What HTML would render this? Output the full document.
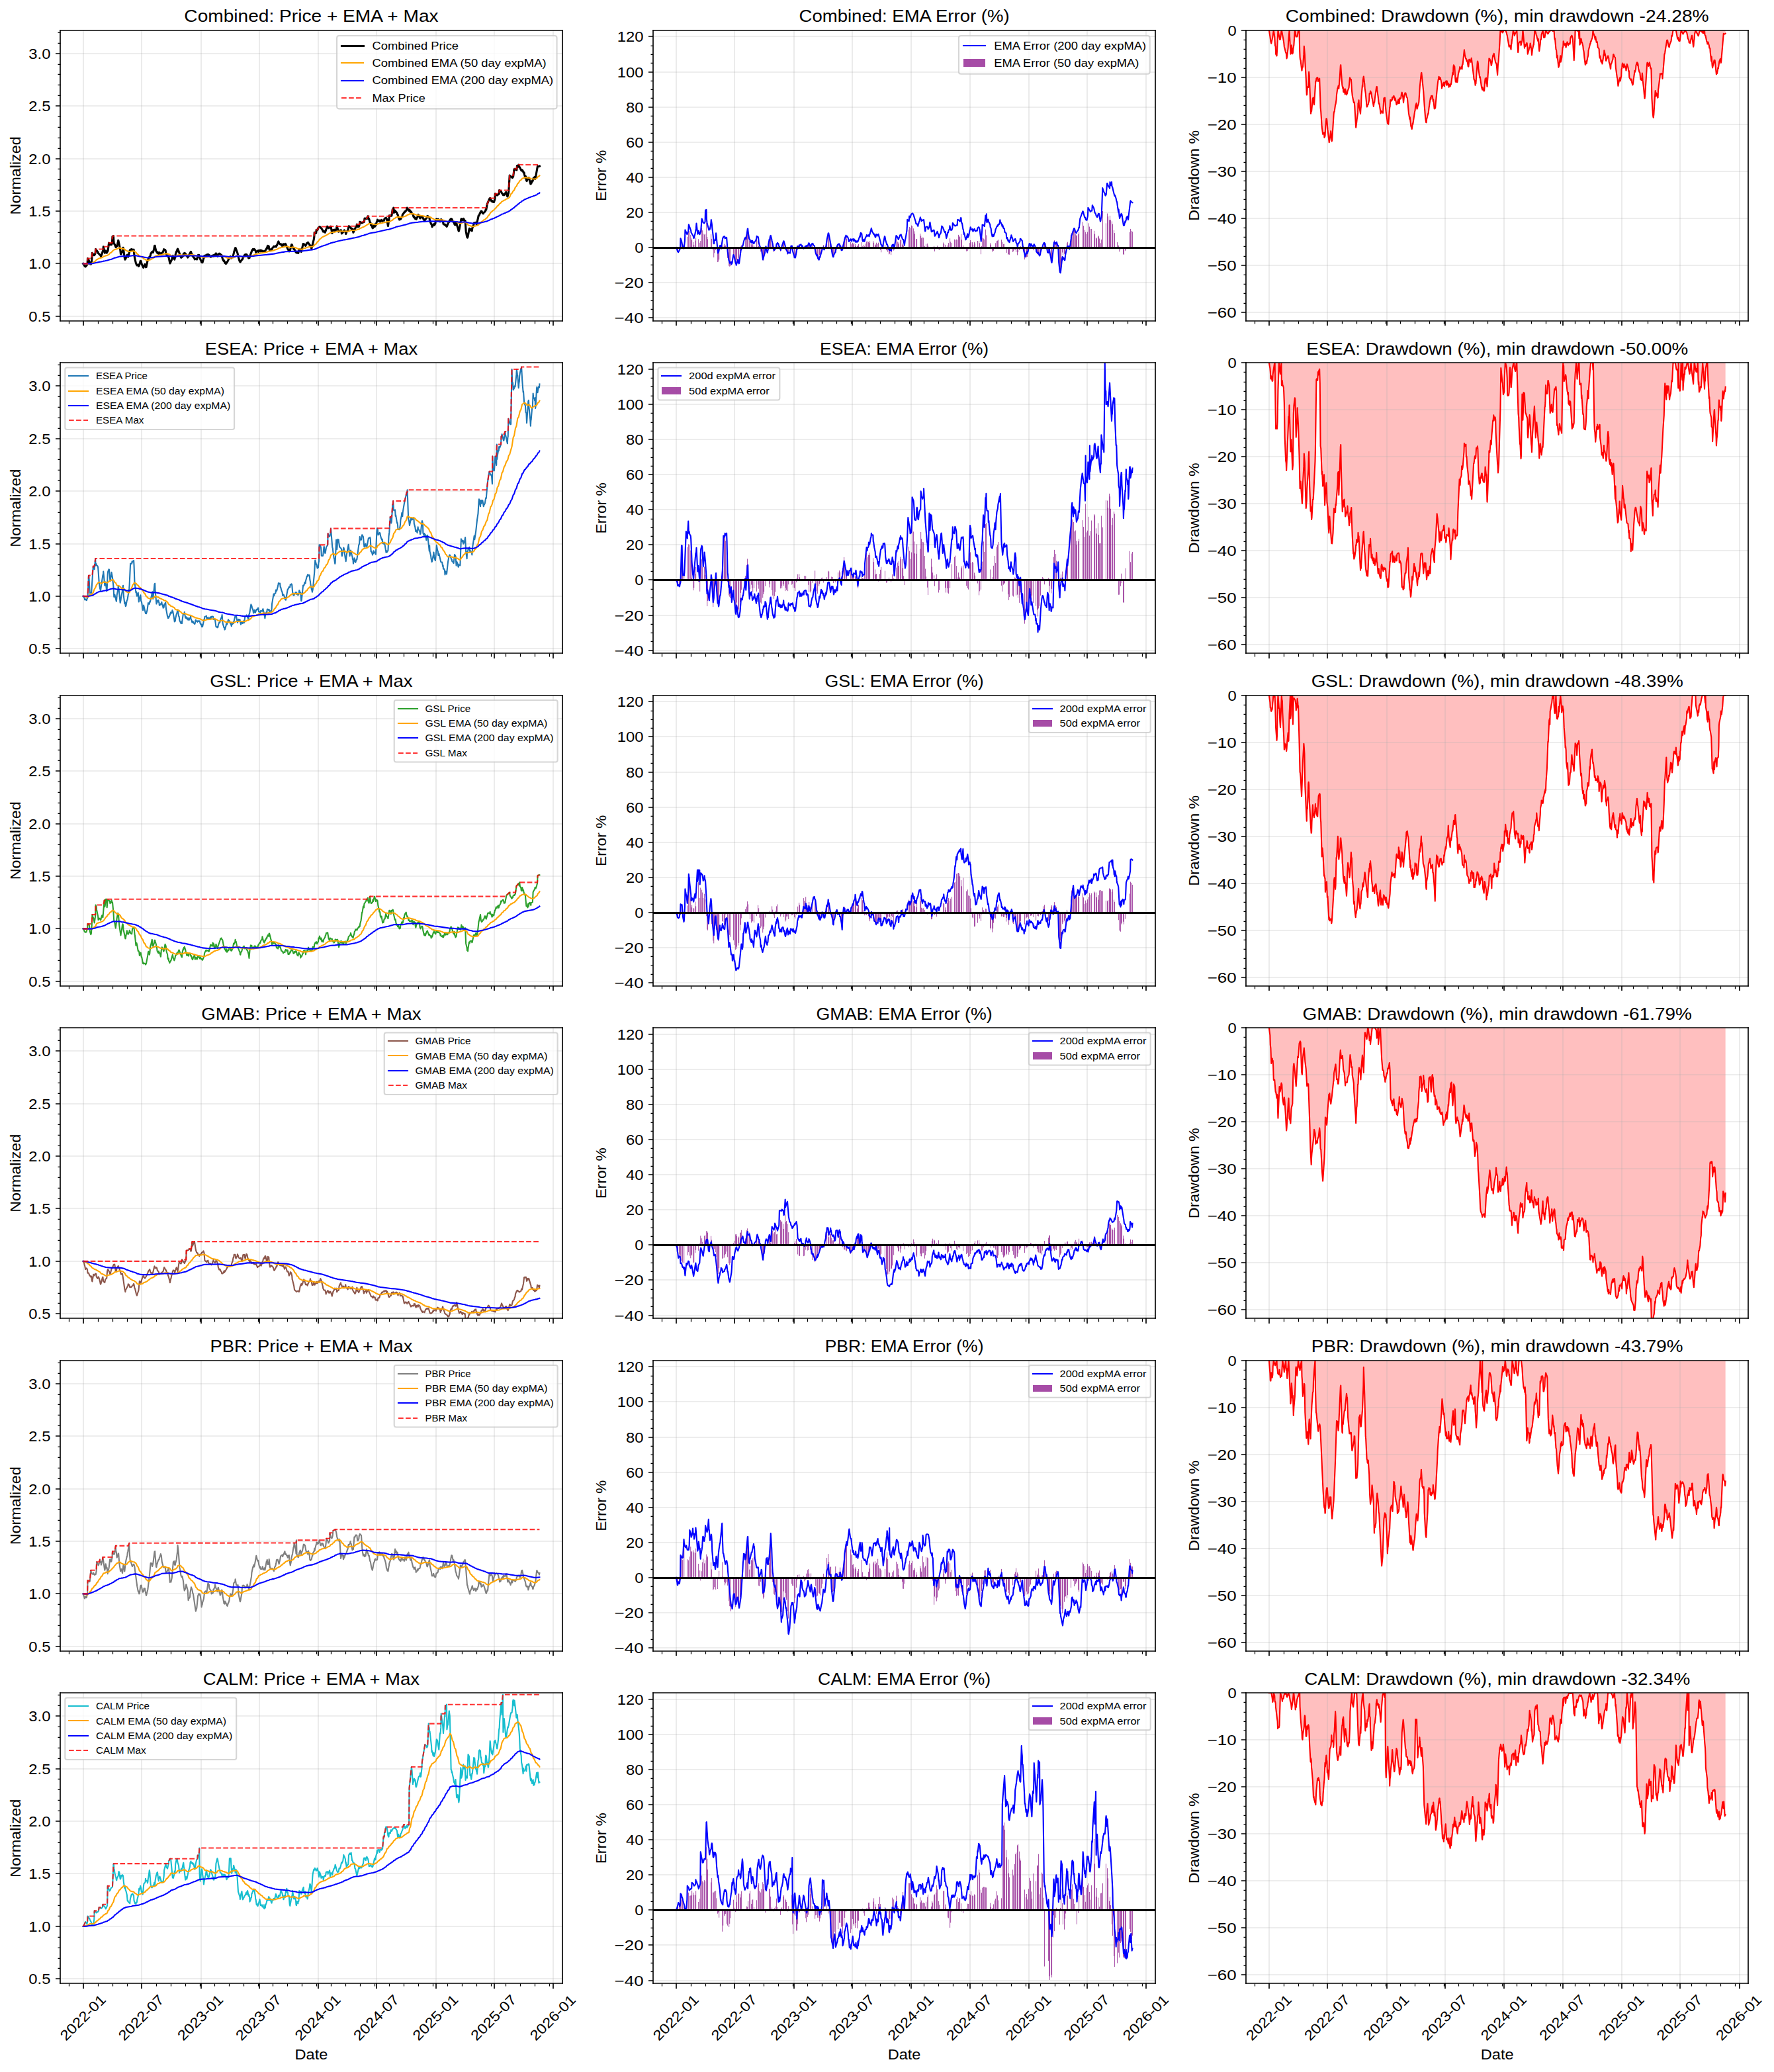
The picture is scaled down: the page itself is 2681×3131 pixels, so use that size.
<!DOCTYPE html><html><head><meta charset="utf-8"><title>Price EMA Drawdown</title><style>html,body{margin:0;padding:0;background:#fff;width:2681px;height:3131px;overflow:hidden}svg{display:block}</style></head><body><svg width="2681.445" height="3131" viewBox="0 0.3739 1287.093726 1502.8800"><defs><style type="text/css">*{stroke-linejoin:round;stroke-linecap:butt}text{font-family:"Liberation Sans",sans-serif}.c0{font-size:10.3px;text-anchor:end}.c1{fill:none;stroke:#000000;stroke-width:0.8;stroke-linejoin:miter;stroke-linecap:square}.c2{font-size:7.21px;text-anchor:start}.c3{font-size:10.3px}.c4{font-size:10.3px;text-anchor:middle}.c5{fill:#ffffff}.c6{font-size:12.36px;text-anchor:middle}.c7{fill:none;stroke:#b0b0b0;stroke-opacity:0.3;stroke-width:0.8;stroke-linecap:square;clip-path:url(#p397197523c)}.c8{fill:none;stroke:#b0b0b0;stroke-opacity:0.3;stroke-width:0.8;stroke-linecap:square;clip-path:url(#p67d664b031)}.c9{fill:none;stroke:#b0b0b0;stroke-opacity:0.3;stroke-width:0.8;stroke-linecap:square;clip-path:url(#pc9510ec6dc)}.c10{fill:none;stroke:#b0b0b0;stroke-opacity:0.3;stroke-width:0.8;stroke-linecap:square;clip-path:url(#p1cf3fc685e)}.c11{fill:none;stroke:#b0b0b0;stroke-opacity:0.3;stroke-width:0.8;stroke-linecap:square;clip-path:url(#p5504c2c820)}.c12{fill:none;stroke:#b0b0b0;stroke-opacity:0.3;stroke-width:0.8;stroke-linecap:square;clip-path:url(#p842e12cd27)}.c13{fill:none;stroke:#b0b0b0;stroke-opacity:0.3;stroke-width:0.8;stroke-linecap:square;clip-path:url(#pc22fca0723)}.c14{fill:none;stroke:#b0b0b0;stroke-opacity:0.3;stroke-width:0.8;stroke-linecap:square;clip-path:url(#p8021e7059d)}.c15{fill:none;stroke:#b0b0b0;stroke-opacity:0.3;stroke-width:0.8;stroke-linecap:square;clip-path:url(#pabe7ba468a)}.c16{fill:none;stroke:#b0b0b0;stroke-opacity:0.3;stroke-width:0.8;stroke-linecap:square;clip-path:url(#pd025329bad)}.c17{fill:none;stroke:#b0b0b0;stroke-opacity:0.3;stroke-width:0.8;stroke-linecap:square;clip-path:url(#paca8a204ca)}.c18{fill:none;stroke:#b0b0b0;stroke-opacity:0.3;stroke-width:0.8;stroke-linecap:square;clip-path:url(#p06ddb4ae2d)}.c19{fill:none;stroke:#b0b0b0;stroke-opacity:0.3;stroke-width:0.8;stroke-linecap:square;clip-path:url(#pc4d85e0ccc)}.c20{fill:none;stroke:#b0b0b0;stroke-opacity:0.3;stroke-width:0.8;stroke-linecap:square;clip-path:url(#p60d9bf6f06)}.c21{fill:none;stroke:#b0b0b0;stroke-opacity:0.3;stroke-width:0.8;stroke-linecap:square;clip-path:url(#pe2675835e2)}.c22{fill:none;stroke:#b0b0b0;stroke-opacity:0.3;stroke-width:0.8;stroke-linecap:square;clip-path:url(#p3d0efd7cfc)}.c23{fill:none;stroke:#b0b0b0;stroke-opacity:0.3;stroke-width:0.8;stroke-linecap:square;clip-path:url(#pde26894b99)}.c24{fill:none;stroke:#b0b0b0;stroke-opacity:0.3;stroke-width:0.8;stroke-linecap:square;clip-path:url(#p33f57dc657)}.c25{fill:#ffffff;opacity:0.8;stroke:#cccccc;stroke-linejoin:miter}.c26{fill:none;stroke:#0000ff;stroke-linecap:square}.c27{font-size:8.24px;text-anchor:start}.c28{fill:none;stroke:#ffa500;stroke-linecap:square}.c29{fill:none;stroke-dasharray:3.7,1.6;stroke-dashoffset:0;stroke:#ff0000;stroke-opacity:0.8}.c30{fill:#800080;opacity:0.7}.c31{fill:#ff0000;fill-opacity:0.25}.c32{stroke:#000000;stroke-width:0.8}.c33{stroke:#000000;stroke-width:0.6}</style></defs><path d="M0 1503.25l1286.88 0 0-1503.36-1286.88 0z" class="c5"/><path d="M43.68 233.17l364.32 0 0-210.72-364.32 0z" class="c5"/><path d="M60.48 233.17v-210.72" class="c19"/><defs><path id="m7c25c535dc" d="M0 0v3.5" class="c32"/></defs><path d="M60.48 233.17v3.36M102.72 233.17v3.36M145.92 233.17v3.36M188.16 233.17v3.36M230.88 233.17v3.36M273.12 233.17v3.36M316.32 233.17v3.36M358.56 233.17v3.36M401.28 233.17v3.36M490.56 233.17v3.36M532.8 233.17v3.36M576 233.17v3.36M618.24 233.17v3.36M660.96 233.17v3.36M703.68 233.17v3.36M746.4 233.17v3.36M788.64 233.17v3.36M831.36 233.17v3.36M920.64 233.17v3.36M962.88 233.17v3.36M1006.08 233.17v3.36M1048.32 233.17v3.36M1091.04 233.17v3.36M1133.76 233.17v3.36M1176.48 233.17v3.36M1218.72 233.17v3.36M1261.92 233.17v3.36M60.48 474.13v3.84M102.72 474.13v3.84M145.92 474.13v3.84M188.16 474.13v3.84M230.88 474.13v3.84M273.12 474.13v3.84M316.32 474.13v3.84M358.56 474.13v3.84M401.28 474.13v3.84M490.56 474.13v3.84M532.8 474.13v3.84M576 474.13v3.84M618.24 474.13v3.84M660.96 474.13v3.84M703.68 474.13v3.84M746.4 474.13v3.84M788.64 474.13v3.84M831.36 474.13v3.84M920.64 474.13v3.84M962.88 474.13v3.84M1006.08 474.13v3.84M1048.32 474.13v3.84M1091.04 474.13v3.84M1133.76 474.13v3.84M1176.48 474.13v3.84M1218.72 474.13v3.84M1261.92 474.13v3.84M60.48 715.57v3.36M102.72 715.57v3.36M145.92 715.57v3.36M188.16 715.57v3.36M230.88 715.57v3.36M273.12 715.57v3.36M316.32 715.57v3.36M358.56 715.57v3.36M401.28 715.57v3.36M490.56 715.57v3.36M532.8 715.57v3.36M576 715.57v3.36M618.24 715.57v3.36M660.96 715.57v3.36M703.68 715.57v3.36M746.4 715.57v3.36M788.64 715.57v3.36M831.36 715.57v3.36M920.64 715.57v3.36M962.88 715.57v3.36M1006.08 715.57v3.36M1048.32 715.57v3.36M1091.04 715.57v3.36M1133.76 715.57v3.36M1176.48 715.57v3.36M1218.72 715.57v3.36M1261.92 715.57v3.36M60.48 956.53v3.84M102.72 956.53v3.84M145.92 956.53v3.84M188.16 956.53v3.84M230.88 956.53v3.84M273.12 956.53v3.84M316.32 956.53v3.84M358.56 956.53v3.84M401.28 956.53v3.84M490.56 956.53v3.84M532.8 956.53v3.84M576 956.53v3.84M618.24 956.53v3.84M660.96 956.53v3.84M703.68 956.53v3.84M746.4 956.53v3.84M788.64 956.53v3.84M831.36 956.53v3.84M920.64 956.53v3.84M962.88 956.53v3.84M1006.08 956.53v3.84M1048.32 956.53v3.84M1091.04 956.53v3.84M1133.76 956.53v3.84M1176.48 956.53v3.84M1218.72 956.53v3.84M1261.92 956.53v3.84M60.48 1197.97v3.36M102.72 1197.97v3.36M145.92 1197.97v3.36M188.16 1197.97v3.36M230.88 1197.97v3.36M273.12 1197.97v3.36M316.32 1197.97v3.36M358.56 1197.97v3.36M401.28 1197.97v3.36M490.56 1197.97v3.36M532.8 1197.97v3.36M576 1197.97v3.36M618.24 1197.97v3.36M660.96 1197.97v3.36M703.68 1197.97v3.36M746.4 1197.97v3.36M788.64 1197.97v3.36M831.36 1197.97v3.36M920.64 1197.97v3.36M962.88 1197.97v3.36M1006.08 1197.97v3.36M1048.32 1197.97v3.36M1091.04 1197.97v3.36M1133.76 1197.97v3.36M1176.48 1197.97v3.36M1218.72 1197.97v3.36M1261.92 1197.97v3.36M60.48 1438.93v3.84M102.72 1438.93v3.84M145.92 1438.93v3.84M188.16 1438.93v3.84M230.88 1438.93v3.84M273.12 1438.93v3.84M316.32 1438.93v3.84M358.56 1438.93v3.84M401.28 1438.93v3.84M490.56 1438.93v3.84M532.8 1438.93v3.84M576 1438.93v3.84M618.24 1438.93v3.84M660.96 1438.93v3.84M703.68 1438.93v3.84M746.4 1438.93v3.84M788.64 1438.93v3.84M831.36 1438.93v3.84M920.64 1438.93v3.84M962.88 1438.93v3.84M1006.08 1438.93v3.84M1048.32 1438.93v3.84M1091.04 1438.93v3.84M1133.76 1438.93v3.84M1176.48 1438.93v3.84M1218.72 1438.93v3.84M1261.92 1438.93v3.84" class="c32"/><path d="M102.72 233.17v-210.72" class="c19"/><path d="M145.92 233.17v-210.72" class="c19"/><path d="M188.16 233.17v-210.72" class="c19"/><path d="M230.88 233.17v-210.72" class="c19"/><path d="M273.12 233.17v-210.72" class="c19"/><path d="M316.32 233.17v-210.72" class="c19"/><path d="M358.56 233.17v-210.72" class="c19"/><path d="M401.28 233.17v-210.72" class="c19"/><defs><path id="m0d65b069a9" d="M0 0v2" class="c33"/></defs><path d="M50.16 233.41v1.92M71.28 233.41v1.92M81.84 233.41v1.92M92.4 233.41v1.92M113.52 233.41v1.92M124.08 233.41v1.92M134.64 233.41v1.92M145.2 233.41v1.92M155.76 233.41v1.92M166.32 233.41v1.92M176.88 233.41v1.92M187.44 233.41v1.92M198 233.41v1.92M208.56 233.41v1.92M219.12 233.41v1.92M229.68 233.41v1.92M240.24 233.41v1.92M250.8 233.41v1.92M261.36 233.41v1.92M271.92 233.41v1.92M282.48 233.41v1.92M293.04 233.41v1.92M303.6 233.41v1.92M314.16 233.41v1.92M324.72 233.41v1.92M335.28 233.41v1.92M345.84 233.41v1.92M356.4 233.41v1.92M366.96 233.41v1.92M377.52 233.41v1.92M388.08 233.41v1.92M398.64 233.41v1.92M480.24 233.41v1.92M501.36 233.41v1.92M511.92 233.41v1.92M522.48 233.41v1.92M543.6 233.41v1.92M554.16 233.41v1.92M564.72 233.41v1.92M575.28 233.41v1.92M585.84 233.41v1.92M596.4 233.41v1.92M606.96 233.41v1.92M617.52 233.41v1.92M628.08 233.41v1.92M638.64 233.41v1.92M649.2 233.41v1.92M659.76 233.41v1.92M670.32 233.41v1.92M680.88 233.41v1.92M691.44 233.41v1.92M702 233.41v1.92M712.56 233.41v1.92M723.12 233.41v1.92M733.68 233.41v1.92M744.24 233.41v1.92M754.8 233.41v1.92M765.36 233.41v1.92M775.92 233.41v1.92M786.48 233.41v1.92M797.04 233.41v1.92M807.6 233.41v1.92M818.16 233.41v1.92M828.72 233.41v1.92M910.32 233.41v1.92M931.44 233.41v1.92M942 233.41v1.92M952.56 233.41v1.92M973.68 233.41v1.92M984.24 233.41v1.92M994.8 233.41v1.92M1005.36 233.41v1.92M1015.92 233.41v1.92M1026.48 233.41v1.92M1037.04 233.41v1.92M1047.6 233.41v1.92M1058.16 233.41v1.92M1068.72 233.41v1.92M1079.28 233.41v1.92M1089.84 233.41v1.92M1100.4 233.41v1.92M1110.96 233.41v1.92M1121.52 233.41v1.92M1132.08 233.41v1.92M1142.64 233.41v1.92M1153.2 233.41v1.92M1163.76 233.41v1.92M1174.32 233.41v1.92M1184.88 233.41v1.92M1195.44 233.41v1.92M1206 233.41v1.92M1216.56 233.41v1.92M1227.12 233.41v1.92M1237.68 233.41v1.92M1248.24 233.41v1.92M1258.8 233.41v1.92M50.16 474.37v2.4M71.28 474.37v2.4M81.84 474.37v2.4M92.4 474.37v2.4M113.52 474.37v2.4M124.08 474.37v2.4M134.64 474.37v2.4M145.2 474.37v2.4M155.76 474.37v2.4M166.32 474.37v2.4M176.88 474.37v2.4M187.44 474.37v2.4M198 474.37v2.4M208.56 474.37v2.4M219.12 474.37v2.4M229.68 474.37v2.4M240.24 474.37v2.4M250.8 474.37v2.4M261.36 474.37v2.4M271.92 474.37v2.4M282.48 474.37v2.4M293.04 474.37v2.4M303.6 474.37v2.4M314.16 474.37v2.4M324.72 474.37v2.4M335.28 474.37v2.4M345.84 474.37v2.4M356.4 474.37v2.4M366.96 474.37v2.4M377.52 474.37v2.4M388.08 474.37v2.4M398.64 474.37v2.4M480.24 474.37v2.4M501.36 474.37v2.4M511.92 474.37v2.4M522.48 474.37v2.4M543.6 474.37v2.4M554.16 474.37v2.4M564.72 474.37v2.4M575.28 474.37v2.4M585.84 474.37v2.4M596.4 474.37v2.4M606.96 474.37v2.4M617.52 474.37v2.4M628.08 474.37v2.4M638.64 474.37v2.4M649.2 474.37v2.4M659.76 474.37v2.4M670.32 474.37v2.4M680.88 474.37v2.4M691.44 474.37v2.4M702 474.37v2.4M712.56 474.37v2.4M723.12 474.37v2.4M733.68 474.37v2.4M744.24 474.37v2.4M754.8 474.37v2.4M765.36 474.37v2.4M775.92 474.37v2.4M786.48 474.37v2.4M797.04 474.37v2.4M807.6 474.37v2.4M818.16 474.37v2.4M828.72 474.37v2.4M910.32 474.37v2.4M931.44 474.37v2.4M942 474.37v2.4M952.56 474.37v2.4M973.68 474.37v2.4M984.24 474.37v2.4M994.8 474.37v2.4M1005.36 474.37v2.4M1015.92 474.37v2.4M1026.48 474.37v2.4M1037.04 474.37v2.4M1047.6 474.37v2.4M1058.16 474.37v2.4M1068.72 474.37v2.4M1079.28 474.37v2.4M1089.84 474.37v2.4M1100.4 474.37v2.4M1110.96 474.37v2.4M1121.52 474.37v2.4M1132.08 474.37v2.4M1142.64 474.37v2.4M1153.2 474.37v2.4M1163.76 474.37v2.4M1174.32 474.37v2.4M1184.88 474.37v2.4M1195.44 474.37v2.4M1206 474.37v2.4M1216.56 474.37v2.4M1227.12 474.37v2.4M1237.68 474.37v2.4M1248.24 474.37v2.4M1258.8 474.37v2.4M50.16 715.81v1.92M71.28 715.81v1.92M81.84 715.81v1.92M92.4 715.81v1.92M113.52 715.81v1.92M124.08 715.81v1.92M134.64 715.81v1.92M145.2 715.81v1.92M155.76 715.81v1.92M166.32 715.81v1.92M176.88 715.81v1.92M187.44 715.81v1.92M198 715.81v1.92M208.56 715.81v1.92M219.12 715.81v1.92M229.68 715.81v1.92M240.24 715.81v1.92M250.8 715.81v1.92M261.36 715.81v1.92M271.92 715.81v1.92M282.48 715.81v1.92M293.04 715.81v1.92M303.6 715.81v1.92M314.16 715.81v1.92M324.72 715.81v1.92M335.28 715.81v1.92M345.84 715.81v1.92M356.4 715.81v1.92M366.96 715.81v1.92M377.52 715.81v1.92M388.08 715.81v1.92M398.64 715.81v1.92M480.24 715.81v1.92M501.36 715.81v1.92M511.92 715.81v1.92M522.48 715.81v1.92M543.6 715.81v1.92M554.16 715.81v1.92M564.72 715.81v1.92M575.28 715.81v1.92M585.84 715.81v1.92M596.4 715.81v1.92M606.96 715.81v1.92M617.52 715.81v1.92M628.08 715.81v1.92M638.64 715.81v1.92M649.2 715.81v1.92M659.76 715.81v1.92M670.32 715.81v1.92M680.88 715.81v1.92M691.44 715.81v1.92M702 715.81v1.92M712.56 715.81v1.92M723.12 715.81v1.92M733.68 715.81v1.92M744.24 715.81v1.92M754.8 715.81v1.92M765.36 715.81v1.92M775.92 715.81v1.92M786.48 715.81v1.92M797.04 715.81v1.92M807.6 715.81v1.92M818.16 715.81v1.92M828.72 715.81v1.92M910.32 715.81v1.92M931.44 715.81v1.92M942 715.81v1.92M952.56 715.81v1.92M973.68 715.81v1.92M984.24 715.81v1.92M994.8 715.81v1.92M1005.36 715.81v1.92M1015.92 715.81v1.92M1026.48 715.81v1.92M1037.04 715.81v1.92M1047.6 715.81v1.92M1058.16 715.81v1.92M1068.72 715.81v1.92M1079.28 715.81v1.92M1089.84 715.81v1.92M1100.4 715.81v1.92M1110.96 715.81v1.92M1121.52 715.81v1.92M1132.08 715.81v1.92M1142.64 715.81v1.92M1153.2 715.81v1.92M1163.76 715.81v1.92M1174.32 715.81v1.92M1184.88 715.81v1.92M1195.44 715.81v1.92M1206 715.81v1.92M1216.56 715.81v1.92M1227.12 715.81v1.92M1237.68 715.81v1.92M1248.24 715.81v1.92M1258.8 715.81v1.92M50.16 956.77v2.4M71.28 956.77v2.4M81.84 956.77v2.4M92.4 956.77v2.4M113.52 956.77v2.4M124.08 956.77v2.4M134.64 956.77v2.4M145.2 956.77v2.4M155.76 956.77v2.4M166.32 956.77v2.4M176.88 956.77v2.4M187.44 956.77v2.4M198 956.77v2.4M208.56 956.77v2.4M219.12 956.77v2.4M229.68 956.77v2.4M240.24 956.77v2.4M250.8 956.77v2.4M261.36 956.77v2.4M271.92 956.77v2.4M282.48 956.77v2.4M293.04 956.77v2.4M303.6 956.77v2.4M314.16 956.77v2.4M324.72 956.77v2.4M335.28 956.77v2.4M345.84 956.77v2.4M356.4 956.77v2.4M366.96 956.77v2.4M377.52 956.77v2.4M388.08 956.77v2.4M398.64 956.77v2.4M480.24 956.77v2.4M501.36 956.77v2.4M511.92 956.77v2.4M522.48 956.77v2.4M543.6 956.77v2.4M554.16 956.77v2.4M564.72 956.77v2.4M575.28 956.77v2.4M585.84 956.77v2.4M596.4 956.77v2.4M606.96 956.77v2.4M617.52 956.77v2.4M628.08 956.77v2.4M638.64 956.77v2.4M649.2 956.77v2.4M659.76 956.77v2.4M670.32 956.77v2.4M680.88 956.77v2.4M691.44 956.77v2.4M702 956.77v2.4M712.56 956.77v2.4M723.12 956.77v2.4M733.68 956.77v2.4M744.24 956.77v2.4M754.8 956.77v2.4M765.36 956.77v2.4M775.92 956.77v2.4M786.48 956.77v2.4M797.04 956.77v2.4M807.6 956.77v2.4M818.16 956.77v2.4M828.72 956.77v2.4M910.32 956.77v2.4M931.44 956.77v2.4M942 956.77v2.4M952.56 956.77v2.4M973.68 956.77v2.4M984.24 956.77v2.4M994.8 956.77v2.4M1005.36 956.77v2.4M1015.92 956.77v2.4M1026.48 956.77v2.4M1037.04 956.77v2.4M1047.6 956.77v2.4M1058.16 956.77v2.4M1068.72 956.77v2.4M1079.28 956.77v2.4M1089.84 956.77v2.4M1100.4 956.77v2.4M1110.96 956.77v2.4M1121.52 956.77v2.4M1132.08 956.77v2.4M1142.64 956.77v2.4M1153.2 956.77v2.4M1163.76 956.77v2.4M1174.32 956.77v2.4M1184.88 956.77v2.4M1195.44 956.77v2.4M1206 956.77v2.4M1216.56 956.77v2.4M1227.12 956.77v2.4M1237.68 956.77v2.4M1248.24 956.77v2.4M1258.8 956.77v2.4M50.16 1198.21v1.92M71.28 1198.21v1.92M81.84 1198.21v1.92M92.4 1198.21v1.92M113.52 1198.21v1.92M124.08 1198.21v1.92M134.64 1198.21v1.92M145.2 1198.21v1.92M155.76 1198.21v1.92M166.32 1198.21v1.92M176.88 1198.21v1.92M187.44 1198.21v1.92M198 1198.21v1.92M208.56 1198.21v1.92M219.12 1198.21v1.92M229.68 1198.21v1.92M240.24 1198.21v1.92M250.8 1198.21v1.92M261.36 1198.21v1.92M271.92 1198.21v1.92M282.48 1198.21v1.92M293.04 1198.21v1.92M303.6 1198.21v1.92M314.16 1198.21v1.92M324.72 1198.21v1.92M335.28 1198.21v1.92M345.84 1198.21v1.92M356.4 1198.21v1.92M366.96 1198.21v1.92M377.52 1198.21v1.92M388.08 1198.21v1.92M398.64 1198.21v1.92M480.24 1198.21v1.92M501.36 1198.21v1.92M511.92 1198.21v1.92M522.48 1198.21v1.92M543.6 1198.21v1.92M554.16 1198.21v1.92M564.72 1198.21v1.92M575.28 1198.21v1.92M585.84 1198.21v1.92M596.4 1198.21v1.92M606.96 1198.21v1.92M617.52 1198.21v1.92M628.08 1198.21v1.92M638.64 1198.21v1.92M649.2 1198.21v1.92M659.76 1198.21v1.92M670.32 1198.21v1.92M680.88 1198.21v1.92M691.44 1198.21v1.92M702 1198.21v1.92M712.56 1198.21v1.92M723.12 1198.21v1.92M733.68 1198.21v1.92M744.24 1198.21v1.92M754.8 1198.21v1.92M765.36 1198.21v1.92M775.92 1198.21v1.92M786.48 1198.21v1.92M797.04 1198.21v1.92M807.6 1198.21v1.92M818.16 1198.21v1.92M828.72 1198.21v1.92M910.32 1198.21v1.92M931.44 1198.21v1.92M942 1198.21v1.92M952.56 1198.21v1.92M973.68 1198.21v1.92M984.24 1198.21v1.92M994.8 1198.21v1.92M1005.36 1198.21v1.92M1015.92 1198.21v1.92M1026.48 1198.21v1.92M1037.04 1198.21v1.92M1047.6 1198.21v1.92M1058.16 1198.21v1.92M1068.72 1198.21v1.92M1079.28 1198.21v1.92M1089.84 1198.21v1.92M1100.4 1198.21v1.92M1110.96 1198.21v1.92M1121.52 1198.21v1.92M1132.08 1198.21v1.92M1142.64 1198.21v1.92M1153.2 1198.21v1.92M1163.76 1198.21v1.92M1174.32 1198.21v1.92M1184.88 1198.21v1.92M1195.44 1198.21v1.92M1206 1198.21v1.92M1216.56 1198.21v1.92M1227.12 1198.21v1.92M1237.68 1198.21v1.92M1248.24 1198.21v1.92M1258.8 1198.21v1.92M50.16 1439.17v1.92M71.28 1439.17v1.92M81.84 1439.17v1.92M92.4 1439.17v1.92M113.52 1439.17v1.92M124.08 1439.17v1.92M134.64 1439.17v1.92M145.2 1439.17v1.92M155.76 1439.17v1.92M166.32 1439.17v1.92M176.88 1439.17v1.92M187.44 1439.17v1.92M198 1439.17v1.92M208.56 1439.17v1.92M219.12 1439.17v1.92M229.68 1439.17v1.92M240.24 1439.17v1.92M250.8 1439.17v1.92M261.36 1439.17v1.92M271.92 1439.17v1.92M282.48 1439.17v1.92M293.04 1439.17v1.92M303.6 1439.17v1.92M314.16 1439.17v1.92M324.72 1439.17v1.92M335.28 1439.17v1.92M345.84 1439.17v1.92M356.4 1439.17v1.92M366.96 1439.17v1.92M377.52 1439.17v1.92M388.08 1439.17v1.92M398.64 1439.17v1.92M480.24 1439.17v1.92M501.36 1439.17v1.92M511.92 1439.17v1.92M522.48 1439.17v1.92M543.6 1439.17v1.92M554.16 1439.17v1.92M564.72 1439.17v1.92M575.28 1439.17v1.92M585.84 1439.17v1.92M596.4 1439.17v1.92M606.96 1439.17v1.92M617.52 1439.17v1.92M628.08 1439.17v1.92M638.64 1439.17v1.92M649.2 1439.17v1.92M659.76 1439.17v1.92M670.32 1439.17v1.92M680.88 1439.17v1.92M691.44 1439.17v1.92M702 1439.17v1.92M712.56 1439.17v1.92M723.12 1439.17v1.92M733.68 1439.17v1.92M744.24 1439.17v1.92M754.8 1439.17v1.92M765.36 1439.17v1.92M775.92 1439.17v1.92M786.48 1439.17v1.92M797.04 1439.17v1.92M807.6 1439.17v1.92M818.16 1439.17v1.92M828.72 1439.17v1.92M910.32 1439.17v1.92M931.44 1439.17v1.92M942 1439.17v1.92M952.56 1439.17v1.92M973.68 1439.17v1.92M984.24 1439.17v1.92M994.8 1439.17v1.92M1005.36 1439.17v1.92M1015.92 1439.17v1.92M1026.48 1439.17v1.92M1037.04 1439.17v1.92M1047.6 1439.17v1.92M1058.16 1439.17v1.92M1068.72 1439.17v1.92M1079.28 1439.17v1.92M1089.84 1439.17v1.92M1100.4 1439.17v1.92M1110.96 1439.17v1.92M1121.52 1439.17v1.92M1132.08 1439.17v1.92M1142.64 1439.17v1.92M1153.2 1439.17v1.92M1163.76 1439.17v1.92M1174.32 1439.17v1.92M1184.88 1439.17v1.92M1195.44 1439.17v1.92M1206 1439.17v1.92M1216.56 1439.17v1.92M1227.12 1439.17v1.92M1237.68 1439.17v1.92M1248.24 1439.17v1.92M1258.8 1439.17v1.92" class="c33"/><path d="M43.68 229.81l364.32 0" class="c19"/><defs><path id="mb258c49b38" d="M0 0l-3.5 0" class="c32"/></defs><path d="M43.68 229.81l-3.36 0M43.68 191.41l-3.36 0M43.68 153.49l-3.36 0M43.68 115.57l-3.36 0M43.68 77.17l-3.36 0M43.68 39.25l-3.36 0M473.76 230.77l-3.36 0M473.76 205.33l-3.36 0M473.76 179.89l-3.36 0M473.76 154.45l-3.36 0M473.76 129.01l-3.36 0M473.76 103.57l-3.36 0M473.76 78.13l-3.36 0M473.76 52.69l-3.36 0M473.76 26.77l-3.36 0M903.84 226.93l-3.36 0M903.84 192.85l-3.36 0M903.84 158.77l-3.36 0M903.84 124.69l-3.36 0M903.84 90.61l-3.36 0M903.84 56.53l-3.36 0M903.84 22.45l-3.36 0M43.68 470.77l-3.36 0M43.68 432.85l-3.36 0M43.68 394.93l-3.36 0M43.68 356.53l-3.36 0M43.68 318.61l-3.36 0M43.68 280.21l-3.36 0M473.76 472.21l-3.36 0M473.76 446.77l-3.36 0M473.76 420.85l-3.36 0M473.76 395.41l-3.36 0M473.76 369.97l-3.36 0M473.76 344.53l-3.36 0M473.76 319.09l-3.36 0M473.76 293.65l-3.36 0M473.76 268.21l-3.36 0M903.84 467.89l-3.36 0M903.84 433.81l-3.36 0M903.84 399.73l-3.36 0M903.84 365.65l-3.36 0M903.84 331.57l-3.36 0M903.84 297.49l-3.36 0M903.84 263.41l-3.36 0M43.68 712.21l-3.36 0M43.68 673.81l-3.36 0M43.68 635.89l-3.36 0M43.68 597.97l-3.36 0M43.68 559.57l-3.36 0M43.68 521.65l-3.36 0M473.76 713.17l-3.36 0M473.76 687.73l-3.36 0M473.76 662.29l-3.36 0M473.76 636.85l-3.36 0M473.76 611.41l-3.36 0M473.76 585.97l-3.36 0M473.76 560.53l-3.36 0M473.76 534.61l-3.36 0M473.76 509.17l-3.36 0M903.84 709.33l-3.36 0M903.84 675.25l-3.36 0M903.84 641.17l-3.36 0M903.84 607.09l-3.36 0M903.84 573.01l-3.36 0M903.84 538.93l-3.36 0M903.84 504.85l-3.36 0M43.68 953.17l-3.36 0M43.68 915.25l-3.36 0M43.68 876.85l-3.36 0M43.68 838.93l-3.36 0M43.68 801.01l-3.36 0M43.68 762.61l-3.36 0M473.76 954.61l-3.36 0M473.76 928.69l-3.36 0M473.76 903.25l-3.36 0M473.76 877.81l-3.36 0M473.76 852.37l-3.36 0M473.76 826.93l-3.36 0M473.76 801.49l-3.36 0M473.76 776.05l-3.36 0M473.76 750.61l-3.36 0M903.84 950.29l-3.36 0M903.84 916.21l-3.36 0M903.84 882.13l-3.36 0M903.84 848.05l-3.36 0M903.84 813.97l-3.36 0M903.84 779.89l-3.36 0M903.84 745.81l-3.36 0M43.68 1194.61l-3.36 0M43.68 1156.21l-3.36 0M43.68 1118.29l-3.36 0M43.68 1080.37l-3.36 0M43.68 1041.97l-3.36 0M43.68 1004.05l-3.36 0M473.76 1195.57l-3.36 0M473.76 1170.13l-3.36 0M473.76 1144.69l-3.36 0M473.76 1119.25l-3.36 0M473.76 1093.81l-3.36 0M473.76 1068.37l-3.36 0M473.76 1042.93l-3.36 0M473.76 1017.01l-3.36 0M473.76 991.57l-3.36 0M903.84 1191.73l-3.36 0M903.84 1157.65l-3.36 0M903.84 1123.57l-3.36 0M903.84 1089.49l-3.36 0M903.84 1055.41l-3.36 0M903.84 1021.33l-3.36 0M903.84 987.25l-3.36 0M43.68 1435.57l-3.36 0M43.68 1397.65l-3.36 0M43.68 1359.25l-3.36 0M43.68 1321.33l-3.36 0M43.68 1283.41l-3.36 0M43.68 1245.01l-3.36 0M473.76 1437.01l-3.36 0M473.76 1411.09l-3.36 0M473.76 1385.65l-3.36 0M473.76 1360.21l-3.36 0M473.76 1334.77l-3.36 0M473.76 1309.33l-3.36 0M473.76 1283.89l-3.36 0M473.76 1258.45l-3.36 0M473.76 1233.01l-3.36 0M903.84 1432.69l-3.36 0M903.84 1398.61l-3.36 0M903.84 1364.53l-3.36 0M903.84 1330.45l-3.36 0M903.84 1296.37l-3.36 0M903.84 1262.29l-3.36 0M903.84 1228.21l-3.36 0" class="c32"/><text x="36.7" y="233.62" textLength="15.9" lengthAdjust="spacingAndGlyphs" class="c0">0.5</text><path d="M43.68 191.41l364.32 0" class="c19"/><text x="36.7" y="195.48" textLength="15.9" lengthAdjust="spacingAndGlyphs" class="c0">1.0</text><path d="M43.68 153.49l364.32 0" class="c19"/><text x="36.7" y="157.35" textLength="15.9" lengthAdjust="spacingAndGlyphs" class="c0">1.5</text><path d="M43.68 115.57l364.32 0" class="c19"/><text x="36.7" y="119.21" textLength="15.9" lengthAdjust="spacingAndGlyphs" class="c0">2.0</text><path d="M43.68 77.17l364.32 0" class="c19"/><text x="36.7" y="81.07" textLength="15.9" lengthAdjust="spacingAndGlyphs" class="c0">2.5</text><path d="M43.68 39.25l364.32 0" class="c19"/><text x="36.7" y="42.94" textLength="15.9" lengthAdjust="spacingAndGlyphs" class="c0">3.0</text><defs><path id="m353c5a86b0" d="M0 0l-2 0" class="c33"/></defs><path d="M43.92 222.37l-1.92 0M43.92 214.69l-1.92 0M43.92 207.01l-1.92 0M43.92 199.33l-1.92 0M43.92 184.45l-1.92 0M43.92 176.77l-1.92 0M43.92 169.09l-1.92 0M43.92 161.41l-1.92 0M43.92 146.05l-1.92 0M43.92 138.37l-1.92 0M43.92 130.69l-1.92 0M43.92 123.01l-1.92 0M43.92 108.13l-1.92 0M43.92 100.45l-1.92 0M43.92 92.77l-1.92 0M43.92 85.09l-1.92 0M43.92 69.73l-1.92 0M43.92 62.05l-1.92 0M43.92 54.37l-1.92 0M43.92 47.17l-1.92 0M43.92 31.81l-1.92 0M43.92 24.13l-1.92 0M474 224.77l-1.92 0M474 218.53l-1.92 0M474 211.81l-1.92 0M474 199.33l-1.92 0M474 192.61l-1.92 0M474 186.37l-1.92 0M474 173.89l-1.92 0M474 167.17l-1.92 0M474 160.93l-1.92 0M474 148.45l-1.92 0M474 141.73l-1.92 0M474 135.49l-1.92 0M474 122.53l-1.92 0M474 116.29l-1.92 0M474 110.05l-1.92 0M474 97.09l-1.92 0M474 90.85l-1.92 0M474 84.61l-1.92 0M474 71.65l-1.92 0M474 65.41l-1.92 0M474 59.17l-1.92 0M474 46.21l-1.92 0M474 39.97l-1.92 0M474 33.73l-1.92 0M904.08 220.45l-1.92 0M904.08 213.25l-1.92 0M904.08 206.53l-1.92 0M904.08 199.81l-1.92 0M904.08 186.37l-1.92 0M904.08 179.17l-1.92 0M904.08 172.45l-1.92 0M904.08 165.73l-1.92 0M904.08 152.29l-1.92 0M904.08 145.09l-1.92 0M904.08 138.37l-1.92 0M904.08 131.65l-1.92 0M904.08 118.21l-1.92 0M904.08 111.01l-1.92 0M904.08 104.29l-1.92 0M904.08 97.57l-1.92 0M904.08 84.13l-1.92 0M904.08 76.93l-1.92 0M904.08 70.21l-1.92 0M904.08 63.49l-1.92 0M904.08 50.05l-1.92 0M904.08 42.85l-1.92 0M904.08 36.13l-1.92 0M904.08 29.41l-1.92 0M43.92 463.81l-1.92 0M43.92 456.13l-1.92 0M43.92 448.45l-1.92 0M43.92 440.77l-1.92 0M43.92 425.41l-1.92 0M43.92 417.73l-1.92 0M43.92 410.05l-1.92 0M43.92 402.37l-1.92 0M43.92 387.49l-1.92 0M43.92 379.81l-1.92 0M43.92 372.13l-1.92 0M43.92 364.45l-1.92 0M43.92 349.09l-1.92 0M43.92 341.41l-1.92 0M43.92 333.73l-1.92 0M43.92 326.05l-1.92 0M43.92 311.17l-1.92 0M43.92 303.49l-1.92 0M43.92 295.81l-1.92 0M43.92 288.13l-1.92 0M43.92 272.77l-1.92 0M43.92 265.09l-1.92 0M474 465.73l-1.92 0M474 459.49l-1.92 0M474 453.25l-1.92 0M474 440.29l-1.92 0M474 434.05l-1.92 0M474 427.81l-1.92 0M474 414.85l-1.92 0M474 408.61l-1.92 0M474 402.37l-1.92 0M474 389.41l-1.92 0M474 383.17l-1.92 0M474 376.93l-1.92 0M474 363.97l-1.92 0M474 357.73l-1.92 0M474 351.01l-1.92 0M474 338.53l-1.92 0M474 332.29l-1.92 0M474 325.57l-1.92 0M474 313.09l-1.92 0M474 306.85l-1.92 0M474 300.13l-1.92 0M474 287.65l-1.92 0M474 280.93l-1.92 0M474 274.69l-1.92 0M904.08 461.41l-1.92 0M904.08 454.69l-1.92 0M904.08 447.97l-1.92 0M904.08 441.25l-1.92 0M904.08 427.33l-1.92 0M904.08 420.61l-1.92 0M904.08 413.89l-1.92 0M904.08 406.69l-1.92 0M904.08 393.25l-1.92 0M904.08 386.53l-1.92 0M904.08 379.81l-1.92 0M904.08 372.61l-1.92 0M904.08 359.17l-1.92 0M904.08 352.45l-1.92 0M904.08 345.73l-1.92 0M904.08 338.53l-1.92 0M904.08 325.09l-1.92 0M904.08 318.37l-1.92 0M904.08 311.65l-1.92 0M904.08 304.45l-1.92 0M904.08 291.01l-1.92 0M904.08 284.29l-1.92 0M904.08 277.57l-1.92 0M904.08 270.37l-1.92 0M43.92 704.77l-1.92 0M43.92 697.09l-1.92 0M43.92 689.41l-1.92 0M43.92 681.73l-1.92 0M43.92 666.85l-1.92 0M43.92 659.17l-1.92 0M43.92 651.49l-1.92 0M43.92 643.81l-1.92 0M43.92 628.45l-1.92 0M43.92 620.77l-1.92 0M43.92 613.09l-1.92 0M43.92 605.41l-1.92 0M43.92 590.53l-1.92 0M43.92 582.85l-1.92 0M43.92 575.17l-1.92 0M43.92 567.49l-1.92 0M43.92 552.13l-1.92 0M43.92 544.45l-1.92 0M43.92 536.77l-1.92 0M43.92 529.57l-1.92 0M43.92 514.21l-1.92 0M43.92 506.53l-1.92 0M474 707.17l-1.92 0M474 700.93l-1.92 0M474 694.21l-1.92 0M474 681.73l-1.92 0M474 675.01l-1.92 0M474 668.77l-1.92 0M474 656.29l-1.92 0M474 649.57l-1.92 0M474 643.33l-1.92 0M474 630.85l-1.92 0M474 624.13l-1.92 0M474 617.89l-1.92 0M474 604.93l-1.92 0M474 598.69l-1.92 0M474 592.45l-1.92 0M474 579.49l-1.92 0M474 573.25l-1.92 0M474 567.01l-1.92 0M474 554.05l-1.92 0M474 547.81l-1.92 0M474 541.57l-1.92 0M474 528.61l-1.92 0M474 522.37l-1.92 0M474 516.13l-1.92 0M904.08 702.85l-1.92 0M904.08 695.65l-1.92 0M904.08 688.93l-1.92 0M904.08 682.21l-1.92 0M904.08 668.77l-1.92 0M904.08 661.57l-1.92 0M904.08 654.85l-1.92 0M904.08 648.13l-1.92 0M904.08 634.69l-1.92 0M904.08 627.49l-1.92 0M904.08 620.77l-1.92 0M904.08 614.05l-1.92 0M904.08 600.61l-1.92 0M904.08 593.41l-1.92 0M904.08 586.69l-1.92 0M904.08 579.97l-1.92 0M904.08 566.53l-1.92 0M904.08 559.33l-1.92 0M904.08 552.61l-1.92 0M904.08 545.89l-1.92 0M904.08 532.45l-1.92 0M904.08 525.25l-1.92 0M904.08 518.53l-1.92 0M904.08 511.81l-1.92 0M43.92 945.73l-1.92 0M43.92 938.53l-1.92 0M43.92 930.85l-1.92 0M43.92 923.17l-1.92 0M43.92 907.81l-1.92 0M43.92 900.13l-1.92 0M43.92 892.45l-1.92 0M43.92 884.77l-1.92 0M43.92 869.89l-1.92 0M43.92 862.21l-1.92 0M43.92 854.53l-1.92 0M43.92 846.85l-1.92 0M43.92 831.49l-1.92 0M43.92 823.81l-1.92 0M43.92 816.13l-1.92 0M43.92 808.45l-1.92 0M43.92 793.57l-1.92 0M43.92 785.89l-1.92 0M43.92 778.21l-1.92 0M43.92 770.53l-1.92 0M43.92 755.17l-1.92 0M43.92 747.49l-1.92 0M474 948.13l-1.92 0M474 941.89l-1.92 0M474 935.65l-1.92 0M474 922.69l-1.92 0M474 916.45l-1.92 0M474 910.21l-1.92 0M474 897.25l-1.92 0M474 891.01l-1.92 0M474 884.77l-1.92 0M474 871.81l-1.92 0M474 865.57l-1.92 0M474 858.85l-1.92 0M474 846.37l-1.92 0M474 840.13l-1.92 0M474 833.41l-1.92 0M474 820.93l-1.92 0M474 814.69l-1.92 0M474 807.97l-1.92 0M474 795.49l-1.92 0M474 789.25l-1.92 0M474 782.53l-1.92 0M474 770.05l-1.92 0M474 763.33l-1.92 0M474 757.09l-1.92 0M904.08 943.81l-1.92 0M904.08 937.09l-1.92 0M904.08 930.37l-1.92 0M904.08 923.17l-1.92 0M904.08 909.73l-1.92 0M904.08 903.01l-1.92 0M904.08 896.29l-1.92 0M904.08 889.09l-1.92 0M904.08 875.65l-1.92 0M904.08 868.93l-1.92 0M904.08 862.21l-1.92 0M904.08 855.01l-1.92 0M904.08 841.57l-1.92 0M904.08 834.85l-1.92 0M904.08 828.13l-1.92 0M904.08 820.93l-1.92 0M904.08 807.49l-1.92 0M904.08 800.77l-1.92 0M904.08 794.05l-1.92 0M904.08 786.85l-1.92 0M904.08 773.41l-1.92 0M904.08 766.69l-1.92 0M904.08 759.97l-1.92 0M904.08 752.77l-1.92 0M43.92 1187.17l-1.92 0M43.92 1179.49l-1.92 0M43.92 1171.81l-1.92 0M43.92 1164.13l-1.92 0M43.92 1149.25l-1.92 0M43.92 1141.57l-1.92 0M43.92 1133.89l-1.92 0M43.92 1126.21l-1.92 0M43.92 1110.85l-1.92 0M43.92 1103.17l-1.92 0M43.92 1095.49l-1.92 0M43.92 1087.81l-1.92 0M43.92 1072.93l-1.92 0M43.92 1065.25l-1.92 0M43.92 1057.57l-1.92 0M43.92 1049.89l-1.92 0M43.92 1034.53l-1.92 0M43.92 1026.85l-1.92 0M43.92 1019.17l-1.92 0M43.92 1011.97l-1.92 0M43.92 996.61l-1.92 0M43.92 988.93l-1.92 0M474 1189.57l-1.92 0M474 1183.33l-1.92 0M474 1176.61l-1.92 0M474 1164.13l-1.92 0M474 1157.41l-1.92 0M474 1151.17l-1.92 0M474 1138.69l-1.92 0M474 1131.97l-1.92 0M474 1125.73l-1.92 0M474 1113.25l-1.92 0M474 1106.53l-1.92 0M474 1100.29l-1.92 0M474 1087.33l-1.92 0M474 1081.09l-1.92 0M474 1074.85l-1.92 0M474 1061.89l-1.92 0M474 1055.65l-1.92 0M474 1049.41l-1.92 0M474 1036.45l-1.92 0M474 1030.21l-1.92 0M474 1023.97l-1.92 0M474 1011.01l-1.92 0M474 1004.77l-1.92 0M474 998.53l-1.92 0M904.08 1185.25l-1.92 0M904.08 1178.05l-1.92 0M904.08 1171.33l-1.92 0M904.08 1164.61l-1.92 0M904.08 1151.17l-1.92 0M904.08 1143.97l-1.92 0M904.08 1137.25l-1.92 0M904.08 1130.53l-1.92 0M904.08 1117.09l-1.92 0M904.08 1109.89l-1.92 0M904.08 1103.17l-1.92 0M904.08 1096.45l-1.92 0M904.08 1083.01l-1.92 0M904.08 1075.81l-1.92 0M904.08 1069.09l-1.92 0M904.08 1062.37l-1.92 0M904.08 1048.45l-1.92 0M904.08 1041.73l-1.92 0M904.08 1035.01l-1.92 0M904.08 1028.29l-1.92 0M904.08 1014.37l-1.92 0M904.08 1007.65l-1.92 0M904.08 1000.93l-1.92 0M904.08 994.21l-1.92 0M43.92 1428.13l-1.92 0M43.92 1420.93l-1.92 0M43.92 1413.25l-1.92 0M43.92 1405.57l-1.92 0M43.92 1390.21l-1.92 0M43.92 1382.53l-1.92 0M43.92 1374.85l-1.92 0M43.92 1367.17l-1.92 0M43.92 1352.29l-1.92 0M43.92 1344.61l-1.92 0M43.92 1336.93l-1.92 0M43.92 1329.25l-1.92 0M43.92 1313.89l-1.92 0M43.92 1306.21l-1.92 0M43.92 1298.53l-1.92 0M43.92 1290.85l-1.92 0M43.92 1275.97l-1.92 0M43.92 1268.29l-1.92 0M43.92 1260.61l-1.92 0M43.92 1252.93l-1.92 0M43.92 1237.57l-1.92 0M43.92 1229.89l-1.92 0M474 1430.53l-1.92 0M474 1424.29l-1.92 0M474 1418.05l-1.92 0M474 1405.09l-1.92 0M474 1398.85l-1.92 0M474 1392.61l-1.92 0M474 1379.65l-1.92 0M474 1373.41l-1.92 0M474 1367.17l-1.92 0M474 1354.21l-1.92 0M474 1347.97l-1.92 0M474 1341.25l-1.92 0M474 1328.77l-1.92 0M474 1322.53l-1.92 0M474 1315.81l-1.92 0M474 1303.33l-1.92 0M474 1297.09l-1.92 0M474 1290.37l-1.92 0M474 1277.89l-1.92 0M474 1271.17l-1.92 0M474 1264.93l-1.92 0M474 1252.45l-1.92 0M474 1245.73l-1.92 0M474 1239.49l-1.92 0M904.08 1426.21l-1.92 0M904.08 1419.49l-1.92 0M904.08 1412.77l-1.92 0M904.08 1405.57l-1.92 0M904.08 1392.13l-1.92 0M904.08 1385.41l-1.92 0M904.08 1378.69l-1.92 0M904.08 1371.49l-1.92 0M904.08 1358.05l-1.92 0M904.08 1351.33l-1.92 0M904.08 1344.61l-1.92 0M904.08 1337.41l-1.92 0M904.08 1323.97l-1.92 0M904.08 1317.25l-1.92 0M904.08 1310.53l-1.92 0M904.08 1303.33l-1.92 0M904.08 1289.89l-1.92 0M904.08 1283.17l-1.92 0M904.08 1276.45l-1.92 0M904.08 1269.25l-1.92 0M904.08 1255.81l-1.92 0M904.08 1249.09l-1.92 0M904.08 1242.37l-1.92 0M904.08 1235.17l-1.92 0" class="c33"/><text x="14.88" y="127.73" transform="rotate(-90 14.88 127.73)" textLength="56.71" lengthAdjust="spacingAndGlyphs" class="c4">Normalized</text><path d="M60.3 191.6l.7 1 .5 .9 .5 .3 .9-1 .5-.7 .2-4.3 .7 1.1 .5 1.5 .2 .1 .2 1.3 .7 .3 .5-1.9 .2-1.6 .3-4.7 1.1 1.6 .3 0 .2-.1 .7-1.4 .2-2.9 .7 .9 1 1.3 .2 .8 .5 .4 .7 .7 .2 0 .5 1.1 .2-.4 .7-1.6 .2-1.1 .3-.5 .2-.9 .2-2.5 1 4.5 .2-.1 .5-1.5 .7 1.6 .2-.2 .2-.7 .3-.3 .2-.5 .7-5.5 .5 .4 .4 .8 1 0 .4-.9 .3-5 .7-.4 .2 4.1 .2 1.4 .3 .4 .2 .2 .7 1.8 .2 .3 .3-.5 .2-.2 .2 0 .7-2.6 .3-1.7 .4 1.7 .3 1.4 .7 3.5 .4 3.4 .3 0 .2-1.6 .7 0 .2-1.1 .3-2 .2 .8 .9 6.7 .3 1.1 .2-.7 .2 .2 1-2.7 .2 .1 .2-.2 .3 1 .2 .4 1.2-4.8 .2 0 .2-.5 1-.3 .2 .8 1.2-.5 .4 3.9 .3 2 .2 .9 .7 3.1 .7 1.5 .9-.4 .3 1.1 .2-.3 .2 0 .3-1.1 .7-2.5 .2 0 .2 .4 .5 1.9 1.2 2.6 .4-.9 .7-1.5 .5 1.7 .2 .4 .3-.1 1.1-5.4 .3-.5 .2 0 .7-1.5 .2 0 .5-1 .2-1 .7-1.4 .3 .1 .2-.5 .2 .2 .3 .4 .7-2.4 .4-2.4 .3-.1 .2 1.4 .7 2.7 .5 .6 .2-.2 .2 1 .7 .1 .3-.7 .2 1.1 .2-1.1 1 1.2 .4-.3 .3-.5 .9-.6 .7-2.1 .2 .2 .7 .2 .3 .6 .2 1.5 .5 1.2 .9 1.4 .5-.1 .2 .9 .9 4.3 .5-1 .2-.6 .7-1.3 .3-2.1 .2-.1 .2-.5 .3 1.1 .9 1.7 .2-1 .3-.4 .2-2.2 .7-2.3 .2 .4 .3-1.4 .2-.5 .2-.3 .7 1.6 .3 .9 .4 1 1 2.8 .2 0 .2-.4 .5-.1 .7-.9 .2-1.3 .5 0 .2-.6 .7 .4 .5 1.1 .2 .1 .3 .4 .7 1.2 .4-.9 .3 0 .2-.8 1.2-2.3 .2-.1 .2 .7 .7 1.4 .5 1.4 .2-.1 .3 .3 .7 1.2 .2 .6 .2-.5 .3 .2 .2 0 .9 .3 .7-3.1 .7-.1 .5 1.8 .5 1.3 .7 1.4 .2 .7 .2 .1 .3-.3 .2 .4 .9-3.4 .3-.1 .2-1.4 .2 .3 .7-.4 .3 .1 .2-.6 .2 .4 .3-.4 .7-.3 .2 .3 .2 0 .3 .6 .2-.4 .7 .9 .2 .4 .3-.3 .2 .2 .2-.4 .7-.5 .3 .7 .2 0 .2 0 .3-1 .7 .1 .2-.2 .5-1 .2-.1 .7 1 .5 1.1 .4-1.4 .7-.6 .3 .2 .2-.1 .5 .6 .7 .4 .9 3.1 .7 1.2 .2-.4 .7 1.8 .7 .6 .3-.4 .2-.8 .2 .3 .3-.4 1.1-2.3 .3-.2 .2-.9 .7-.6 .5 1.2 1.1-1.1 .3-.4 .7-3.1 .9-2.8 .2 0 1.4 3.8 .7 3 .7 2.5 .5 .9 .2 0 .3-.6 .9-1.2 .2 0 .5-1.3 1.2-2 .2 .3 .2-.6 1 0 .4 1 .3-.3 .7 1.9 .2-.4 .2 0 .3 .2 .2-1 1.2-3.2 .4-1.2 .7-1 .5 .5 .2-.1 .3-.3 .7 .8 .2 .5 .2 1 .3-.5 .2 .1 .9-.8 .3 .5 .2 .3 .2-.9 .7 .1 .3-.3 .2 .8 .2 0 .3-.8 .7 .8 .2-.4 .5 .8 .2-.5 .7 .4 .2-.5 .3 .2 .2-.2 .2-.5 1-1.9 .2 .5 .2-1.6 .3-.4 .7 .4 .4 2.4 .3 .6 .2 .1 .7-.9 .2 .9 .3-.2 .4-1.4 1.2-1.5 .5 .4 .7-.2 .2-.4 .2 .6 .3-1 .2 .1 1.2-3 .4 1.2 .7 .7 .3-.1 .2 .4 .2 .1 .3-.2 .7 1.3 .2 0 .2-.5 .3-.9 .2-.1 .7 .3 .2 .3 .3-.2 .2-.6 .9 2 .5 1.2 .2 .4 .3 .7 .7 .4 .2 .8 .2-.5 .3 .2 .2-1.2 .9-3.4 .3 .1 .2 .5 .2 1 1 1.8 .2-.2 .5 .9 .7 1.4 .2-.1 .2 .5 .3-.6 .2 .4 .7 .4 .2 0 .5-2 .2-.5 .7-.2 .3 1.1 .2 .1 .2 .6 .3-.9 1.1-4.8 .5 .1 .7 .5 .5 .8 .2-.3 .9-1.7 .3-.2 .2 .2 .2-.5 1 1.5 .2 .4 .7 .4 .7 2.2 .5-2.3 .2-.5 .9-3.7 .3-1.7 .2-3.5 .5 .1 .7 .3 .2-2.3 .2 .5 .5-.3 .7-1.6 .9-.9 1 .8 .7 .9 .7 1.3 .2 .6 .5-.3 .2 .1 .7 .8 .2-1.1 .3-.1 .2-.9 .2-.3 .7-2 .5 .6 .2 .1 .3 .5 .9-.6 .4-.2 .3-.4 .9 4.9 .2-.3 .3-1.5 .2-.4 .9-.3 .3 .1 .2 .8 .2-.2 .7-.8 .5-2.4 .2 .6 1 3.4 .2-.8 .2 .3 .3 .1 .2-.3 .7-.5 .2 .1 .3 .9 .2 1.5 .9-1 .3-.5 .2 0 .2-.2 .3-.7 .9 1.6 .2 1 .5-1.3 .7-1 .2 0 .7-3.3 .7 .4 .5 .7 .2 0 .3 .6 .7 .7 .2-.5 .7 2.7 .7-1.6 .2-.9 .3 0 .2-.3 .2-.8 .7-.8 .3-1.5 .2 .5 .5 1.2 .7-.1 .4-1.1 .3-2.3 .2 .1 1.2 .7 .2-.1 .2 0 1-.5 .4-.2 .3-2.5 1.4 .1 .2 .1 .7-1.8 .2 0 .3 1.6 .2 .5 .2-.2 .7 2.6 .3 .1 .2 .8 .2 1.1 .3-.6 .9 2.8 .5-.5 .2-.7 .7-1.5 .2 1.5 .7-1 .7-2.5 .3-.1 .2-1.3 .2 .2 .3 .5 .7 .3 .2-.5 .5 .9 .2-.4 .7-.9 .5 .5 .2 .4 .2-.4 .7-.2 .3 .2 .2-.3 .2-1 .3-.3 .7-.4 .2 .1 .5 .8 .9 5 .7-4.9 .2-2.6 1.4 .1 .3 0 .7-4.7 .4 2 .3-3.1 .2 3.6 .7-.9 .2-.7 .3 .4 .2 .7 .2-.2 .7 .9 .3 1.1 .2 .1 .2 .4 .3 1.3 .7 1.9 .2-.4 .2-.1 .3-.5 .2 .7 .7-1.4 .2-.3 .3-.4 .2-1.3 .2-.1 .7-1 .3-.5 .2 .1 .2-.7 .3 .1 .7-.8 .2 0 .2-.8 .3-1.2 .2 .5 .9 1 .5 .8 .2-.8 .7 1.5 .5-.2 .5 1.5 .7 .1 .2 .3 .2 1.5 .3 .6 .2-.5 .7 1.5 .2-.4 .3 .5 .2-.2 .2 .6 .7-1.4 .3-.9 .2 .3 .2-1.4 .3 .5 .7 1 .2 1 .2 .2 .3-.4 .2-.1 .9-.8 .3 .4 .2 .2 .2 .9 .7 .8 .3 .8 .2 .2 .2-1.2 .3-.1 1.1-1.1 .3-1.2 .2-.1 .9 .8 .3 .1 .4 2.5 1 2.5 .2 0 .5 2 .9-1.6 .2 .1 .3-.6 .2 .9 .7-1.2 .2-1.8 .3-.2 .2-1.1 .2-.2 1 1.2 .2-1 .2 .4 .3 .1 .7 .5 .2 .7 .5-1.3 .2-.3 .7 .8 .5 1 .2-.1 .2 1.6 1 .6 .2-.2 .2 0 .3 .6 .7 .9 .2-.1 .2-.5 .3-.9 .2-.4 .7-1.7 .2 .3 .5-.6 .2-1 .7-.8 .3 .1 .2 .7 .2-.4 .3 1.1 .7 1 .2 0 .2 .1 .5 1.7 .7 .2 .2-.2 .3-1.6 .2 .7 .2 1.2 .7 2 .5 2 .2 .4 .3-1 1.4-7.6 .2-.3 .7 .3 .2 .6 .3-.6 .2-.1 .2-.3 .7 1.6 .3 0 .2-.1 .5 7.6 .7 3.8 .2 .6 .2 .3 .3-.8 .9-5 .2-.9 .3 .4 .2 .9 .2-.8 .7 .6 .3 .6 .2 0 .2-1.9 .3-.7 .9-2.5 .2-.8 .3 .1 .9-.2 .2 .2 .3 1.1 .2-1.1 .2-.5 .7-3 .3-1.6 .2 0 .2-.3 .3-.7 1.1-2.3 .3-.1 .2 .1 .7 1.5 .5 .2 .4-.8 1-.8 .4-1.3 .3 .1 .7-4.1 1.8-4.1 .3-.2 .4 .9 .7 1.4 .3-.3 .2 0 .5 .8 .7 .1 .7-2.3 .2-3.8 1.2 .9 .2 .2 .2-.1 1.2-.9 .2-2.6 1.2 .7 .7 1.5 .7 .5 .2 .7 .3-.2 .4 .3 1.2-2 .2-.1 .3 1 .7 2.1 .2-.3 .2-1.3 .3-.5 .2-1.3 .7-11.9 .5 .5 1.1 .8 .3 .4 .2 0 .5-.9 .7-5.2 .2-.3 1.6 .8 .3-3 .2 .9 .2 0 .7-1.7 .3 1.3 .2 .3 .2 0 1 2 .2 .1 .2 .6 .3-.6 .2 0 .7 1.1 .2 .8 .3-.1 .2 .2 .2 1.3 .7 2.7 .3-1.3 .4 2.8 .3 .6 1.1-2.4 .3 .7 .2-.7 1.2 4.5 .2-.7 .2 .4 .7-1.9 .3 .3 .7-2.3 .7-.7 .4 1.3 .3-.6 1.6-8.7 .2 .1 .7 .1 .5-.2 0 0" clip-path="url(#pc4d85e0ccc)" style="fill:none;stroke:#000000;stroke-width:1.5;stroke-linecap:square"/><path d="M60.3 191.6l1.2 .2 .5 .2 1.4 0 .2-.1 1.6-.3 1.2-.1 .2-.1 .3-.3 .7-.2 .9-.8 .7-.3 .9-1.2 .7-.2 .7-.5 .3-.1 1.4-.4 1.1-.3 .5-.4 .2-.3 1.2-.3 .5-.3 .9-.1 1.4-.7 .9-1.2 .7-.2 .7-.7 .3-.4 .9-.7 .7-.5 1.2-.2 1.4-.6 .7-.4 .9 .1 .7 .5 1.6 .2 .7 .2 1 1 .9 .3 .7 .4 1.2 0 2.8-.4 .4 .2 .5 .4 .7 .3 .9 1.3 .7 .4 1 1.1 .9 .3 1.6 1 .7 .8 .7 .1 1 .8 1.4 .1 1.4-.4 .4-.3 .7-.2 1-.7 .7-.3 .9-1.2 .9-.2 .7-.3 1.2-.2 .5-.1 1.4-.1 1.6-.5 .2-.1 1.7-.3 1.1 .3 1.2 .3 .7 .7 .2 .2 3.3 .4 .9-.3 .7-.5 1.7-.3 1.1 .3 .5 .1 1.2-.1 1.6-.1 1.6 .1 .5 .1 .9-.2 .7-.2 1.2 .1 1.6 .4 .5 .2 2.3 .2 .7 .2 .3 .1 .7 .1 .9 .6 1.4 0 4.2-.5 1.6-.1 1.7 0 2.5-.4 2.8-.2 1.7 .6 .4 .3 1 .4 .7 .4 1.6 .1 2.8-.3 .5-.3 .7-.2 .9-.9 1.6-.2 1 .3 .7 .5 2.5 .2 1.7-.3 .7 0 2.3 0 .7-.3 .2-.2 1-.4 .7-.4 1.4-.4 1.8-.4 1.2-.3 2.1-.3 1.4-.2 1.4-.4 .5-.3 1.6-.3 1.6-.2 1-.2 .7-.4 .9-.2 1.6-.7 .7-.5 1-.2 .7-.3 1.1-.1 .5-.2 1.2-.2 .4-.1 1.2 0 2.1 .7 .9-.1 .7-.2 1.2 .2 1.9 .6 .2 .2 .9 .2 .7 .2 1.2 .1 .5 .1 .7-.1 .9-.6 1.2-.2 1.8-.7 .3-.1 3.2-.4 .7-.2 .5-.6 .5-.7 .7-.3 .9-1.5 .7-.4 .9-1.5 .7-.3 1-1.1 .9-.4 .7-.4 .9-.3 4-2.4 2.3-.2 .9-.2 1-.2 .7-.3 2.3-.1 .5 0 .4 .1 4.5 .1 1.6-.5 .5-.2 3.2-.2 .7-.1 .7-.4 .3-.1 .9-.1 .5-.4 .2-.2 .9-.3 .7-.4 1-.3 2.1-1.3 .2-.2 .7-.3 .5-.4 .4-.2 1.7 0 .9 .2 .7 .3 1.2 .1 .4 0 1-.1 .7-.4 1.1-.2 4.5-1 .7-.3 .2 0 1.2 .1 1.1-.4 1-.6 .7-.3 .9-1 .7-.2 .9-.8 1.7-.3 2.8 .3 2.8-1 .9-.7 .9-.3 .7-.4 2.6-.2 2.1 .7 .2 .2 2.8 .3 .5 .1 1.4 .2 .2 .1 1 .2 .7 .3 3.2 .3 .7 .1 1 .9 .9 .3 .7 .5 1.4 .2 .9 0 1 0 2.8 .2 1.1 .2 1 .5 .9 .3 .7 .3 1.6-.1 2.6-.3 1.4 .3 .9 .2 .7 .2 1 .9 .9 0 2.3-.9 1.4 0 .3 .3 .7 .4 .9 1.4 1.2 .3 .4 .2 1 .3 .4 .2 1-.1 3.2-.9 1-1.1 .7-.3 .9-1.3 .7-.2 .9-.9 .7-.2 1-1 .7-.4 .9-1.7 .7-.4 .9-1.8 .7-.3 1-1.1 .7-.3 .7-.8 .2-.4 .7-.4 .9-1.4 .7-.3 1-1.4 .7-.4 .9-1.1 .9-.4 .7-.5 .7-.2 1-.8 .9-.1 .7-.5 .7-.6 .9-2.3 .7-.4 1-1.8 .7-.6 .9-2.2 .7-.5 .9-2.1 .7-.5 1-1.7 .7-.3 .9-1.1 .9-.3 .7-.4 1.4 0 .3 .1 2.3 .2 .9 .6 2.4 .1 .9-.1 .7-.3 .9-1.2 .7-.3 .5-.6 0 0" clip-path="url(#pc4d85e0ccc)" style="fill:none;stroke:#ffa500;stroke-linecap:square"/><path d="M60.3 191.6l6.1 0 1.6-.3 3.8-.9 1.6-.2 1.2-.2 .4-.2 1.2-.2 .5-.1 1.1-.2 1.9-.6 .2-.1 1-.2 2.3-1 1.2-.2 .4-.2 1-.2 .7-.3 2.8-.3 .4-.1 4.2 0 2.4-.3 1.6-.1 1.2 .2 .4 .1 1.2 .2 .5 .2 1.4 .1 1.8 .4 1.2 .2 .5 .1 3 .1 3-.4 .5-.2 4.7-.4 4.2-.3 1.8 .1 .7 .1 4 .1 2.6-.3 3.9-.1 2.6 0 4.4 0 2.1 .1 2.4 .1 .9 .2 3.3 0 12.1-.2 4.2 .5 4-.1 .9-.3 2.3 0 2.1 .2 1.7 0 6.5-.3 1.4-.2 7.2-.7 1.2-.1 .5-.1 4.2-.5 .7-.1 1.4-.3 1.8-.4 1.2-.2 .5-.1 1.4-.2 .2 0 1.4-.3 .2 0 8.9-.4 1.6 0 1.9-.1 .7-.1 2.3-.3 1-.2 3-.3 1.4-.3 .5-.2 .9-.3 .7-.4 .9-.3 .7-.4 1-.3 .7-.4 .9-.2 .7-.3 .9-.2 .7-.3 1-.3 .7-.4 .9-.2 .7-.4 1.1-.2 .5-.2 .9-.1 .7-.3 1-.2 .7-.3 1.1-.2 .5-.1 1.2-.3 2.1-.4 1.4-.2 5.1-1.1 1.2-.2 2.1-.5 .9-.2 2.3-.8 1-.2 .7-.3 .9-.2 .7-.3 .9-.3 .7-.3 1.2-.3 .5-.1 1.6-.2 1.4-.2 7.9-1.8 .5-.2 1.2-.1 4.9-1.6 .4-.3 1.2-.2 .5-.2 1.4-.2 3.2-.8 .3-.1 .9-.2 .7-.3 .9-.2 .7-.3 1.2-.3 .5-.1 4.4-.5 .5-.1 2.8-.3 1.1 0 2.4-.2 1.4-.1 1.1 0 3.8 .2 2.8-.1 4.2 .1 3.9 .1 1.7 0 2.5 .1 1.2 .2 .5 .1 2.3-.1 2.3 0 2.6 .6 2.6 .4 3.2 0 1.2-.2 3.7-.8 1.2-.3 .5-.1 .9-.3 .7-.4 .9-.3 .7-.5 1-.2 .7-.4 .9-.2 .7-.5 .9-.3 .7-.5 1-.3 .7-.5 .9-.4 .7-.5 .9-.2 .7-.4 1-.3 .7-.5 .9-.2 1.6-.9 .7-.7 .7-.3 1-.9 .7-.3 .9-1.1 .7-.2 .9-1.1 .7-.3 1-1.1 .7-.2 .9-.9 .7-.2 .9-.8 .7-.2 1-.5 .9-.3 .7-.4 .9-.3 .7-.3 1-.2 .7-.4 .9-.2 .7-.4 .7-.2 .9-.8 .7-.2 .5-.4 0 0" clip-path="url(#pc4d85e0ccc)" style="fill:none;stroke:#0000ff;stroke-linecap:square"/><path d="M60.3 191.6l3.1 0 .2-3.8 3 0 .3-3.9 2.3 0 .2-2.8 5.4 0 .2-1.8 3.3 0 .7-2.7 2.3 0 .3-4.7 .7-.4 145.6 0 .2-2.5 1.2 0 .2-1.9 .7 0 .9-1.6 .7-.7 4.9 0 1.2-.2 14.9-.1 .2-.1 5.6 0 .3-1.3 1.8 0 .3-1.8 3.2 0 .3-2.5 1.6 0 .7-1.6 3.3 0 12.1 0 .2-.4 1.7 0 .7-4.6 .4 0 .3-1.1 67.2 0 .9-3.2 1.6-3.6 .3-.2 3.5 0 .2-3.2 2.8 0 .2-2.5 6.8 0 .7-10.8 2.6 0 .7-4.4 .2-.3 1.6 0 .3-2.2 .4 0 .7-.8 15.2 0 0 0" clip-path="url(#pc4d85e0ccc)" style="fill:none;stroke-dasharray:3.7,1.6;stroke-dashoffset:0;stroke:#ff0000;stroke-opacity:0.8"/><path d="M43.68 233.17v-210.72" class="c1"/><path d="M408 233.17v-210.72" class="c1"/><path d="M43.68 233.17l364.32 0" class="c1"/><path d="M43.68 22.45l364.32 0" class="c1"/><text x="225.83" y="16.32" textLength="184.42" lengthAdjust="spacingAndGlyphs" class="c6">Combined: Price + EMA + Max</text><path d="M245.96 79.28l156.4 0Q403.96 79.28 403.96 77.68v-49.76Q403.96 26.32 402.36 26.32l-156.4 0Q244.36 26.32 244.36 27.92v49.76Q244.36 79.28 245.96 79.28z" class="c25"/><path d="M247.92 33.73l7.68 0 8.16 0" style="fill:none;stroke:#000000;stroke-width:1.5;stroke-linecap:square"/><text x="269.96" y="36.24" textLength="62.7" lengthAdjust="spacingAndGlyphs" class="c27">Combined Price</text><path d="M247.68 45.97l7.68 0 8.16 0" class="c28"/><text x="269.96" y="48.88" textLength="126.35" lengthAdjust="spacingAndGlyphs" class="c27">Combined EMA (50 day expMA)</text><path d="M247.68 58.93l7.68 0 8.16 0" class="c26"/><text x="269.96" y="61.52" textLength="131.44" lengthAdjust="spacingAndGlyphs" class="c27">Combined EMA (200 day expMA)</text><path d="M247.68 71.41l7.68 0 8.16 0" class="c29"/><text x="269.96" y="74.16" textLength="38.6" lengthAdjust="spacingAndGlyphs" class="c27">Max Price</text><path d="M473.76 233.17l364.32 0 0-210.72-364.32 0z" class="c5"/><path d="M490.56 233.17v-210.72" class="c7"/><path d="M532.8 233.17v-210.72" class="c7"/><path d="M576 233.17v-210.72" class="c7"/><path d="M618.24 233.17v-210.72" class="c7"/><path d="M660.96 233.17v-210.72" class="c7"/><path d="M703.68 233.17v-210.72" class="c7"/><path d="M746.4 233.17v-210.72" class="c7"/><path d="M788.64 233.17v-210.72" class="c7"/><path d="M831.36 233.17v-210.72" class="c7"/><path d="M473.76 230.77l364.32 0" class="c7"/><text x="466.84" y="234.67" textLength="21.1" lengthAdjust="spacingAndGlyphs" class="c0">−40</text><path d="M473.76 205.33l364.32 0" class="c7"/><text x="466.84" y="209.19" textLength="21.1" lengthAdjust="spacingAndGlyphs" class="c0">−20</text><path d="M473.76 179.89l364.32 0" class="c7"/><text x="466.84" y="183.71" textLength="6.36" lengthAdjust="spacingAndGlyphs" class="c0">0</text><path d="M473.76 154.45l364.32 0" class="c7"/><text x="466.84" y="158.23" textLength="12.72" lengthAdjust="spacingAndGlyphs" class="c0">20</text><path d="M473.76 129.01l364.32 0" class="c7"/><text x="466.84" y="132.74" textLength="12.72" lengthAdjust="spacingAndGlyphs" class="c0">40</text><path d="M473.76 103.57l364.32 0" class="c7"/><text x="466.84" y="107.26" textLength="12.72" lengthAdjust="spacingAndGlyphs" class="c0">60</text><path d="M473.76 78.13l364.32 0" class="c7"/><text x="466.84" y="81.78" textLength="12.72" lengthAdjust="spacingAndGlyphs" class="c0">80</text><path d="M473.76 52.69l364.32 0" class="c7"/><text x="466.84" y="56.3" textLength="19.09" lengthAdjust="spacingAndGlyphs" class="c0">100</text><path d="M473.76 26.77l364.32 0" class="c7"/><text x="466.84" y="30.82" textLength="19.09" lengthAdjust="spacingAndGlyphs" class="c0">120</text><text x="439.8" y="127.73" transform="rotate(-90 439.8 127.73)" textLength="37.06" lengthAdjust="spacingAndGlyphs" class="c4">Error %</text><path d="M490.4 179.9M491.4 179.9v2.3M491.8 179.9v2.8M492.8 179.9v1.8M493.3 179.9v.6M493.8 179.9v-6.9M494.7 179.9v-3.4M495.2 179.9v-1.8M496.2 179.9v.8M498.6 179.9v-7.8M499.5 179.9v-14.1M500 179.9v-12M501 179.9v-9.1M501.4 179.9v-6.6M501.9 179.9v-5.5M502.9 179.9v-3.9M503.4 179.9v-2M504.3 179.9v-5M504.8 179.9v-7.2M506.7 179.9v-6.1M507.7 179.9v-3.5M508.2 179.9v-4.8M509.1 179.9v-14M509.6 179.9v-12.4M510.1 179.9v-10M511 179.9v-9.4M511.5 179.9v-10M512.5 179.9v-17.7M513 179.9v-7.7M513.4 179.9v-6.1M515.8 179.9v-9.6M516.3 179.9v-6.3M517.3 179.9v2M517.8 179.9v7.2M518.2 179.9v4M519.2 179.9v1.9M519.7 179.9v0M520.6 179.9v10.6M521.1 179.9v10.3M521.6 179.9v8.8M524 179.9v-.6M524.5 179.9v-1.4M525.4 179.9v-2.6M525.9 179.9v-1.1M526.4 179.9v-1.5M527.3 179.9v.8M527.8 179.9v7.6M528.8 179.9v13.3M529.3 179.9v13.8M529.7 179.9v13.5M532.1 179.9v5.4M532.6 179.9v6.8M533.6 179.9v10.4M534.1 179.9v11.3M534.5 179.9v9M535.5 179.9v7.5M536 179.9v8.8M536.9 179.9v2.3M537.4 179.9v-.8M537.9 179.9v-1.6M540.8 179.9v-7.9M541.7 179.9v-10.4M542.2 179.9v-13.4M542.7 179.9v-10.3M543.7 179.9v-4.9M544.1 179.9v-4.3M545.1 179.9v-2.3M545.6 179.9v-1.5M546.1 179.9v-2.5M547 179.9v-1.3M548.9 179.9v-5.9M549.9 179.9v-4.9M550.4 179.9v-1M550.9 179.9v.8M551.8 179.9v3M552.3 179.9v2.6M553.3 179.9v8.9M553.7 179.9v9.3M554.2 179.9v6.7M555.2 179.9v.8M558.1 179.9v-5.6M558.5 179.9v-6.8M559 179.9v-7.5M560 179.9v-3.1M560.5 179.9v-1.3M561.4 179.9v3.3M561.9 179.9v2.5M562.4 179.9v2M563.3 179.9v-1.6M563.8 179.9v-1.5M566.2 179.9v2.8M566.7 179.9v1.2M567.2 179.9v-.2M568.1 179.9v-2.8M568.6 179.9v-3.6M569.6 179.9v-.1M570.1 179.9v2.2M570.5 179.9v2.2M571.5 179.9v5M572 179.9v4.2M574.4 179.9v-1.3M574.9 179.9v1.7M575.3 179.9v3.6M576.3 179.9v6.6M576.8 179.9v5.8M577.7 179.9v1.8M578.2 179.9v.1M578.7 179.9v-1.5M579.7 179.9v-1.8M580.1 179.9v-2M583 179.9v-.1M583.5 179.9v-.4M584.5 179.9v0M584.9 179.9v0M585.9 179.9v-1.4M586.4 179.9v-2.4M586.9 179.9v-3.2M587.8 179.9v-.7M588.3 179.9v-1M589.3 179.9v-2.8M591.2 179.9v2.2M591.7 179.9v4.2M592.6 179.9v5.1M593.1 179.9v6.3M594.1 179.9v8M594.5 179.9v5.5M595 179.9v4.9M596 179.9v1.5M596.5 179.9v.5M597.4 179.9v-1.9M599.8 179.9v-6.8M600.8 179.9v-10.5M601.3 179.9v-8.8M602.2 179.9v-4.3M602.7 179.9v-1.1M603.2 179.9v2M604.1 179.9v6.4M604.6 179.9v6.7M605.6 179.9v3.7M606.1 179.9v3.1M608 179.9v-2.7M608.9 179.9v-2.5M609.4 179.9v-.6M610.4 179.9v1.9M610.8 179.9v1.2M611.3 179.9v-.2M612.3 179.9v-3.8M612.8 179.9v-5.9M613.7 179.9v-8M614.2 179.9v-6.5M617.1 179.9v-3.9M617.6 179.9v-2.3M618.5 179.9v-3.4M619 179.9v-2.3M619.5 179.9v-3.4M620.4 179.9v-2.5M620.9 179.9v-1M621.9 179.9v-1.1M622.4 179.9v-1.5M622.8 179.9v-2.5M625.2 179.9v-3.8M625.7 179.9v-.8M626.7 179.9v-2M627.2 179.9v-.9M627.6 179.9v-2.9M628.6 179.9v-4.3M629.1 179.9v-4.5M630 179.9v-4M630.5 179.9v-3.4M631 179.9v-4.6M633.4 179.9v-4.7M633.9 179.9v-3.5M634.8 179.9v-1.6M635.3 179.9v-2.2M635.8 179.9v-3.5M636.8 179.9v-2.4M637.2 179.9v-3.5M638.2 179.9v-.1M638.7 179.9v1.9M639.2 179.9v3.5M642 179.9v-2.1M643 179.9v2M643.5 179.9v2M644 179.9v3.2M644.9 179.9v5M645.4 179.9v4.5M646.4 179.9v5.4M646.8 179.9v3.2M647.3 179.9v.7M648.3 179.9v2.2M650.2 179.9v-5.7M651.2 179.9v-4.2M651.6 179.9v-2.7M652.1 179.9v-3.7M653.1 179.9v-5.6M653.6 179.9v-5.7M654.5 179.9v-2.9M655 179.9v-1.9M655.5 179.9v-1.3M656.4 179.9v-.1M659.3 179.9v-13.1M659.8 179.9v-14.9M660.3 179.9v-14.2M661.2 179.9v-16M661.7 179.9v-15.5M662.7 179.9v-13.8M663.2 179.9v-11.8M663.6 179.9v-9.9M664.6 179.9v-6.2M665.1 179.9v-6.2M667.5 179.9v-10.1M668 179.9v-8.5M668.4 179.9v-6.9M669.4 179.9v-7.3M669.9 179.9v-7.1M670.8 179.9v-1.1M671.3 179.9v.2M671.8 179.9v-2.6M672.8 179.9v-2.9M673.2 179.9v-1.3M675.6 179.9v.6M676.1 179.9v-.1M676.6 179.9v-.5M677.6 179.9v-1.1M678 179.9v2.8M679 179.9v1M679.5 179.9v.2M680 179.9v-1.3M680.9 179.9v1.3M681.4 179.9v1.8M684.3 179.9v-3.6M684.8 179.9v-2.5M685.7 179.9v-2M686.2 179.9v.8M687.2 179.9v-.2M687.6 179.9v-1.6M688.1 179.9v-3.3M689.1 179.9v-6.6M689.6 179.9v-4.2M690.5 179.9v-3.3M692.4 179.9v-5.9M692.9 179.9v-5.6M693.9 179.9v-5.9M694.4 179.9v-5.7M695.3 179.9v-9.2M695.8 179.9v-8.4M696.3 179.9v-7.6M697.2 179.9v-9.8M697.7 179.9v-5.7M698.7 179.9v-1.5M701.1 179.9v2.7M702 179.9v2.5M702.5 179.9v1.2M703.5 179.9v-3.3M703.9 179.9v-5.3M704.4 179.9v-3.8M705.4 179.9v-3.8M705.9 179.9v-2.1M706.8 179.9v-4M707.3 179.9v-3M709.2 179.9v-4.8M710.2 179.9v-4.7M710.7 179.9v-3.2M711.6 179.9v4.9M712.1 179.9v-1M712.6 179.9v-7.2M713.5 179.9v-6.5M714 179.9v-5.9M715 179.9v-13.1M715.5 179.9v-8.9M718.3 179.9v-3.2M718.8 179.9v-2.1M719.8 179.9v3.1M720.3 179.9v2.1M720.7 179.9v2.3M721.7 179.9v-.4M722.2 179.9v-3.2M723.1 179.9v-4.7M723.6 179.9v-5M724.1 179.9v-5.6M726.5 179.9v-5.7M727 179.9v-3.9M727.9 179.9v-2.5M728.4 179.9v-2.6M728.9 179.9v-.1M729.9 179.9v.5M730.3 179.9v3.8M731.3 179.9v5.2M731.8 179.9v4.9M732.3 179.9v5.2M734.7 179.9v3.3M735.1 179.9v2.7M736.1 179.9v1.5M736.6 179.9v1.6M737.1 179.9v3.3M738 179.9v5.5M738.5 179.9v3.4M739.5 179.9v1.9M739.9 179.9v1.1M740.4 179.9v-.9M743.3 179.9v8.7M744.3 179.9v7.8M744.7 179.9v6.7M745.2 179.9v6.8M746.2 179.9v1.5M746.7 179.9v-.6M747.6 179.9v.4M748.1 179.9v-.6M748.6 179.9v.2M749.5 179.9v2M751.5 179.9v1.9M752.4 179.9v5M752.9 179.9v4.5M753.4 179.9v5.1M754.3 179.9v6M754.8 179.9v3.3M755.8 179.9v-.3M756.3 179.9v-.5M756.7 179.9v-2.4M757.7 179.9v-3.3M760.6 179.9v3.7M761.1 179.9v.6M761.5 179.9v3.6M762.5 179.9v8.2M763 179.9v9.6M763.9 179.9v.9M764.4 179.9v-3.3M764.9 179.9v-5.2M765.9 179.9v-3.4M766.3 179.9v-4.1M768.7 179.9v16M769.2 179.9v16.2M769.7 179.9v11.5M770.7 179.9v3.6M771.1 179.9v5.5M772.1 179.9v4.6M772.6 179.9v5.2M773.1 179.9v.8M774 179.9v-3.1M774.5 179.9v-4M776.9 179.9v-8.6M777.4 179.9v-10.4M777.9 179.9v-11.2M778.8 179.9v-13.6M779.3 179.9v-13.1M780.3 179.9v-9.6M780.7 179.9v-8.5M781.2 179.9v-9.1M782.2 179.9v-9.6M782.7 179.9v-11M785.5 179.9v-18.6M786 179.9v-15.8M787 179.9v-12.9M787.4 179.9v-11.2M788.4 179.9v-9.7M788.9 179.9v-11.3M789.4 179.9v-17.6M790.3 179.9v-15.1M790.8 179.9v-13.5M791.8 179.9v-13.5M793.7 179.9v-12.1M794.2 179.9v-9.8M795.1 179.9v-7.2M795.6 179.9v-6.6M796.6 179.9v-7.9M797 179.9v-8.5M797.5 179.9v-6.5M798.5 179.9v-3.2M799 179.9v-5.8M799.9 179.9v-26.4M802.3 179.9v-17.6M803.3 179.9v-24.7M803.8 179.9v-22.5M804.7 179.9v-20M805.2 179.9v-23.1M805.7 179.9v-20M806.6 179.9v-19M807.1 179.9v-17M808.1 179.9v-12.6M808.6 179.9v-10.5M810.5 179.9v-3.8M811.4 179.9v-1.5M811.9 179.9v3M812.9 179.9v1.2M813.4 179.9v-.3M813.8 179.9v-.2M814.8 179.9v4.9M815.3 179.9v5.3M816.2 179.9v2.5M816.7 179.9v1.7M819.6 179.9v-11.1M820.1 179.9v-13.5M821 179.9v-12.1M821.5 179.9v-11.5v0" clip-path="url(#p397197523c)" style="fill:none;stroke:#800080;stroke-opacity:0.7;stroke-width:0.48"/><path d="M490.5 179.9l.7 1.6 .4 1.4 .3 .1 .2 .3 .9-1.8 .5-1.1 .2-7.1 .7 1.9 .5 2.6 .2 .2 .3 2.2 .7 .5 .4-3.3 .3-2.5 .2-7.8 1.4 3.2 .2-.1 .7-2.2 .3-4.8 1.6 4.4 .2 1.5 1.4 2.3 .5 1.8 .2-.5 .7-2.6 .3-1.8 .2-.7 .2-1.3 .3-3.9 .9 7.7 .2-.1 .5-2.3 .7 2.7 .2-.2 .3-1.1 .2-.4 .2-.6 .7-9.1 .5 1.1 .5 1.8 .9 .3 .5-1 .2-8.3 .7-.4 .2 7.1 .3 2.5 1.4 5.2 .2-.8 .2-.2 .3 .2 .7-4.2 .2-2.5 .5 3.1 .2 2.6 .7 5.8 .5 5.8 .2 0 .2-2.6 .7 .1 .3-1.8 .2-3.3 .2 1.4 1 11.2 .2 1.8 .2-1.2 .3 .4 .9-4.5 .2 .1 .3-.3 .2 1.8 .2 .6 1.2-7.9 .2 .1 .3-.9 .7-.3 .2 .1 .2 1.5 .3-.2 .2-.3 .7-.3 .5 6.6 .2 3.4 .2 1.4 .7 5.1 .7 2.1 1-.8 .2 1.7 .2-.7 .3-.1 .2-1.8 .7-4.3 .2 0 .3 .6 1.1 5.4 .3 .5 .2 1 .5-1.7 .7-2.5 .4 2.5 .3 .6 .2-.3 1.2-9.1 .2-.8 .2-.2 .7-2.4 .3-.1 .4-1.5 .3-1.6 .7-2.3 .2 .2 .2-.8 .3 .4 .2 .7 .7-3.8 .5-3.7 .2-.1 .2 2.4 .7 4.6 .5 1.2 .2-.2 .3 1.6 .7 .2 .2-1.1 .2 1.8 .3-1.7 .9 2 .2-.3 .3-.1 .2-.7 .9-1.1 .3-1.1 .2-.5 .2-1.6 .3 .4 .7 .3 .2 1.2 .2 2.6 .5 1.9 .9 2.4 .5-.1 .2 1.4 1 7.1 .4-1.9 .3-1 .7-2.3 .2-3.4 .2-.2 .3-.9 .2 1.8 .9 2.8 .3-1.7 .2-.7 .2-3.6 .7-3.8 .3 .7 .2-2.2 .2-.8 .3-.4 .7 2.7 .2 1.6 .5 1.7 .2 1.3 .7 3.4 .2-.1 .3-.5 .2-.1 .2-.3 .7-1.3 .3-2.3 .2 0 .2 .1 .3-.9 .7 .7 .4 1.8 .3 .3 .2 .5 .7 2 .2-1 .3-.5 .2 0 .2-1.4 1.2-3.6 .2-.1 .3 1.1 .7 2.4 .4 2.4 .3-.3 .2 .5 .7 2 .2 1 .3-.9 .2 .3 .2-.1 1 .4 .7-5.2 .7-.1 .4 3 .5 2.1 .7 2.2 .2 1.2 .3 0 .2-.5 .2 .6 1-5.8 .2-.2 .2-2.3 .3 .5 .7-.6 .2 .2 .2-1 .3 .6 .2-.6 .7-.5 .2 .6 .3 0 .2 1 .2-.6 .7 1.4 .3 .7 .2-.5 .2 .3 .3-.6 .7-1 .2 1.3 .2-.1 .3 .1 .2-1.7 .7 .2 .2-.4 .5-1.5 .2-.2 .7 1.6 .5 2 .5-2.3 .7-1 .2 .4 .2-.3 .5 1.2 .7 .5 .9 5.2 .7 1.9 .3-.7 .7 2.8 .7 1 .2-.9 .2-1.3 .3 .4 .2-.7 1.6-5.8 .7-1 .3 1.3 .2 .6 .2-.3 .3-.6 .7-.9 .2-.7 .7-5.1 .9-4.3 .3-.1 1.6 8.5 .5 3.2 .7 4.2 .4 1.3 .3 0 .2-1.2 .9-2 .3 0 .4-2.2 1.2-3.4 .2 .6 .3-1.1 .7-.1 .2 .2 .5 1.8 .2-.6 .7 3.2 .2-.7 .3 .1 .2 .3 .2-1.7 1.7-7.1 .7-1.7 .4 1.1 .3-.1 .2-.4 .7 1.4 .2 .9 .3 1.6 .2-.6 .2 .1 .7-1.2 .3-.1 .2 1 .2 .5 .3-1.3 .7 0 .2-.3 .2 1.3 .3 .1 .2-1.3 .7 1.4 .2-.5 .5 1.4 .2-.9 .7 .7 .3-.8 .2 .4 .2-.3 1.2-3.7 .2 .8 .3-2.5 .2-.6 .7 .7 .5 4.3 .2 1 .2 .2 .7-1.4 .3 1.5 .2-.3 .5-2.2 .7-1.3 .2-.2 .2-.8 .5 .9 .7-.2 .2-.6 .3 1.1 .2-1.6 .2 .2 1.2-4.6 .5 2.2 .7 1.3 .2 0 .2 .8 .3 .3 .2-.4 .7 2.2 .2 .2 .3-.8 .2-1.4 .2 0 .7 .6 .3 .5 .2-.3 .2-.9 1.7 6.4 .2 1.2 .7 .6 .2 1.4 .3-.8 .2 .3 .2-2 1-5.5 .2 .2 .2 .9 .3 1.7 .9 3.1 .2-.3 .5 1.5 .7 2.3 .2-.1 .3 .7 .2-.9 .2 .7 .7 .6 .3-.1 .4-3.3 .3-.8 .7-.3 .2 1.9 .2 .1 .3 1 .2-1.4 1.2-8 .2 .2 .2 .2 .7 1 .5 1.4 .2-.4 1-2.8 .2-.1 .2 .4 .3-.8 .2 .8 .9 2.6 .3 .2 .2 .1 .2 .5 .7 3.7 .5-3.7 .2-.8 1-6 .2-2.7 .2-5.5 1.2 1.2 .2-3.7 .3 1.1 .2 .1 .2-.1 .7-2.5 1-.6 .7 1.2 1.6 5.1 .2 1.3 .5-.2 .2 .3 .7 1.6 .3-1.7 .2 0 .2-1.4 .3-.2 .7-3.1 .4 1.3 .3 .4 .2 1 .7-.7 .5 .2 .2-.1 .2-.4 1 8.4 .2-.3 .2-2.4 .3-.4 .7-.3 .2 .1 .2 .2 .3 1.5 .2-.1 .7-1.3 .5-3.6 .2 1.1 .9 5.9 .3-1.1 .2 .7 .2 .1 .3-.3 .7-.7 .2 .2 .2 1.7 .3 2.5 .2-.2 .7-1.2 .2-.8 .3 .3 .2-.3 .2-1.1 1 2.8 .2 1.7 .5-1.9 .7-1.5 .2 0 .7-5.1 .7 .9 .5 1.4 .2 .2 .2 1 .7 1.3 .3-.7 .7 4.7 .7-2.5 .2-1.5 .2 .2 .3-.4 .2-1.3 .7-1.1 .2-2.3 .7 3.1 .7 0 .5-1.5 .2-3.7 1.4 2 .3 0 .2 .2 .7-.6 .5 .2 .2-.1 .2-4.1 .7 .2 1 1.1 .7-2.7 .2 .2 .2 2.8 .3 1.1 .2-.2 .7 4.4 .2 .4 .5 3.4 .2-.9 1 4.8 .4-.7 .3-1.1 .7-2.5 .2 2.6 .5-1.1 .2-.3 .7-4 .2-.1 .3-2 .2 .4 .2 1 .7 .6 .3-.6 .4 1.8 .3-.6 .7-1.3 .4 .9 .3 .8 .2-.4 .7-.2 .2 .5 .3-.5 .2-1.5 .2-.4 .7-.5 .3 .4 .4 1.5 1 8.4 .7-7.8 .2-4.2 .7 .2 .9 .9 .7-7.8 .5 3.8 .2-5 .3 6.3 .7-1.2 .2-1.1 .2 .8 .3 1.4 .2 0 .7 1.6 .2 1.9 .3 .4 .2 .7 .2 2.3 .7 3.3 .3-.5 .2-.2 .2-.6 .3 1.1 .7-2.2 .2-.3 .2-.6 .3-2 .2-.2 .9-2.1 .3 .2 .2-.9 .2 .3 .7-1.2 .3 .2 .2-1.1 .2-1.9 .3 1.2 .9 1.8 .5 1.8 .2-1.1 .7 2.5 .5 0 .4 2.7 .7 .4 .3 .5 .2 2.5 .2 1.2 .3-.7 .7 2.5 .2-.7 .2 .9 .3-.2 .2 1 .7-2.4 .2-1.3 .3 .5 .2-2.1 .2 .8 .7 1.7 .3 1.8 .2 .3 .2-.6 .3-.1 .9-1.2 .2 .7 .3 .4 .2 1.6 .7 1.2 .2 1.5 .2 .3 .3-2.1 .2 0 1.2-1.8 .2-1.9 .2 0 1 1.3 .2 .2 .5 4.2 .9 4.2 .2 0 .5 3.2 .9-2.8 .3 .1 .2-1 .2 1.4 .7-2 .3-3 .2-.3 .2-1.7 .3-.3 .9 1.9 .2-1.6 .3 .7 .2 .2 .7 .9 .2 1 .5-2.1 .2-.5 .7 1.3 .5 1.8 .2-.3 .3 2.6 .9 1.1 .2-.5 .3 0 .2 .9 .7 1.5 .2-.2 .3-.8 .2-1.6 .2-.7 .7-2.8 .3 .5 .4-1.1 .3-1.6 .7-1.2 .2 .1 .2 1.2 .3-.6 .2 1.8 .7 1.6 .2 0 .3 .2 .4 2.7 .7 .3 .3-.3 .2-2.6 .2 1.1 .3 2 .7 3.3 .4 3.1 .3 .6 .2-1.8 1.4-12.7 .2-.5 .7 .6 .3 .9 .2-.8 .2-.2 .3-.4 .7 2.5 .2 .2 .2-.3 .5 12.5 .7 6.2 .2 .9 .3 .3 .2-1.5 .9-8.5 .3-1.7 .2 .7 .2 1.4 .3-1.4 .7 .8 .2 1 .2-.1 .3-3.2 .2-1.3 .9-4.1 .3-1.4 .2 .2 .2-.2 .7-.1 .3 .3 .2 1.9 .2-1.9 .3-.7 .7-5 .2-2.6 .2 .1 .3-.5 .2-1 1.2-3.5 .2 0 .2 .3 .7 2.6 .5 .6 .5-1.1 .9-1.1 .5-1.9 .2 .3 .7-6.7 .9-2.5 1-2.8 .2-.1 1.2 4.4 .2-.1 .2 .2 .5 1.7 .7 .3 .7-3.2 .2-5.9 1.7 2.9 .7-.7 .4 .1 .3-4.1 .2 .5 .9 1.6 .7 3.3 .7 1 .3 1.4 .2 0 .5 .9 .9-2.6 .5 .1 .2 1.8 .7 3.8 .2-.4 .3-1.9 .2-.7 .2-1.9 .7-19.4 .7 2.2 .3 .8 .7 1.2 .2 1 .2 .4 .5-.7 .7-8.2 .2 0 .7 1.9 .7 1 .3 .7 .2-4.6 .2 2 .3 .4 .7-2.4 .2 2.7 .2 .9 .3 .5 .2 1.2 1.2 4.8 .2-.6 .2 .3 .7 2.2 .3 1.7 .2 .3 .2 .6 .3 2.5 .7 4.7 .2-1.9 .5 5.2 .2 1.2 .7-2.4 .2-.2 .3-.8 .2 1.5 .2-.9 1.2 8 .2-1 .3 .9 .7-3 .2 .7 .5-1.8 .2-1.4 .7-1 .5 2.5 .2-.7 .2-2 1-8.4 .2-1.8 .2-.9 .3 .6 1.1 .7 0 0" clip-path="url(#p397197523c)" style="fill:none;stroke:#0000ff;stroke-linecap:square"/><path d="M474 180.13l364.32 0" clip-path="url(#p397197523c)" style="fill:none;stroke:#000000;stroke-width:1.5;stroke-linecap:square"/><path d="M473.76 233.17v-210.72" class="c1"/><path d="M838.08 233.17v-210.72" class="c1"/><path d="M473.76 233.17l364.32 0" class="c1"/><path d="M473.76 22.45l364.32 0" class="c1"/><text x="655.97" y="16.32" textLength="152.61" lengthAdjust="spacingAndGlyphs" class="c6">Combined: EMA Error (%)</text><path d="M697.1 54l135.4 0Q834.1 54 834.1 52.4v-24.48Q834.1 26.32 832.5 26.32l-135.4 0Q695.5 26.32 695.5 27.92v24.48Q695.5 54 697.1 54z" class="c25"/><path d="M698.88 33.49l7.68 0 8.16 0" class="c26"/><text x="721.1" y="36.24" textLength="110.3" lengthAdjust="spacingAndGlyphs" class="c27">EMA Error (200 day expMA)</text><path d="M698.88 48.85l15.84 0 0-5.76-15.84 0z" class="c30"/><text x="721.1" y="48.88" textLength="105.21" lengthAdjust="spacingAndGlyphs" class="c27">EMA Error (50 day expMA)</text><path d="M903.84 233.17l364.32 0 0-210.72-364.32 0z" class="c5"/><defs><path id="m87bb0e921c" d="M920.6-1480.9v0l.7 4.4 .2 2.4 .3 1.6 .2 .3 .2 .8 .7-3.2 .3-1.4 .2-1.5 .2-1.5 .3-1.9 .7 4.6 .2 3.5 .2 3.2 .3 .3 .2 5.6 .7 1.3 .2-3.4 .3-5 .2-6.5 .2-3.6 .7 3.9 .3 1.1 .2 1.5 .2 .2 .3-.4 .7-5.7 .2-.6 .2 1.1 .3 1.3 .2 1.3 .7 3.8 .2 1.3 .3 3.1 .2 .7 .2 .7 .7 3.1 .3 0 .2 2.4 .2 1.6 .3-1.4 .7-6.3 .2-4.5 .2-2 .3-3.3 .2-2.9 .7 12.9 .2 4.3 .3-.5 .2-2.4 .2-3.4 .7 6.2 .3-.8 .2-2.8 .2-1.1 .3-1.8 .7-10.6 .2 .4 .2 1 .3 1.6 .2 1.7 .7-.1 .2-.1 .3-1.5 .2-1.7 .2-1.3 .7 0 .3 14.5 .2 5 .2 1.6 .3 .8 .7 6.3 .2 1 .2-2 .3-.6 .2 0 .7-9.2 .2-5.8 .3 2.9 .2 2.9 .2 5.2 .7 12.2 .3 6.5 .2 5.6 .2-.2 .3-5.6 .7 .2 .2-4.1 .2-7 .3 2.7 .2 6.6 .7 17.1 .2 3.9 .3-2.5 .2 .8 .2-2.4 .7-7.1 .3 .2 .2-.7 .2 3.8 .3 1.4 .7-10.4 .2-4.6 .2-2.2 .3 .2 .2-2 .7-.8 .2 0 .3 2.8 .2-.4 .2-.8 .7-.8 .3 5.6 .2 8.2 .2 7.3 .3 3 .7 11 .2 1.5 .2 2 .3 1.8 .2-.3 .7-1 .2 3.8 .3-1.2 .2 .1 .2-3.8 .7-9 .3 .3 .2 1.4 .2 2.6 .3 3.8 .7 5.5 .2 1.4 .2 2.3 .3-1.2 .2-1.8 .7-5.2 .2 3 .3 2.7 .2 1.6 .2-.4 .7-12.4 .3-3.6 .2-3 .2-1.7 .3-.3 .7-5.3 .2 0 .2-1.7 .3-1.7 .2-3.4 .7-5 .2 .3 .3-1.9 .2 .7 .2 1.4 .7-8.3 .3-5.4 .2-3 .2-.6 .3 4.9 .7 9.6 .2 1.1 .2 1.3 .3-.7 .2 3.3 .7 .4 .2-2.4 .3 3.8 .2-3.9 .2 1.1 .7 3.1 .3-.6 .2-.3 .2-1.7 .3-.7 .7-1.7 .2-2.4 .2-1.3 .3-3.7 .2 .7 .7 .7 .2 2.2 .3 5.5 .2 2.1 .2 1.8 .7 3.9 .3 1.1 .2 0 .2-.1 .3 3 .7 11.4 .2 3.9 .2-1.5 .3-2.1 .2-2 .7-4.8 .2-7.2 .3-.4 .2-1.8 .2 3.8 .7 4.8 .3 1.2 .2-3.5 .2-1.4 .3-7.8 .7-8.1 .2 1.3 .2-4.8 .3-1.9 .2-.9 .7 5.5 .2 3.3 .3 1.6 .2 1.9 .2 2.8 .7 7.1 .3-.1 .2-1.1 .2-.2 .3-.5 .7-2.9 .2-4.8 .2-.1 .3 .2 .2-2.1 .7 1.5 .2 2.1 .3 1.7 .2 .5 .2 1.1 .7 4.3 .3-2.1 .2-1 .2 .1 .3-3.1 .7-4.6 .2-1.3 .2-2 .3-.3 .2 2.3 .7 5 .2 2.8 .3 2.2 .2-.4 .2 .9 .7 4.3 .3 2.4 .2-2 .2 .9 .3-.3 .7 .7 .2 .4 .2-3.3 .3-2.8 .2-4.8 .7-.3 .2 4.2 .3 2.3 .2 2.3 .2 2.2 .7 4.8 .3 2.7 .2 .1 .2-.8 .3 1.4 .7-9.2 .2-2.9 .2-.5 .3-5 .2 1.2 .7-1.3 .2 .4 .3-2.1 .2 1.2 .2-1.3 .7-1 .3 1 .2-.1 .2 2.2 .3-1.3 .7 3 .2 1.6 .2-1 .3 .4 .2-1.2 .7-2 .2 2.7 .3-.3 .2 .3 .2-3.7 .7 .6 .3-1 .2-1.6 .2-1.7 .3-.4 .7 3.3 .2 1.8 .2 2.4 .3-3.1 .2-1.8 .7-2.3 .2 .7 .3-.5 .2 1.1 .2 1.3 .7 1.1 .3 2.8 .2 3.4 .2 2.1 .3 2.8 .7 4.2 .2-1.3 .2 1.9 .3 1.7 .2 2.7 .7 2.2 .2-1.6 .3-2.6 .2 .9 .2-1.2 .7-4.9 .3-1.9 .2-1.5 .2-.5 .3-3.2 .7-2.3 .2 2.8 .2 1.4 .3-.7 .2-1.1 .7-1.9 .2-1.5 .3-4.3 .2-4 .2-2.8 .7-7.6 .3-2.1 .2-.2 .2 2.2 .3 2.7 .7 5.8 .2 2.8 .2 3.7 .3 3.5 .2 3.3 .7 9 .2 1.3 .3 1.7 .2 .2 .2-2.3 .7-3.2 .3-1 .2 .1 .2-2.9 .3-1.6 .7-4.8 .2-1.2 .2-1.2 .3 1.1 .2-2.3 .7-.2 .2 .2 .3 1.9 .2 1.9 .2-1.2 .7 6.7 .3-1.5 .2 .2 .2 .7 .3-3.6 .7-6.2 .2-2 .2-3 .3-2.3 .2-2 .7-3.7 .2 .7 .3 1.3 .2-.4 .2-1.1 .7 2.8 .3 1.8 .2 3.4 .2-1.5 .3 .1 .7-2.6 .2-.3 .2 2.1 .3 .7 .2-2.8 .7 0 .2-.9 .3 2.8 .2 0 .2-2.9 .7 2.9 .3-1.3 .2 1.4 .2 1.5 .3-2.1 .7 1.6 .2-1.9 .2 .7 .3-.6 .2-1.8 .7-4.5 .2-2 .3 1.5 .2-5.5 .2-1.5 .7 1.3 .3 4.7 .2 4.1 .2 2 .3 .3 .7-3 .2 3 .2-.8 .3-2.2 .2-2.6 .7-2.9 .2-.6 .3-1.9 .2 .7 .2 .7 .7-.5 .3-1.5 .2 2.1 .2-3.6 .3 .3 .7-6.2 .2-2.9 .2-1.5 .3 2.6 .2 1.5 .7 2.6 .2-.3 .3 1.5 .2 .4 .2-.9 .7 4.5 .3 .2 .2-1.9 .2-3.2 .3 0 .7 .9 .2 .9 .2-.7 .3-2.1 .2 1.6 .7 5.4 .2 2.6 .3 1.7 .2 1.6 .2 2.4 .7 1.3 .3 3.1 .2-1.9 .2 .8 .3-4.4 .7-8.6 .2-3.3 .2 .2 .3 1.7 .2 3.6 .7 5.3 .2 1.1 .3-.6 .2 1.9 .2 1.1 .7 4.9 .3-.2 .2 1.6 .2-1.9 .3 1.5 .7 1.3 .2-.1 .2-3.6 .3-3.4 .2-1.7 .7-.7 .2 3.9 .3 .2 .2 2.3 .2-3.2 .7-11.1 .3-5.5 .2-.6 .2 .1 .3 .3 .7 2 .2 1.3 .2 1.4 .3-1 .2-1.6 .7-4.6 .2-.5 .3 .7 .2-1.9 .2 1.6 .7 3.8 .3 1.4 .2 .3 .2 0 .3 .9 .7 7.8 .2-4.9 .2-3 .3-1.8 .2-3 .7-10.2 .2-5.9 .3-3.7 .2 .1 .2 .2 .7 1 .3-1.3 .2 1.8 .2-.4 .3-.6 .7-.8 .2 0 .2 0 .3 0 .2 0 .7 1.7 .2 .9 .3 1.1 .2 1.3 .2 .8 .7 4 .3 2.1 .2-.4 .2-.5 .3 .3 .7 2.7 .2-3.7 .2-.3 .3-3.1 .2-.9 .7-6 .2 1 .3 .8 .2 .2 .2 1.8 .7-1.8 .3-.2 .2-.3 .2-.4 .3-1.1 .7 12.4 .2 3.7 .2-1 .3-4.9 .2-1.1 .7-.9 .2-.2 .3 .1 .2 2.7 .2-.5 .7-2.8 .3-3.4 .2-4.1 .2 1.7 .3 3 .7 8.2 .2-2.4 .2 1.1 .3 0 .2-.8 .7-1.6 .2 .2 .3 3 .2 4.9 .2-.8 .7-2.4 .3-1.8 .2 .3 .2-.7 .3-2.5 .7 4.5 .2 .8 .2 3.2 .3-1.7 .2-2.4 .7-3.2 .2-.1 .3-3.4 .2-3 .2-4.1 .7 1.5 .3 1.4 .2 .8 .2 .1 .3 1.7 .7 2.3 .2-1.6 .2 3.5 .3 2.1 .2 3.3 .7-5.1 .2-3.2 .3 .1 .2-1 .2-2.7 .7-2.4 .3-.8 .2 1.4 .2 2.3 .3 1.5 .7-.2 .2-1.6 .2-1.8 .3-1.6 .2 .2 .7 1.5 .2 .6 .3 .3 .2-.4 .2 .1 .7-1.3 .3-.2 .2-.2 .2-.4 .3-.2 .7 0 .2 .2 .2 .1 .3 .1 .2 .2 .7-.6 .2 0 .3 4.9 .2 1.6 .2-.6 .7 7.9 .3 .5 .2 2.3 .2 3.5 .3-1.8 .7 6.8 .2 1.7 .2-.7 .3-.7 .2-2.2 .7-4.8 .2 4.7 .3-1.2 .2-1.1 .2-.8 .7-7.6 .3-.4 .2-4 .2 .6 .3 1.5 .7 .9 .2-1.3 .2 1.2 .3 1.5 .2-1.3 .7-2.6 .2 .5 .3 .8 .2 1.2 .2-1 .7-.6 .3 .6 .2-1 .2-3.1 .3-1 .7-1.2 .2 .5 .2 1 .3 1.3 .2 3.7 .7 11.6 .2-4.6 .3-6.3 .2-4.2 .2-6.7 .7 0 .3 .1 .2 .1 .2 .1 .3 .2 .7-.5 .2 3.7 .2 2.3 .3-6 .2 10.6 .7-2.5 .2-2.2 .3 1.1 .2 2 .2-.3 .7 2.5 .3 3.1 .2 .5 .2 1 .3 3.8 .7 5.5 .2-1 .2-.5 .3-1.2 .2 1.9 .7-4.2 .2-.6 .3-1.2 .2-3.8 .2-.5 .7-2.8 .3-1.5 .2 .2 .2-2 .3 .2 .7-2.3 .2 0 .2-2.1 .3-3.7 .2 1.6 .7 2 .2 .7 .3 1.1 .2 1.5 .2-2.4 .7 4.3 .3-.3 .2-.2 .2 2.6 .3 1.7 .7 .4 .2 .7 .2 4.3 .3 2 .2-1.4 .7 4.3 .2-1.3 .3 1.5 .2-.5 .2 1.7 .7-4.2 .3-2.4 .2 .8 .2-4 .3 1.4 .7 2.9 .2 2.9 .2 .5 .3-1.2 .2-.2 .7-1.6 .2-.7 .3 1.2 .2 .5 .2 2.7 .7 2.2 .3 2.5 .2 .5 .2-3.6 .3-.2 .7-2 .2-.7 .2-.6 .3-3.4 .2-.2 .7 1.9 .2 .3 .3 .3 .2 3.6 .2 3.6 .7 5.4 .3 2 .2 .1 .2 2.5 .3 3.2 .7-3.5 .2-1.1 .2 .2 .3-1.7 .2 2.6 .7-3.6 .2-5.1 .3-.6 .2-3.1 .2-.6 .7 2.4 .3 1 .2-2.8 .2 1.2 .3 .2 .7 1.5 .2 1.9 .2-2.1 .3-1.7 .2-.9 .7 2.3 .2 1.5 .3 1.6 .2-.5 .2 4.7 .7 1.4 .3 .5 .2-.7 .2 0 .3 1.8 .7 2.5 .2-.1 .2-1.4 .3-2.7 .2-1.1 .7-5 .2 .9 .3-1.2 .2-.7 .2-2.9 .7-2.1 .3 .1 .2 2.1 .2-1.2 .3 3.3 .7 2.7 .2 0 .2 .4 .3 2.5 .2 2.3 .7 .7 .2-.5 .3-4.6 .2 2 .2 3.5 .7 5.9 .3 3.2 .2 2.5 .2 1.3 .3-3 .7-11.5 .2-3 .2-4.7 .3-2.9 .2-1.1 .7 1.1 .2 1.5 .3-1.5 .2-.4 .2-.8 .7 4.5 .3 .2 .2-.5 .2 9.5 .3 12.7 .7 11.1 .2 1.8 .2 .9 .3-2.5 .2-3.9 .7-10.4 .2-2.8 .3 1.4 .2 2.6 .2-2.4 .7 1.5 .3 2 .2-.2 .2-5.4 .3-2.1 .7-5.2 .2-2 .2-2.5 .3 .3 .2-.2 .7-.3 .2 .6 .3 3.2 .2-3.2 .2-1.3 .7-8.9 .3-4.6 .2 0 .2-1.1 .3-1.9 .7-4.3 .2-1.6 .2-.9 .3-.3 .2 .3 .7 4.3 .2 .3 .3 .4 .2-1 .2-1.3 .7-1.8 .3-.5 .2-2.1 .2-1.8 .3 .4 .7-4.2 .2 0 .2 0 .3 0 .2 0 .7 0 .2 0 .3 0 .2 1 .2 1.3 .7 3.8 .3-.7 .2 0 .2 1.2 .3 1.1 .7 .1 .2-2.1 .2-2 .3-2.3 .2-1.4 .7 1.6 .2 .5 .3 .3 .2 .3 .2-.2 .7-1.6 .3-.3 .2-.5 .2-.1 .3 .4 .7 1.2 .2 .4 .2 1.6 .3 1 .2 1.3 .7 1.3 .2 1.8 .3-.4 .2 .4 .2 .3 .7-3.3 .3-1.5 .2-.4 .2-.4 .3 2.6 .7 5.7 .2-1 .2-3.3 .3-1.4 .2-3.5 .7-2.8 .2 .6 .3 .4 .2 .4 .2 .5 .7 1.2 .3 .9 .2 .1 .2-1.3 .3-.9 .7-1.9 .2 0 .2 .2 .3 .3 .2 .2 .7 .9 .2 .2 .2-1.8 .3 2.1 .2-.1 .7-2 .2 3.1 .3 .7 .2 0 .2 1.1 .7 3.4 .3 .2 .2 1.4 .2-1.4 .3 0 .7 2.5 .2 1.9 .2-.1 .3 .4 .2 3 .7 6.1 .2-3 .3 4.1 .2 2.4 .2 1.4 .7-3.6 .3-.6 .2-1.4 .2 1.7 .3-1.6 .7 6.2 .2 1.4 .2 2.7 .3-1.5 .2 .9 .7-4.3 .2 .7 .3-1.6 .2-1.5 .2-2.2 .7-1.7 .3 1.3 .2 1.6 .2-1.2 .3-3.1 .7-10.2 .2-2.3 .2-2.9 .3-1.7 .2 .4 .7 .1 .2-.3 .3-.2 0-2.3 0 0-.3 0-.2 0-.7 0-.2 0-.3 0-.2 0-.2 0-.7 0-.3 0-.2 0-.2 0-.3 0-.7 0-.2 0-.2 0-.3 0-.2 0-.7 0-.2 0-.3 0-.2 0-.2 0-.7 0-.3 0-.2 0-.2 0-.3 0-.7 0-.2 0-.2 0-.3 0-.2 0-.7 0-.2 0-.3 0-.2 0-.2 0-.7 0-.3 0-.2 0-.2 0-.3 0-.7 0-.2 0-.2 0-.3 0-.2 0-.7 0-.2 0-.3 0-.2 0-.2 0-.7 0-.2 0-.3 0-.2 0-.2 0-.7 0-.3 0-.2 0-.2 0-.3 0-.7 0-.2 0-.2 0-.3 0-.2 0-.7 0-.2 0-.3 0-.2 0-.2 0-.7 0-.3 0-.2 0-.2 0-.3 0-.7 0-.2 0-.2 0-.3 0-.2 0-.7 0-.2 0-.3 0-.2 0-.2 0-.7 0-.3 0-.2 0-.2 0-.3 0-.7 0-.2 0-.2 0-.3 0-.2 0-.7 0-.2 0-.3 0-.2 0-.2 0-.7 0-.3 0-.2 0-.2 0-.3 0-.7 0-.2 0-.2 0-.3 0-.2 0-.7 0-.2 0-.3 0-.2 0-.2 0-.7 0-.3 0-.2 0-.2 0-.3 0-.7 0-.2 0-.2 0-.3 0-.2 0-.7 0-.2 0-.3 0-.2 0-.2 0-.7 0-.3 0-.2 0-.2 0-.3 0-.7 0-.2 0-.2 0-.3 0-.2 0-.7 0-.2 0-.3 0-.2 0-.2 0-.7 0-.3 0-.2 0-.2 0-.3 0-.7 0-.2 0-.2 0-.3 0-.2 0-.7 0-.2 0-.3 0-.2 0-.2 0-.7 0-.3 0-.2 0-.2 0-.3 0-.7 0-.2 0-.2 0-.3 0-.2 0-.7 0-.2 0-.3 0-.2 0-.2 0-.7 0-.3 0-.2 0-.2 0-.3 0-.7 0-.2 0-.2 0-.3 0-.2 0-.7 0-.2 0-.3 0-.2 0-.2 0-.7 0-.3 0-.2 0-.2 0-.3 0-.7 0-.2 0-.2 0-.3 0-.2 0-.7 0-.2 0-.3 0-.2 0-.2 0-.7 0-.3 0-.2 0-.2 0-.3 0-.7 0-.2 0-.2 0-.3 0-.2 0-.7 0-.2 0-.3 0-.2 0-.2 0-.7 0-.3 0-.2 0-.2 0-.3 0-.7 0-.2 0-.2 0-.3 0-.2 0-.7 0-.2 0-.3 0-.2 0-.2 0-.7 0-.3 0-.2 0-.2 0-.3 0-.7 0-.2 0-.2 0-.3 0-.2 0-.7 0-.2 0-.3 0-.2 0-.2 0-.7 0-.3 0-.2 0-.2 0-.3 0-.7 0-.2 0-.2 0-.3 0-.2 0-.7 0-.2 0-.3 0-.2 0-.2 0-.7 0-.3 0-.2 0-.2 0-.3 0-.7 0-.2 0-.2 0-.3 0-.2 0-.7 0-.2 0-.3 0-.2 0-.2 0-.7 0-.3 0-.2 0-.2 0-.3 0-.7 0-.2 0-.2 0-.3 0-.2 0-.7 0-.2 0-.3 0-.2 0-.2 0-.7 0-.3 0-.2 0-.2 0-.3 0-.7 0-.2 0-.2 0-.3 0-.2 0-.7 0-.2 0-.3 0-.2 0-.2 0-.7 0-.3 0-.2 0-.2 0-.3 0-.7 0-.2 0-.2 0-.3 0-.2 0-.7 0-.2 0-.3 0-.2 0-.2 0-.7 0-.3 0-.2 0-.2 0-.3 0-.7 0-.2 0-.2 0-.3 0-.2 0-.7 0-.2 0-.3 0-.2 0-.2 0-.7 0-.3 0-.2 0-.2 0-.3 0-.7 0-.2 0-.2 0-.3 0-.2 0-.7 0-.2 0-.3 0-.2 0-.2 0-.7 0-.3 0-.2 0-.2 0-.3 0-.7 0-.2 0-.2 0-.3 0-.2 0-.7 0-.2 0-.3 0-.2 0-.2 0-.7 0-.3 0-.2 0-.2 0-.3 0-.7 0-.2 0-.2 0-.3 0-.2 0-.7 0-.2 0-.3 0-.2 0-.2 0-.7 0-.3 0-.2 0-.2 0-.3 0-.7 0-.2 0-.2 0-.3 0-.2 0-.7 0-.2 0-.3 0-.2 0-.2 0-.7 0-.3 0-.2 0-.2 0-.3 0-.7 0-.2 0-.2 0-.3 0-.2 0-.7 0-.2 0-.3 0-.2 0-.2 0-.7 0-.3 0-.2 0-.2 0-.3 0-.7 0-.2 0-.2 0-.3 0-.2 0-.7 0-.2 0-.3 0-.2 0-.2 0-.7 0-.3 0-.2 0-.2 0-.3 0-.7 0-.2 0-.2 0-.3 0-.2 0-.7 0-.2 0-.3 0-.2 0-.2 0-.7 0-.3 0-.2 0-.2 0-.3 0-.7 0-.2 0-.2 0-.3 0-.2 0-.7 0-.2 0-.3 0-.2 0-.2 0-.7 0-.3 0-.2 0-.2 0-.3 0-.7 0-.2 0-.2 0-.3 0-.2 0-.7 0-.2 0-.3 0-.2 0-.2 0-.7 0-.3 0-.2 0-.2 0-.3 0-.7 0-.2 0-.2 0-.3 0-.2 0-.7 0-.2 0-.3 0-.2 0-.2 0-.7 0-.3 0-.2 0-.2 0-.3 0-.7 0-.2 0-.2 0-.3 0-.2 0-.7 0-.2 0-.3 0-.2 0-.2 0-.7 0-.3 0-.2 0-.2 0-.3 0-.7 0-.2 0-.2 0-.3 0-.2 0-.7 0-.2 0-.3 0-.2 0-.2 0-.7 0-.3 0-.2 0-.2 0-.3 0-.7 0-.2 0-.2 0-.3 0-.2 0-.7 0-.2 0-.3 0-.2 0-.2 0-.7 0-.3 0-.2 0-.2 0-.3 0-.7 0-.2 0-.2 0-.3 0-.2 0-.7 0-.2 0-.3 0-.2 0-.2 0-.7 0-.3 0-.2 0-.2 0-.3 0-.7 0-.2 0-.2 0-.3 0-.2 0-.7 0-.2 0-.3 0-.2 0-.2 0-.7 0-.3 0-.2 0-.2 0-.3 0-.7 0-.2 0-.2 0-.3 0-.2 0-.7 0-.2 0-.3 0-.2 0-.2 0-.7 0-.3 0-.2 0-.2 0-.3 0-.7 0-.2 0-.2 0-.3 0-.2 0-.7 0-.2 0-.3 0-.2 0-.2 0-.7 0-.3 0-.2 0-.2 0-.3 0-.7 0-.2 0-.2 0-.3 0-.2 0-.7 0-.2 0-.3 0-.2 0-.2 0-.7 0-.3 0-.2 0-.2 0-.3 0-.7 0-.2 0-.2 0-.3 0-.2 0-.7 0-.2 0-.3 0-.2 0-.2 0-.7 0-.3 0-.2 0-.2 0-.3 0-.7 0-.2 0-.2 0-.3 0-.2 0-.7 0-.2 0-.3 0-.2 0-.2 0-.7 0-.3 0-.2 0-.2 0-.3 0-.7 0-.2 0-.2 0-.3 0-.2 0-.7 0-.2 0-.3 0-.2 0-.2 0-.7 0-.3 0-.2 0-.2 0-.3 0-.7 0-.2 0-.2 0-.3 0-.2 0-.7 0-.2 0-.3 0-.2 0-.2 0-.7 0-.3 0-.2 0-.2 0-.3 0-.7 0-.2 0-.2 0-.3 0-.2 0-.7 0-.2 0-.3 0-.2 0-.2 0-.7 0-.3 0-.2 0-.2 0-.3 0-.7 0-.2 0-.2 0-.3 0-.2 0-.7 0-.2 0-.3 0-.2 0-.2 0-.7 0-.3 0-.2 0-.2 0-.3 0-.7 0-.2 0-.2 0-.3 0-.2 0-.7 0-.2 0-.3 0-.2 0-.2 0-.7 0-.3 0-.2 0-.2 0-.3 0-.7 0-.2 0-.2 0-.3 0-.2 0-.7 0-.2 0-.3 0-.2 0-.2 0-.7 0-.3 0-.2 0-.2 0-.3 0-.7 0-.2 0-.2 0-.3 0-.2 0-.7 0-.2 0-.3 0-.2 0-.2 0-.7 0-.3 0-.2 0-.2 0-.3 0-.7 0-.2 0-.2 0-.3 0-.2 0-.7 0-.2 0-.3 0-.2 0-.2 0-.7 0-.3 0-.2 0-.2 0-.3 0-.7 0-.2 0-.2 0-.3 0-.2 0-.7 0-.2 0-.3 0-.2 0-.2 0-.7 0-.3 0-.2 0-.2 0-.3 0-.7 0-.2 0-.2 0-.3 0-.2 0-.7 0-.2 0-.3 0-.2 0-.2 0-.7 0-.3 0-.2 0-.2 0-.3 0-.7 0-.2 0-.2 0-.3 0-.2 0-.7 0-.2 0-.3 0-.2 0-.2 0-.7 0-.3 0-.2 0-.2 0-.3 0-.7 0-.2 0-.2 0-.3 0-.2 0-.7 0-.2 0-.3 0-.2 0-.2 0-.7 0-.3 0-.2 0-.2 0-.3 0-.7 0-.2 0-.2 0-.3 0-.2 0-.7 0-.2 0-.3 0-.2 0-.2 0-.7 0-.3 0-.2 0-.2 0-.3 0-.7 0-.2 0-.2 0-.3 0-.2 0-.7 0-.2 0-.3 0-.2 0-.2 0-.7 0-.3 0-.2 0-.2 0-.3 0-.7 0-.2 0-.2 0-.3 0-.2 0-.7 0-.2 0-.3 0-.2 0-.2 0-.7 0-.3 0-.2 0-.2 0-.3 0-.7 0-.2 0-.2 0-.3 0-.2 0-.7 0-.2 0-.3 0-.2 0-.2 0-.7 0-.3 0-.2 0-.2 0-.3 0-.7 0-.2 0-.2 0-.3 0-.2 0-.7 0-.2 0-.3 0-.2 0-.2 0-.7 0-.3 0-.2 0-.2 0-.3 0-.7 0-.2 0-.2 0-.3 0-.2 0-.7 0-.2 0-.3 0-.2 0-.2 0-.7 0-.3 0-.2 0-.2 0-.3 0-.7 0-.2 0-.2 0-.3 0-.2 0-.7 0-.2 0-.3 0-.2 0-.2 0-.7 0-.3 0-.2 0-.2 0-.3 0-.7 0-.2 0-.2 0-.3 0-.2 0-.7 0-.2 0-.3 0-.2 0-.2 0-.7 0-.3 0-.2 0-.2 0-.3 0-.7 0-.2 0-.2 0-.3 0-.2 0-.7 0-.2 0-.3 0-.2 0-.2 0-.7 0-.3 0-.2 0-.2 0-.3 0-.7 0-.2 0-.2 0-.3 0-.2 0-.7 0-.2 0-.3 0-.2 0-.2 0-.7 0-.3 0-.2 0-.2 0-.3 0-.7 0-.2 0-.2 0-.3 0-.2 0-.7 0-.2 0-.3 0-.2 0-.2 0-.7 0-.3 0-.2 0-.2 0-.3 0-.7 0-.2 0-.2 0-.3 0-.2 0-.7 0-.2 0-.3 0-.2 0-.2 0-.7 0-.3 0-.2 0-.2 0-.3 0-.7 0-.2 0-.2 0-.3 0-.2 0-.7 0z"/></defs><g clip-path="url(#pc22fca0723)"><use href="#m87bb0e921c" x="0" y="1503.25" class="c31"/></g><path d="M920.64 233.17v-210.72" class="c13"/><path d="M962.88 233.17v-210.72" class="c13"/><path d="M1006.08 233.17v-210.72" class="c13"/><path d="M1048.32 233.17v-210.72" class="c13"/><path d="M1091.04 233.17v-210.72" class="c13"/><path d="M1133.76 233.17v-210.72" class="c13"/><path d="M1176.48 233.17v-210.72" class="c13"/><path d="M1218.72 233.17v-210.72" class="c13"/><path d="M1261.92 233.17v-210.72" class="c13"/><path d="M903.84 226.93l364.32 0" class="c13"/><text x="896.98" y="230.7" textLength="21.1" lengthAdjust="spacingAndGlyphs" class="c0">−60</text><path d="M903.84 192.85l364.32 0" class="c13"/><text x="896.98" y="196.61" textLength="21.1" lengthAdjust="spacingAndGlyphs" class="c0">−50</text><path d="M903.84 158.77l364.32 0" class="c13"/><text x="896.98" y="162.52" textLength="21.1" lengthAdjust="spacingAndGlyphs" class="c0">−40</text><path d="M903.84 124.69l364.32 0" class="c13"/><text x="896.98" y="128.43" textLength="21.1" lengthAdjust="spacingAndGlyphs" class="c0">−30</text><path d="M903.84 90.61l364.32 0" class="c13"/><text x="896.98" y="94.34" textLength="21.1" lengthAdjust="spacingAndGlyphs" class="c0">−20</text><path d="M903.84 56.53l364.32 0" class="c13"/><text x="896.98" y="60.25" textLength="21.1" lengthAdjust="spacingAndGlyphs" class="c0">−10</text><path d="M903.84 22.45l364.32 0" class="c13"/><text x="896.98" y="26.16" textLength="6.36" lengthAdjust="spacingAndGlyphs" class="c0">0</text><text x="869.88" y="127.73" transform="rotate(-90 869.88 127.73)" textLength="65.78" lengthAdjust="spacingAndGlyphs" class="c4">Drawdown %</text><path d="M920.6 22.3l.7 4.4 .5 4 .2 .4 .2 .8 1-4.6 .7-5 .7 4.7 .4 6.6 .3 .4 .2 5.6 .7 1.3 .2-3.4 .7-15.2 1.2 6.5 .2 .3 .3-.4 .7-5.7 .2-.7 .7 3.7 .9 5.1 .3 3.2 .4 1.3 .7 3.1 .3 0 .4 4.1 .3-1.4 .7-6.3 .2-4.5 .2-2 .5-6.3 .9 17.3 .3-.5 .4-5.9 .7 6.2 .3-.8 .2-2.8 .2-1 .3-1.9 .7-10.6 .2 .5 .2 .9 .5 3.3 .7 0 .2-.2 .7-4.5 .7 0 .3 14.6 .2 4.9 .2 1.7 .3 .7 .7 6.4 .2 1 .2-2 .3-.7 .2 .1 .7-9.2 .2-5.9 .5 5.9 .2 5.1 .7 12.3 .5 12 .2-.2 .3-5.6 .7 .3 .2-4.1 .2-7.1 .3 2.8 .9 23.6 .2 3.9 .3-2.5 .2 .9 .9-9.6 .3 .3 .2-.7 .2 3.7 .3 1.4 1.1-17.1 .3 .1 .2-2 .7-.8 .2 0 .3 2.9 .2-.4 .2-.8 .7-.9 .5 13.9 .2 7.2 .3 3 .7 11 .7 5.3 .2-.2 .7-1 .2 3.7 .3-1.2 .2 .1 .2-3.7 .7-9 .3 .2 .2 1.4 .5 6.4 1.1 9.3 .5-3.1 .7-5.2 .5 5.8 .2 1.6 .2-.4 1.2-19 .2-1.8 .3-.2 .7-5.3 .2-.1 .5-3.4 .2-3.4 .7-4.9 .2 .2 .3-1.8 .2 .6 .2 1.4 .7-8.2 .5-8.5 .2-.5 .3 4.9 .7 9.6 .4 2.3 .3-.7 .2 3.4 .7 .4 .2-2.4 .3 3.7 .2-3.8 .9 4.2 .3-.7 .2-.3 .2-1.6 1-2.5 .7-7.3 .2 .7 .7 .6 .2 2.2 .3 5.5 .4 4 1 5 .2 0 .2-.2 .3 3 .9 15.4 .5-3.7 .2-1.9 .7-4.9 .2-7.2 .3-.3 .2-1.9 .2 3.9 1 6 .2-3.5 .2-1.5 .3-7.7 .7-8.1 .2 1.3 .2-4.8 .3-1.9 .2-.9 .7 5.5 .2 3.3 .5 3.4 .9 9.9 .3-.1 .2-1.1 .2-.2 .3-.4 .7-3 .2-4.8 .2-.1 .3 .2 .2-2 .7 1.5 .5 3.7 .2 .5 .2 1.2 .7 4.3 .3-2.1 .2-1.1 .2 .1 .3-3.1 1.1-7.9 .3-.3 .2 2.4 .7 4.9 .5 5.1 .2-.5 .2 .9 .7 4.4 .3 2.3 .2-2 .2 .9 .3-.2 .7 .6 .2 .4 .7-10.8 .7-.4 .5 6.5 .4 4.5 .7 4.9 .3 2.7 .2 0 .2-.7 .3 1.4 .9-12.2 .2-.5 .3-4.9 .2 1.2 .7-1.3 .2 .4 .3-2.2 .2 1.3 .2-1.3 .7-1.1 .3 1.1 .2-.1 .2 2.2 .3-1.4 .7 3 .2 1.6 .2-1 .3 .5 .2-1.2 .7-2.1 .2 2.8 .3-.3 .2 .2 .2-3.7 .7 .6 .3-.9 .4-3.3 .3-.5 .7 3.3 .4 4.2 .5-4.9 .7-2.3 .2 .8 .3-.5 .4 2.3 .7 1.2 1 11 .7 4.2 .2-1.3 .7 6.4 .7 2.2 .2-1.6 .3-2.6 .2 .9 .2-1.3 1.2-8.2 .2-.6 .3-3.2 .7-2.2 .2 2.8 .2 1.4 .3-.7 .2-1.2 .7-1.9 .2-1.5 .7-11.1 1-9.6 .2-.3 1.4 13.6 .7 10.4 .7 9 .5 3.1 .2 .1 .2-2.3 1-4.1 .2 .1 .5-4.5 1.1-7.3 .3 1.1 .2-2.3 .7-.2 .2 .3 .5 3.8 .2-1.3 .7 6.7 .3-1.5 .2 .3 .2 .7 .3-3.7 1.1-11.1 .5-4.4 .7-3.7 .2 .8 .3 1.3 .2-.4 .2-1.1 .7 2.7 .3 1.8 .2 3.4 .2-1.5 .3 .2 .7-2.6 .2-.3 .2 2 .3 .8 .2-2.9 .7 0 .2-.9 .3 2.8 .2 .1 .2-3 .7 2.9 .3-1.2 .4 2.8 .3-2 .7 1.5 .2-1.8 .2 .7 .3-.7 .2-1.8 .9-6.4 .3 1.4 .2-5.4 .2-1.5 .7 1.2 .5 8.8 .2 2 .3 .3 .7-3 .2 3.1 .2-.8 .5-4.8 .9-3.5 .3-2 .4 1.5 .7-.5 .3-1.5 .2 2.1 .2-3.6 .3 .2 1.1-10.6 .5 4.2 .7 2.5 .2-.2 .3 1.5 .2 .4 .2-.9 .7 4.5 .3 .2 .2-2 .2-3.2 .3 0 .7 .9 .2 1 .2-.8 .3-2.1 .9 7.1 .5 4.3 .2 1.5 .2 2.4 .7 1.3 .3 3.1 .2-1.8 .2 .7 .3-4.4 .9-11.9 .2 .2 .3 1.8 .2 3.6 .9 6.3 .3-.6 .4 3 .7 5 .3-.3 .2 1.7 .2-1.9 .3 1.4 .7 1.4 .2-.1 .5-7.1 .2-1.7 .7-.6 .2 3.9 .3 .1 .2 2.3 .2-3.1 1.2-17.3 .2 .1 .3 .4 .7 1.9 .4 2.7 .3-1 .9-6.2 .2-.5 .3 .8 .2-1.9 .2 1.5 1 5.2 .2 .3 .2 0 .3 1 .7 7.7 .4-7.8 .3-1.9 .9-13.2 .5-9.6 .2 .1 .2 .3 .7 .9 .3-1.3 .2 1.8 .2-.3 .3-.7 .7-.8 .9 0 .7 1.8 .5 1.9 1.4 8.3 .4-1 .3 .3 .7 2.7 .2-3.7 .2-.2 .3-3.1 .2-.9 .7-6.1 .5 1.8 .2 .3 .2 1.8 .7-1.9 .5-.4 .2-.5 .3-1.1 .9 16.1 .2-1 .3-4.8 .2-1.2 .9-1 .3 .1 .2 2.7 .2-.6 .7-2.8 .5-7.5 .2 1.8 1 11.2 .2-2.5 .2 1.1 .3 .1 .2-.9 .7-1.6 .2 .2 .3 3.1 .2 4.8 .9-3.1 .3-1.9 .2 .3 .2-.7 .3-2.4 .9 5.3 .2 3.2 .5-4.1 .7-3.3 .2-.1 .7-10.5 .7 1.5 .5 2.3 .2 .1 .3 1.6 .7 2.4 .2-1.6 .7 8.8 .7-5.1 .2-3.1 .3 0 .2-1 .2-2.6 1-3.3 .2 1.5 .5 3.8 .7-.2 .7-5.1 .2 .3 1.2 2.3 .2-.3 .2 .1 .7-1.4 .5-.3 .5-.7 .7 .1 .9 .5 .7-.6 .2 0 .3 4.9 .2 1.7 .2-.7 .7 7.9 .3 .6 .2 2.2 .2 3.5 .3-1.8 .9 8.6 .5-1.5 .2-2.2 .7-4.7 .2 4.6 .7-3 .7-7.7 .3-.3 .2-4.1 .2 .6 .3 1.6 .7 .8 .2-1.3 .5 2.8 .2-1.4 .7-2.6 .5 1.3 .2 1.3 .2-1 .7-.7 .3 .7 .2-1 .2-3.2 .3-1 .7-1.1 .2 .4 .5 2.3 .9 15.3 .7-15 .2-6.8 1 .2 .7 .3 .7-.5 .4 6 .3-6 .2 10.6 .7-2.5 .2-2.1 .3 1 .2 2 .2-.3 .7 2.6 .3 3 .2 .5 .2 1.1 .3 3.7 .7 5.5 .2-1 .2-.4 .3-1.3 .2 1.9 .7-4.1 .2-.7 .3-1.2 .2-3.8 .2-.5 .7-2.8 .3-1.5 .2 .2 .2-1.9 .3 .2 .7-2.3 .2-.1 .2-2.1 .3-3.7 .2 1.7 .9 2.7 .5 2.5 .2-2.3 .7 4.2 .5-.4 .5 4.2 .7 .5 .2 .7 .2 4.3 .3 2 .2-1.5 .7 4.3 .2-1.3 .3 1.6 .2-.5 .2 1.7 .7-4.2 .3-2.4 .2 .7 .2-3.9 .3 1.4 .7 2.8 .2 3 .2 .4 .3-1.1 .2-.2 .9-2.3 .3 1.2 .2 .4 .2 2.8 .7 2.1 .3 2.5 .2 .5 .2-3.6 .3-.1 1.1-3.4 .3-3.4 .2-.1 .7 1.8 .5 .6 .4 7.3 1 7.3 .2 .2 .5 5.7 .9-4.6 .2 .1 .3-1.7 .2 2.6 .7-3.5 .2-5.2 .3-.5 .2-3.1 .2-.6 1 3.4 .2-2.8 .2 1.2 .3 .1 .7 1.6 .2 1.8 .5-3.8 .2-.8 .7 2.3 .5 3.1 .2-.5 .2 4.6 1 2 .2-.7 .2 0 .3 1.7 .7 2.6 .2-.1 .2-1.4 .3-2.8 .2-1.1 .7-5 .2 1 .3-1.3 .2-.6 .2-2.9 .7-2.2 .3 .2 .2 2.1 .2-1.3 .3 3.3 .7 2.8 .2 0 .2 .4 .5 4.8 .7 .6 .2-.5 .3-4.6 .2 2 .2 3.5 .7 5.9 .5 5.7 .2 1.3 .3-3 1.4-22 .2-1.1 .7 1.1 .2 1.5 .3-1.5 .2-.4 .2-.8 .7 4.4 .3 .3 .2-.5 .5 22.1 .7 11.1 .2 1.9 .2 .8 .3-2.4 .9-14.3 .2-2.8 .3 1.3 .2 2.6 .2-2.3 .7 1.5 .3 2 .2-.2 .2-5.5 .3-2 .9-7.2 .2-2.6 .3 .4 .2-.2 .7-.4 .2 .6 .3 3.3 .2-3.3 .2-1.3 .7-8.8 .3-4.6 .2 0 .2-1.1 .3-1.9 1.1-6.9 .3-.2 .2 .3 .7 4.3 .5 .6 .4-2.2 1-2.4 .4-3.8 .3 .4 .7-4.3 2.1 0 .4 2.3 .7 3.9 .3-.7 .2-.1 .5 2.3 .7 .1 .9-7.8 1.2 2.4 .2 .4 .2-.3 1.2-2.3 .2-.2 1.2 2 .5 2.6 .2 1.3 .7 1.3 .2 1.8 .3-.4 .4 .8 1.2-5.3 .2-.3 .3 2.5 .7 5.7 .2-.9 .2-3.4 .3-1.4 .2-3.4 .7-2.9 .5 1.1 .4 .9 .7 1.1 .3 1 .2 0 .5-2.2 .7-1.9 .2 0 .7 .7 .9 1.2 .2-1.9 .3 2.1 .2 0 .7-2.1 .2 3.2 .3 .7 .2 0 .9 4.4 .3 .3 .2 1.4 .2-1.4 .3 0 .7 2.5 .2 1.8 .2-.1 .3 .4 .2 3 .7 6.2 .2-3.1 .5 6.6 .2 1.3 1.2-5.5 .2 1.7 .3-1.6 1.1 10.2 .3-1.5 .2 .9 .7-4.3 .2 .7 .7-5.2 .7-1.8 .5 2.9 .2-1.2 1.7-20.1 .2 .3 .7 .1 .5-.4 0 0" clip-path="url(#pc22fca0723)" style="fill:none;stroke:#ff0000;stroke-linecap:square"/><path d="M903.84 233.17v-210.72" class="c1"/><path d="M1268.16 233.17v-210.72" class="c1"/><path d="M903.84 233.17l364.32 0" class="c1"/><path d="M903.84 22.45l364.32 0" class="c1"/><text x="1086.11" y="16.32" textLength="307.2" lengthAdjust="spacingAndGlyphs" class="c6">Combined: Drawdown (%), min drawdown -24.28%</text><path d="M43.68 474.13l364.32 0 0-210.72-364.32 0z" class="c5"/><path d="M60.48 474.13v-210.72" class="c20"/><path d="M102.72 474.13v-210.72" class="c20"/><path d="M145.92 474.13v-210.72" class="c20"/><path d="M188.16 474.13v-210.72" class="c20"/><path d="M230.88 474.13v-210.72" class="c20"/><path d="M273.12 474.13v-210.72" class="c20"/><path d="M316.32 474.13v-210.72" class="c20"/><path d="M358.56 474.13v-210.72" class="c20"/><path d="M401.28 474.13v-210.72" class="c20"/><path d="M43.68 470.77l364.32 0" class="c20"/><text x="36.7" y="474.81" textLength="15.9" lengthAdjust="spacingAndGlyphs" class="c0">0.5</text><path d="M43.68 432.85l364.32 0" class="c20"/><text x="36.7" y="436.67" textLength="15.9" lengthAdjust="spacingAndGlyphs" class="c0">1.0</text><path d="M43.68 394.93l364.32 0" class="c20"/><text x="36.7" y="398.54" textLength="15.9" lengthAdjust="spacingAndGlyphs" class="c0">1.5</text><path d="M43.68 356.53l364.32 0" class="c20"/><text x="36.7" y="360.4" textLength="15.9" lengthAdjust="spacingAndGlyphs" class="c0">2.0</text><path d="M43.68 318.61l364.32 0" class="c20"/><text x="36.7" y="322.27" textLength="15.9" lengthAdjust="spacingAndGlyphs" class="c0">2.5</text><path d="M43.68 280.21l364.32 0" class="c20"/><text x="36.7" y="284.13" textLength="15.9" lengthAdjust="spacingAndGlyphs" class="c0">3.0</text><text x="14.88" y="368.92" transform="rotate(-90 14.88 368.92)" textLength="56.71" lengthAdjust="spacingAndGlyphs" class="c4">Normalized</text><path d="M60.3 432.8l.7 .9 .3 .5 .2 1.2 .2 0 .3-.4 .7 .8 .2 0 .2-1.1 .5-.8 .7-16 .2-.1 .5 10 .2 2.8 .7-.6 .3 .6 .2-1.4 1.2-18.2 .4 1.1 .5 1.2 .7-7.8 .2 5 .3-.1 .2-.9 .2 .9 .7 .5 .3 1 .2 2.4 .5 7.6 .7 5.2 .2 .5 .2 1.7 .5-3.7 1.2-8.2 .2 .4 .2-2.9 1 10.2 .4-2.6 .3 1.1 .7 5.5 .2-1 .5-11.2 .2-1.9 .7-1.7 .2 .2 .7 8.4 .7-3.9 .3-2.5 .7 3.8 .7 6.7 .4 7.3 .5-1.6 1.2 4.9 .2-1.8 .2-2.7 .7-3.7 .3-2.9 .4 2.2 .3 3 .7 6.9 .4-1.7 .3-2.6 .9-4.4 .2-2.6 .3-1.2 .4 7.6 .7 5.5 .3-1 .2 1.1 .2 1.8 .3-.4 .7-4 .2 0 .2-.8 1.2-7.6 .2-2.6 .7-15.5 .7-.2 .3 .4 .2-1.8 .2 .6 .3-.7 .7-.6 .2 3.1 .5 13.9 .2 .5 .7 5.7 .2-.6 .5 3.2 .2-.1 .7-2.4 .5 6.7 .2-.9 .3-1.5 .7-2.5 .2 1.6 .2 2.7 .3 .4 .2 .8 .7 4.8 .2 .8 .5-3.7 .2 .8 1.2 5.1 .2-.1 .3 .2 .7-2.4 .7-5.3 .2 .8 .7 0 .2-1.8 .3 .3 .4-2 .7-2.6 .3-2.5 .2-.3 .5 5.1 .9-8.6 .2-2.1 .3-.4 .2 5.3 .9 9.5 .3-2 .2 .9 .2-1.3 .7-.4 .3 1.6 .2 .2 .2 2 .3 0 .7-.8 .2-.5 .2-.1 .3-.9 .2 1.5 .7 1.7 .2 1.1 .3-1.9 .2 1.3 .2-2.1 .7-.6 .3-.7 .4 4.8 .3 1.5 .7 3.9 .2-.3 .2 1.5 .3-.2 .2-.3 .7-1.4 .2-1.2 .3 .1 .2-1.3 .2 .7 .7-.3 .3-1.9 .2 1.5 .2-.7 1 5.8 .2 1.7 .2-1.1 .3 .7 .2-1.8 .7-3.3 .2-.4 .3-.8 .2-1.6 .2-.3 .7 4.5 .3 .4 .4 2.8 .3 .7 .7 1.4 .2-1.1 .5 1.2 .2-2 .7-5 .2 .3 .3-.3 .2 .3 .2-1.6 .7 4.2 .3-.5 .2-.2 .2 1.2 .3-.6 .7 1.4 .2-1.2 .5 1 .2 .6 .7-1.5 .2-.2 .3-1.1 .2 2 .2 .1 .7 2.4 .5-1 .5 1.2 .7 .9 .2 0 .2-.6 .3-2 .2-.4 .7 1 .2 .1 .3 .4 .4-.9 .7 .5 .5-.3 .2 .7 .3 1.2 .7 1 .2-.5 .2 1.8 .5-.1 1.2-5.5 .2-.1 .2-1.6 1-.3 .2-.3 .2 1.5 .3 .9 .7-1.4 .2 .5 .2 .9 .3-.1 .9-1.2 .2-.3 .3 1.3 .2-1.4 .2-.2 1-.1 .2 .2 .2 1.9 .3-.5 .9 .7 .7 5.2 .7 .1 .2 .5 .3-.8 .2 .5 .2-1.6 .7-1.8 .3 .1 .2-.2 .2-.8 .3-1.3 .9-2.1 .2-1.3 .5 6.3 .9 3 .3-.1 .2 1.6 .2-.2 .7-2.6 .3-1.6 .2 .6 .2 .1 .3-1 .7-2.6 .4 1.7 .3-1 .9 2.3 .2-1 .3 1.9 .2 .9 .2-1.1 .7-.7 .3-1.1 .2 .9 .5-2 .7-3 .4 0 .5 0 .9 4.4 .7-2.4 .7 1 .3-.9 .7 3.6 .7-1.7 .2-.3 .2 .9 .3 .3 .9-2.1 .2 1.6 .5-4.1 .9-1.1 .3-.3 .2 .4 .2 .1 .3 1.2 .7 1.3 .2-2.9 .5-1.3 .2-1 .9-5.5 .5 1.1 .2 .9 .7 2.1 .3 1.7 .2 .4 .2-.5 .3-1.7 .7 1.9 .2-.4 .2-.6 .3-1 .2-.3 .7 .1 .2-1 .3-.2 .4 2.8 .7-.1 .3 1.1 .2-.4 .2-1.3 1 .2 .2 .1 .2-1.2 .3-.5 .2 1.2 .7 2.5 .5 3.2 .4-2.9 .7-1.8 .3 .4 .2-2.2 .2-.2 .3 .1 .7 .8 .2-.7 .2 2 .5-.9 .7 .2 .2-.2 .3-1.4 .2-3.7 1.2-7.2 .2 1.4 .2-.3 .3-1.2 .7-.6 .2-2.2 .2 .2 .3 .6 .2-.5 .9-3.4 .3-1.9 .2 .7 .2-.4 .7-.1 .3 2.8 .2-.1 .5 2.1 .7 1.8 .2 2.2 .2-.2 .3 .1 .2-.6 .7 1.8 .2 1.4 .3-1 .4 1.8 1.4-7.8 .3-.1 .7-1.6 .2 .5 .2 0 .3-.4 .2-1.9 .7 .1 .2-.5 .3 .6 .4 5.1 .7 2.6 .3-.5 .2 .4 .2-1.3 .3 .2 .7-1.1 .2 0 .2 1.2 .3-.6 .2 1 .7 .4 .2-.1 .3-.4 .2-1.2 .2-1.7 .7 1.9 .3-.2 .4 6 .3-.7 1.1-10.6 .3 .4 .2 0 .7-2.6 .2 .9 .3-.1 .2-1.9 .9-3.4 .3 0 .2-1.1 .2 1.2 .3-.8 .7 0 .2 .6 .2 2.8 .3 1.3 .2 1.9 .7 3.7 .2 .4 .3 1.6 .4-1.7 1.2-12.6 .5-8.8 .9 3.2 .2 0 .5 2.6 .7-.6 .2-3.1 .3-1.4 .2-11.8 .2 0 .7 1 .3 .8 .2 2 .2 4 .3 .2 .7-.1 .2-.7 .2-2 .3-3.3 .2-.7 .7 4.8 .2-.1 .7-4.3 1-1.5 .2-8.3 .5 1.4 .7 .8 .4-1.5 .2-.5 .3-3.9 1.1 13.6 .3 1 .2 2.2 .7 4.9 .2 .1 .3 2.5 .2 1.3 .2-.7 .7-16.6 .3 1.3 .2 5.6 .2-2 .3-5.3 .7 .2 .2 2.1 .2 1 .3 2.2 .2 0 .7 .9 .2 .1 .3 .6 .2 4.1 .2 .9 1-5.2 .2-.9 .2 .6 1 7.2 .2 .5 .2 1.6 .5-4.6 1.4-7.6 .2 1.8 .7 6.6 .5-2.9 .2-1.3 1 4.1 .2 .5 .2 1.8 .3 .7 .2 2.6 .7-4 .2 .3 .3 2 .2-.3 .2 1.1 .7-2.3 .3 .2 1.4-10.7 .2-.1 .2-1.1 .3-4.6 .2 2.2 .9 0 .5-3.5 .2 0 .7 1.4 .7 7.3 .3-.8 .7-1.5 .2 1.7 .2 0 .3 0 .2 .4 1.2-6.2 .2 .3 .2-.3 .7-.6 .3 1 .4 9.3 .3-.3 .9 2.8 .2-1.3 .3 .1 .2-1.8 .7 1.2 .2 .2 .5 .9 .2 .3 .7-16.3 .3-2.7 .2 1.1 .2-.3 .3 4.1 .9-1.1 .2-.6 .3 .4 .2 1.4 .7 2.6 .2 .3 .3 .7 .2-.7 .2 2.9 .7 .5 .3-1.1 .2 .7 .2-.5 1 6 .2 1.2 .5-1.2 .2 .9 .7-1.2 .2-4.1 .3-6 .4-3 .7-11.3 .5 2.8 .2 1.8 .3-1.2 .7-12.3 .2 1.5 .2-4 .3 5.3 .2 1.5 .7-.2 .2-.2 .3 4.6 .2-.9 .9 5.8 .3-.1 .2 1.6 .2 2.8 .3 .4 .7 .1 .4-1.7 .3-2.1 .2-3.2 .7-3.2 .2-1.9 .3 .7 .2 1.8 .2-3.1 1-6 1.6-7.3 .2-1 .3 2.2 .2-4 .7 19.6 .2 2.2 .3 .8 .4 3.2 1-4.9 .2 .5 .2-1.2 .3 1.5 .9-.9 .2-.5 .3-.1 .2 4.3 .7 2.4 .5 3.2 .4-.8 .7 1.9 .3-3 .2-1.3 .2 1.9 .3-.2 .9 1.9 .2 1.6 .3-.5 .2-1.4 .7-6.8 .2-.9 .5 1.8 .2 7 .7 1.9 .3-1.6 .2 1.9 .2 .2 .3-1.1 .7 3.9 .2-3.1 .2 .1 .3-.6 .2 .1 1.2 11.4 .2-4.1 .2 4.3 .7 3 .3 2.5 .2 .6 .2 1.5 .3-.3 .7-4 .2-.2 .2-2.5 .3 2.9 .2 1.3 .7 1.9 .5-5.4 .2-2.3 .2-3.5 .7 4 .3 .4 .2 2.9 .2-1.3 .3 .1 1.4 6 .2 .2 .7 .1 .2 1.2 .3 1.8 .2-.8 .2 2.6 .7 .1 .3 1.5 .2 2.6 .2-2.1 .3-.3 .7 2 .9-8.3 .7-4.3 .5-1.3 .2 0 .2 .4 1 2.9 .2-.2 .2 1.4 .3 .4 .7 .4 .2 .7 .7-6.3 .7 1.2 .5 6.8 .2-2 .2-.7 .7 1.5 .3 2.1 .2 .1 .2-1.6 .3 .2 .7 .3 .7-19.3 .9 2.1 .2-.7 .3-.2 .2 2.4 .2-.2 .7-1.4 .5-3.1 .5 10.4 .7 5.1 .2-4.9 .5-.5 .2-1.4 .7-.3 .2-1.3 .3 2.6 .2 1.2 .2-1.2 .7 1.3 .3-.1 .2 1.8 .5-6.2 1.1-7.5 .3 2.6 .9-5.9 .9-8.3 .7-4.6 .5-8.6 .2-1.9 .3 1.7 .7 3.6 .2-4.4 .2 1.9 .3 .4 .2-2.3 .7 .1 .5 3.1 .2 1.2 .2-.8 .7-1.2 .7-4.2 .3 .3 .9-10.6 .7-5.2 .7-3.6 .9 2.5 .7-.1 .5 6.6 .2-20.1 .3 8.4 .7 2.2 .2-.2 .2-2.3 .5-8.1 .9 6.5 .3-15.1 .2 10.8 .2-2.2 .7-4.2 .3 .3 .2-3 .2 .8 .3 0 .9-2.4 .2-5.7 .3 .1 .2-1.9 1.2 4.6 .2-.2 .2-1.3 .7-5.1 .3 2.6 .2 .7 1.2 5.5 .2-4.2 .2-.6 .3-13.2 .2 .1 .7 2.9 .5 1 .2-1.4 .2 1.4 .7-39.9 .3 8.7 .2 2.5 .2-1.4 .3 5.2 .7-1.2 .2-1.5 .2 .3 .3 .1 .9-8.9 .2-3.8 .5 3.8 .2 .9 .7 8.8 .3-3.7 .2-.8 .2-4.2 .3-2 .7-3.2 .2 1.4 .2-2.7 .5 9.3 .7 9.1 .2-.7 .5 7.6 .2 1 .7 2 .3 4.7 .4 .5 .3 7.2 1.1-15.9 .3-.6 .2 4.7 .9 9.1 .3 4.8 .2-3.7 .2-.9 .7-8.6 .3 .1 .4-10.5 .3 3.2 .7 .7 .2 1.4 .2-2.1 .3 7.6 .2-1.6 .7-12.9 .2-.9 .3 1 .2 3 .2-1.5 .7-3 .3 .8 .2-2.4 0 0" clip-path="url(#p60d9bf6f06)" style="fill:none;stroke:#1f77b4;stroke-linecap:square"/><path d="M60.3 432.8l1 .1 .7 .3 1.6 .3 .7-.6 .5-1 .4-.2 1.2-.2 1.2-1.3 .9-2.6 .7-.9 .9-2.4 .7-.6 .5-.8 .5-.2 .7 .2 .9 .7 .7-.2 .7-.6 .2-.3 1 .1 1.4 .3 .2 .2 .2 0 .5-.5 .7-.4 .5-.6 .2-.1 .2 0 .7-.1 .5-.4 .5-.1 .7 .2 .7 1.2 .2 .4 .7 .4 .7 1.5 .2 .3 1.4 .3 .3 .2 .7 .5 .7 1 .2 .2 .9 .1 .3-.1 .2 .1 .2 .2 .7 .4 1 1.6 .7 .3 .7 .5 .2 .1 .7-.1 .2-.2 .3-.4 .4-1.4 .7-.8 1-2.8 .7-.7 .2-.6 .2-.2 .5 .1 .7 .3 .5 .5 .4 .7 .7 .2 1 1.5 .7 .3 .4 .6 .5 .7 .7 .6 .5 1 .4 .8 .7 .5 1 2.1 .7 .4 .4 .6 .5 .3 1.6 .4 .7-.1 .7-.5 .3 .1 .7-.3 .9-1.2 .7 .2 .7 .5 .2 .1 .7 0 .7 .6 .3 .2 .9 .3 .7 .4 .7 .2 .7 .6 .2 .1 1 .1 .4 .4 .3 .3 .7 .4 .9 1.7 .7 .3 .9 .9 1 .3 .7 .5 .7 .3 .7 1.1 .2 .3 2.3 .5 .5 .4 .5 .6 .7 .3 .9 1.1 2.3 .1 2.6 1.1 1.2 .1 1.8 .9 .3 .2 .7 .2 .4 .4 .5 .1 .9 .2 .7 .3 1.2 .2 1.6 .7 .5 .4 1.4 0 .2-.1 1-.2 .4-.2 2.6-.2 .9-.2 2.6-.2 .5 .3 .2 .2 .7 .2 .7 .6 .2 .1 1.7 .1 .9-.2 .5-.2 1.4 .6 .4 .5 1.7 .3 1.6-.1 1.2 .1 .4 .2 1.7 0 .9-.4 .7-.4 3.3 0 2.8 .1 .4-.3 .7-.1 .7-.5 .3-.1 .7 0 1.6-1.1 .7-1.1 .2-.2 1.2-.4 .5-.3 .9-.2 .7-.5 .7-.1 .7-.5 .2-.1 1.4-.2 .3-.1 .9-.1 .7-.3 .9 .1 .5 .2 .2 0 1.2-.2 .5-.2 2.5-.3 .3-.1 .4-.5 .7-.5 1-1.7 .7-.5 .9-1.8 .7-.6 .9-2.2 .7-.5 1-1.4 1.4-.4 .2-.1 1.4 0 .2 0 .7-.1 .7-.6 .3-.2 .7-.3 .9-1.1 .7-.3 .7-.7 .2-.1 2.4 .1 .7-.1 1.6 .1 .2-.1 1 0 .7 .5 .7-.1 .4-.4 .5-.4 .7-.3 .9-1.2 .7-.4 1-1.6 .7-.4 .4-.5 .5-.3 .9 .2 .7 .3 .7-.2 .5-.7 .5-1.2 .7-.6 .9-1.9 .7-.4 .5-1 .4-1.9 .7-.9 .5-1.4 .5-1 .7-.5 .7-1.6 .2-.6 .7-.4 .7-1.4 .2-.5 .7-.6 .3-.5 .7-2.4 .7-.6 .9-2.9 .7-.4 .4-.5 .5-.2 .9 .3 .7 .7 .7-.4 .3-.4 .4-.3 .3-.4 .7-.4 .4-.5 .5-.3 1.4-.1 .2 .1 1-.1 .4-.2 .3 0 .7 .2 .9 .8 .9-.2 .7-.6 1.4 .2 1 .2 .4 .3 .5 .5 .9 .3 .7 .7 1 .3 .4 .1 .3-.1 .7-.3 .4-.6 .5-.8 .7-.4 .7-1.2 .2-.4 .7-.4 .5-.3 2.8-.7 .9-.9 .7-.3 .3-.2 .2 0 .5 .3 .7 .2 .7 .6 .2 .1 .9 .3 .7 .5 .7-.5 .7-1.5 .3-.3 .7-.3 .9-1.2 1.2-.4 .4 0 1.7 .1 .7 .2 .9 .9 .9 .2 .5-.5 .2-.4 .7-.7 .7-1.8 .3-.5 .7-1 .9-3.3 .7-.7 .5-1.1 .4-.8 .7-.2 .5-.3 1.6 0 1.2-.8 .9-1.5 .7-.6 1-2.5 .7-.8 .9-3 .9 .2 .5 .3 .2 .2 3.3 .5 .7 .3 .9 1.2 1 .6 1.8 1.5 .5 .6 1.4-.2 .2 .3 .7 .3 1 1.2 .7 .4 .9 .9 .7 .5 .9 2.2 .7 .7 1 3 .7 .6 .9 1.9 .7 .6 .5 .8 .4 .3 .7 .2 .7 .9 .3 .3 .7 .3 .9 1.8 .7 .4 .9 2 .7 .5 1 2.2 .7 .6 .4 .9 .5 .4 1.2-.1 .4-.1 1 .2 1.4 .4 .4 .3 1.2-.2 .2 .1 .5 .3 .2 .1 .7 .2 .7 .6 .3 .2 .7 .1 .2 0 .5-1 .2-.6 .7-.4 .7-1.3 .2-.3 .7-.4 .7-1.2 .3 0 .9 .2 1.4-.3 .5-.2 1.8 0 .3-.2 .7-.3 .9-1.5 .7-.5 .7-1.9 .2-.7 .7-.9 1-4.5 .7-.9 .9-3.7 .7-.9 .9-2.7 .7-.7 1-2.8 .7-1 .9-4.3 .7-1.3 .9-4.1 .7-.9 .5-1.4 .5-2.3 .7-.8 .7-2.7 .2-1.2 .7-.8 .2-.8 .5-2.2 .2-1 .7-1 1-4.1 .7-1 .7-3.2 .2-1.2 .7-1 .9-3.4 .7-1 1-3 .7-.6 .4-1.2 .5-2.3 .7-.9 .9-3.3 .7-2.3 1-6.7 .7-1.4 .9-5.3 .7-1.5 .9-5.7 .7-.9 1-4.2 .7-1.2 .9-3.9 .7-.4 .5-.5 .4 0 .7 .1 .7 .8 .3 .5 .9 .1 .5-.3 .2 .1 .7 .3 .9 1.8 1 0 .2-.2 .5-.7 .9-.4 .2-.2 .5 .1 .7-.5 .7-1.3 .2-.4 .7-.4 .5-1 0 0" clip-path="url(#p60d9bf6f06)" style="fill:none;stroke:#ffa500;stroke-linecap:square"/><path d="M60.3 432.8l2.4 .2 .9 0 .9-.3 .7-.1 1.4-.2 1.2-.5 .7-.6 .7-.2 .9-.8 .7-.2 .7-.5 .3 0 1.6-.2 .9-.2 .7-.3 1.4-.2 .3-.1 1.1 0 .5-.3 .9-.3 .7-.3 1-.2 .7-.2 1.1 0 2.1 .5 2.4 .1 .9 .2 2.3 .1 1 .5 2.5 .2 .5-.3 .2-.2 .7-.1 1-.8 .9-.4 .5-.1 .9 0 1.9 .2 .7 .3 .9 .1 3.5 1.4 .5 .3 .9 .3 .7 .2 1.4 .3 .2 .1 2.6 0 .7-.2 1.2 .3 .4 .1 1.2 .2 .5 .1 1.1 .3 4.7 1.3 .7 .5 .9 .2 .7 .4 1 .2 .7 .3 .7 .2 .9 .6 .9 .2 .7 .3 1 .2 .7 .5 .9 .3 .7 .4 .9 .2 .7 .3 1 .2 .7 .3 .9 .2 .7 .4 .9 .2 4 1.5 .9 .3 .7 .3 1 .2 .7 .3 .9 .3 .7 .4 1.2 .2 .4 .2 1.2 .1 .5 .1 1.1 .2 .5 .2 1.4 .2 1.9 .3 1.1 .2 .5 .2 .9 .2 .7 .4 1.2 .2 .5 .1 1.4 .1 .2 .1 .9 .2 .7 .4 1.2 .2 .5 .2 1.1 .1 3.8 .7 2.5 .2 .7 .1 1.4 .1 .3 .1 1.4 .2 1.1 .1 .7 .1 4-.2 .9-.3 3.1-.2 1.8-.3 2.8-.2 .5-.1 3.3-.1 2.8-.2 1.8-.7 .3-.1 .7-.1 .9-.7 .7-.2 .9-.8 1-.3 .7-.5 .9-.2 .7-.3 1.2-.2 1.8-.6 .3-.2 .9-.3 .7-.4 .9-.3 .7-.4 1.2-.2 .5-.2 1.1-.2 .5-.2 1.2-.2 .4-.2 2.4-.3 3.7-1.8 .5-.3 .9-.4 .7-.4 1.4-.2 1.2-.4 .7-.7 .7-.2 .9-.9 .7-.2 .7-.9 .2-.3 .7-.4 1-1.2 .7-.2 .9-1.2 .7-.3 .9-1.1 .7-.3 .7-1.1 .3-.3 .7-.4 .9-1.5 .7-.3 .9-1 .9-.3 .7-.4 .7-.3 1-1 .7-.3 .9-.9 .7-.2 .9-.7 .7-.2 1-.7 .9-.3 1.6-.7 .7-.6 1-.2 .7-.5 .9-.2 .7-.2 1.2-.2 .4-.2 1-.1 1.6-.7 .7-.6 .7-.2 .9-.9 .7-.2 1-.6 .9-.3 .7-.4 .7-.2 .9-.7 1-.4 .7-.3 1.1-.2 1.7-.3 1.1-.3 1-.9 .7-.2 .9-.7 .9-.3 .7-.4 1-.2 .7-.3 2.3-.3 .5-.2 .4-.3 .7-.3 1-1 .7-.4 .9-1.3 .7-.3 .9-1 .7-.2 1-.7 .9-.3 .7-.5 .7-.3 .9-.9 .7-.3 1-1.3 .7-.3 .9-1.5 .9-.3 .7-.4 1-.3 .7-.4 .9-.3 .7-.4 1.4-.3 .2 0 1-.1 .7-.2 1.6-.2 .9-.3 .7-.2 4 0 2.1 .8 .5 .3 .9 .3 2.1 .8 1.4 .3 .5 .2 .9 .3 .7 .4 .9 .3 .7 .5 .7 .2 1 .9 .7 .2 .9 .6 1.2 .3 3.7 1.1 .9 .1 .7 .4 1 .2 .7 .4 1.1 .2 .5-.2 1.4-.2 1.9-.2 2.3 .1 .9 .1 2.4 .1 2.1-.8 .4-.3 .7-.3 1-1.3 .7-.2 .9-1.2 .7-.3 .9-1.1 .7-.3 1-1.2 .7-.3 .9-1.7 .7-.5 .9-1.7 .7-.4 1-1.8 .7-.4 .9-1.9 .7-.4 .9-2 .7-.5 1-2.2 .7-.5 .9-2.3 .7-.6 .9-2.1 .7-.6 1-2.1 .7-.5 .9-2.2 .7-.6 .9-2.3 .7-1 1-3.2 .7-.8 .9-3.1 .7-.8 .9-3.3 .7-.7 1-3 .7-.8 .9-2.9 .7-.6 .9-2.2 .7-.4 1-1.5 .7-.5 .9-1.8 .7-.3 .9-1.2 .7-.4 1-1.8 .7-.4 .9-1.6 .7-.5 .9-1.8 .7-.5 .5-1 0 0" clip-path="url(#p60d9bf6f06)" style="fill:none;stroke:#0000ff;stroke-linecap:square"/><path d="M60.3 432.8l3.3 0 .7-14.9 .5-.1 2.1 0 .7-6.8 .9 0 .7-5.5 162.2 0 .2-9.9 6.1 0 .2-8.2 1.8 0 .3-3.7 33.3 0 .3-.2 8.8 0 .7-8.3 1 0 .7-8.9 .2 0 .2-2.5 8.4 0 .3-1.6 1.1-4.7 .3 0 .2-1.8 57.2 0 .7-2.5 .9-7.2 .7-3.6 2.1 0 .2-11.1 2.8 0 .3-8.6 3 0 .2-5.6 .3 0 .2-1.8 1.6 0 .7-2 2.1 0 .3-9.2 1.8 0 .7-35.9 5.9 0 .7-.4 .2 0 .2-1.3 13.1 0 0 0" clip-path="url(#p60d9bf6f06)" style="fill:none;stroke-dasharray:3.7,1.6;stroke-dashoffset:0;stroke:#ff0000;stroke-opacity:0.8"/><path d="M43.68 474.13v-210.72" class="c1"/><path d="M408 474.13v-210.72" class="c1"/><path d="M43.68 474.13l364.32 0" class="c1"/><path d="M43.68 263.41l364.32 0" class="c1"/><text x="225.83" y="257.51" textLength="154.23" lengthAdjust="spacingAndGlyphs" class="c6">ESEA: Price + EMA + Max</text><path d="M48.6 311.91l119.96 0Q169.96 311.91 169.96 310.51v-42.1Q169.96 267.01 168.56 267.01l-119.96 0Q47.2 267.01 47.2 268.41v42.1Q47.2 311.91 48.6 311.91z" class="c25"/><path d="M49.92 273.01l7.2 0 6.72 0" style="fill:none;stroke:#1f77b4;stroke-linecap:square"/><text x="69.6" y="275.57" textLength="37.38" lengthAdjust="spacingAndGlyphs" class="c2">ESEA Price</text><path d="M49.92 284.05l7.2 0 6.72 0" class="c28"/><text x="69.6" y="286.27" textLength="93.07" lengthAdjust="spacingAndGlyphs" class="c2">ESEA EMA (50 day expMA)</text><path d="M49.92 294.61l7.2 0 6.72 0" class="c26"/><text x="69.6" y="296.97" textLength="97.53" lengthAdjust="spacingAndGlyphs" class="c2">ESEA EMA (200 day expMA)</text><path d="M49.92 305.17l7.2 0 6.72 0" class="c29"/><text x="69.6" y="307.67" textLength="34.77" lengthAdjust="spacingAndGlyphs" class="c2">ESEA Max</text><path d="M473.76 474.13l364.32 0 0-210.72-364.32 0z" class="c5"/><path d="M490.56 474.13v-210.72" class="c8"/><path d="M532.8 474.13v-210.72" class="c8"/><path d="M576 474.13v-210.72" class="c8"/><path d="M618.24 474.13v-210.72" class="c8"/><path d="M660.96 474.13v-210.72" class="c8"/><path d="M703.68 474.13v-210.72" class="c8"/><path d="M746.4 474.13v-210.72" class="c8"/><path d="M788.64 474.13v-210.72" class="c8"/><path d="M831.36 474.13v-210.72" class="c8"/><path d="M473.76 472.21l364.32 0" class="c8"/><text x="466.84" y="475.86" textLength="21.1" lengthAdjust="spacingAndGlyphs" class="c0">−40</text><path d="M473.76 446.77l364.32 0" class="c8"/><text x="466.84" y="450.38" textLength="21.1" lengthAdjust="spacingAndGlyphs" class="c0">−20</text><path d="M473.76 420.85l364.32 0" class="c8"/><text x="466.84" y="424.9" textLength="6.36" lengthAdjust="spacingAndGlyphs" class="c0">0</text><path d="M473.76 395.41l364.32 0" class="c8"/><text x="466.84" y="399.42" textLength="12.72" lengthAdjust="spacingAndGlyphs" class="c0">20</text><path d="M473.76 369.97l364.32 0" class="c8"/><text x="466.84" y="373.94" textLength="12.72" lengthAdjust="spacingAndGlyphs" class="c0">40</text><path d="M473.76 344.53l364.32 0" class="c8"/><text x="466.84" y="348.46" textLength="12.72" lengthAdjust="spacingAndGlyphs" class="c0">60</text><path d="M473.76 319.09l364.32 0" class="c8"/><text x="466.84" y="322.98" textLength="12.72" lengthAdjust="spacingAndGlyphs" class="c0">80</text><path d="M473.76 293.65l364.32 0" class="c8"/><text x="466.84" y="297.5" textLength="19.09" lengthAdjust="spacingAndGlyphs" class="c0">100</text><path d="M473.76 268.21l364.32 0" class="c8"/><text x="466.84" y="272.02" textLength="19.09" lengthAdjust="spacingAndGlyphs" class="c0">120</text><text x="439.8" y="368.92" transform="rotate(-90 439.8 368.92)" textLength="37.06" lengthAdjust="spacingAndGlyphs" class="c4">Error %</text><path d="M490.4 421.1M491.4 421.1v2.2M491.8 421.1v3.7M492.8 421.1v4.2M493.3 421.1v2.1M493.8 421.1v.6M494.7 421.1v-24.3M495.2 421.1v-6.6M496.2 421.1v-2.9M498.6 421.1v-23.8M499.5 421.1v-26M500 421.1v-25.6M501 421.1v-21.5M501.4 421.1v-14.4M501.9 421.1v-1.4M502.9 421.1v7.5M503.4 421.1v5.7M504.3 421.1v-4.6M504.8 421.1v-9.4M506.7 421.1v1.4M507.7 421.1v8.3M508.2 421.1v-10M509.1 421.1v-15M509.6 421.1v-9.4M510.1 421.1v.6M511 421.1v-9.6M511.5 421.1v-3.7M512.5 421.1v8.2M513 421.1v19M513.4 421.1v15.1M515.8 421.1v.8M516.3 421.1v4.1M517.3 421.1v19.5M517.8 421.1v15.3M518.2 421.1v8.1M519.2 421.1v-1.5M519.7 421.1v2.9M520.6 421.1v17.4M521.1 421.1v16.3M521.6 421.1v17.1M524 421.1v-8.8M524.5 421.1v-25.8M525.4 421.1v-30.9M525.9 421.1v-30.8M526.4 421.1v-28.5M527.3 421.1v-22.3M527.8 421.1v1.2M528.8 421.1v11.1M529.3 421.1v12.1M529.7 421.1v13.2M532.1 421.1v11.1M532.6 421.1v15M533.6 421.1v22.8M534.1 421.1v18.5M534.5 421.1v16.3M535.5 421.1v22.2M536 421.1v21.2M536.9 421.1v16M537.4 421.1v9.3M537.9 421.1v7M540.8 421.1v-3.1M541.7 421.1v-10.8M542.2 421.1v-15.4M542.7 421.1v-6.4M543.7 421.1v8.8M544.1 421.1v6.6M545.1 421.1v3.4M545.6 421.1v5.9M546.1 421.1v8.5M547 421.1v5.9M548.9 421.1v8.3M549.9 421.1v3.4M550.4 421.1v6.3M550.9 421.1v11.7M551.8 421.1v16.3M552.3 421.1v17.1M553.3 421.1v12.9M553.7 421.1v10.3M554.2 421.1v8.5M555.2 421.1v4.4M558.1 421.1v5.3M558.5 421.1v2.9M559 421.1v-.2M560 421.1v7.4M560.5 421.1v11.2M561.4 421.1v13.6M561.9 421.1v11.7M562.4 421.1v8.6M563.3 421.1v.8M563.8 421.1v.8M566.2 421.1v6.1M566.7 421.1v4.5M567.2 421.1v6M568.1 421.1v3M568.6 421.1v4.2M569.6 421.1v8M570.1 421.1v5.7M570.5 421.1v7.2M571.5 421.1v8M572 421.1v3.2M574.4 421.1v3.4M574.9 421.1v2.7M575.3 421.1v5.5M576.3 421.1v5.8M576.8 421.1v8M577.7 421.1v1.7M578.2 421.1v-1.6M578.7 421.1v-4.2M579.7 421.1v-4.4M580.1 421.1v-2M583 421.1v-.6M583.5 421.1v-3.1M584.5 421.1v-3M584.9 421.1v.7M585.9 421.1v.5M586.4 421.1v3.5M586.9 421.1v8.8M587.8 421.1v9M588.3 421.1v8M589.3 421.1v2M591.2 421.1v-6.8M591.7 421.1v3.6M592.6 421.1v8.1M593.1 421.1v9.9M594.1 421.1v4.5M594.5 421.1v2.8M595 421.1v1M596 421.1v-1.6M596.5 421.1v-1.8M597.4 421.1v1.9M599.8 421.1v-2.1M600.8 421.1v-6.7M601.3 421.1v-6.2M602.2 421.1v-.7M602.7 421.1v-.1M603.2 421.1v-2.4M604.1 421.1v-2.2M604.6 421.1v2.2M605.6 421.1v.7M606.1 421.1v1.7M608 421.1v-5.5M608.9 421.1v-6.9M609.4 421.1v-5.6M610.4 421.1v-1.2M610.8 421.1v-6.6M611.3 421.1v-8.7M612.3 421.1v-16.6M612.8 421.1v-13.7M613.7 421.1v-7.8M614.2 421.1v-3.9M617.1 421.1v-7.7M617.6 421.1v-5.5M618.5 421.1v-2.8M619 421.1v-1.5M619.5 421.1v-3.4M620.4 421.1v-2.6M620.9 421.1v-5.2M621.9 421.1v1.2M622.4 421.1v6M622.8 421.1v1.1M625.2 421.1v-3.9M625.7 421.1v-1.5M626.7 421.1v-1.6M627.2 421.1v-4.1M627.6 421.1v-11.6M628.6 421.1v-19.8M629.1 421.1v-16.5M630 421.1v-18.2M630.5 421.1v-19.9M631 421.1v-18.2M633.4 421.1v-15.9M633.9 421.1v-13.1M634.8 421.1v-7.7M635.3 421.1v-4.1M635.8 421.1v-4.5M636.8 421.1v.8M637.2 421.1v1M638.2 421.1v-4.5M638.7 421.1v-7.5M639.2 421.1v-9.5M642 421.1v-6.7M643 421.1v2M643.5 421.1v1.7M644 421.1v-.1M644.9 421.1v-1.8M645.4 421.1v-.7M646.4 421.1v1.5M646.8 421.1v.5M647.3 421.1v-4.1M648.3 421.1v-1.2M650.2 421.1v-9.1M651.2 421.1v-12.6M651.6 421.1v-10.3M652.1 421.1v-13.7M653.1 421.1v-16.8M653.6 421.1v-15.2M654.5 421.1v-15.2M655 421.1v-8.7M655.5 421.1v-3M656.4 421.1v3.6M659.3 421.1v-24.3M659.8 421.1v-21.1M660.3 421.1v-15.3M661.2 421.1v-20.1M661.7 421.1v-39.6M662.7 421.1v-35.1M663.2 421.1v-27.9M663.6 421.1v-19.3M664.6 421.1v-19.1M665.1 421.1v-26M667.5 421.1v-22.6M668 421.1v-34.8M668.4 421.1v-29.9M669.4 421.1v-27.7M669.9 421.1v-27.4M670.8 421.1v-17.5M671.3 421.1v-8.2M671.8 421.1v-2.5M672.8 421.1v5.4M673.2 421.1v10.8M675.6 421.1v-15.5M676.1 421.1v-9.6M676.6 421.1v-5.4M677.6 421.1v-3.4M678 421.1v4.4M679 421.1v-1.6M679.5 421.1v-4.2M680 421.1v.1M680.9 421.1v9.1M681.4 421.1v7.3M684.3 421.1v.6M684.8 421.1v.4M685.7 421.1v5.7M686.2 421.1v9.1M687.2 421.1v6M687.6 421.1v9.2M688.1 421.1v9.8M689.1 421.1v5.9M689.6 421.1v-.4M690.5 421.1v-11.5M692.4 421.1v-16.7M692.9 421.1v-17.7M693.9 421.1v-10.3M694.4 421.1v-1.9M695.3 421.1v-5.4M695.8 421.1v-2.4M696.3 421.1v-1.6M697.2 421.1v-8.6M697.7 421.1v-9.9M698.7 421.1v-10.6M701.1 421.1v4.2M702 421.1v6M702.5 421.1v6.8M703.5 421.1v-19.4M703.9 421.1v-20.2M704.4 421.1v-12.5M705.4 421.1v-13.2M705.9 421.1v-12.5M706.8 421.1v-5.3M707.3 421.1v-3.3M709.2 421.1v2.4M710.2 421.1v11M710.7 421.1v8.1M711.6 421.1v6.9M712.1 421.1v-9.4M712.6 421.1v-13.4M713.5 421.1v-27.9M714 421.1v-20.4M715 421.1v-40.5M715.5 421.1v-41.4M718.3 421.1v-7.7M718.8 421.1v-.2M719.8 421.1v.6M720.3 421.1v-2.1M720.7 421.1v-10.4M721.7 421.1v-17.5M722.2 421.1v-12.3M723.1 421.1v-24.2M723.6 421.1v-25.5M724.1 421.1v-27.6M726.5 421.1v4M727 421.1v8.3M727.9 421.1v3.4M728.4 421.1v2.2M728.9 421.1v2.6M729.9 421.1v.9M730.3 421.1v-.1M731.3 421.1v10.4M731.8 421.1v14.6M732.3 421.1v12.3M734.7 421.1v11.3M735.1 421.1v12M736.1 421.1v-1.9M736.6 421.1v-1.7M737.1 421.1v11.1M738 421.1v10.6M738.5 421.1v12.9M739.5 421.1v16.5M739.9 421.1v10.7M740.4 421.1v9M743.3 421.1v31.7M744.3 421.1v22.5M744.7 421.1v16.4M745.2 421.1v21.7M746.2 421.1v17.6M746.7 421.1v9.4M747.6 421.1v9.6M748.1 421.1v14.1M748.6 421.1v11.2M749.5 421.1v16.7M751.5 421.1v18.8M752.4 421.1v21.5M752.9 421.1v26.4M753.4 421.1v20.6M754.3 421.1v18.9M754.8 421.1v11.2M755.8 421.1v-.2M756.3 421.1v-2.2M756.7 421.1v-1.5M757.7 421.1v3.2M760.6 421.1v-1.6M761.1 421.1v9.1M761.5 421.1v4.2M762.5 421.1v9.6M763 421.1v6.4M763.9 421.1v6.8M764.4 421.1v-16.8M764.9 421.1v-21.9M765.9 421.1v-18.9M766.3 421.1v-13.9M768.7 421.1v7M769.2 421.1v-1.6M769.7 421.1v-4.1M770.7 421.1v-6.2M771.1 421.1v.1M772.1 421.1v.5M772.6 421.1v3.1M773.1 421.1v-6.9M774 421.1v-15.7M774.5 421.1v-12.7M776.9 421.1v-36.7M777.4 421.1v-47.3M777.9 421.1v-44M778.8 421.1v-42M779.3 421.1v-35.3M780.3 421.1v-36M780.7 421.1v-28.4M781.2 421.1v-25.6M782.2 421.1v-28.1M782.7 421.1v-29.9M785.5 421.1v-43.4M786 421.1v-38.6M787 421.1v-31.4M787.4 421.1v-55.3M788.4 421.1v-34.6M788.9 421.1v-35.9M789.4 421.1v-45.9M790.3 421.1v-32.2M790.8 421.1v-35.7M791.8 421.1v-43.2M793.7 421.1v-47.8M794.2 421.1v-47M795.1 421.1v-37.5M795.6 421.1v-33.7M796.6 421.1v-41.3M797 421.1v-32.9M797.5 421.1v-26.6M798.5 421.1v-26.7M799 421.1v-46.6M799.9 421.1v-38.2M802.3 421.1v-57.8M803.3 421.1v-57.6M803.8 421.1v-52.5M804.7 421.1v-62.7M805.2 421.1v-60.6M805.7 421.1v-51.7M806.6 421.1v-40M807.1 421.1v-45M808.1 421.1v-49.7M808.6 421.1v-48M810.5 421.1v.2M811.4 421.1v10.7M811.9 421.1v10.6M812.9 421.1v4.5M813.4 421.1v-4.7M813.8 421.1v2.3M814.8 421.1v16.2M815.3 421.1v16.5M816.2 421.1v.1M816.7 421.1v-8.6M819.6 421.1v-21M820.1 421.1v-13.1M821 421.1v-19.2M821.5 421.1v-20.4v0" clip-path="url(#p67d664b031)" style="fill:none;stroke:#800080;stroke-opacity:0.7;stroke-width:0.48"/><path d="M490.5 421.1l.7 1.4 .2 .9 .2 1.9 .3-.1 .2-.7 .7 1.3 .2-.1 .3-1.8 .4-1.4 .7-26.5 .3 .1 .4 17 .3 4.6 .7-.9 .2 1 .2-2.3 1.2-29.7 .5 2.5 .4 2.7 .7-12.6 .3 8.7 .2 .1 .2-1.2 .3 1.9 .7 1.2 .2 1.9 .2 4.3 .5 13 .7 8.7 .2 .9 .3 2.8 .4-6.1 1.2-13.1 .2 .8 .3-4.6 .9 17.2 .5-4.2 .2 1.9 .7 9.2 .2-1.6 .5-18.4 .2-3 .7-2.6 .3 .7 .7 14.5 .7-6.5 .2-4 .7 6.9 .7 11.2 .5 12 .4-2.8 1 6.8 .2 .9 .2-3.1 .3-4.6 .7-6.2 .2-4.6 .5 3.5 .2 5 .7 11.4 .5-3.2 .2-4.4 .2-2.2 .7-5.3 .3-4.2 .2-1.9 .5 12.5 .7 9.2 .2-1.9 .2 1.7 .3 2.7 .2-.8 .7-6.9 .2 0 .3-1.4 1.4-17.1 .7-25.1 .7-.2 .2 1.1 .2-2.7 .3 1.4 .2-.9 .7-.6 .2 5.5 .5 23.3 .2 1 .7 9.4 .3-1.1 .4 5.3 .3-.4 .7-4 .4 11 1.2-8.6 .2 2.5 .3 4.5 .2 .4 .2 1.2 .7 7.8 .3 1 .4-6.5 .3 1.2 .9 7.1 .2 .6 .3-.4 .2 0 .7-4.2 .7-9.4 .2 1.2 .7-.1 .3-3.1 .2 .3 .5-3.5 .7-4.3 .2-4.2 .2-.6 .5 8.4 .9-14.1 .3-3.4 .2-.7 .2 8.9 1 15.6 .2-3.4 .2 1.5 .3-2.3 .7-.8 .2 2.6 .2 .2 .3 3.2 .2-.3 .7-1.4 .2-.9 .3-.3 .2-1.6 .2 2.4 .7 2.7 .3 1.7 .2-3.4 .2 2 .3-3.7 .7-1.1 .2-1.1 .5 7.6 .9 8.6 .2-.8 .3 2.2 .4-1.2 .7-2.7 .3-2.2 .2 0 .2-2.3 .3 .8 .7-.6 .2-3.4 .2 2.4 .3-1.4 .2 2.1 .9 9.7 .3-2.1 .2 .9 .2-3.2 .7-5.7 .3-.9 .2-1.5 .2-2.8 .3-.6 .7 7.3 .2 .6 .5 4.1 .2 .9 .7 2.1 .2-2.1 .3 .5 .2 .9 .2-3.6 .7-8.4 .3 .3 .2-.6 .2 .4 .3-2.9 .7 6.9 .2-1.1 .2-.5 .3 1.9 .2-1.2 .7 2 .2-2 .3 .4 .4 1.5 1-3 .2-2.1 .2 3.2 .3 0 .7 3.8 .4-2.1 .3 1.1 .2 .6 .7 1.1 .2-.1 .3-1.3 .2-3.6 .2-.8 .7 1.6 .3-.1 .2 .5 .5-1.8 .7 .7 .4-.9 .3 .9 .2 1.9 .7 1.4 .2-.9 .3 2.7 .4-.6 1.2-9.7 .2-.2 .3-2.8 .9-.7 .2-.6 .3 2.5 .2 1.3 .7-2.4 .2 .7 .3 1.4 .2-.3 .2-.7 1-2 .2 2 .2-2.5 .3-.4 .7-.1 .2-.2 .2 .3 .3 3.1 .2-1.1 .9 1.1 .7 8.1 .7 0 .3 .6 .2-1.5 .2 .7 .3-2.8 .7-3.2 .2 .1 .2-.4 .5-3.7 .9-3.8 .3-2.1 .4 10.2 1 4.9 .2-.5 .2 2.5 .3-.5 .7-4.6 .2-2.8 .2 1 .3 0 .2-1.8 .7-4.4 .5 2.7 .2-1.7 .9 3.5 .3-1.6 .2 3 .2 1.3 .3-2 .7-1.2 .2-2 .2 1.4 .5-3.4 .7-5 .2-.2 .7 0 1 7.2 .7-4.1 .7 1.5 .2-1.6 .7 5.9 .7-3 .2-.5 .3 1.4 .2 .4 .9-3.7 .3 2.6 .4-6.8 1-1.9 .2-.5 .2 .8 .3 0 .2 2.1 .7 2.2 .2-5 .5-2.1 .2-1.5 1-8.9 .4 2 .3 1.7 .7 3.5 .2 2.8 .2 .8 .3-.8 .2-2.8 .7 3.2 .2-.6 .3-1 .2-1.6 .2-.3 .7 .1 .3-1.6 .2-.1 .5 4.7 .7-.2 .2 1.9 .2-.6 .3-2.2 1.1 .7 .3-1.9 .2-.9 .2 2.2 .7 4.2 .5 5.1 .5-4.7 .7-3 .2 .6 .2-3.6 .3-.2 .2 .2 .7 1.3 .2-.9 .3 3.2 .4-1.3 .7 .2 .3-.2 .2-2.3 .2-6 1.2-11.4 .2 2.5 .3-.2 .2-1.9 .7-.8 .2-3.3 .3 .5 .2 1.3 .2-.6 .7-4.4 .3-.6 .2-2.8 .2 1.4 .3-.2 .7 .2 .2 4.8 .2 .1 .5 4 .7 3.3 .2 3.8 .3-.2 .2 .3 .2-.8 .7 3.2 .3 2.4 .2-1.5 .5 3.2 .9-8.7 .2-1.1 .3-2.5 .2 .2 .7-2.5 .2 1.1 .3 .3 .2-.5 .2-2.9 .7 .4 .3-.5 .2 1.3 .5 8.8 .7 4.5 .2-.7 .2 .7 .3-2 .2 .6 .7-1.7 .2 0 .3 2.1 .2-.7 .2 1.8 .7 .7 .3 0 .2-.7 .2-1.7 .3-2.8 .7 3.4 .2-.3 .5 10.2 .2-1.2 1.2-17 .2 .7 .2 .2 .7-4.1 .3 1.8 .2 .1 .2-3 .3-1 .7-4 .2 .2 .2-1.5 .3 2.4 .2-1.1 .7 .4 .2 1.2 .3 4.9 1.1 12 .3 .8 .2 2.8 .5-2.6 1.1-20.3 .5-13.8 1.4 8.9 .2 2.7 .7-.6 .3-4.9 .2-1.9 .2-19 1 2.7 .2 2 .2 3.7 .3 7.1 .2 .9 .7 .3 .2-.8 .3-2.8 .2-5 .2-.7 .7 8.4 .3 .4 .7-5.8 .7-1.4 .2 0 .2-13.3 .5 3.5 .7 2 .5-1.3 .2-.2 .2-5.9 1.2 24.2 .2 2 .3 4.1 .7 8.4 .2 .5 .5 6.7 .2-.9 .7-27.2 .2 2.6 .3 9.8 .2-3 .2-8.4 .7 .8 .7 10.1 .3 .3 .9 2.4 .2 1.3 .3 7.1 .2 1.8 .7-7 .5-2.2 .2 1.3 .9 12.4 .3 1.1 .2 2.8 .5-7.3 1.1-11.2 .3-.2 .9 14.5 .5-4.3 .2-1.9 .2 2.2 1.4 10.5 .3 4.4 .7-6.5 .2 .6 .2 3.5 .3-.5 .2 2 .7-3.6 .2 .4 1.4-17 .3 .1 .2-1.6 .2-7.3 .3 4.1 .9 .6 .5-5 .2 .4 .7 2.7 .7 12.9 .2-1.1 .7-2.2 .3 3.1 .2 .2 .2 .3 .3 .8 1.1-9.4 .3 .7 .9-.9 .2 2 .5 15.9 .2-.4 1 4.9 .2-2 .2 .2 .3-2.8 1.6 4.8 .7-26.9 .2-4 .3 2.1 .2 0 .2 7.1 .7-1.1 .3-.1 .2-.7 .2 1 .3 2.6 .9 5.3 .2 1.4 .3-.9 .2 5 .7 1 .2-1.6 .3 1.3 .2-.7 .9 10.3 .3 2.1 .4-2 .3 1.6 .7-1.9 .2-6.6 .2-9.8 .5-4.5 .7-18.4 .5 5.5 .2 3.4 .2-1.5 .7-20.1 .3 3.2 .2-6.1 .2 9.3 .3 3.1 .9 .3 .2 8.1 .3-1.1 .2 3 .7 7.5 .2 .2 .3 2.9 .2 4.9 .2 .9 .7 .5 .5-2.4 .2-3.2 .3-5.1 .7-4.9 .2-2.7 .2 1.5 .3 3.3 .2-4.6 .7-8.1 .7-2.8 .2-2.7 1-5 .2-.9 .2 4.2 .3-6.1 .7 33.1 .2 3.8 .2 1.7 .5 5.8 .9-7.8 .3 1.1 .2-1.8 .2 2.8 1-1 .2-.6 .2 .1 .3 7.3 .7 4.2 .4 5.6 .5-1.1 .7 3.1 .2-4.8 .3-2 .2 3.2 .2-.2 1 3.2 .2 2.7 .2-.8 .3-2.2 .7-11.2 .2-1.3 .5 3.5 .2 11.7 .7 3 .2-2.5 .2 3.2 .3 .2 .2-1.7 .7 6.4 .2-5.1 .3 .2 .2-1.1 .2 .2 1.2 18.8 .2-7.1 .3 7.1 .7 4.8 .2 3.8 .2 .9 .3 2.1 .2-.7 .7-6.9 .2-.7 .3-4.2 .2 4.6 .2 2 .7 2.9 .5-9.4 .2-4 .3-5.9 .7 6.6 .2 .5 .2 4.6 .3-2.3 .2 0 1.4 9.1 .2 0 .7 .1 .3 1.6 .2 2.8 .2-1.6 .3 4 .7-.2 .2 2.2 .2 4 .3-3.8 .2-.9 .7 3 .9-15.1 .7-7.2 .5-2.4 .2-.1 .3 .4 .9 4.6 .2-.4 .3 2 .2 .6 .7 .5 .2 .9 .7-10.8 .7 1.9 .5 10.9 .2-3.5 .3-1.4 .7 2.3 .2 3.4 .2-.1 .3-2.9 .9 .4 .7-32.2 .9 3.7 .3-1 .2-.2 .2 4 .3-.3 .7-2.3 .4-4.9 .5 17.4 .7 8.5 .2-8.4 .5-.9 .2-2.3 .7-.5 .3-2.1 .2 4.2 .2 1.9 .3-1.9 .7 2.2 .2-.3 .2 2.9 .5-10.3 1.2-12.1 .2 4.3 .9-9.5 1-12.7 .7-7.3 .4-13.3 .3-2.7 .2 3.4 .7 6.5 .2-6.8 .3 3.6 .2 1.2 .2-3.3 .7 .6 .5 6.1 .2 2.5 .3-1 .7-1.5 .4-5.2 .3-.3 .2 1 .9-16.4 .7-6.6 .7-5.2 1 7.1 .7 .5 .4 12.3 .3-32.7 .2 14.7 .7 4.5 .2 .4 .3-3.1 .4-11.9 1 12.4 .2-24.4 .2 18.9 .3-2.9 .7-6.1 .2 1.3 .2-3.9 .3 2 .2 1 .9-2.3 .3-8.5 .2 1.1 .2-2.1 .7 5.4 .5 5.1 .2 .4 .3-1.2 .7-7.6 .2 5.4 .5 4.7 .2 3.1 .7 5.9 .2-6.3 .3 0 .2-21 .2 1.2 1.2 9.4 .2-1.4 .3 3.3 .7-65 .2 15.8 .2 5.7 .3-1 .2 9.9 .7-.7 .2-1.3 .5 3.4 .2-2.3 1-14.8 1.4 27.7 .2-5 .2 0 .3-5.9 .2-2.1 .7-3.9 .2 3.7 .3-3.3 .4 18 .7 16.1 .3-.2 .4 14.5 .3 2.5 .7 4.1 .2 8.4 .5 2.2 .2 12.6 .9-21.2 .3-3.2 .2-.1 .2 8.6 1 16.2 .2 8.5 .2-5.7 .3-1 .7-13.6 .2 .7 .5-15.9 .2 6.1 .7 1.8 .2 3.1 .3-2.8 .2 13.3 .2-2.1 .7-20.8 .3-.5 .2 2.4 .2 5.7 .3-1.7 .7-4.2 .2 2.1 .2-3.2 0 0" clip-path="url(#p67d664b031)" style="fill:none;stroke:#0000ff;stroke-linecap:square"/><path d="M474 421.09l364.32 0" clip-path="url(#p67d664b031)" style="fill:none;stroke:#000000;stroke-width:1.5;stroke-linecap:square"/><path d="M473.76 474.13v-210.72" class="c1"/><path d="M838.08 474.13v-210.72" class="c1"/><path d="M473.76 474.13l364.32 0" class="c1"/><path d="M473.76 263.41l364.32 0" class="c1"/><text x="655.97" y="257.51" textLength="122.43" lengthAdjust="spacingAndGlyphs" class="c6">ESEA: EMA Error (%)</text><path d="M478.74 290.51l85.46 0Q565.6 290.51 565.6 289.11v-20.7Q565.6 267.01 564.2 267.01l-85.46 0Q477.34 267.01 477.34 268.41v20.7Q477.34 290.51 478.74 290.51z" class="c25"/><path d="M480 273.01l7.2 0 6.72 0" class="c26"/><text x="499.74" y="275.57" textLength="62.8" lengthAdjust="spacingAndGlyphs" class="c2">200d expMA error</text><path d="M480 286.45l13.92 0 0-5.28-13.92 0z" class="c30"/><text x="499.74" y="286.27" textLength="58.35" lengthAdjust="spacingAndGlyphs" class="c2">50d expMA error</text><path d="M903.84 474.13l364.32 0 0-210.72-364.32 0z" class="c5"/><defs><path id="md0d5e342ea" d="M920.6-1239.7v0l.7 3.8 .2 2.5 .3 5.3 .2-.3 .2-1.7 .7 3.7 .3-.3 .2-4.7 .2-2.3 .3-1.5 .7-4.5 .2 0 .2 22.6 .3 15 .2 10.2 .7-2.2 .2 2.2 .3-5.3 .2-14.7 .2-8 .7-19.8 .3 2.4 .2 1.3 .2 1.9 .3 2.4 .7-8 .2 16.4 .2-.6 .3-2.9 .2 3.1 .7 1.6 .2 3.2 .3 8.1 .2 16 .2 9 .7 17 .3 1.7 .2 5.4 .2-7.7 .3-4.4 .7-16 .2-6.1 .2-4.8 .3 1.3 .2-9.6 .7 25.3 .2 8.3 .3-4.5 .2-4.2 .2 3.7 .7 18.1 .3-3.1 .2-17.5 .2-19.4 .3-6.3 .7-5.7 .2 .9 .2 8.3 .3 8.3 .2 11 .7-13 .2-8.3 .3 4.7 .2 6.1 .2 1.8 .7 22.1 .3 13.2 .2 10.7 .2-2.1 .3-3 .7 10.4 .2 3.5 .2 2 .3-5.8 .2-8.9 .7-12.3 .2-9.2 .3 3 .2 3.9 .2 10.1 .7 22.6 .3-3.2 .2-2.4 .2-8.6 .3-4.1 .7-10.4 .2-8.5 .2-3.7 .3 12.3 .2 12.4 .7 18.4 .2-3.4 .3 3.6 .2 5.8 .2-1.2 .7-13.3 .3 .1 .2-2.5 .2-5.2 .3-5 .7-15.1 .2-8.3 .2-15.5 .3-21.4 .2-14.1 .7-.9 .2 1.5 .3-6.1 .2 2.2 .2-2.4 .7-1.9 .3 10.2 .2 25.3 .2 20.3 .3 1.8 .7 18.8 .2-2.1 .2 5.8 .3 4.8 .2-.5 .7-7.7 .2 12.5 .3 9.5 .2-3.1 .2-4.7 .7-8.3 .3 5.1 .2 9 .2 1.3 .3 2.5 .7 15.9 .2 2.6 .2-7.8 .3-4.3 .2 2.7 .7 11 .2 4.1 .3 1.6 .2-.3 .2 .7 .7-7.9 .3-6.2 .2-5.3 .2-6 .3 2.6 .7 .1 .2-5.9 .2 .8 .3-3.5 .2-3 .7-8.5 .2-8.2 .3-1.2 .2 9 .2 7.8 .7-23.7 .3-4.4 .2-6.8 .2-1.6 .3 17.4 .7 26.1 .2 5.1 .2-6.4 .3 3.1 .2-4.4 .7-1.2 .2 5.3 .3 .5 .2 6.7 .2-.3 .7-2.5 .3-1.5 .2-.4 .2-3 .3 5.1 .7 5.6 .2 3.5 .2-6.2 .3 4.1 .2-7 .7-1.9 .2-2 .3 8.3 .2 7.2 .2 5.2 .7 12.7 .3-1 .2 4.8 .2-.4 .3-1 .7-4.8 .2-3.9 .2 .4 .3-4.3 .2 2.1 .7-.7 .2-6.4 .3 4.9 .2-2.3 .2 4.4 .7 14.8 .3 5.5 .2-3.7 .2 2.4 .3-5.8 .7-10.9 .2-1.4 .2-2.6 .3-5.3 .2-.9 .7 14.7 .2 1.5 .3 5.3 .2 3.8 .2 2.2 .7 4.7 .3-3.6 .2 1.5 .2 2.3 .3-6.6 .7-16.3 .2 .9 .2-1 .3 1.2 .2-5.4 .7 13.9 .2-1.8 .3-.6 .2 4.1 .2-2.1 .7 4.5 .3-3.7 .2 1.2 .2 1.9 .3 1.9 .7-4.8 .2-.6 .2-3.8 .3 6.6 .2 .5 .7 7.9 .2-2.1 .3-1.3 .2 2.7 .2 1.4 .7 2.8 .3 .2 .2-2.1 .2-6.7 .3-1.3 .7 3.5 .2 .1 .2 1.4 .3-1.8 .2-1.1 .7 1.7 .2-.5 .3-.5 .2 2.1 .2 4.1 .7 3.3 .3-1.6 .2 5.9 .2-.3 .3 0 .7-11.7 .2-2.3 .2-4.2 .3-.2 .2-5.4 .7-.9 .2-.1 .3-1.1 .2 5.2 .2 2.7 .7-4.3 .3 1.5 .2 3 .2-.3 .3-1.2 .7-2.8 .2-.9 .2 4.2 .3-4.7 .2-.8 .7 0 .2-.2 .3 .8 .2 6.3 .2-1.9 .7 1.6 .3 .9 .2 5.3 .2 7.4 .3 4.3 .7 .2 .2 1.7 .2-2.6 .3 1.7 .2-5.2 .7-6 .2 .4 .3-.6 .2-2.7 .2-4.1 .7-5.8 .3-1.5 .2-4.1 .2 9.7 .3 10.9 .7 7 .2 3.2 .2-.6 .3 5.4 .2-.6 .7-8.8 .2-5.3 .3 2.2 .2 .3 .2-3.4 .7-8.4 .3 2.8 .2 2.8 .2-3.3 .3 1.8 .7 5.6 .2-3 .2 6.2 .3 2.9 .2-3.8 .7-2.1 .2-3.8 .3 3 .2-3.7 .2-2.8 .7-9.8 .3-.3 .2 .1 .2-.1 .3 .2 .7 10.1 .2 4.3 .2-2.9 .3-2.3 .2-2.6 .7 3.2 .2-3 .3 3.8 .2 5 .2 3.2 .7-5.8 .3-.8 .2 2.9 .2 .9 .3-1.8 .7-5.1 .2 5.3 .2-6.9 .3-6.4 .2-.8 .7-2.9 .2-1.1 .3 1.5 .2 .1 .2 4.1 .7 4.3 .3-9.7 .2-2 .2-2.3 .3-3.2 .7-12.8 .2-5.2 .2 1.4 .3 2.1 .2 3.1 .7 6.9 .2 5.4 .3 1.5 .2-1.7 .2-5.6 .7 6.2 .3-1.2 .2-2.1 .2-3.2 .3-.9 .7 .1 .2-3.2 .2-.5 .3 3.7 .2 5.5 .7-.6 .2 3.8 .3-1.4 .2-4.3 .2 .2 .7 .5 .3 .4 .2-3.9 .2-1.8 .3 4.1 .7 8.2 .2 4.3 .2 6.1 .3-5.9 .2-3.5 .7-6 .2 1.3 .3-7.3 .2-.5 .2 .2 .7 2.6 .3-2.1 .2 6.4 .2-1.7 .3-1.1 .7 .5 .2-.5 .2-4.8 .3-12 .2-4.6 .7-15 .2-4.1 .3 4.5 .2-.8 .2-4.3 .7-1.9 .3-7.2 .2 .6 .2 2 .3-1.6 .7-9.4 .2-1.8 .2-6.2 .3 2.2 .2-1.1 .7-.3 .2 9 .3-.4 .2 3.7 .2 3.2 .7 6 .3 7.4 .2-.9 .2 .3 .3-1.8 .7 5.8 .2 4.6 .2-3.1 .3 3.6 .2 2.2 .7-13.3 .2-4.6 .3-2.4 .2-5.4 .2-.1 .7-5.4 .3 1.7 .2 0 .2-1.4 .3-6.2 .7 .3 .2-1.6 .2 2.1 .3 8.1 .2 8.6 .7 8.5 .2-1.6 .3 1.2 .2-4.2 .2 .8 .7-3.7 .3-.1 .2 3.9 .2-1.8 .3 3.3 .7 1.3 .2-.3 .2-1.5 .3-3.7 .2-5.8 .7 6.3 .2-.8 .3 13 .2 7 .2-2.5 .7-19 .3-7 .2-8.7 .2 1.1 .3-.1 .7-8.5 .2 3 .2-.1 .3-6.4 .2-2.5 .7-8.6 .2-.2 .3-3.6 .2 4.1 .2-2.7 .7 .1 .3 1.9 .2 9.2 .2 4.2 .3 6.2 .7 12.2 .2 1.3 .2 5.4 .3-2.7 .2-2.9 .7-24.4 .2-7.8 .3-9.4 .2-12.7 .2-16.2 .7 7.7 .3 2.8 .2 .2 .2 3.8 .3 4.8 .7-2 .2-10.3 .2-4.7 .3-6 .2 0 .7 2.8 .2 2.6 .3 5.8 .2 11.9 .2 .7 .7-.2 .3-2.2 .2-6 .2-9.9 .3-2.1 .7 14.3 .2 0 .2-4.6 .3-3.3 .2-5.1 .7-3.6 .2-1 .3-.1 .2 1.6 .2 2.2 .7 2.3 .3-2.3 .2-1.9 .2-1.4 .3-.5 .7 23.3 .2 7.5 .2 6.3 .3 2.6 .2 6.1 .7 13.1 .2 .4 .3 6.7 .2 3.5 .2-1.8 .7-45.1 .3 3.5 .2 15.3 .2-5.4 .3-14.6 .7 .7 .2 5.5 .2 2.8 .3 6 .2 0 .7 2.6 .2 .2 .3 1.6 .2 11.2 .2 2.4 .7-11.8 .3-2.3 .2-2.4 .2 1.6 .3 5.2 .7 14.2 .2 1.5 .2 4.4 .3-6 .2-6.6 .7-11.1 .2-3.2 .3-5.5 .2-.9 .2 4.9 .7 18 .3-4.7 .2-3.2 .2-3.4 .3 3.1 .7 8 .2 1.4 .2 4.7 .3 2 .2 7 .7-10.8 .2 .7 .3 5.5 .2-.9 .2 3.1 .7-6.2 .3 .6 .2-5 .2-5.1 .3-2.9 .7-16.1 .2-.4 .2-3.1 .3-12.5 .2 6.1 .7 .2 .2-.2 .3-5.4 .2-4 .2 0 .7 3.8 .3 6.6 .2 7.6 .2 5.5 .3-2.2 .7-4.1 .2 4.8 .2-.2 .3 .2 .2 .9 .7-9.7 .2-2.8 .3-4.2 .2 .8 .2-.9 .7-1.7 .3 2.9 .2 11.2 .2 14 .3-.9 .7 5.7 .2 2 .2-3.4 .3 0 .2-4.7 .7 3.3 .2 .5 .3 1.4 .2 .9 .2 .9 .7-44.4 .3-6.7 .2 2.9 .2-.7 .3 11.1 .7-2.3 .2-.6 .2-1.7 .3 1.1 .2 3.7 .7 7 .2 .8 .3 1.9 .2-1.7 .2 7.8 .7 1.3 .3-3 .2 2 .2-1.4 .3 4.3 .7 11.9 .2 3.4 .2-1.4 .3-2.1 .2 2.5 .7-3.3 .2-10.9 .3-16.3 .2-4.7 .2-3.5 .7-8.1 .3 3.1 .2 3.9 .2 4.7 .3-3 .7-8.7 .2 3.6 .2-3.6 .3 12.2 .2 3.6 .7-.4 .2-.5 .3 10.8 .2-2.2 .2 3.6 .7 10.1 .3-.2 .2 3.7 .2 6.6 .3 .8 .7 .4 .2-2.3 .2-1.7 .3-5 .2-7.5 .7-7.4 .2-4.5 .3 1.6 .2 4.1 .2-7.1 .7-12 .3-2.1 .2-2.6 .2-1.4 .3-.6 .7 0 .2 0 .2 0 .3 4.9 .2-4.9 .7 43.5 .2 4.8 .3 1.9 .2 4.5 .2 2.7 .7-8.3 .3-2.7 .2 1.2 .2-2.8 .3 3.4 .7-1.5 .2-.5 .2-1.2 .3-.2 .2 9.5 .7 5.4 .2 3.4 .3 3.7 .2-.7 .2-.9 .7 4 .3-6.5 .2-2.9 .2 4.2 .3-.4 .7 3 .2 1.1 .2 3.5 .3-1.1 .2-3.1 .7-15.1 .2-2 .3 2.1 .2 2 .2 15.6 .7 4 .3-3.4 .2 4.2 .2 .3 .3-2.3 .7 8.5 .2-6.7 .2 .3 .3-1.5 .2 .2 .7 15.1 .2 5.7 .3 4.7 .2-9.2 .2 9.6 .7 6.7 .3 5.4 .2 1.5 .2 3.3 .3-.6 .7-8.9 .2-.6 .2-5.4 .3 6.3 .2 3 .7 4.2 .2-7.4 .3-4.7 .2-5 .2-7.8 .7 8.9 .3 .9 .2 6.3 .2-2.9 .3 .3 .7 6.3 .2 2.8 .2 1.3 .3 2.8 .2 .5 .7 .4 .2 2.5 .3 4.2 .2-1.8 .2 5.7 .7 .2 .3 3.3 .2 5.9 .2-4.7 .3-.6 .7 4.4 .2-4.4 .2-2.9 .3-6 .2-5.3 .7-9.4 .2-1.4 .3-1.5 .2 0 .2 .7 .7 4.9 .3 1.7 .2-.4 .2 3 .3 1 .7 .9 .2 1.5 .2-5.4 .3-6.2 .2-2.4 .7 2.7 .2 6.5 .3 8.5 .2-4.4 .2-1.6 .7 3.3 .3 4.8 .2 .2 .2-3.6 .3 .4 .7 .7 .2-13.9 .2-18.6 .3-10.4 .2 1.2 .7 3.5 .2-1.5 .3-.4 .2 5.2 .2-.4 .7-3.2 .3-3.7 .2-3.2 .2 10 .3 13.1 .7 11.5 .2-11 .2-.6 .3-.5 .2-3.2 .7-.6 .2-2.8 .3 5.7 .2 2.6 .2-2.6 .7 3 .3-.3 .2 4 .2-5.8 .3-7.9 .7-10.3 .2-3 .2-3.3 .3 5.6 .2-3 .7-10.1 .2-5 .3-5.2 .2-2.9 .2-5.3 .7-10.2 .3-11.6 .2-7.5 .2-4.3 .3 3.7 .7 8.1 .2-9.7 .2 4.1 .3 .9 .2-5.1 .7 .2 .2 4.3 .3 2.5 .2 2.8 .2-1.8 .7-2.7 .3-3.6 .2-4.6 .2-1.1 .3 .7 .7-13.5 .2 0 .2 0 .3 0 .2 0 .7 0 .2 1.4 .3 1.7 .2 1.3 .2 .7 .7-.3 .3 5.7 .2 7.9 .2-18.4 .3 16 .7 4.3 .2-.3 .2-4.4 .3-9.1 .2-6.5 .7 10.1 .2 2.4 .3-12.5 .2 19.8 .2-4.1 .7-7.7 .3 .6 .2-5.4 .2 1.3 .3 .1 .7-3 .2-1.4 .2-.2 .3 0 .2 0 .7 4.6 .2 2 .3 1.5 .2-.5 .2-2.2 .7-5.4 .3 4.6 .2 1.2 .2 1.9 .3 2.3 .7 5.4 .2-7.5 .2-.9 .3-7 .2 .1 .7 4.8 .2 .7 .3 1 .2-2.4 .2 2.4 .7-6.6 .3 12.2 .2 3.6 .2-2 .3 7.3 .7-1.7 .2-2.1 .2 .5 .3 .1 .2-3 .7-9.7 .2-5.2 .2 2.6 .3 2.7 .2 1.2 .7 12.5 .2-5.2 .3-1.1 .2-6.1 .2-2.8 .7-3.8 .3 2 .2-2 .2 7.4 .3 5.6 .7 12.8 .2-1 .2 6 .3 4.7 .2 1.4 .7 2.8 .2 6.6 .3 .4 .2 .3 .2 10.1 .7-14.4 .3-4.7 .2-3.3 .2-.8 .3 6.7 .7 10.1 .2 2.6 .2 6.8 .3-5.2 .2-1.3 .7-12 .2 .1 .3-7.7 .2-7.1 .2 4.6 .7 .9 .3 2 .2-2.9 .2 10.6 .3-2.2 .7-18.2 .2-1.2 .2 1.3 .3 4.3 .2-2.1 .7-4.2 .2 1.1 .3-3.4 0-17.5 0 0-.3 0-.2 0-.7 0-.2 0-.3 0-.2 0-.2 0-.7 0-.3 0-.2 0-.2 0-.3 0-.7 0-.2 0-.2 0-.3 0-.2 0-.7 0-.2 0-.3 0-.2 0-.2 0-.7 0-.3 0-.2 0-.2 0-.3 0-.7 0-.2 0-.2 0-.3 0-.2 0-.7 0-.2 0-.3 0-.2 0-.2 0-.7 0-.3 0-.2 0-.2 0-.3 0-.7 0-.2 0-.2 0-.3 0-.2 0-.7 0-.2 0-.3 0-.2 0-.2 0-.7 0-.2 0-.3 0-.2 0-.2 0-.7 0-.3 0-.2 0-.2 0-.3 0-.7 0-.2 0-.2 0-.3 0-.2 0-.7 0-.2 0-.3 0-.2 0-.2 0-.7 0-.3 0-.2 0-.2 0-.3 0-.7 0-.2 0-.2 0-.3 0-.2 0-.7 0-.2 0-.3 0-.2 0-.2 0-.7 0-.3 0-.2 0-.2 0-.3 0-.7 0-.2 0-.2 0-.3 0-.2 0-.7 0-.2 0-.3 0-.2 0-.2 0-.7 0-.3 0-.2 0-.2 0-.3 0-.7 0-.2 0-.2 0-.3 0-.2 0-.7 0-.2 0-.3 0-.2 0-.2 0-.7 0-.3 0-.2 0-.2 0-.3 0-.7 0-.2 0-.2 0-.3 0-.2 0-.7 0-.2 0-.3 0-.2 0-.2 0-.7 0-.3 0-.2 0-.2 0-.3 0-.7 0-.2 0-.2 0-.3 0-.2 0-.7 0-.2 0-.3 0-.2 0-.2 0-.7 0-.3 0-.2 0-.2 0-.3 0-.7 0-.2 0-.2 0-.3 0-.2 0-.7 0-.2 0-.3 0-.2 0-.2 0-.7 0-.3 0-.2 0-.2 0-.3 0-.7 0-.2 0-.2 0-.3 0-.2 0-.7 0-.2 0-.3 0-.2 0-.2 0-.7 0-.3 0-.2 0-.2 0-.3 0-.7 0-.2 0-.2 0-.3 0-.2 0-.7 0-.2 0-.3 0-.2 0-.2 0-.7 0-.3 0-.2 0-.2 0-.3 0-.7 0-.2 0-.2 0-.3 0-.2 0-.7 0-.2 0-.3 0-.2 0-.2 0-.7 0-.3 0-.2 0-.2 0-.3 0-.7 0-.2 0-.2 0-.3 0-.2 0-.7 0-.2 0-.3 0-.2 0-.2 0-.7 0-.3 0-.2 0-.2 0-.3 0-.7 0-.2 0-.2 0-.3 0-.2 0-.7 0-.2 0-.3 0-.2 0-.2 0-.7 0-.3 0-.2 0-.2 0-.3 0-.7 0-.2 0-.2 0-.3 0-.2 0-.7 0-.2 0-.3 0-.2 0-.2 0-.7 0-.3 0-.2 0-.2 0-.3 0-.7 0-.2 0-.2 0-.3 0-.2 0-.7 0-.2 0-.3 0-.2 0-.2 0-.7 0-.3 0-.2 0-.2 0-.3 0-.7 0-.2 0-.2 0-.3 0-.2 0-.7 0-.2 0-.3 0-.2 0-.2 0-.7 0-.3 0-.2 0-.2 0-.3 0-.7 0-.2 0-.2 0-.3 0-.2 0-.7 0-.2 0-.3 0-.2 0-.2 0-.7 0-.3 0-.2 0-.2 0-.3 0-.7 0-.2 0-.2 0-.3 0-.2 0-.7 0-.2 0-.3 0-.2 0-.2 0-.7 0-.3 0-.2 0-.2 0-.3 0-.7 0-.2 0-.2 0-.3 0-.2 0-.7 0-.2 0-.3 0-.2 0-.2 0-.7 0-.3 0-.2 0-.2 0-.3 0-.7 0-.2 0-.2 0-.3 0-.2 0-.7 0-.2 0-.3 0-.2 0-.2 0-.7 0-.3 0-.2 0-.2 0-.3 0-.7 0-.2 0-.2 0-.3 0-.2 0-.7 0-.2 0-.3 0-.2 0-.2 0-.7 0-.3 0-.2 0-.2 0-.3 0-.7 0-.2 0-.2 0-.3 0-.2 0-.7 0-.2 0-.3 0-.2 0-.2 0-.7 0-.3 0-.2 0-.2 0-.3 0-.7 0-.2 0-.2 0-.3 0-.2 0-.7 0-.2 0-.3 0-.2 0-.2 0-.7 0-.3 0-.2 0-.2 0-.3 0-.7 0-.2 0-.2 0-.3 0-.2 0-.7 0-.2 0-.3 0-.2 0-.2 0-.7 0-.3 0-.2 0-.2 0-.3 0-.7 0-.2 0-.2 0-.3 0-.2 0-.7 0-.2 0-.3 0-.2 0-.2 0-.7 0-.3 0-.2 0-.2 0-.3 0-.7 0-.2 0-.2 0-.3 0-.2 0-.7 0-.2 0-.3 0-.2 0-.2 0-.7 0-.3 0-.2 0-.2 0-.3 0-.7 0-.2 0-.2 0-.3 0-.2 0-.7 0-.2 0-.3 0-.2 0-.2 0-.7 0-.3 0-.2 0-.2 0-.3 0-.7 0-.2 0-.2 0-.3 0-.2 0-.7 0-.2 0-.3 0-.2 0-.2 0-.7 0-.3 0-.2 0-.2 0-.3 0-.7 0-.2 0-.2 0-.3 0-.2 0-.7 0-.2 0-.3 0-.2 0-.2 0-.7 0-.3 0-.2 0-.2 0-.3 0-.7 0-.2 0-.2 0-.3 0-.2 0-.7 0-.2 0-.3 0-.2 0-.2 0-.7 0-.3 0-.2 0-.2 0-.3 0-.7 0-.2 0-.2 0-.3 0-.2 0-.7 0-.2 0-.3 0-.2 0-.2 0-.7 0-.3 0-.2 0-.2 0-.3 0-.7 0-.2 0-.2 0-.3 0-.2 0-.7 0-.2 0-.3 0-.2 0-.2 0-.7 0-.3 0-.2 0-.2 0-.3 0-.7 0-.2 0-.2 0-.3 0-.2 0-.7 0-.2 0-.3 0-.2 0-.2 0-.7 0-.3 0-.2 0-.2 0-.3 0-.7 0-.2 0-.2 0-.3 0-.2 0-.7 0-.2 0-.3 0-.2 0-.2 0-.7 0-.3 0-.2 0-.2 0-.3 0-.7 0-.2 0-.2 0-.3 0-.2 0-.7 0-.2 0-.3 0-.2 0-.2 0-.7 0-.3 0-.2 0-.2 0-.3 0-.7 0-.2 0-.2 0-.3 0-.2 0-.7 0-.2 0-.3 0-.2 0-.2 0-.7 0-.3 0-.2 0-.2 0-.3 0-.7 0-.2 0-.2 0-.3 0-.2 0-.7 0-.2 0-.3 0-.2 0-.2 0-.7 0-.3 0-.2 0-.2 0-.3 0-.7 0-.2 0-.2 0-.3 0-.2 0-.7 0-.2 0-.3 0-.2 0-.2 0-.7 0-.3 0-.2 0-.2 0-.3 0-.7 0-.2 0-.2 0-.3 0-.2 0-.7 0-.2 0-.3 0-.2 0-.2 0-.7 0-.3 0-.2 0-.2 0-.3 0-.7 0-.2 0-.2 0-.3 0-.2 0-.7 0-.2 0-.3 0-.2 0-.2 0-.7 0-.3 0-.2 0-.2 0-.3 0-.7 0-.2 0-.2 0-.3 0-.2 0-.7 0-.2 0-.3 0-.2 0-.2 0-.7 0-.3 0-.2 0-.2 0-.3 0-.7 0-.2 0-.2 0-.3 0-.2 0-.7 0-.2 0-.3 0-.2 0-.2 0-.7 0-.3 0-.2 0-.2 0-.3 0-.7 0-.2 0-.2 0-.3 0-.2 0-.7 0-.2 0-.3 0-.2 0-.2 0-.7 0-.3 0-.2 0-.2 0-.3 0-.7 0-.2 0-.2 0-.3 0-.2 0-.7 0-.2 0-.3 0-.2 0-.2 0-.7 0-.3 0-.2 0-.2 0-.3 0-.7 0-.2 0-.2 0-.3 0-.2 0-.7 0-.2 0-.3 0-.2 0-.2 0-.7 0-.3 0-.2 0-.2 0-.3 0-.7 0-.2 0-.2 0-.3 0-.2 0-.7 0-.2 0-.3 0-.2 0-.2 0-.7 0-.3 0-.2 0-.2 0-.3 0-.7 0-.2 0-.2 0-.3 0-.2 0-.7 0-.2 0-.3 0-.2 0-.2 0-.7 0-.3 0-.2 0-.2 0-.3 0-.7 0-.2 0-.2 0-.3 0-.2 0-.7 0-.2 0-.3 0-.2 0-.2 0-.7 0-.3 0-.2 0-.2 0-.3 0-.7 0-.2 0-.2 0-.3 0-.2 0-.7 0-.2 0-.3 0-.2 0-.2 0-.7 0-.3 0-.2 0-.2 0-.3 0-.7 0-.2 0-.2 0-.3 0-.2 0-.7 0-.2 0-.3 0-.2 0-.2 0-.7 0-.3 0-.2 0-.2 0-.3 0-.7 0-.2 0-.2 0-.3 0-.2 0-.7 0-.2 0-.3 0-.2 0-.2 0-.7 0-.3 0-.2 0-.2 0-.3 0-.7 0-.2 0-.2 0-.3 0-.2 0-.7 0-.2 0-.3 0-.2 0-.2 0-.7 0-.3 0-.2 0-.2 0-.3 0-.7 0-.2 0-.2 0-.3 0-.2 0-.7 0-.2 0-.3 0-.2 0-.2 0-.7 0-.3 0-.2 0-.2 0-.3 0-.7 0-.2 0-.2 0-.3 0-.2 0-.7 0-.2 0-.3 0-.2 0-.2 0-.7 0-.3 0-.2 0-.2 0-.3 0-.7 0-.2 0-.2 0-.3 0-.2 0-.7 0-.2 0-.3 0-.2 0-.2 0-.7 0-.3 0-.2 0-.2 0-.3 0-.7 0-.2 0-.2 0-.3 0-.2 0-.7 0-.2 0-.3 0-.2 0-.2 0-.7 0-.3 0-.2 0-.2 0-.3 0-.7 0-.2 0-.2 0-.3 0-.2 0-.7 0-.2 0-.3 0-.2 0-.2 0-.7 0-.3 0-.2 0-.2 0-.3 0-.7 0-.2 0-.2 0-.3 0-.2 0-.7 0-.2 0-.3 0-.2 0-.2 0-.7 0-.3 0-.2 0-.2 0-.3 0-.7 0-.2 0-.2 0-.3 0-.2 0-.7 0-.2 0-.3 0-.2 0-.2 0-.7 0-.3 0-.2 0-.2 0-.3 0-.7 0-.2 0-.2 0-.3 0-.2 0-.7 0-.2 0-.3 0-.2 0-.2 0-.7 0-.3 0-.2 0-.2 0-.3 0-.7 0-.2 0-.2 0-.3 0-.2 0-.7 0-.2 0-.3 0-.2 0-.2 0-.7 0-.3 0-.2 0-.2 0-.3 0-.7 0-.2 0-.2 0-.3 0-.2 0-.7 0-.2 0-.3 0-.2 0-.2 0-.7 0-.3 0-.2 0-.2 0-.3 0-.7 0-.2 0-.2 0-.3 0-.2 0-.7 0-.2 0-.3 0-.2 0-.2 0-.7 0-.3 0-.2 0-.2 0-.3 0-.7 0-.2 0-.2 0-.3 0-.2 0-.7 0-.2 0-.3 0-.2 0-.2 0-.7 0-.3 0-.2 0-.2 0-.3 0-.7 0-.2 0-.2 0-.3 0-.2 0-.7 0z"/></defs><g clip-path="url(#p8021e7059d)"><use href="#md0d5e342ea" x="0" y="1503.25" class="c31"/></g><path d="M920.64 474.13v-210.72" class="c14"/><path d="M962.88 474.13v-210.72" class="c14"/><path d="M1006.08 474.13v-210.72" class="c14"/><path d="M1048.32 474.13v-210.72" class="c14"/><path d="M1091.04 474.13v-210.72" class="c14"/><path d="M1133.76 474.13v-210.72" class="c14"/><path d="M1176.48 474.13v-210.72" class="c14"/><path d="M1218.72 474.13v-210.72" class="c14"/><path d="M1261.92 474.13v-210.72" class="c14"/><path d="M903.84 467.89l364.32 0" class="c14"/><text x="896.98" y="471.89" textLength="21.1" lengthAdjust="spacingAndGlyphs" class="c0">−60</text><path d="M903.84 433.81l364.32 0" class="c14"/><text x="896.98" y="437.8" textLength="21.1" lengthAdjust="spacingAndGlyphs" class="c0">−50</text><path d="M903.84 399.73l364.32 0" class="c14"/><text x="896.98" y="403.71" textLength="21.1" lengthAdjust="spacingAndGlyphs" class="c0">−40</text><path d="M903.84 365.65l364.32 0" class="c14"/><text x="896.98" y="369.62" textLength="21.1" lengthAdjust="spacingAndGlyphs" class="c0">−30</text><path d="M903.84 331.57l364.32 0" class="c14"/><text x="896.98" y="335.53" textLength="21.1" lengthAdjust="spacingAndGlyphs" class="c0">−20</text><path d="M903.84 297.49l364.32 0" class="c14"/><text x="896.98" y="301.44" textLength="21.1" lengthAdjust="spacingAndGlyphs" class="c0">−10</text><path d="M903.84 263.41l364.32 0" class="c14"/><text x="896.98" y="267.35" textLength="6.36" lengthAdjust="spacingAndGlyphs" class="c0">0</text><text x="869.88" y="368.92" transform="rotate(-90 869.88 368.92)" textLength="65.78" lengthAdjust="spacingAndGlyphs" class="c4">Drawdown %</text><path d="M920.6 263.5l.7 3.9 .2 2.4 .3 5.4 .2-.4 .2-1.6 .7 3.6 .3-.2 .2-4.8 .5-3.7 .7-4.6 .2 0 .5 37.6 .2 10.3 .7-2.2 .2 2.2 .3-5.3 .4-22.8 .7-19.8 .5 3.8 .5 4.3 .7-8.1 .2 16.4 .2-.5 .3-2.9 .2 3 .7 1.7 .2 3.2 .3 8.1 .4 24.9 .7 17.1 .3 1.7 .2 5.4 .5-12.2 1.1-26.8 .3 1.3 .2-9.6 .9 33.6 .5-8.7 .2 3.6 .7 18.1 .3-3.1 .4-36.8 .3-6.4 .7-5.6 .2 .8 .7 27.7 .7-13.1 .2-8.2 .7 12.6 .7 22.1 .5 23.8 .2-2 .3-3.1 1.1 16 .3-5.8 .2-8.9 .7-12.3 .2-9.2 .5 6.9 .2 10 .7 22.7 .5-5.6 .2-8.6 .3-4.1 .7-10.5 .2-8.5 .2-3.7 .5 24.8 .7 18.4 .2-3.5 .3 3.7 .2 5.8 .2-1.3 .7-13.2 .3 .1 .2-2.6 1.2-25.2 .2-8.4 .7-51 .7-.9 .2 1.5 .3-6 .2 2.2 .2-2.4 .7-1.9 .3 10.2 .4 45.6 .3 1.8 .7 18.7 .2-2 .5 10.6 .2-.6 .7-7.7 .5 22.1 .2-3.2 .2-4.7 .7-8.3 .3 5.2 .2 9 .2 1.2 .3 2.6 .7 15.9 .2 2.5 .5-12.1 .2 2.7 1.2 16.8 .2-.3 .2 .6 .7-7.9 .7-17.5 .3 2.6 .7 .1 .2-5.9 .2 .9 .5-6.6 .7-8.4 .2-8.3 .3-1.1 .4 16.8 1-28.1 .2-6.9 .2-1.5 .3 17.4 .9 31.2 .2-6.5 .3 3.2 .2-4.4 .7-1.2 .2 5.3 .3 .5 .2 6.6 .2-.2 .7-2.6 .3-1.4 .2-.5 .2-2.9 .3 5 .7 5.6 .2 3.6 .2-6.3 .3 4.2 .2-7 .7-2 .2-2 .5 15.5 .2 5.3 .7 12.7 .3-1.1 .2 4.9 .2-.5 .3-.9 .7-4.9 .2-3.9 .2 .4 .3-4.2 .2 2.1 .7-.8 .2-6.4 .3 5 .2-2.4 .9 19.3 .3 5.4 .2-3.6 .2 2.3 .3-5.7 .7-10.9 .2-1.5 .2-2.6 .3-5.3 .2-.9 .7 14.8 .2 1.4 .5 9.2 .2 2.2 .7 4.6 .3-3.5 .2 1.5 .2 2.3 .3-6.6 .7-16.3 .2 .9 .2-1 .3 1.2 .2-5.5 .7 14 .2-1.9 .3-.6 .2 4.2 .2-2.2 .7 4.5 .3-3.7 .2 1.2 .5 3.8 .7-4.7 .2-.6 .2-3.8 .3 6.6 .2 .5 .7 7.9 .5-3.4 .4 4.1 .7 2.7 .3 .2 .2-2 .2-6.8 .3-1.3 .7 3.5 .2 .2 .2 1.3 .5-2.8 .7 1.6 .5-1 .2 2.2 .2 4 .7 3.3 .3-1.5 .2 5.9 .2-.3 .3 0 1.1-18.3 .3-.2 .2-5.3 .9-1.1 .3-1 .2 5.2 .2 2.7 .7-4.4 .3 1.6 .2 3 .2-.4 .3-1.1 .9-3.7 .2 4.1 .3-4.7 .2-.7 .7 0 .2-.3 .3 .8 .2 6.3 .2-1.9 .7 1.6 .3 .9 .7 17 .7 .3 .2 1.6 .2-2.6 .3 1.8 .2-5.2 .7-6 .2 .3 .3-.5 .2-2.8 .2-4.1 1-7.2 .2-4.1 .5 20.6 .9 10.1 .2-.5 .3 5.4 .2-.6 .7-8.8 .2-5.3 .3 2.2 .2 .3 .2-3.5 .7-8.4 .5 5.7 .2-3.3 1 7.4 .2-3.1 .2 6.3 .3 2.8 .2-3.8 .7-2.1 .2-3.7 .3 3 .4-6.5 .7-9.8 .3-.3 .2 0 .2-.1 .3 .2 .9 14.4 .7-7.7 .7 3.2 .2-3.1 .7 12 .7-5.7 .3-.8 .2 2.9 .2 .9 1-7 .2 5.3 .5-13.3 .9-3.7 .2-1.1 .3 1.5 .2 .1 .2 4.2 .7 4.3 .3-9.7 .4-4.3 .3-3.2 .9-18.1 .2 1.5 .3 2.1 .2 3.1 .7 6.8 .2 5.5 .3 1.5 .2-1.7 .2-5.6 .7 6.2 .3-1.2 .2-2.1 .2-3.2 .3-.9 .7 .1 .2-3.2 .2-.5 .3 3.7 .2 5.5 .7-.6 .2 3.8 .3-1.4 .2-4.3 .9 .6 .3 .5 .2-3.9 .2-1.9 .3 4.1 .7 8.3 .4 10.3 .5-9.4 .7-5.9 .2 1.2 .3-7.2 .2-.6 .2 .2 .7 2.6 .3-2 .2 6.3 .5-2.8 .7 .5 .2-.5 .2-4.8 .3-12 1.1-23.7 .3 4.6 .2-.9 .2-4.2 .7-2 .3-7.1 .2 .6 .2 1.9 .3-1.6 .9-11.1 .2-6.3 .3 2.2 .2-1.1 .7-.3 .2 9.1 .3-.4 .4 6.9 .7 6 .3 7.3 .2-.8 .2 .3 .3-1.8 .7 5.8 .2 4.6 .2-3.2 .5 5.9 1.4-25.8 .2-.1 .7-5.3 .3 1.6 .2 .1 .2-1.4 .3-6.2 .7 .2 .2-1.5 .2 2 .5 16.7 .7 8.6 .2-1.6 .3 1.1 .2-4.1 .2 .7 .7-3.6 .3-.1 .2 3.8 .2-1.7 .3 3.3 .7 1.2 .2-.2 .2-1.6 .3-3.7 .2-5.8 .7 6.3 .2-.8 .5 20 .2-2.5 1-25.9 .2-8.7 .2 1 .3 0 .7-8.6 .2 3.1 .2-.2 .3-6.3 .9-11.1 .2-.3 .3-3.5 .2 4 .2-2.7 .7 .2 .3 1.9 .2 9.2 .2 4.1 .3 6.3 .7 12.1 .2 1.4 .2 5.3 .5-5.6 1.2-41.5 .4-28.9 1 10.4 .2 .2 .5 8.6 .7-1.9 .2-10.4 .5-10.7 .2 0 .7 2.8 .2 2.6 .3 5.8 .2 12 .2 .7 .7-.2 .3-2.2 .2-6 .2-9.9 .3-2.2 .7 14.4 .2-.1 .7-13 .9-4.5 .3-.2 .4 3.9 .7 2.3 .5-4.2 .2-1.5 .3-.5 1.1 37.1 .3 2.6 .2 6.1 .7 13.2 .2 .4 .3 6.7 .2 3.5 .2-1.9 .7-45 .3 3.4 .2 15.4 .2-5.5 .3-14.5 .7 .6 .2 5.6 .2 2.7 .3 6.1 .2-.1 .7 2.7 .2 .2 .3 1.6 .2 11.1 .2 2.4 1-14.1 .2-2.4 .2 1.7 1 19.4 .2 1.5 .2 4.3 .5-12.6 1.4-20.7 .2 5 .7 17.9 .5-7.8 .2-3.5 .3 3.2 1.4 16 .2 7 .7-10.7 .2 .7 .3 5.4 .2-.9 .2 3.1 .7-6.1 .3 .5 1.4-29 .2-.5 .2-3 .3-12.5 .2 6.1 .7 .1 .2-.2 .5-9.3 .2-.1 .7 3.9 .7 19.7 .3-2.2 .7-4.1 .2 4.8 .2-.2 .3 .2 .2 .9 1.2-16.8 .2 .8 .2-.8 .7-1.7 .3 2.8 .4 25.2 .3-.8 .9 7.6 .2-3.4 .3 .1 .2-4.7 .7 3.3 .2 .4 .5 2.3 .2 .9 .7-44.3 .3-6.8 .2 3 .2-.8 .3 11.2 .9-3 .2-1.7 .3 1.2 .2 3.7 .7 6.9 .2 .9 .3 1.8 .2-1.7 .2 7.9 .7 1.3 .3-3 .2 2 .2-1.5 1 16.3 .2 3.4 .5-3.5 .2 2.5 .7-3.3 .2-10.9 .3-16.3 .4-8.2 .7-8.2 .5 7.1 .2 4.7 1-11.8 .2 3.7 .2-3.7 .3 12.3 .2 3.6 .7-.4 .2-.5 .3 10.8 .2-2.3 .9 13.8 .3-.2 .2 3.6 .2 6.7 .3 .8 .7 .3 .4-4 .3-4.9 .2-7.6 .7-7.4 .2-4.5 .3 1.6 .2 4.2 .2-7.1 1-14.2 .4-4 .3-.6 1.1 0 .3 5 .2-5 .7 43.6 .2 4.8 .3 1.9 .4 7.1 1-11 .2 1.2 .2-2.8 .3 3.5 .9-2.1 .2-1.2 .3-.1 .2 9.5 .7 5.3 .5 7.2 .4-1.7 .7 4.1 .3-6.6 .2-2.8 .2 4.2 .3-.5 .9 4.2 .2 3.5 .3-1.2 .2-3 .7-15.1 .2-2.1 .5 4.2 .2 15.6 .7 4 .3-3.4 .2 4.2 .2 .3 .3-2.3 .7 8.5 .2-6.7 .2 .2 .3-1.5 .2 .2 1.2 25.6 .2-9.3 .2 9.6 .7 6.8 .3 5.4 .2 1.5 .2 3.2 .3-.6 .7-8.9 .2-.6 .2-5.4 .3 6.4 .2 2.9 .7 4.2 .5-12 .2-5.1 .2-7.8 .7 8.9 .3 1 .2 6.3 .2-2.9 .3 .3 1.4 13.2 .2 .4 .7 .5 .2 2.5 .3 4.1 .2-1.8 .2 5.7 .7 .3 .3 3.3 .2 5.9 .2-4.7 .3-.7 .7 4.5 .9-18.6 .7-9.5 .5-2.9 .2 0 .2 .8 1 6.5 .2-.3 .2 2.9 .3 1 .7 .9 .2 1.5 .7-13.9 .7 2.7 .5 14.9 .2-4.3 .2-1.6 .7 3.2 .3 4.9 .2 .2 .2-3.7 .3 .5 .7 .7 .7-43 .9 4.7 .2-1.5 .3-.4 .2 5.3 .2-.5 .7-3.1 .5-6.9 .5 23.1 .7 11.5 .2-11.1 .5-1.1 .2-3.1 .7-.6 .2-2.8 .3 5.7 .2 2.6 .2-2.6 .7 3 .3-.4 .2 4.1 .5-13.7 1.1-16.7 .3 5.6 .9-13 .9-18.5 .7-10.2 .5-19 .2-4.3 .3 3.7 .7 8 .2-9.7 .2 4.2 .3 .9 .2-5.1 .7 .1 .5 6.9 .2 2.8 .2-1.9 .7-2.7 .7-9.2 .3 .7 .7-13.6 1.6 0 .7 4.4 .2 .7 .7-.3 .5 13.6 .2-18.4 .3 16.1 .7 4.3 .2-.4 .2-4.4 .5-15.6 .9 12.5 .3-12.5 .2 19.8 .2-4 .7-7.7 .3 .5 .2-5.3 .2 1.3 .3 0 1.1-4.6 .3 .1 .2-.1 1.2 8.1 .2-.4 .2-2.3 .7-5.4 .3 4.6 .2 1.3 1.2 9.5 .2-7.4 .2-.9 .3-7.1 .2 .2 .7 4.8 .2 .6 .3 1 .2-2.3 .2 2.3 .7-6.6 .3 12.2 .2 3.7 .2-2 .3 7.3 .7-1.8 .2-2.1 .2 .5 .3 .2 .9-12.7 .2-5.3 .5 5.4 .2 1.1 .7 12.5 .2-5.2 .3-1 .2-6.1 .2-2.8 .7-3.9 .3 2 .2-2 .5 13.1 .7 12.8 .2-1 .5 10.7 .2 1.4 .7 2.8 .2 6.5 .5 .7 .2 10.1 1.2-22.3 .2-.8 .3 6.6 .9 12.8 .2 6.7 .3-5.2 .2-1.3 .7-11.9 .2 0 .5-14.7 .2 4.5 .7 .9 .3 2.1 .2-3 .2 10.7 .3-2.3 .7-18.2 .2-1.1 .2 1.3 .3 4.2 .2-2 .7-4.3 .2 1.1 .3-3.4 0 0" clip-path="url(#p8021e7059d)" style="fill:none;stroke:#ff0000;stroke-linecap:square"/><path d="M903.84 474.13v-210.72" class="c1"/><path d="M1268.16 474.13v-210.72" class="c1"/><path d="M903.84 474.13l364.32 0" class="c1"/><path d="M903.84 263.41l364.32 0" class="c1"/><text x="1086.11" y="257.51" textLength="277.01" lengthAdjust="spacingAndGlyphs" class="c6">ESEA: Drawdown (%), min drawdown -50.00%</text><path d="M43.68 715.57l364.32 0 0-210.72-364.32 0z" class="c5"/><path d="M60.48 715.57v-210.72" class="c21"/><path d="M102.72 715.57v-210.72" class="c21"/><path d="M145.92 715.57v-210.72" class="c21"/><path d="M188.16 715.57v-210.72" class="c21"/><path d="M230.88 715.57v-210.72" class="c21"/><path d="M273.12 715.57v-210.72" class="c21"/><path d="M316.32 715.57v-210.72" class="c21"/><path d="M358.56 715.57v-210.72" class="c21"/><path d="M401.28 715.57v-210.72" class="c21"/><path d="M43.68 712.21l364.32 0" class="c21"/><text x="36.7" y="716" textLength="15.9" lengthAdjust="spacingAndGlyphs" class="c0">0.5</text><path d="M43.68 673.81l364.32 0" class="c21"/><text x="36.7" y="677.87" textLength="15.9" lengthAdjust="spacingAndGlyphs" class="c0">1.0</text><path d="M43.68 635.89l364.32 0" class="c21"/><text x="36.7" y="639.73" textLength="15.9" lengthAdjust="spacingAndGlyphs" class="c0">1.5</text><path d="M43.68 597.97l364.32 0" class="c21"/><text x="36.7" y="601.6" textLength="15.9" lengthAdjust="spacingAndGlyphs" class="c0">2.0</text><path d="M43.68 559.57l364.32 0" class="c21"/><text x="36.7" y="563.46" textLength="15.9" lengthAdjust="spacingAndGlyphs" class="c0">2.5</text><path d="M43.68 521.65l364.32 0" class="c21"/><text x="36.7" y="525.32" textLength="15.9" lengthAdjust="spacingAndGlyphs" class="c0">3.0</text><text x="14.88" y="610.11" transform="rotate(-90 14.88 610.11)" textLength="56.71" lengthAdjust="spacingAndGlyphs" class="c4">Normalized</text><path d="M60.3 674l.7 1.1 .3 .9 .2 0 .2 .5 .3 .1 .7-.3 .2-1 .2-.4 .3-.6 .2-3.8 .7 .3 .2-.1 .3 1.2 .4 4.1 .7 2.2 .3-.8 .4-5.8 .3-7.8 .7 2.4 .2 0 .5 2.5 .2 1 .7-4.9 .2-8 .3 .8 .2 .3 .2 2.3 1 4.8 .2 2.6 .2-.1 .3-1.1 .7 .3 .4 1.1 .3-.4 .2-1.3 .7-1.9 .2 .3 .3 1.4 1.1-12.6 .3 4.8 .2-.8 .5-4.7 .7 0 .2 6 .5-5.2 .2-.2 .9 .4 .3 .3 .2 .6 .2 1.2 .7-1.1 .3-1.3 .4 1.9 .3-.4 .7 7.5 .4 6.3 .3 .2 .2 .8 .7 4 .9-7.3 .7-3.6 .3 .7 .2 1.4 .5 6.6 .9 6.2 .2 1.2 .3-2.4 .2-.2 .7-5.2 .2-.4 .3 .7 .2 3.3 .2 .8 1 4.7 .2 1.1 .2-.1 .3-2.1 .7-3.6 .2 1.7 .2 .6 .3-.4 .2 .7 .7-1.6 .2-1.2 .3 1.5 .2-.7 .2 1.2 1 .6 .4-3.4 .3-.9 .7-.4 .2 .1 .5 4.8 .2 1 .7 7.1 .5-1.7 .4 1.7 .7 4.1 .3-.2 .2 .6 .2 0 .3 2.9 .7-1.9 .2-.2 .5 3.2 .2-.2 .9 4.8 .3-.5 .2 .8 .2-.4 .7 0 .5 .9 .2-.3 .3-.6 .9-4.8 .2-1.1 .3-2.2 .2-.5 .7 2.4 .2-.8 .5-5.7 .2 .1 1-4.6 .4 4.2 .3 .6 .9-2.5 .2-1.9 .3 0 .2 .9 .7 2.4 .2 2 .3 .2 .2 2.1 .2 .7 .7 1.1 .3-1.4 .2 1.2 .5 .1 .7 2.7 .2-1.7 .2-2.8 .5-2.4 .7 1.4 .5 1.7 .2-.5 .9-4.8 .3 1.1 .2 .1 .5 4.2 .7 2.2 .2 2.8 .2 .4 .3-.6 .2 1.6 .7 1.8 .2-.7 .3-.2 .2-.7 .2 0 1.2-4.4 .5 2.7 .7 1.5 .2-1.1 .2 .1 .5-2.6 .7-.5 .2-1.1 .3-.2 .2 .8 .2-.3 .7-2.3 .3-.4 1.4 3.9 .2 .3 .2 .9 .3 .1 .2-3.2 .7-2.8 .2 .7 .3-1.7 .2 .5 .2-1 .7 2.1 .3 1.7 .2 .8 .2 .4 .3 1.3 .7-.1 .2-.9 .2 .2 .3 1.2 .2-1.6 .7-.4 .2 .4 .5 1.7 .2-.3 .7 2.4 .3 .4 .4-1.2 .3-.9 .7-1.2 .4 3.1 .3-.3 .2-1.1 .7 .6 .2 .8 .5-2.1 .2 .1 .7 .5 .3 .5 .2-.6 .2 1.1 .3-1.1 .7 1.5 .2-.2 .2 0 .3 .7 .2 .2 1.2-2.9 .2-1.9 .2-.6 1-2 .2 .8 .2-.1 .3-.2 .7-.2 .2 .7 .2-.7 .3 .8 .2-.7 .9-4 .3-.2 .4 .8 .7 .1 .3-2.3 .2 .8 .2 1.6 .3-1.6 .7 3.3 .2-.2 .5-1.9 .2-1 .7 2.1 .2-.2 .3 1.2 .2-1.4 1.6-4.7 .3-1.1 .7-.3 .2 .9 .5 .4 .9 4.7 .2 0 .3 1.7 .2-.6 .2 1 .7 1.4 .5-1.5 .2 2.1 .3-.1 .7-1.3 .2 .2 .2-.2 .3-2 .2 .6 .7-.4 .2 1.8 .3 .5 .4-.1 1-3 .4-2.3 .3 .6 .7-1.9 .2-1.4 .2 1.9 .3-.5 .2 .9 .7 3.4 .5 .3 .4 .6 .7 1.9 .3 .3 .2 1.9 .2 .3 .3-1.6 .7-1.1 .4-1.8 .3-.8 .2-.2 .7-.8 .2 .9 .3 .2 .2 .9 .2-.2 1-.6 .2 1.7 .2 0 .3 .5 .7 2.4 .4 3 .5-5.8 .7-3.7 .2 .8 .3-.2 .2-.3 .2 1.3 .7 .8 .3-.1 .7-1.6 .7 0 .2 .6 .2 .2 .3 .5 .2-.5 .7-.2 .2 .2 .3-1.6 .2 .2 .2-.7 .7-1.2 .3 .4 .7-2.2 .7-.4 .2-2.2 .5 2.2 .2 .9 .7 1.4 .5-1.9 .2 .5 .9-2.2 .3 .2 .2-1.1 .2-.2 .3-.9 .7 .9 .2-2 .2-.1 .5 1.8 .7 2.9 .2 .2 .3 2.2 .2 1 .2-1.1 .7-.8 .3 1 .4-.5 .3 .2 .9 1.1 .5 2.3 .2 .3 .7 0 .2 .5 .3-2.6 .2 1.5 .2-.6 .7 .3 .3 .4 .7 2.5 .7 .3 .2 .3 .5 1.1 .2-.7 .7-.1 .2 .3 .3-1.7 .2 .1 .2-.5 .7 .6 .3 1 .2-.4 .2-.8 .3 3 .7 0 .2-.6 .2 .1 .3-1.2 .2 .4 .7-1.9 .2 .4 .3-.2 .2 .4 .2-.1 .7 2.2 .5-.3 .2-1.1 .3 .5 .7-.9 .2 .7 .2-.3 .5 2.2 .7 .9 .5-2.4 .2 .2 .2 .5 .7 1 .3 2.1 .2-1.3 .5 .4 .7-1.9 .2-.1 .5-2.1 .2 .1 .7-.4 .2 .4 .5 2.5 .2-2 .7-.7 .3 .4 .2-.3 .2-.5 .3-2.1 .7 1.8 .2 .1 .2-.4 .5 1.3 .7 0 .5-1.7 .2 .4 .2-1.9 1 .2 .2-2.1 .2 0 .3-.9 .7-.7 .2 .9 .2-.9 .3 1.4 .2-.5 .7-1.1 .2-2.6 .3 .2 .2-.3 .2-1.3 .7 2.5 .3-.1 .2-1 .5 2.6 .7-1.1 .2 1.3 .2-.8 .3-1.2 .9-1.4 .2-1.1 .3-.5 .4-1.5 .7-.1 .3-.2 .2 1.7 .2 .7 .3 1.9 .7 1.3 .2-1.1 .2-.5 .5 .4 .7 .4 .2-.2 .2 1.9 .5-.8 .7 1.7 .5-1.2 .2 .4 .2-1.7 .7 .4 .3 .4 .2-.2 .2-.5 .3 .2 .9 5.4 .5-2.1 .2-.9 .7-.6 .2-1 .3 .5 .2 1.1 .2 0 .7-.1 .3 .9 .2 .1 .2-1.6 .3-.1 .7-.5 .2 .6 .2 1 .3-.4 .2-1 .7-.6 .2-1.1 .3-.1 .2-1.6 .2-.2 .7-.8 .3-.4 .2 0 .2-1.4 .3 1.3 .7 1.5 .2 0 .2-.3 .3 1.2 .2-1.1 .7-2.2 .2-1.5 .5-.6 .2-.9 .7 .1 .3 .5 .2-.4 .2-.9 .3-.1 .7-1.2 .2 .4 .2-.8 .3 .3 .2-1.8 .7-2.7 .7-5.7 .2 .1 .7-4.5 .3-.3 .2 1.2 .2-2.7 .3-.4 .7-1.2 .2-.2 .5-1.4 .2 .4 .7-1.6 .2 2.1 .5 1.6 .2 .1 .7-4.8 .3 2.5 .4 2.4 .3 .1 .7-.6 .2-.5 .2-1.5 .3 1.1 .2-1.2 .7-2.3 .7 2.6 .2 1 .7-1.3 .3 .6 .2 0 .5 4 .7 2.6 .2 1.6 .2-.3 .3 .8 .2 2.6 .7 1.4 .2-1.2 .7 4.7 .7-.3 .5-2.4 .2 0 .3-.1 .7-3.7 .7 2 .2 0 .7 1.4 .9-5.9 .7 .4 .3 .6 .2 1.6 .2-.9 .3-1.7 .7 .2 .2-.7 .2 .7 .3 2.3 .9 4.1 .2 .4 .3-.5 .4 2.8 .7 1.5 .3-.6 .2 1.6 .5-.8 .7 2.3 .2-.1 .2-.9 .3 .6 .2-2.6 .7-.8 .2-1.1 .3 .7 .2-.2 .2 .2 .7-4 .3 .4 .2-1.9 .5-1.2 .7-1 .2 1.6 .5 1.4 .2-.2 .7 1.9 .2 1.2 .3-.4 .2 .3 .2 .7 .7 0 .3-.3 .4 .7 .3-1.3 .7 .9 .2 2.4 .7-2 .7 .4 .2 2.5 .3 1.3 .4-1.7 .7-1.8 .3 .5 .2 0 .2-.3 .3-1.2 .7 1.5 .2 2.9 .2 0 .3 .9 .2-1 .9-.8 .3 .5 .4 2.7 .7 3 .3 .4 .2-.9 .2-.1 .3 1.2 .7-2.4 .2-.4 .2-.2 .3-.5 1.1 3.1 .3-.1 .2-.4 .2 .9 .7 .3 .3 1.5 .2-1.6 .5 .7 .9-3.3 .2 .4 .3-1.3 .2 1.2 .7 .4 .2 .6 .5-2.4 .2 .2 .7 1 .3-.4 .2 .4 .2-.2 .3 .3 .7 .5 .2 .3 .2 1.4 .3-.6 .2 .9 .9 .6 .3-.9 .2 1.1 .2 .1 .7-2 .3-1.1 .2-.4 .2 1.3 .3 .5 .7-.9 .2 .1 .2 .3 .3 .2 .2-.9 .7-.7 .2 .3 .3-.5 .4-2.3 .7-1.6 .5 1.4 .2 .3 .3 1 .7 2.2 .2 .3 .2-.2 .3-1.4 .2 2.3 .7 1.9 .2-.9 .3 .1 .2-2.1 .2-.5 .7-3.9 .3 1 .2-.3 .2-.5 .3 .7 .9 .9 .5-2.1 .2-1.5 .7 2.1 .2-.8 .3 0 .2 .5 .2 1.1 .7-.4 .3 .7 .2-.9 .5 11.3 .7 3.1 .2 1.9 .2-.4 .3 .9 .2-2.2 .7-4.4 .2-.1 .3 .7 .2-1.2 .2-.2 .7-.1 .3 .1 .2 1.1 .2-.3 1-5 .2-.2 .5 .9 .9-2.2 .2 .3 .3 1.4 .4-.4 .7-4.9 .5-4.8 .2-.4 .3-1.4 .7-3.2 .4 4.2 .5 1.1 .7-.8 .2-.7 .3 .1 .2-.2 .9-2.7 .3 1.3 .2-1.1 .5 2 .9-3.1 .2-1 .3-.4 .2 0 .7 .5 .2-.1 .3-1.2 .2 1.4 .2-.1 .7 1.4 .3 1.1 .2-.3 .2-1.6 .3 1 .7-.4 .2-1.8 .2-.1 .3-1.7 .2 .1 .7-2.5 .2 .1 .3 .8 .4-1.1 .7-.9 .3 1.7 .4-1.7 .3-.2 .7-1.4 .2-1.6 .2 .2 .3 .2 .2-.5 .7-.8 .2 0 .5 1.5 .2 1 .7-.3 .3-2 .2-.7 .5-2.7 1.6-1.6 .7-.5 .2 2.1 .5 .9 .2 .2 .7 1.3 .5-1.3 .2 .5 .3-1.4 .7-.5 .2 .3 .7-1.2 .7-5.5 1.6-2 .5 1.7 .2-2.4 .3 2.7 .7 1.3 .2 1.7 .2-1.1 .3 1.6 .2-2.5 .7 2 .2-.1 .3 1.8 .2 .8 .2 .1 .7 1.4 .7 7.5 .3-.1 .7 1.1 .2-2.4 .2-.3 .3 1.8 .2-1.9 .7-.8 .5 1.3 .2 .7 .2-1.8 .7-.2 .3-.2 .2-2.6 .2-4.7 .3-.7 .9-1.5 .2-1.2 .3 .7 .2 0 .7-1.9 .5-2 .2-5.2 .2-.4 1.2-.3 0 0" clip-path="url(#pe2675835e2)" style="fill:none;stroke:#2ca02c;stroke-linecap:square"/><path d="M60.3 674l1 .1 1.4 .4 .7 0 .2-.1 .9-.3 .5-.1 1.2 .3 .4-.1 .3-.4 .7-.3 .4-.5 .5-.3 .7-.3 .7-1.7 .2-.4 1-.5 1.4-.4 2.1-.8 1.1-1.1 .7-1.2 .3-.5 .9-.8 .7-1.2 .7-.4 .7-1.1 .2-.3 .7-.2 .7-.9 .3-.2 .7 0 .4 .5 .5 .7 .7 .4 .5 .7 .4 .3 1.2 0 1.2 1 .9 1.9 .9 .4 .5 .5 .2 .3 .7 .5 1 1.8 .7 .2 .9 1.2 .9 .3 .7 .6 .7 .2 .5 .4 .5 .1 .9 0 .5 .4 .2 .2 .7 .5 .9 1.7 .7 .6 1 2.2 .7 .5 .9 2.2 .7 .7 .9 2.5 .7 .6 1 2.2 .7 .3 .4 .5 .5 .2 1.4 .3 .9-.2 .5-.4 1.6-.6 .5-.3 1.2 0 .4 .3 1 .3 .7 .5 1.4 .5 .2-.1 .9 .1 .7 .2 1.4-.3 1.2 .5 .7 .9 .7 .3 .9 1.1 1.2 .3 .5 .3 .9 .4 .5 .2 .9 .1 1.9-.3 .7-.1 .9 .1 .5 .2 .9-.2 .7-.4 .2-.2 1.4-.1 .3 .1 3 .4 1.2 .4 .7 .3 .9 .1 .7 .3 .9 .2 .7 .2 1.2 .1 .5 .2 1.1 .2 .5 .2 1.4 0 .2-.1 .7-.2 1-.6 .9-.2 .7-.3 .7-.3 .9-.9 .7-.2 .7-.7 .3-.2 .9-.2 .7-.4 1.2-.3 1.4-.6 .7-.8 .7-.3 .9-.8 1.4 .1 3 .8 1.2 0 .9 .3 1-.1 1.6-.7 .7-.4 1.4 .1 1.2 .3 .7 .6 1.6 .1 1.6-.1 1.4 .1 1.2 .5 .5 .4 .2 0 1.2-.3 .4-.1 1.4-.1 .3-.1 2.8-.4 1.6-.6 .5-.4 .7-.2 .7-.6 .2-.2 .9-.1 .7-.4 1-.4 .7-.7 .7-.1 .9-1 1.2 0 .4 .1 1.4 .1 1.4 .3 .5 .3 .9 .4 1.7 .4 2.1 1.3 .2 .2 .7 .2 .5 .3 .4 .2 1 .2 .7 .4 .9 .3 .7 .4 1.4 .2 1.2 .3 .7 .2 1.1 .2 2.1 .7 .7 .1 .7 .5 .3 .1 1.6 .1 1.2 0 .4 0 1.4-.1 .3-.1 2.8-.3 1.4-.4 .7-.6 .9-.4 .7-.5 .7-.2 .9-1.1 .7-.2 1-.7 .9-.3 1.6-.9 .7-.8 .7-.3 .5-.5 .5-.2 .9-.1 .7-.3 1.6-.1 1.6 .1 2.4 0 .4 .3 .5 .2 2.3 .1 .7 .1 2.8 0 .5-.2 .2-.2 .7-.1 1-.8 .9-.1 .7-.3 .7-.1 .9-1 .7-.2 1-.9 .7-.3 .9-1.1 .7-.4 .7-1.6 .2-.5 .7-.7 1-2.7 .7-.7 .9-2.7 .7-.7 .9-1.9 .7-.7 .7-1.2 .3-.4 .7-.3 .9-1.5 .7-.5 .7-1 .2-.3 .7-.3 .7-.7 .3 0 .9 .1 .5 .1 .2 .2 .9 .5 .7 .9 .7 .3 .7 .7 .3 .1 1.1 .2 .5 .2 1.4 .3 .2-.1 2.6-.4 .5 0 1.1 .4 .5 .4 .2 .3 .7 .3 1 1.2 .7 .3 .7 .9 .2 .2 .9 .3 .7 .3 1.2-.2 .5-.3 1.6-.4 1.2 .1 2.1 .5 .7 .1 .7 .4 .2 0 .7 .1 .9 .7 1 .2 .7 .1 .7 .1 .9 .7 .9 .2 .5 .3 .2 .3 .7 .3 1 1.2 .9 .4 .7 .4 .7 .3 .9 .8 .7 .3 .7 .7 .3 .2 1.4 .3 .2 .1 4 .6 .7 .3 .2 .1 .9 .3 .7 .4 4.5 .3 1.4-.5 .7-.2 1.6 .2 .9 .3 .5 .1 .2 0 1-.3 .7-.3 1.1-.2 .5-.3 .9-.3 .7-.2 1.2-.2 .2 .2 .3 .4 .7 .4 .9 2 .7 .2 .9 .8 1 .3 .7 .4 1.6-.2 1.6-.2 .7-.2 .7-1.2 .3-.4 .7-.5 .4-.8 .5-.6 .7-.3 .9-1.2 .7-.3 1-1.2 .7-.3 .9-1.4 .7-.3 .9-1.2 1-.3 .7-.6 .7-.2 .9-1 .7-.3 .9-1.3 .7-.4 1-1.1 .7-.4 .9-1.4 .7-.4 .7-.9 .2-.3 .7-.2 1-1.3 .7-.4 .9-1.6 .7-.4 .9-.9 .7-.2 1-.7 .7-.2 1.8-1.8 .7-1.2 .7-.4 1-1.4 .9-.4 .7-.5 1.6-.3 .7 0 .5 .3 .5 .7 .9 .5 .7 .7 .7 .2 .9 .6 1.2 .3 .5-.4 .7-.3 .9-1 .7-.3 .5-.7 .4-1.1 .7-.5 .5-1 0 0" clip-path="url(#pe2675835e2)" style="fill:none;stroke:#ffa500;stroke-linecap:square"/><path d="M60.3 674l6.3 .1 .3-.1 1.4-.3 1.1-.3 .7-.4 1.4-.3 .3 0 1.4-.2 2.8-.9 .7-.4 .9-.4 .7-.5 .9-.3 .7-.4 1-.3 .7-.5 1.6-.1 1.6 .1 1.7-.1 .9 .1 .7 .3 1.4 .1 4.2 1 2.6 .5 1.1 .1 1.7 .6 .4 .3 .7 .1 1 .8 .7 .2 .9 .8 .7 .2 .9 1 .7 .3 1 .9 .7 .2 .9 .7 .9 .3 .7 .3 1.2 .1 .5 .2 1.6 .3 .9 .1 2.4 1 .9 .3 .7 .2 .9 .2 .7 .3 1.2 .2 1.9 .7 .2 .2 .9 .3 .7 .5 1 .2 .7 .4 .9 .3 .7 .3 1.2 .3 .4 .2 1.2 .1 2.1 .6 2.3 .3 2.6 .6 1.2 .2 .4 .2 1 .2 .7 .3 .9 .1 .7 .3 .9 .2 .7 .2 1.2 .2 .5 .2 1.1 .2 .5 .2 4.9 .4 2.6-.1 .7-.1 3.2-.1 1.2-.1 2.1-.4 2.8 0 1.6 .2 4.9-.2 .5 0 2.6 0 .7 .2 6.3 .3 1.1 0 2.4-.1 4.2-.1 6.7-1.3 .5-.2 4.9-.2 4 .2 2.5 .4 1.4 .1 1 .1 .9 .2 2.3 .2 1 .2 1.4 .1 1.1 .1 4 .6 2.3 .2 1.9 0 3.7 0 1.9-.3 .9-.1 .7-.2 1.2-.2 .5-.1 1.4-.2 3.5-.9 1.1-.2 .5-.1 3-.2 1.9-.3 3.9-.1 3.3-.1 5.1-1 .7-.2 1-.2 .7-.3 .9-.2 .7-.4 .7-.2 .9-.7 .7-.3 1-.9 .7-.3 .9-1.1 .7-.3 .9-.9 .7-.3 1-.9 .7-.3 .9-.9 .7-.2 .9-.9 .7-.2 1-.8 .9-.3 .7-.3 1.2-.2 .4-.1 1.2-.2 2.1-.5 .9-.1 2.4-.8 .9-.2 .7-.3 3.3-.1 3.2 .1 1.2-.2 .5-.1 1.4-.3 .2-.1 5.8-.2 .7 .1 3.1 .1 3.2 .4 .3 .1 1.4 .2 5.1 1.1 2.3 .2 8.4 1.3 .7 .1 2.4 0 2.5 .4 6.3 0 .3 .1 .9 .3 .7 .4 .9 .2 .7 .2 1.2 .2 .5 .2 2.8 .2 1.1 0 1.9-.5 .7-.2 1.2-.2 .4-.1 1-.2 .7-.3 .9-.2 .7-.3 .9-.2 .7-.4 1.2-.2 .5-.2 .9-.2 .7-.3 .9-.3 .7-.4 1-.3 .7-.4 .7-.1 .9-.7 .9-.3 .7-.5 1-.3 .7-.5 .7-.2 .9-.8 .9-.4 .7-.5 1-.3 .7-.4 .9-.3 .7-.5 .7-.3 .9-.8 .7-.3 1-.8 .9-.4 .7-.5 .9-.3 .7-.4 6.3-1.1 .3-.2 .9-.2 .7-.5 .7-.2 .9-.8 .7-.2 .5-.5 0 0" clip-path="url(#pe2675835e2)" style="fill:none;stroke:#0000ff;stroke-linecap:square"/><path d="M60.3 674l3.1 0 .2-3.5 3 0 .3-6.7 2.3 0 .2-7 5.6 0 .7-3.5 .7 0 .3-.7 189.4 0 .7-1 .9 0 .7-1 98.7 0 .3-.8 1.6-1.6 .7-.5 4.2 0 .7-4.6 1.6-2 .5 0 .2-.7 12.9 0 .2-4.7 .2-.4 1.2-.3 0 0" clip-path="url(#pe2675835e2)" style="fill:none;stroke-dasharray:3.7,1.6;stroke-dashoffset:0;stroke:#ff0000;stroke-opacity:0.8"/><path d="M43.68 715.57v-210.72" class="c1"/><path d="M408 715.57v-210.72" class="c1"/><path d="M43.68 715.57l364.32 0" class="c1"/><path d="M43.68 504.85l364.32 0" class="c1"/><text x="225.83" y="498.7" textLength="147.05" lengthAdjust="spacingAndGlyphs" class="c6">GSL: Price + EMA + Max</text><path d="M287.36 553.1l115.7 0Q404.46 553.1 404.46 551.7v-42.1Q404.46 508.2 403.06 508.2l-115.7 0Q285.96 508.2 285.96 509.6v42.1Q285.96 553.1 287.36 553.1z" class="c25"/><path d="M288.96 514.45l6.72 0 7.2 0" style="fill:none;stroke:#2ca02c;stroke-linecap:square"/><text x="308.36" y="516.76" textLength="33.07" lengthAdjust="spacingAndGlyphs" class="c2">GSL Price</text><path d="M288.96 525.01l6.72 0 7.2 0" class="c28"/><text x="308.36" y="527.46" textLength="88.76" lengthAdjust="spacingAndGlyphs" class="c2">GSL EMA (50 day expMA)</text><path d="M288.96 535.57l6.72 0 7.2 0" class="c26"/><text x="308.36" y="538.16" textLength="93.22" lengthAdjust="spacingAndGlyphs" class="c2">GSL EMA (200 day expMA)</text><path d="M288.96 546.61l6.72 0 7.2 0" class="c29"/><text x="308.36" y="548.86" textLength="30.46" lengthAdjust="spacingAndGlyphs" class="c2">GSL Max</text><path d="M473.76 715.57l364.32 0 0-210.72-364.32 0z" class="c5"/><path d="M490.56 715.57v-210.72" class="c9"/><path d="M532.8 715.57v-210.72" class="c9"/><path d="M576 715.57v-210.72" class="c9"/><path d="M618.24 715.57v-210.72" class="c9"/><path d="M660.96 715.57v-210.72" class="c9"/><path d="M703.68 715.57v-210.72" class="c9"/><path d="M746.4 715.57v-210.72" class="c9"/><path d="M788.64 715.57v-210.72" class="c9"/><path d="M831.36 715.57v-210.72" class="c9"/><path d="M473.76 713.17l364.32 0" class="c9"/><text x="466.84" y="717.05" textLength="21.1" lengthAdjust="spacingAndGlyphs" class="c0">−40</text><path d="M473.76 687.73l364.32 0" class="c9"/><text x="466.84" y="691.57" textLength="21.1" lengthAdjust="spacingAndGlyphs" class="c0">−20</text><path d="M473.76 662.29l364.32 0" class="c9"/><text x="466.84" y="666.09" textLength="6.36" lengthAdjust="spacingAndGlyphs" class="c0">0</text><path d="M473.76 636.85l364.32 0" class="c9"/><text x="466.84" y="640.61" textLength="12.72" lengthAdjust="spacingAndGlyphs" class="c0">20</text><path d="M473.76 611.41l364.32 0" class="c9"/><text x="466.84" y="615.13" textLength="12.72" lengthAdjust="spacingAndGlyphs" class="c0">40</text><path d="M473.76 585.97l364.32 0" class="c9"/><text x="466.84" y="589.65" textLength="12.72" lengthAdjust="spacingAndGlyphs" class="c0">60</text><path d="M473.76 560.53l364.32 0" class="c9"/><text x="466.84" y="564.17" textLength="12.72" lengthAdjust="spacingAndGlyphs" class="c0">80</text><path d="M473.76 534.61l364.32 0" class="c9"/><text x="466.84" y="538.69" textLength="19.09" lengthAdjust="spacingAndGlyphs" class="c0">100</text><path d="M473.76 509.17l364.32 0" class="c9"/><text x="466.84" y="513.21" textLength="19.09" lengthAdjust="spacingAndGlyphs" class="c0">120</text><text x="439.8" y="610.11" transform="rotate(-90 439.8 610.11)" textLength="37.06" lengthAdjust="spacingAndGlyphs" class="c4">Error %</text><path d="M490.4 662.3M491.4 662.3v3.1M491.8 662.3v3.6M492.8 662.3v2.9M493.3 662.3v.6M493.8 662.3v-6.5M494.7 662.3v-5.7M495.2 662.3v-.3M496.2 662.3v6.5M498.6 662.3v-5.1M499.5 662.3v-25.1M500 662.3v-21.4M501 662.3v-10.3M501.4 662.3v-3.7M501.9 662.3v-5.3M502.9 662.3v-3.3M503.4 662.3v-3M504.3 662.3v-7.9M504.8 662.3v-4.6M506.7 662.3v-22M507.7 662.3v-10.7M508.2 662.3v-18M509.1 662.3v-16.5M509.6 662.3v-14.6M510.1 662.3v-10.6M511 662.3v-13.6M511.5 662.3v-9.5M512.5 662.3v2.5M513 662.3v12.2M513.4 662.3v12.9M515.8 662.3v.2M516.3 662.3v8.4M517.3 662.3v20.4M517.8 662.3v22.3M518.2 662.3v16.5M519.2 662.3v6.7M519.7 662.3v12.5M520.6 662.3v19.2M521.1 662.3v20.6M521.6 662.3v15.4M524 662.3v6.2M524.5 662.3v7M525.4 662.3v9.2M525.9 662.3v5.4M526.4 662.3v1.3M527.3 662.3v.7M527.8 662.3v8.2M528.8 662.3v20.6M529.3 662.3v16.2M529.7 662.3v17.6M532.1 662.3v20.1M532.6 662.3v23.6M533.6 662.3v27M534.1 662.3v26.3M534.5 662.3v24.8M535.5 662.3v23.8M536 662.3v22M536.9 662.3v12.9M537.4 662.3v8.9M537.9 662.3v4.1M540.8 662.3v-2.5M541.7 662.3v-4.4M542.2 662.3v-8.1M542.7 662.3v-6M543.7 662.3v1.2M544.1 662.3v4.8M545.1 662.3v7.3M545.6 662.3v6.5M546.1 662.3v6.2M547 662.3v7.2M548.9 662.3v2.5M549.9 662.3v-5.4M550.4 662.3v-3.2M550.9 662.3v3.7M551.8 662.3v11.3M552.3 662.3v10.1M553.3 662.3v14.6M553.7 662.3v12.1M554.2 662.3v10.2M555.2 662.3v3.6M558.1 662.3v.9M558.5 662.3v-1.2M559 662.3v-.5M560 662.3v-4.6M560.5 662.3v-2.1M561.4 662.3v2.1M561.9 662.3v3.9M562.4 662.3v-1.4M563.3 662.3v-4.6M563.8 662.3v-6M566.2 662.3v2.8M566.7 662.3v1.6M567.2 662.3v.6M568.1 662.3v.7M568.6 662.3v3.3M569.6 662.3v6.5M570.1 662.3v5.6M570.5 662.3v2.8M571.5 662.3v2.8M572 662.3v4.8M574.4 662.3v2M574.9 662.3v1.8M575.3 662.3v1.5M576.3 662.3v3.4M576.8 662.3v4.3M577.7 662.3v1.4M578.2 662.3v-.5M578.7 662.3v-4.4M579.7 662.3v-7.2M580.1 662.3v-5.5M583 662.3v-10.5M583.5 662.3v-8.6M584.5 662.3v-11.4M584.9 662.3v-6.7M585.9 662.3v-3.5M586.4 662.3v-5.3M586.9 662.3v-7.7M587.8 662.3v-4.1M588.3 662.3v-4.2M589.3 662.3v-8.1M591.2 662.3v-9.1M591.7 662.3v-6.2M592.6 662.3v-.3M593.1 662.3v1.4M594.1 662.3v5M594.5 662.3v2.2M595 662.3v5.2M596 662.3v3.2M596.5 662.3v-.7M597.4 662.3v-.4M599.8 662.3v-4.4M600.8 662.3v-9.2M601.3 662.3v-6.4M602.2 662.3v1M602.7 662.3v1.4M603.2 662.3v2.2M604.1 662.3v5.4M604.6 662.3v8.5M605.6 662.3v3.5M606.1 662.3v.4M608 662.3v.6M608.9 662.3v-.4M609.4 662.3v2.2M610.4 662.3v6.7M610.8 662.3v10.9M611.3 662.3v1M612.3 662.3v-3.5M612.8 662.3v-4.1M613.7 662.3v-.5M614.2 662.3v-1.6M617.1 662.3v-1.3M617.6 662.3v-3.3M618.5 662.3v-6.1M619 662.3v-6.3M619.5 662.3v-8M620.4 662.3v-11.5M620.9 662.3v-7.1M621.9 662.3v-3M622.4 662.3v-5.7M622.8 662.3v-5.4M625.2 662.3v-10.9M625.7 662.3v-9M626.7 662.3v-2M627.2 662.3v2M627.6 662.3v1.5M628.6 662.3v1.8M629.1 662.3v1M630 662.3v2.6M630.5 662.3v4.9M631 662.3v6.3M633.4 662.3v4.2M633.9 662.3v6.1M634.8 662.3v7.9M635.3 662.3v8.8M635.8 662.3v7.6M636.8 662.3v7.4M637.2 662.3v4.4M638.2 662.3v4.3M638.7 662.3v4.8M639.2 662.3v8M642 662.3v2.1M643 662.3v5.4M643.5 662.3v4.5M644 662.3v3.2M644.9 662.3v2.6M645.4 662.3v3.4M646.4 662.3v6.7M646.8 662.3v2.3M647.3 662.3v3.3M648.3 662.3v7.9M650.2 662.3v-1.3M651.2 662.3v-1.6M651.6 662.3v1.5M652.1 662.3v-.4M653.1 662.3v-.7M653.6 662.3v-1.9M654.5 662.3v-2.1M655 662.3v-2.5M655.5 662.3v-.3M656.4 662.3v-1.4M659.3 662.3v-9.3M659.8 662.3v-8.6M660.3 662.3v-6.6M661.2 662.3v-12M661.7 662.3v-11.3M662.7 662.3v-8.4M663.2 662.3v-9.5M663.6 662.3v-4.7M664.6 662.3v-3.9M665.1 662.3v-6.8M667.5 662.3v-11.5M668 662.3v-8.4M668.4 662.3v-3.5M669.4 662.3v-3M669.9 662.3v-3.2M670.8 662.3v-2M671.3 662.3v.8M671.8 662.3v-.5M672.8 662.3v1.3M673.2 662.3v.9M675.6 662.3v4.9M676.1 662.3v4.8M676.6 662.3v1.9M677.6 662.3v-.7M678 662.3v1.7M679 662.3v1.4M679.5 662.3v3M680 662.3v.1M680.9 662.3v.2M681.4 662.3v1.1M684.3 662.3v-6.9M684.8 662.3v-6.5M685.7 662.3v-3.7M686.2 662.3v-2M687.2 662.3v-7M687.6 662.3v-9.2M688.1 662.3v-10.5M689.1 662.3v-8.7M689.6 662.3v-10.1M690.5 662.3v-11.4M692.4 662.3v-21.8M692.9 662.3v-22.4M693.9 662.3v-28.1M694.4 662.3v-28.5M695.3 662.3v-28.8M695.8 662.3v-28.3M696.3 662.3v-26.3M697.2 662.3v-23.5M697.7 662.3v-19.1M698.7 662.3v-25.2M701.1 662.3v-15.5M702 662.3v-16.7M702.5 662.3v-12.4M703.5 662.3v-12.1M703.9 662.3v-10.2M704.4 662.3v-3.2M705.4 662.3v3.6M705.9 662.3v4.2M706.8 662.3v10.2M707.3 662.3v10M709.2 662.3v7.5M710.2 662.3v2.3M710.7 662.3v4.3M711.6 662.3v6.2M712.1 662.3v1.2M712.6 662.3v-3.7M713.5 662.3v-1.8M714 662.3v-.7M715 662.3v-2.9M715.5 662.3v-2.7M718.3 662.3v11.1M718.8 662.3v12.2M719.8 662.3v14.3M720.3 662.3v11.6M720.7 662.3v7.5M721.7 662.3v3.9M722.2 662.3v4.4M723.1 662.3v-2.2M723.6 662.3v-4.4M724.1 662.3v-5.9M726.5 662.3v2.8M727 662.3v2.6M727.9 662.3v3.3M728.4 662.3v3.2M728.9 662.3v1.4M729.9 662.3v6.5M730.3 662.3v3.8M731.3 662.3v3.3M731.8 662.3v8.9M732.3 662.3v5.5M734.7 662.3v7.3M735.1 662.3v8.2M736.1 662.3v4.9M736.6 662.3v5.2M737.1 662.3v9M738 662.3v13.7M738.5 662.3v11.1M739.5 662.3v8.1M739.9 662.3v6.6M740.4 662.3v6.4M743.3 662.3v8.5M744.3 662.3v4.4M744.7 662.3v3.6M745.2 662.3v3.2M746.2 662.3v4.5M746.7 662.3v.4M747.6 662.3v2.3M748.1 662.3v2.1M748.6 662.3v2.1M749.5 662.3v3.3M751.5 662.3v5.8M752.4 662.3v2.4M752.9 662.3v-.1M753.4 662.3v2.7M754.3 662.3v1.1M754.8 662.3v1.9M755.8 662.3v-.8M756.3 662.3v-1.1M756.7 662.3v-4.6M757.7 662.3v-5.6M760.6 662.3v6M761.1 662.3v4.3M761.5 662.3v-.1M762.5 662.3v-4.4M763 662.3v-5.3M763.9 662.3v-2.6M764.4 662.3v-3.6M764.9 662.3v-7.6M765.9 662.3v-5.2M766.3 662.3v-3.9M768.7 662.3v19.5M769.2 662.3v20.3M769.7 662.3v16.7M770.7 662.3v8.3M771.1 662.3v7M772.1 662.3v5.9M772.6 662.3v7.3M773.1 662.3v4.1M774 662.3v-2M774.5 662.3v-.6M776.9 662.3v-9.3M777.4 662.3v-16.1M777.9 662.3v-17.7M778.8 662.3v-18.3M779.3 662.3v-12.3M780.3 662.3v-11.9M780.7 662.3v-11.9M781.2 662.3v-12.3M782.2 662.3v-12.5M782.7 662.3v-11.4M785.5 662.3v-14M786 662.3v-11M787 662.3v-6.2M787.4 662.3v-8.8M788.4 662.3v-7.2M788.9 662.3v-9.5M789.4 662.3v-11.3M790.3 662.3v-14.1M790.8 662.3v-12.8M791.8 662.3v-14M793.7 662.3v-15.3M794.2 662.3v-14.6M795.1 662.3v-14.6M795.6 662.3v-11.2M796.6 662.3v-9.3M797 662.3v-12.7M797.5 662.3v-16.1M798.5 662.3v-16.3M799 662.3v-15.7M799.9 662.3v-15.6M802.3 662.3v-8.7M803.3 662.3v-8.3M803.8 662.3v-9.1M804.7 662.3v-17.6M805.2 662.3v-17.2M805.7 662.3v-16.8M806.6 662.3v-15.1M807.1 662.3v-16.9M808.1 662.3v-9.4M808.6 662.3v-7.8M810.5 662.3v-.4M811.4 662.3v5.4M811.9 662.3v13.1M812.9 662.3v13.8M813.4 662.3v8.5M813.8 662.3v7.5M814.8 662.3v6.6M815.3 662.3v8.5M816.2 662.3v4.6M816.7 662.3v-.1M819.6 662.3v-13.7M820.1 662.3v-22.3M821 662.3v-21.6M821.5 662.3v-20.2v0" clip-path="url(#pc9510ec6dc)" style="fill:none;stroke:#800080;stroke-opacity:0.7;stroke-width:0.48"/><path d="M490.5 662.3l.7 1.8 .2 1.5 .2-.1 .3 .7 .2 .2 .7-.6 .2-1.7 .3-.6 .2-1.1 .2-6.2 .7 .6 .3-.2 .2 2.1 .5 6.8 .7 3.5 .2-1.4 .5-9.5 .2-12.9 .7 4.1 .2 .1 .5 4.4 .2 1.7 .7-8 .3-13.1 .2 1.7 .2 .7 .3 4.1 .9 8.3 .2 4.4 .3-.1 .2-1.8 .7 .6 .5 2.2 .2-.6 .2-2.1 .7-3.1 .3 .6 .2 2.4 1.2-20.3 .2 8.2 .2-1.1 .5-7.2 .7 .3 .2 10.3 .5-8.2 .2-.1 1 1.2 .2 .8 .2 1.2 .3 2.4 .7-1.8 .2-1.8 .5 3.7 .2-.4 .7 12.5 .5 10.6 .2 .3 .2 1.4 .7 6.6 1-12.2 .7-5.9 .2 1.3 .2 2.3 .5 11 .9 10.1 .3 1.8 .2-4.2 .2-.4 .7-8.7 .3-.6 .2 1 .2 5.5 .3 1.3 .7 6.5 .2 1 .2 1.6 .3-.3 .2-3.8 .7-6 .2 2.6 .3 .9 .2-.8 .2 1.1 .7-2.9 .3-2 .2 2.4 .2-1.2 .3 1.9 .7 .8 .2-.1 .5-5.9 .2-1.4 .7-.8 .2 .1 .5 7.9 .2 1.4 .7 11.8 .5-3.4 .5 2.3 .7 6.5 .2-.5 .2 .7 .3-.3 .2 4.5 .9-4.3 .5 4.8 .2-.7 1 7.2 .2-1.2 .2 .8 .3-1 .7-.5 .2 .6 .2 .2 .3-1 .2-1.4 1.6-15.6 .7 3.7 .3-1.6 .4-9.9 .3 .1 .9-7.8 .5 6.7 .2 .8 .9-4.3 .3-3.3 .2-.2 .2 1.6 .7 3.8 .3 3.1 .2 .3 .2 3.2 .3 1 .7 1.6 .2-2.4 .2 1.6 .5-.1 .7 4.3 .2-3.1 .3-4.9 .4-4.2 .7 2.1 .5 2.6 .2-1 1-8.3 .2 1.8 .2 0 .5 6.7 .7 3.4 .2 4.5 .3 .4 .2-1.2 .2 2.4 .7 2.6 .3-1.4 .2-.6 .2-1.3 .3-.3 1.1-8 .3 2.8 .2 1.4 .7 2.1 .2-2 .3 0 .4-4.7 .7-.9 .3-2 .2-.5 .2 1.1 .3-.7 .9-4.6 1.4 6 .2 .3 .3 1.5 .2-.1 .2-5.5 .7-4.7 .3 1 .2-2.8 .2 .8 .3-1.8 .7 3.5 .2 2.7 .2 1.3 .3 .4 .2 2.1 .7-.3 .2-1.5 .3 .1 .2 1.8 .2-2.8 .7-.7 .3 .6 .4 2.6 .3-.7 .7 3.9 .2 .4 .5-2.3 .2-1.6 .7-2.1 .5 4.8 .2-.7 .2-1.9 .7 .9 .3 1.1 .4-3.7 .3 0 .7 .7 .2 .7 .2-1 .3 1.6 .2-2 .7 2.4 .2-.5 .3-.2 .2 1.2 .2 .2 1.2-5.2 .2-3.2 .3-1.1 .9-3.5 .2 1.3 .3-.1 .2-.3 .7-.4 .2 1.1 .3-1.3 .2 1.5 .2-1.3 1-6.7 .2-.1 .5 1.3 .7 .2 .2-3.8 .2 1.4 .3 2.7 .2-2.6 .7 5.4 .2-.2 .5-3.2 .2-1.6 .7 3.5 .3-.3 .2 2 .2-2.3 1.9-9.3 .7-.3 .2 1.6 .5 .8 .9 7.9 .3 .1 .2 2.7 .2-.9 .3 1.6 .7 2.3 .4-2.6 .3 3.4 .2-.1 .7-2.2 .2 .4 .3-.5 .2-3.3 .2 .9 .7-.6 .3 3.1 .2 .7 .2 0 .3-.2 .9-5.1 .5-3.8 .2 1.1 .7-3.1 .2-2.2 .3 3.3 .2-.9 1.2 7.5 .2 .3 .5 1 .7 3 .2 .5 .2 3.2 .3 .4 .2-2.8 .7-1.9 .9-4.7 .7-1.4 .3 1.5 .2 .4 .2 1.5 .3-.3 .9-1 .2 2.8 .3-.1 .2 .8 .7 4 .5 4.8 .4-9.8 .7-6.3 .3 1.5 .2-.2 .2-.6 .3 2.2 .7 1.3 .2-.2 .7-2.5 .7-.1 .2 1.1 .3 .3 .2 .8 .2-.7 .7-.4 .3 .3 .2-2.6 .2 .4 .3-1.1 .7-2 .2 .8 .7-3.5 .7-.7 .2-3.5 .5 4 .2 1.6 .7 2.3 .5-3 .2 .8 .3-.7 .7-2.6 .2 .4 .2-1.7 .3-.3 .2-1.3 .7 1.5 .2-3.1 .3 0 .4 3.1 .7 5 .3 .5 .2 3.7 .2 1.6 .3-1.8 .7-1.3 .2 1.7 .5-.7 .2 .3 .9 1.9 .5 3.7 .2 .5 .7 0 .3 .7 .2-4.3 .2 2.5 .3-1 .7 .5 .2 .6 .7 4.1 .7 .5 .2 .5 .5 1.6 .2-1.3 .7-.2 .3 .4 .2-2.9 .2 .1 .3-.8 .7 1 .2 1.5 .2-.6 .3-1.5 .2 5 .7-.1 .2-1.2 .3 .1 .2-2 .2 .5 .7-3.1 .3 .6 .2-.5 .2 .7 .3-.1 .7 3.6 .4-.7 .3-2 .2 .9 .7-1.5 .2 .9 .3-.4 .2 1.3 .2 2.1 .7 1.5 .5-4.2 .2 .3 .3 .8 .7 1.6 .2 3.3 .2-2.3 .3 .4 .2 .1 .7-3.1 .2-.3 .5-3.7 .2 .2 .7-.6 .3 .6 .4 4.1 .3-3.6 .7-1.1 .2 .7 .2-.5 .3-.9 .2-3.4 .7 3 .2 0 .3-.7 .4 2.1 .7 0 .5-2.8 .2 .7 .3-3.2 .7 .4 .2 0 .2-3.5 .3 .1 .2-1.4 .7-1.2 .2 1.6 .3-1.4 .2 2.4 .9-2.6 .3-4.1 .2 .4 .2-.4 .3-2 .7 4.2 .2 0 .2-1.6 .5 4.5 .7-1.6 .2 2.1 .3-1.2 .2-2 .9-2.1 .3-1.7 .2-.7 .5-2.1 .7 0 .2-.2 .2 2.9 .3 1.4 .2 3.2 .7 2.3 .2-1.7 .3-.8 .4 .8 .7 .8 .3-.3 .2 3.2 .5-1.2 .7 2.9 .4-1.9 .3 .8 .2-2.9 .7 .8 .2 .7 .3-.3 .2-.8 .2 .4 1 9 .4-3.5 .3-1.5 .7-1 .2-1.5 .2 .8 .3 1.8 .2 .1 .7-.2 .2 1.5 .3 .3 .2-2.8 .2 0 .7-.8 .3 1 .2 1.7 .2-.7 .3-1.6 .7-1 .2-1.7 .2-.2 .3-2.6 .2-.2 .7-1.1 .2-.7 .3 .2 .2-2.3 .2 2.3 .7 2.7 .3-.1 .2-.3 .2 2 .3-1.7 .7-3.6 .2-2.3 .5-.8 .2-1.3 .7 .3 .2 1 .3-.5 .2-1.3 .2 0 .7-1.8 .3 .9 .2-1.2 .2 .8 .3-2.8 .7-4.4 .2-2.4 .5-6.1 .2 .5 .7-7.1 .2-.2 .3 2.4 .2-4.1 .2-.1 .7-1.6 .3 .1 .2-1 .2-.4 .3 1.1 .7-2.2 .2 3.8 .5 3.6 .2 .5 .7-7.6 .2 4.7 .5 4.7 .2 .6 .7-.7 .3-.5 .2-2.1 .2 2.2 .3-1.5 .7-3.5 .7 5.6 .2 2 .7-1.9 .2 1.4 .3 .3 .4 7.3 .7 4.5 .3 2.9 .2-.3 .2 1.6 .3 4.5 .7 2.5 .2-2 .7 8.2 .7-.5 .5-3.7 .2 .1 .2-.2 .7-5.9 .7 3.7 .3 .2 .7 2.4 .9-9.3 .7 .9 .2 1.2 .3 2.8 .2-1.4 .2-2.6 .7 .5 .3-1.1 .2 1.3 .2 4.1 1 7 .2 .7 .2-.8 .5 4.7 .7 2.5 .2-1 .3 2.8 .4-1.5 .7 3.8 .3-.1 .2-1.6 .2 .9 .3-4.2 .7-1.4 .2-1.8 .2 1.1 .3-.2 .2 .3 .7-6.7 .2 .8 .3-3 .4-1.8 .7-1.5 .3 2.8 .4 2.5 .3-.3 .7 3.3 .2 2 .2-.6 .3 .6 .2 1.2 .7 0 .2-.5 .5 1.2 .2-2.1 .7 1.6 .3 3.9 .7-3.2 .7 .6 .2 4.1 .2 2.1 .5-2.9 .7-3 .2 1 .3-.1 .2-.5 .2-1.9 .7 2.4 .3 4.8 .2 0 .2 1.4 .3-1.7 .9-1.5 .2 .9 .5 4.3 .7 5 .2 .5 .2-1.7 .3-.2 .2 1.9 .9-5 .3-.3 .2-.9 1.2 4.8 .2-.3 .2-.8 .3 1.4 .7 .4 .2 2.3 .2-2.8 .3 .4 .2 .5 .9-5.7 .3 .6 .2-2.2 .2 2 .7 .5 .3 .9 .4-4.2 .3 .4 .7 1.6 .2-.9 .2 .7 .3-.5 .2 .5 .7 .8 .2 .5 .3 2.2 .2-1.2 .2 1.4 .7 .8 .3 0 .2-1.6 .2 1.6 .3 .2 .7-3.4 .2-2 .2-.6 .3 2.1 .2 .7 .7-1.6 .2 0 .3 .5 .2 .2 .2-1.5 .7-1.2 .3 .4 .2-.9 .5-3.9 .7-2.6 .4 2.3 .3 .5 .2 1.7 .7 3.6 .2 .4 .3-.4 .2-2.3 .2 3.8 .7 2.9 .3-1.5 .2 0 .2-3.6 .3-.8 .7-6.4 .2 1.6 .2-.5 .3-.8 .2 1.2 .7 1.3 .2 .1 .5-3.4 .2-2.5 .7 3.5 .3-1.4 .2 .1 .2 .9 .3 1.8 .7-.7 .2 1.2 .2-1.4 .5 18.5 .7 4.9 .2 3 .3-1 .2 1.3 .2-3.9 .7-7.5 .3-.4 .2 1.1 .2-2 .3-.6 .7-.3 .2 .1 .2 1.6 .3-.6 .2-2.5 .7-6.1 .2-.2 .5 1.3 .2-1.1 .7-2.6 .3 .5 .2 2.3 .5-.9 .7-8 .4-7.8 .3-.6 .2-2.1 .7-5.3 .5 7.3 .4 2.1 .7-1.2 .3-1.1 .2 .4 .2-.3 .3-.9 .7-3.2 .2 2.2 .2-1.7 .5 3.6 .9-4.8 .3-1.5 .2-.5 .2 .2 .7 1.1 .3 0 .2-1.9 .2 2.6 .3-.1 .7 2.5 .2 2 .2-.4 .3-2.5 .2 1.8 .7-.5 .2-2.7 .3 0 .2-2.7 .2 .3 .7-3.8 .3 .3 .2 1.5 .5-1.3 .7-1.4 .2 3.2 .5-2.5 .2 0 .7-2.1 .2-2.3 .3 .4 .2 .8 .2-.7 .7-1 .3 .3 .4 3 .3 1.9 .7-.3 .2-3 .2-.9 .5-4 .7-.8 .7-.1 .2 0 .7-.5 .3 3.8 .4 2 1 3 .2-1.1 .2-.5 .3 1 .2-2 .7-.5 .2 .7 .7-1.3 .7-8.7 1-.4 .7-1.1 .4 3.6 .3-3.7 .2 4.9 .7 2.4 .2 3.2 .3-1.6 .2 2.9 .2-3.8 .7 3.5 .3 .1 .2 3.3 .2 1.6 .3 .4 .7 2.5 .7 12.8 .2-.1 .7 1.9 .2-4 .3-.4 .2 3.1 .2-3.2 .7-1.1 .5 2.2 .2 1.4 .3-3 .7-.3 .2-.2 .2-4.2 .3-7.7 .2-.9 .7-1.8 .2-.2 .3-1.7 .2 1.4 .2 .3 .7-2.9 .5-2.9 .2-8.1 .3-.4 .7 .1 .4 .5 0 0" clip-path="url(#pc9510ec6dc)" style="fill:none;stroke:#0000ff;stroke-linecap:square"/><path d="M474 662.53l364.32 0" clip-path="url(#pc9510ec6dc)" style="fill:none;stroke:#000000;stroke-width:1.5;stroke-linecap:square"/><path d="M473.76 715.57v-210.72" class="c1"/><path d="M838.08 715.57v-210.72" class="c1"/><path d="M473.76 715.57l364.32 0" class="c1"/><path d="M473.76 504.85l364.32 0" class="c1"/><text x="655.97" y="498.7" textLength="115.25" lengthAdjust="spacingAndGlyphs" class="c6">GSL: EMA Error (%)</text><path d="M747.74 531.7l85.46 0Q834.6 531.7 834.6 530.3v-20.7Q834.6 508.2 833.2 508.2l-85.46 0Q746.34 508.2 746.34 509.6v20.7Q746.34 531.7 747.74 531.7z" class="c25"/><path d="M749.28 514.45l6.72 0 7.2 0" class="c26"/><text x="768.74" y="516.76" textLength="62.8" lengthAdjust="spacingAndGlyphs" class="c2">200d expMA error</text><path d="M749.28 527.41l13.92 0 0-4.8-13.92 0z" class="c30"/><text x="768.74" y="527.46" textLength="58.35" lengthAdjust="spacingAndGlyphs" class="c2">50d expMA error</text><path d="M903.84 715.57l364.32 0 0-210.72-364.32 0z" class="c5"/><defs><path id="m5863420eac" d="M920.6-998.5v0l.7 4.9 .2 4.1 .3-.2 .2 2.1 .2 .6 .7-1.6 .3-4.5 .2-1.5 .2-2.9 .3-1 .7 1.2 .2-.5 .2 5.2 .3 8.3 .2 9.3 .7 9.1 .2-3.4 .3-15.2 .2-9.2 .2-4.8 .7 9.3 .3 .1 .2 6.2 .2 3.6 .3 4 .7-19.3 .2-3.9 .2 3.1 .3 1 .2 8.3 .7 13.6 .2 3.9 .3 9.4 .2-.4 .2-4 .7 1.1 .3 2.7 .2 1.6 .2-1.5 .3-4.8 .7-6.9 .2 .9 .2 5.1 .3-9.2 .2-9.9 .7-14 .2 16.7 .3-2.8 .2-7.2 .2-6.7 .7 0 .3 20.9 .2-10.2 .2-8 .3-.7 .7 1.2 .2 .1 .2 1.1 .3 2 .2 4.4 .7-4.1 .2-4.3 .3 2.7 .2 3.9 .2-1.4 .7 26.1 .3 13.9 .2 8.1 .2 .7 .3 2.9 .7 13.9 .2-6.3 .2-6.4 .3-8.4 .2-4.3 .7-12.7 .2 2.6 .3 4.6 .2 13.4 .2 9.7 .7 18.1 .3 3.6 .2 4.1 .2-8.4 .3-.7 .7-18 .2-1.3 .2 2.2 .3 11.6 .2 3 .7 13.9 .2 2.5 .3 3.9 .2-.4 .2-7.6 .7-12.4 .3 5.8 .2 2 .2-1.2 .3 2.4 .7-5.7 .2-4.1 .2 5.2 .3-2.2 .2 4.2 .7 1.8 .2 .2 .3-6.9 .2-5.1 .2-3 .7-1.5 .3 .2 .2 9.3 .2 7.6 .3 3.4 .7 25.1 .2-3.4 .2-2.8 .3 3.3 .2 2.6 .7 14.3 .2-.6 .3 2.1 .2 0 .2 10.1 .7-6.5 .3-1 .2 7 .2 4.4 .3-.8 .7 12.2 .2 4.7 .2-1.7 .3 2.6 .2-1.2 .7-.2 .2 2.1 .3 1.1 .2-1.1 .2-2.2 .7-13.8 .3-2.7 .2-4 .2-7.5 .3-1.7 .7 8.2 .2-2.7 .2-10.1 .3-9.9 .2 .5 .7-12.4 .2-3.6 .3 6.7 .2 7.9 .2 1.9 .7-6.2 .3-2.3 .2-6.7 .2-.2 .3 3.4 .7 8.2 .2 6.9 .2 .8 .3 7.3 .2 2.4 .7 3.9 .2-4.7 .3 3.9 .2 .3 .2 .3 .7 9.4 .3-6 .2-9.9 .2-4 .3-4.1 .7 4.6 .2 3 .2 3.2 .3-1.8 .2-3.9 .7-12.9 .2 4 .3 .1 .2 8.7 .2 6.1 .7 7.5 .3 9.9 .2 1.3 .2-2 .3 5.5 .7 6.2 .2-2.5 .2-.6 .3-2.2 .2 0 .7-8.9 .2-4 .3-2.6 .2 6.1 .2 3.4 .7 5 .3-3.7 .2 .3 .2-4 .3-5 .7-1.6 .2-3.9 .2-.6 .3 2.5 .2-1.1 .7-8 .2-1.2 .3 2.4 .2 2.3 .2 2.8 .7 6 .3 1 .2 3.4 .2 .2 .3-11.2 .7-9.8 .2 2.3 .2-5.8 .3 1.8 .2-3.7 .7 7.5 .2 6 .3 2.8 .2 1.2 .2 4.6 .7-.4 .3-2.9 .2 .6 .2 4.1 .3-5.7 .7-1.2 .2 1.4 .2 2.9 .3 3.1 .2-1.1 .7 8.5 .2 1.2 .3-2 .2-2.3 .2-3 .7-4 .3 4.5 .2 6.1 .2-1.1 .3-3.8 .7 2.3 .2 2.6 .2-4.5 .3-2.7 .2 .2 .7 1.6 .2 1.9 .3-1.9 .2 3.7 .2-3.9 .7 5.3 .3-.8 .2 0 .2 2.6 .3 .8 .7-6.3 .2-1.2 .2-2.7 .3-6.6 .2-2.2 .7-5.4 .2-1.7 .3 2.8 .2-.1 .2-.7 .7-.7 .3 2.3 .2-2.6 .2 3.1 .3-2.5 .7-10.3 .2-3.9 .2-.4 .3 1.5 .2 1.1 .7 .4 .2-8 .3 2.8 .2 5.6 .2-5.7 .7 11.5 .3-.5 .2-4.2 .2-2.5 .3-3.6 .7 7.2 .2-.5 .2 4.1 .3-4.7 .2-2.4 .7-6.9 .2-1.9 .3-3.8 .2-1.4 .2-4.1 .7-.8 .3 3.2 .2 .6 .2 .6 .3 4.2 .7 12.2 .2 .2 .2 5.7 .3-1.9 .2 3.3 .7 4.8 .2-3.1 .3-2.1 .2 7.3 .2-.1 .7-4.6 .3 .8 .2-.8 .2-7.1 .3 2.1 .7-1.4 .2 6.5 .2 1.6 .3 .1 .2-.4 .7-7.4 .2-3.3 .3-3.9 .2-4.1 .2 2.2 .7-6.7 .3-4.8 .2 6.8 .2-2 .3 3.3 .7 11.9 .2 .4 .2 .6 .3 1.3 .2 .8 .7 6.5 .2 1.1 .3 6.7 .2 1.1 .2-5.6 .7-3.9 .3-2.6 .2-3.8 .2-2.8 .3-.6 .7-2.9 .2 3.2 .2 .8 .3 3.2 .2-.7 .7-1.5 .2-.7 .3 5.9 .2-.1 .2 1.7 .7 8.6 .3 6 .2 4.5 .2-9.5 .3-10.7 .7-13.2 .2 3.1 .2-.6 .3-1.3 .2 4.6 .7 2.7 .2-.3 .3-2.2 .2-1.8 .2-1.5 .7-.2 .3 2.3 .2 .7 .2 1.6 .3-1.5 .7-.7 .2 .4 .2-5.4 .3 .8 .2-2.4 .7-4.4 .2 1.5 .3-2.9 .2-3.8 .2-1 .7-1.6 .3-7.6 .2 4.5 .2 3.3 .3 3.2 .7 4.7 .2-3.4 .2-3.1 .3 1.5 .2-1.6 .7-5.8 .2 .7 .3-3.8 .2-.9 .2-3 .7 2.9 .3-6.8 .2-.2 .2 2.5 .3 3.5 .7 10.2 .2 .8 .2 7.7 .3 3.3 .2-3.8 .7-2.7 .2 3.5 .3-.7 .2-.9 .2 .5 .7 3.2 .3 .8 .2 4.7 .2 3 .3 1.1 .7 .2 .2 1.5 .2-9 .3 5.2 .2-2.1 .7 1 .2 1.4 .3 2.9 .2 2 .2 4 .7 1.2 .3 1.1 .2 2.1 .2 1.6 .3-2.6 .7-.2 .2 1.1 .2-6.1 .3 .4 .2-1.7 .7 2.2 .2 3.3 .3-1.2 .2-2.9 .2 10.5 .7 0 .3-2.2 .2 .3 .2-4 .3 1.2 .7-6.5 .2 1.5 .2-1 .3 1.6 .2-.3 .7 7.7 .2-.6 .3-.5 .2-4 .2 1.9 .7-3 .3 2.1 .2-.9 .2 3 .3 4.5 .7 3.4 .2-4.4 .2-4.1 .3 .7 .2 1.8 .7 3.5 .2 7.2 .3-4.5 .2 .9 .2 .4 .7-6.3 .3-.4 .2-4.7 .2-2.9 .3 .5 .7-1.3 .2 1.4 .2 5.1 .3 3.7 .2-7.3 .7-2.3 .2 1.5 .3-1 .2-1.8 .2-7.3 .7 6.3 .3 .1 .2-1.4 .2 2.8 .3 1.7 .7 0 .2-2.5 .2-3.2 .3 1.5 .2-6.8 .7 .7 .2 0 .3-7.3 .2-.1 .2-3 .7-2.6 .3 3.2 .2-3.1 .2 4.8 .3-1.6 .7-4 .2-9 .2 .6 .3-1.1 .2-4.3 .7 8.5 .2-.3 .3-3.5 .2 5.3 .2 3.7 .7-3.6 .3 4.4 .2-2.7 .2-4.4 .3-1.3 .7-3.4 .2-3.9 .2-1.7 .3-3 .2-2.3 .7-.1 .2-.9 .3 5.8 .2 2.6 .2 6.6 .7 4.6 .3-3.8 .2-1.8 .2 .8 .3 .4 .7 1.7 .2-.9 .2 6.6 .3-1.5 .2-1.3 .7 6 .2-1.8 .3-2.2 .2 1.4 .2-6 .7 1.4 .3 1.3 .2-.7 .2-1.7 .3 .6 .7 13.2 .2 5.8 .2-4.8 .3-2.6 .2-3.1 .7-2.2 .2-3.3 .3 1.6 .2 3.7 .2 .2 .7-.5 .3 3.2 .2 .6 .2-5.9 .3-.1 .7-1.9 .2 2.1 .2 3.6 .3-1.6 .2-3.3 .7-2.2 .2-3.7 .3-.5 .2-5.6 .2-.7 .7-2.6 .3-1.7 .2 .3 .2-5.1 .3 4.6 .7 5.4 .2-.3 .2-.9 .3 4 .2-3.8 .7-7.6 .2-5.1 .3-1.1 .2-1.2 .2-3.1 .7 .3 .3 1.8 .2-1.4 .2-3 .3-.5 .7-4 .2 1.3 .2-2.7 .3 1.1 .2-6.2 .7-9.7 .2-5.7 .3-8.5 .2-5.5 .2 .4 .7-15.8 .3-1.1 .2 4.1 .2-9.5 .3-1.2 .7-4.3 .2-.5 .2-3.1 .3-1.8 .2 1.3 .7-2 .2 7 .3 3 .2 2.7 .2 .3 .7-13 .3 8.7 .2 4 .2 4 .3 .4 .7-2.1 .2-1.8 .2-5.1 .3 3.8 .2-3.9 .7-8 .2 2.6 .3 3 .2 3.5 .2 3.3 .7-4.5 .3 1.9 .2 .1 .2 6.2 .3 7.3 .7 8.9 .2 5.5 .2-1 .3 2.9 .2 8.8 .7 4.9 .2-4.3 .3 5.4 .2 4.2 .2 6.6 .7-1.1 .3-3.7 .2-4.3 .2 0 .3-.6 .7-12.5 .2 2.3 .2 1.4 .3 3.2 .2 0 .7 4.8 .2-5.2 .3-4.7 .2-3.6 .2-6.7 .7 1.3 .3 2.1 .2 5.5 .2-3.1 .3-5.7 .7 .6 .2-2.5 .2 2.3 .3 8 .2 3.7 .7 10.3 .2 1.3 .3-1.7 .2 4.8 .2 4.7 .7 5.1 .3-2 .2 5.7 .2-1.4 .3-1.5 .7 7.9 .2-.2 .2-3.1 .3 1.8 .2-8.6 .7-2.9 .2-3.6 .3 2.2 .2-.6 .2 .6 .7-13.8 .3 1.4 .2-6.3 .2-2.4 .3-1.8 .7-3.5 .2 5.7 .2 1.8 .3 2.8 .2-.7 .7 6.6 .2 4 .3-1.2 .2 1.1 .2 2.3 .7-.1 .3-1.1 .2 1.4 .2 1 .3-4.4 .7 3.2 .2 8 .2-2.1 .3-2.6 .2-1.9 .7 1.3 .2 8.5 .3 4.4 .2-2.8 .2-3 .7-6.1 .3 1.9 .2-.1 .2-1.2 .3-3.9 .7 4.9 .2 10 .2 .1 .3 3 .2-3.4 .7-2.4 .2-.5 .3 1.9 .2 4.6 .2 4.6 .7 10.4 .3 1.4 .2-3.3 .2-.2 .3 4.1 .7-8.4 .2-1.4 .2-.4 .3-1.7 .2 2.3 .7 6.7 .2 1.5 .3-.3 .2-1.5 .2 3.1 .7 1.1 .3 5 .2-5.3 .2 .9 .3 1.3 .7-8.7 .2-2.5 .2 1.4 .3-4.4 .2 4.2 .7 1.3 .2 1.9 .3-4.1 .2-4.1 .2 .8 .7 3.4 .3-1.6 .2 1.5 .2-.7 .3 1.1 .7 1.8 .2 1.1 .2 4.7 .3-2.2 .2 3.2 .7 1.8 .2 .2 .3-3.1 .2 3.6 .2 .6 .7-6.9 .3-3.9 .2-1.1 .2 4.4 .3 1.7 .7-3.1 .2 .1 .2 1.3 .3 .5 .2-2.9 .7-2.5 .2 1 .3-1.7 .2-3.4 .2-4.4 .7-5.6 .3 2.5 .2 2.3 .2 1 .3 3.6 .7 7.4 .2 1 .2-.7 .3-4.6 .2 7.9 .7 6.3 .2-3.1 .3 .3 .2-7.2 .2-1.7 .7-13.1 .3 3.4 .2-1 .2-1.8 .3 2.5 .7 2.6 .2 .3 .2-2.9 .3-4.2 .2-5 .7 7 .2-2.9 .3 .1 .2 1.8 .2 3.8 .7-1.4 .3 2.4 .2-2.9 .2 20.7 .3 17.6 .7 10.6 .2 6.7 .2-1.5 .3 3.2 .2-7.5 .7-15.1 .2-.5 .3 2.5 .2-3.9 .2-.9 .7-.4 .3 .5 .2 3.6 .2-.9 .3-4.9 .7-12.4 .2-.4 .2 1.4 .3 1.5 .2-2.2 .7-5.3 .2 1.2 .3 4.8 .2-.7 .2-.9 .7-16.6 .3-9.2 .2-7.2 .2-1.3 .3-4.8 .7-11.2 .2 6.7 .2 7.6 .3 2.5 .2 1.5 .7-2.7 .2-2.6 .3 .6 .2-.9 .2-2 .7-7 .3 4.3 .2-3.8 .2 4 .3 2.8 .7-7.1 .2-3.5 .2-3.3 .3-1.4 .2 0 .7 1.8 .2-.3 .3-4.3 .2 5 .2-.6 .7 4.7 .3 3.9 .2-1.1 .2-5.5 .3 3.5 .7-1.5 .2-5.8 .2-.4 .3-5.9 .2 .2 .7-8.3 .2 .2 .3 2.6 .2-2.1 .2-1.4 .7-3.3 .3 6 .2-3.8 .2-2.2 .3-.6 .7-4.6 .2-5.5 .2 .4 .3 1 .2-1.9 .7-2.7 .2 .1 .3 2.2 .2 2.7 .2 3.4 .7-.9 .3-6.8 .2-2.4 .2-4.3 .3-2.2 .7 0 .2 0 .2 0 .3 0 .2 0 .7 0 .2 7 .3 1.6 .2 1.2 .2 .8 .7 4.3 .3-2.8 .2-1.4 .2 1.4 .3-4.5 .7-1.6 .2 .9 .2-1.4 .3-1.7 .2-1.1 .7-2.7 .2 0 .2 0 .3 0 .2 0 .7 0 .2 3.3 .3 2 .2-5.3 .2 8.5 .7 3.8 .3 5.5 .2-3.6 .2 4.9 .3-7.5 .7 5.9 .2-.3 .2 5.8 .3 2.5 .2 .3 .7 4.4 .2 7.1 .3 6.4 .2 9.5 .2-.1 .7 3.4 .3-7.6 .2-1 .2 5.8 .3-6.1 .7-2.3 .2 1.6 .2 2.3 .3 2.4 .2-5.7 .7-.8 .2-.6 .3-7.9 .2-14.7 .2-2.1 .7-3.9 .3-.8 .2-3.7 .2 2.1 .3 .2 .7-6 .2-3.4 .2-2.9 .3-1.4 .2 0 .7 0 .2 0 .3 0 0 0 0 0-.3 0-.2 0-.7 0-.2 0-.3 0-.2 0-.2 0-.7 0-.3 0-.2 0-.2 0-.3 0-.7 0-.2 0-.2 0-.3 0-.2 0-.7 0-.2 0-.3 0-.2 0-.2 0-.7 0-.3 0-.2 0-.2 0-.3 0-.7 0-.2 0-.2 0-.3 0-.2 0-.7 0-.2 0-.3 0-.2 0-.2 0-.7 0-.3 0-.2 0-.2 0-.3 0-.7 0-.2 0-.2 0-.3 0-.2 0-.7 0-.2 0-.3 0-.2 0-.2 0-.7 0-.2 0-.3 0-.2 0-.2 0-.7 0-.3 0-.2 0-.2 0-.3 0-.7 0-.2 0-.2 0-.3 0-.2 0-.7 0-.2 0-.3 0-.2 0-.2 0-.7 0-.3 0-.2 0-.2 0-.3 0-.7 0-.2 0-.2 0-.3 0-.2 0-.7 0-.2 0-.3 0-.2 0-.2 0-.7 0-.3 0-.2 0-.2 0-.3 0-.7 0-.2 0-.2 0-.3 0-.2 0-.7 0-.2 0-.3 0-.2 0-.2 0-.7 0-.3 0-.2 0-.2 0-.3 0-.7 0-.2 0-.2 0-.3 0-.2 0-.7 0-.2 0-.3 0-.2 0-.2 0-.7 0-.3 0-.2 0-.2 0-.3 0-.7 0-.2 0-.2 0-.3 0-.2 0-.7 0-.2 0-.3 0-.2 0-.2 0-.7 0-.3 0-.2 0-.2 0-.3 0-.7 0-.2 0-.2 0-.3 0-.2 0-.7 0-.2 0-.3 0-.2 0-.2 0-.7 0-.3 0-.2 0-.2 0-.3 0-.7 0-.2 0-.2 0-.3 0-.2 0-.7 0-.2 0-.3 0-.2 0-.2 0-.7 0-.3 0-.2 0-.2 0-.3 0-.7 0-.2 0-.2 0-.3 0-.2 0-.7 0-.2 0-.3 0-.2 0-.2 0-.7 0-.3 0-.2 0-.2 0-.3 0-.7 0-.2 0-.2 0-.3 0-.2 0-.7 0-.2 0-.3 0-.2 0-.2 0-.7 0-.3 0-.2 0-.2 0-.3 0-.7 0-.2 0-.2 0-.3 0-.2 0-.7 0-.2 0-.3 0-.2 0-.2 0-.7 0-.3 0-.2 0-.2 0-.3 0-.7 0-.2 0-.2 0-.3 0-.2 0-.7 0-.2 0-.3 0-.2 0-.2 0-.7 0-.3 0-.2 0-.2 0-.3 0-.7 0-.2 0-.2 0-.3 0-.2 0-.7 0-.2 0-.3 0-.2 0-.2 0-.7 0-.3 0-.2 0-.2 0-.3 0-.7 0-.2 0-.2 0-.3 0-.2 0-.7 0-.2 0-.3 0-.2 0-.2 0-.7 0-.3 0-.2 0-.2 0-.3 0-.7 0-.2 0-.2 0-.3 0-.2 0-.7 0-.2 0-.3 0-.2 0-.2 0-.7 0-.3 0-.2 0-.2 0-.3 0-.7 0-.2 0-.2 0-.3 0-.2 0-.7 0-.2 0-.3 0-.2 0-.2 0-.7 0-.3 0-.2 0-.2 0-.3 0-.7 0-.2 0-.2 0-.3 0-.2 0-.7 0-.2 0-.3 0-.2 0-.2 0-.7 0-.3 0-.2 0-.2 0-.3 0-.7 0-.2 0-.2 0-.3 0-.2 0-.7 0-.2 0-.3 0-.2 0-.2 0-.7 0-.3 0-.2 0-.2 0-.3 0-.7 0-.2 0-.2 0-.3 0-.2 0-.7 0-.2 0-.3 0-.2 0-.2 0-.7 0-.3 0-.2 0-.2 0-.3 0-.7 0-.2 0-.2 0-.3 0-.2 0-.7 0-.2 0-.3 0-.2 0-.2 0-.7 0-.3 0-.2 0-.2 0-.3 0-.7 0-.2 0-.2 0-.3 0-.2 0-.7 0-.2 0-.3 0-.2 0-.2 0-.7 0-.3 0-.2 0-.2 0-.3 0-.7 0-.2 0-.2 0-.3 0-.2 0-.7 0-.2 0-.3 0-.2 0-.2 0-.7 0-.3 0-.2 0-.2 0-.3 0-.7 0-.2 0-.2 0-.3 0-.2 0-.7 0-.2 0-.3 0-.2 0-.2 0-.7 0-.3 0-.2 0-.2 0-.3 0-.7 0-.2 0-.2 0-.3 0-.2 0-.7 0-.2 0-.3 0-.2 0-.2 0-.7 0-.3 0-.2 0-.2 0-.3 0-.7 0-.2 0-.2 0-.3 0-.2 0-.7 0-.2 0-.3 0-.2 0-.2 0-.7 0-.3 0-.2 0-.2 0-.3 0-.7 0-.2 0-.2 0-.3 0-.2 0-.7 0-.2 0-.3 0-.2 0-.2 0-.7 0-.3 0-.2 0-.2 0-.3 0-.7 0-.2 0-.2 0-.3 0-.2 0-.7 0-.2 0-.3 0-.2 0-.2 0-.7 0-.3 0-.2 0-.2 0-.3 0-.7 0-.2 0-.2 0-.3 0-.2 0-.7 0-.2 0-.3 0-.2 0-.2 0-.7 0-.3 0-.2 0-.2 0-.3 0-.7 0-.2 0-.2 0-.3 0-.2 0-.7 0-.2 0-.3 0-.2 0-.2 0-.7 0-.3 0-.2 0-.2 0-.3 0-.7 0-.2 0-.2 0-.3 0-.2 0-.7 0-.2 0-.3 0-.2 0-.2 0-.7 0-.3 0-.2 0-.2 0-.3 0-.7 0-.2 0-.2 0-.3 0-.2 0-.7 0-.2 0-.3 0-.2 0-.2 0-.7 0-.3 0-.2 0-.2 0-.3 0-.7 0-.2 0-.2 0-.3 0-.2 0-.7 0-.2 0-.3 0-.2 0-.2 0-.7 0-.3 0-.2 0-.2 0-.3 0-.7 0-.2 0-.2 0-.3 0-.2 0-.7 0-.2 0-.3 0-.2 0-.2 0-.7 0-.3 0-.2 0-.2 0-.3 0-.7 0-.2 0-.2 0-.3 0-.2 0-.7 0-.2 0-.3 0-.2 0-.2 0-.7 0-.3 0-.2 0-.2 0-.3 0-.7 0-.2 0-.2 0-.3 0-.2 0-.7 0-.2 0-.3 0-.2 0-.2 0-.7 0-.3 0-.2 0-.2 0-.3 0-.7 0-.2 0-.2 0-.3 0-.2 0-.7 0-.2 0-.3 0-.2 0-.2 0-.7 0-.3 0-.2 0-.2 0-.3 0-.7 0-.2 0-.2 0-.3 0-.2 0-.7 0-.2 0-.3 0-.2 0-.2 0-.7 0-.3 0-.2 0-.2 0-.3 0-.7 0-.2 0-.2 0-.3 0-.2 0-.7 0-.2 0-.3 0-.2 0-.2 0-.7 0-.3 0-.2 0-.2 0-.3 0-.7 0-.2 0-.2 0-.3 0-.2 0-.7 0-.2 0-.3 0-.2 0-.2 0-.7 0-.3 0-.2 0-.2 0-.3 0-.7 0-.2 0-.2 0-.3 0-.2 0-.7 0-.2 0-.3 0-.2 0-.2 0-.7 0-.3 0-.2 0-.2 0-.3 0-.7 0-.2 0-.2 0-.3 0-.2 0-.7 0-.2 0-.3 0-.2 0-.2 0-.7 0-.3 0-.2 0-.2 0-.3 0-.7 0-.2 0-.2 0-.3 0-.2 0-.7 0-.2 0-.3 0-.2 0-.2 0-.7 0-.3 0-.2 0-.2 0-.3 0-.7 0-.2 0-.2 0-.3 0-.2 0-.7 0-.2 0-.3 0-.2 0-.2 0-.7 0-.3 0-.2 0-.2 0-.3 0-.7 0-.2 0-.2 0-.3 0-.2 0-.7 0-.2 0-.3 0-.2 0-.2 0-.7 0-.3 0-.2 0-.2 0-.3 0-.7 0-.2 0-.2 0-.3 0-.2 0-.7 0-.2 0-.3 0-.2 0-.2 0-.7 0-.3 0-.2 0-.2 0-.3 0-.7 0-.2 0-.2 0-.3 0-.2 0-.7 0-.2 0-.3 0-.2 0-.2 0-.7 0-.3 0-.2 0-.2 0-.3 0-.7 0-.2 0-.2 0-.3 0-.2 0-.7 0-.2 0-.3 0-.2 0-.2 0-.7 0-.3 0-.2 0-.2 0-.3 0-.7 0-.2 0-.2 0-.3 0-.2 0-.7 0-.2 0-.3 0-.2 0-.2 0-.7 0-.3 0-.2 0-.2 0-.3 0-.7 0-.2 0-.2 0-.3 0-.2 0-.7 0-.2 0-.3 0-.2 0-.2 0-.7 0-.3 0-.2 0-.2 0-.3 0-.7 0-.2 0-.2 0-.3 0-.2 0-.7 0-.2 0-.3 0-.2 0-.2 0-.7 0-.3 0-.2 0-.2 0-.3 0-.7 0-.2 0-.2 0-.3 0-.2 0-.7 0-.2 0-.3 0-.2 0-.2 0-.7 0-.3 0-.2 0-.2 0-.3 0-.7 0-.2 0-.2 0-.3 0-.2 0-.7 0-.2 0-.3 0-.2 0-.2 0-.7 0-.3 0-.2 0-.2 0-.3 0-.7 0-.2 0-.2 0-.3 0-.2 0-.7 0-.2 0-.3 0-.2 0-.2 0-.7 0-.3 0-.2 0-.2 0-.3 0-.7 0-.2 0-.2 0-.3 0-.2 0-.7 0-.2 0-.3 0-.2 0-.2 0-.7 0-.3 0-.2 0-.2 0-.3 0-.7 0-.2 0-.2 0-.3 0-.2 0-.7 0-.2 0-.3 0-.2 0-.2 0-.7 0-.3 0-.2 0-.2 0-.3 0-.7 0-.2 0-.2 0-.3 0-.2 0-.7 0-.2 0-.3 0-.2 0-.2 0-.7 0-.3 0-.2 0-.2 0-.3 0-.7 0-.2 0-.2 0-.3 0-.2 0-.7 0-.2 0-.3 0-.2 0-.2 0-.7 0-.3 0-.2 0-.2 0-.3 0-.7 0-.2 0-.2 0-.3 0-.2 0-.7 0-.2 0-.3 0-.2 0-.2 0-.7 0-.3 0-.2 0-.2 0-.3 0-.7 0-.2 0-.2 0-.3 0-.2 0-.7 0-.2 0-.3 0-.2 0-.2 0-.7 0-.3 0-.2 0-.2 0-.3 0-.7 0-.2 0-.2 0-.3 0-.2 0-.7 0-.2 0-.3 0-.2 0-.2 0-.7 0-.3 0-.2 0-.2 0-.3 0-.7 0-.2 0-.2 0-.3 0-.2 0-.7 0-.2 0-.3 0-.2 0-.2 0-.7 0-.3 0-.2 0-.2 0-.3 0-.7 0-.2 0-.2 0-.3 0-.2 0-.7 0-.2 0-.3 0-.2 0-.2 0-.7 0-.3 0-.2 0-.2 0-.3 0-.7 0-.2 0-.2 0-.3 0-.2 0-.7 0-.2 0-.3 0-.2 0-.2 0-.7 0-.3 0-.2 0-.2 0-.3 0-.7 0-.2 0-.2 0-.3 0-.2 0-.7 0-.2 0-.3 0-.2 0-.2 0-.7 0-.3 0-.2 0-.2 0-.3 0-.7 0-.2 0-.2 0-.3 0-.2 0-.7 0z"/></defs><g clip-path="url(#pabe7ba468a)"><use href="#m5863420eac" x="0" y="1503.25" class="c31"/></g><path d="M920.64 715.57v-210.72" class="c15"/><path d="M962.88 715.57v-210.72" class="c15"/><path d="M1006.08 715.57v-210.72" class="c15"/><path d="M1048.32 715.57v-210.72" class="c15"/><path d="M1091.04 715.57v-210.72" class="c15"/><path d="M1133.76 715.57v-210.72" class="c15"/><path d="M1176.48 715.57v-210.72" class="c15"/><path d="M1218.72 715.57v-210.72" class="c15"/><path d="M1261.92 715.57v-210.72" class="c15"/><path d="M903.84 709.33l364.32 0" class="c15"/><text x="896.98" y="713.08" textLength="21.1" lengthAdjust="spacingAndGlyphs" class="c0">−60</text><path d="M903.84 675.25l364.32 0" class="c15"/><text x="896.98" y="678.99" textLength="21.1" lengthAdjust="spacingAndGlyphs" class="c0">−50</text><path d="M903.84 641.17l364.32 0" class="c15"/><text x="896.98" y="644.9" textLength="21.1" lengthAdjust="spacingAndGlyphs" class="c0">−40</text><path d="M903.84 607.09l364.32 0" class="c15"/><text x="896.98" y="610.81" textLength="21.1" lengthAdjust="spacingAndGlyphs" class="c0">−30</text><path d="M903.84 573.01l364.32 0" class="c15"/><text x="896.98" y="576.72" textLength="21.1" lengthAdjust="spacingAndGlyphs" class="c0">−20</text><path d="M903.84 538.93l364.32 0" class="c15"/><text x="896.98" y="542.63" textLength="21.1" lengthAdjust="spacingAndGlyphs" class="c0">−10</text><path d="M903.84 504.85l364.32 0" class="c15"/><text x="896.98" y="508.54" textLength="6.36" lengthAdjust="spacingAndGlyphs" class="c0">0</text><text x="869.88" y="610.11" transform="rotate(-90 869.88 610.11)" textLength="65.78" lengthAdjust="spacingAndGlyphs" class="c4">Drawdown %</text><path d="M920.6 504.7l.7 5 .2 4 .3-.2 .2 2.2 .2 .6 .7-1.6 .3-4.5 .2-1.6 .2-2.9 .3-1 .7 1.3 .2-.6 .2 5.2 .5 17.6 .7 9.2 .2-3.4 .5-24.5 .2-4.8 .7 9.4 .3 0 .4 9.8 .3 4.1 .9-23.3 .2 3.1 .3 1.1 .2 8.3 .9 17.5 .3 9.4 .2-.4 .2-4 .7 1 .5 4.4 .2-1.6 .3-4.7 .7-6.9 .2 .9 .2 5.1 .5-19.2 .7-14 .2 16.8 .3-2.8 .4-14 .7 0 .3 21 .4-18.2 .3-.8 .9 1.4 .2 1.1 .3 1.9 .2 4.5 .7-4.1 .2-4.4 .3 2.7 .2 4 .2-1.4 .7 26 .5 22 .2 .7 .3 3 .7 13.8 .9-25.4 .7-12.7 .2 2.6 .3 4.7 .4 23.1 1 21.6 .2 4.1 .2-8.3 .3-.7 .7-18 .2-1.3 .2 2.2 .3 11.6 .2 2.9 .9 16.4 .3 3.9 .2-.4 .2-7.5 .7-12.5 .3 5.8 .2 2.1 .2-1.3 .3 2.5 .7-5.8 .2-4 .2 5.1 .3-2.2 .2 4.2 .7 1.9 .2 .2 .5-12.1 .2-2.9 .7-1.6 .3 .3 .4 16.9 .3 3.4 .7 25 .4-6.2 .5 5.9 .7 14.3 .2-.5 .3 2 .2 .1 .2 10.1 .7-6.5 .3-1 .4 11.4 .3-.8 .9 16.8 .2-1.6 .3 2.5 .2-1.1 .7-.2 .5 3.2 .2-1.1 .2-2.2 1-16.6 .2-4 .2-7.4 .3-1.8 .7 8.3 .2-2.8 .5-20 .2 .6 .9-16.1 .5 14.7 .2 1.9 1-8.5 .2-6.7 .2-.2 .3 3.3 .7 8.2 .2 6.9 .2 .9 .3 7.2 .2 2.4 .7 3.9 .2-4.7 .3 3.9 .4 .6 .7 9.4 .3-5.9 .2-10 .5-8.1 .7 4.6 .4 6.2 .3-1.7 .9-16.8 .2 3.9 .3 .2 .4 14.8 .7 7.4 .3 9.9 .2 1.4 .2-2 .3 5.5 .7 6.1 .2-2.4 .2-.6 .3-2.3 .2 0 1.2-15.5 .4 9.6 .7 5 .3-3.8 .2 .4 .5-9 .7-1.7 .2-3.8 .2-.7 .3 2.6 .2-1.2 .7-7.9 .2-1.3 1.4 13.6 .3 1 .2 3.3 .2 .2 .3-11.1 .7-9.8 .2 2.3 .2-5.8 .3 1.8 .2-3.7 .7 7.5 .2 6 .3 2.7 .2 1.3 .2 4.5 .7-.3 .3-2.9 .2 .6 .2 4 .3-5.6 .7-1.2 .2 1.4 .5 6 .2-1.2 .7 8.5 .2 1.2 .5-4.2 .2-3.1 .7-4 .5 10.7 .2-1.2 .3-3.7 .7 2.3 .2 2.6 .5-7.3 .2 .3 .7 1.6 .2 1.9 .3-2 .2 3.8 .2-4 .7 5.3 .3-.7 .2-.1 .2 2.6 .3 .8 1.1-10.2 .3-6.5 .2-2.2 .9-7.1 .3 2.8 .2-.2 .2-.6 .7-.8 .3 2.4 .2-2.6 .2 3 .3-2.5 .9-14.1 .2-.5 .5 2.6 .7 .4 .2-8 .3 2.9 .2 5.6 .2-5.7 .7 11.4 .3-.5 .4-6.7 .3-3.5 .7 7.2 .2-.5 .2 4 .3-4.6 1.6-16.5 .2-4 .7-.8 .3 3.1 .4 1.3 1 16.3 .2 .2 .2 5.7 .3-1.9 .2 3.3 .7 4.9 .5-5.3 .2 7.3 .2-.1 .7-4.5 .3 .8 .2-.9 .2-7 .3 2 .7-1.4 .2 6.6 .2 1.6 .3 0 .2-.3 .9-10.7 .5-8 .2 2.2 .7-6.8 .3-4.7 .2 6.8 .2-2.1 .3 3.3 .7 11.9 .4 1.1 .5 2.1 .7 6.5 .2 1 .3 6.8 .2 1.1 .2-5.7 .7-3.9 .5-6.4 .2-2.8 .3-.6 .7-2.9 .2 3.2 .2 .8 .3 3.2 .2-.7 .9-2.1 .3 5.9 .2-.1 .2 1.7 .7 8.5 .5 10.5 .5-20.1 .7-13.2 .2 3 .2-.6 .3-1.3 .2 4.6 .7 2.8 .2-.4 .7-5.4 .7-.2 .3 2.3 .2 .7 .2 1.5 .3-1.5 .7-.7 .2 .4 .2-5.4 .3 .8 .2-2.4 .7-4.4 .2 1.6 .7-7.8 .7-1.6 .3-7.5 .4 7.8 .3 3.2 .7 4.7 .4-6.6 .3 1.6 .2-1.7 .7-5.7 .2 .7 .3-3.8 .2-.9 .2-3 .7 2.9 .3-6.8 .2-.3 .5 6 .7 10.3 .2 .8 .2 7.7 .3 3.2 .2-3.7 .7-2.8 .2 3.6 .5-1.7 .2 .6 1 4 .4 7.7 .3 1 .7 .2 .2 1.6 .2-9.1 .3 5.2 .2-2 .7 1 .2 1.4 .7 8.9 .7 1.2 .3 1 .4 3.7 .3-2.5 .7-.3 .2 1.2 .2-6.2 .3 .5 .2-1.7 .7 2.2 .2 3.3 .3-1.2 .2-2.9 .2 10.5 .7 0 .3-2.3 .2 .4 .2-4.1 .3 1.2 .7-6.4 .2 1.4 .2-.9 .3 1.5 .2-.2 .7 7.6 .5-1 .2-4 .2 1.8 .7-3 .3 2.2 .2-.9 .2 3 .3 4.5 .7 3.3 .4-8.4 .3 .7 .2 1.8 .7 3.5 .2 7.2 .3-4.6 .2 .9 .2 .5 .7-6.4 .3-.3 .4-7.6 .3 .5 .7-1.4 .2 1.5 .5 8.7 .2-7.3 .7-2.2 .2 1.4 .3-.9 .2-1.9 .2-7.2 .7 6.3 .3 .1 .2-1.5 .5 4.6 .7 0 .4-5.8 .3 1.5 .2-6.7 .7 .7 .2-.1 .3-7.3 .2-.1 .2-2.9 .7-2.6 .3 3.1 .2-3 .2 4.8 .3-1.7 .7-4 .2-8.9 .2 .6 .3-1.1 .2-4.3 .7 8.5 .2-.3 .3-3.6 .4 9 .7-3.5 .3 4.4 .2-2.8 .2-4.3 .3-1.4 .7-3.4 .2-3.9 .2-1.7 .5-5.2 .7-.2 .2-.9 .3 5.9 .2 2.5 .2 6.6 .7 4.7 .3-3.9 .2-1.8 .5 1.3 .7 1.7 .2-1 .2 6.6 .5-2.7 .7 6 .5-4 .2 1.4 .2-6.1 .7 1.5 .3 1.3 .2-.7 .2-1.8 .3 .7 .9 18.9 .5-7.3 .2-3.2 .7-2.1 .2-3.3 .3 1.5 .2 3.7 .2 .3 .7-.6 .3 3.3 .2 .5 .2-5.8 .3-.2 .7-1.8 .2 2.1 .2 3.5 .3-1.6 .2-3.2 .7-2.3 .2-3.6 .3-.6 .2-5.6 .2-.6 .7-2.7 .3-1.6 .2 .2 .2-5 .3 4.5 .7 5.4 .2-.3 .2-.9 .3 4.1 .2-3.8 .7-7.6 .2-5.2 .5-2.2 .2-3.2 .7 .4 .3 1.8 .2-1.4 .2-3.1 .3-.5 .7-4 .2 1.4 .2-2.7 .3 1.1 .2-6.3 .7-9.6 .7-19.7 .2 .3 .7-15.7 .3-1.2 .2 4.1 .2-9.5 .3-1.1 .7-4.3 .2-.6 .5-4.9 .2 1.4 .7-2.1 .2 7.1 .5 5.7 .2 .3 .7-13.1 .3 8.8 .4 8 .3 .4 .7-2.1 .2-1.8 .2-5.1 .3 3.7 .2-3.9 .7-8 .5 5.7 .4 6.7 .7-4.5 .3 2 .2 .1 .5 13.5 .7 8.9 .2 5.5 .2-1.1 .3 2.9 .2 8.8 .7 4.9 .2-4.3 .7 16.2 .7-1.1 .5-8 .2 0 .3-.6 .7-12.4 .7 6.9 .2 0 .7 4.8 .9-20.2 .7 1.3 .3 2.1 .2 5.4 .2-3.1 .3-5.7 .7 .6 .2-2.4 .2 2.2 .3 8 .9 14 .2 1.4 .3-1.8 .4 9.5 .7 5.2 .3-2.1 .2 5.8 .5-3 .7 8 .2-.2 .2-3.2 .3 1.9 .2-8.7 .7-2.8 .2-3.6 .3 2.2 .2-.6 .2 .6 .7-13.8 .3 1.4 .2-6.4 .5-4.1 .7-3.5 .2 5.7 .2 1.8 .3 2.7 .2-.6 .7 6.6 .2 3.9 .3-1.2 .2 1.1 .2 2.4 .7-.2 .3-1 .4 2.4 .3-4.4 .7 3.2 .2 8 .7-6.6 .7 1.2 .2 8.5 .3 4.4 .4-5.8 .7-6.1 .3 1.9 .2-.1 .2-1.1 .3-4 .7 5 .2 10 .2 0 .3 3 .2-3.3 .9-2.9 .3 1.9 .4 9.1 .7 10.4 .3 1.4 .2-3.3 .2-.1 .3 4.1 .7-8.5 .2-1.4 .2-.4 .3-1.7 1.1 10.6 .3-.3 .2-1.6 .2 3.2 .7 1 .3 5 .2-5.3 .2 .9 .3 1.4 .9-11.3 .2 1.5 .3-4.5 .2 4.2 .7 1.3 .2 2 .5-8.2 .2 .8 .7 3.4 .3-1.6 .2 1.5 .2-.8 .3 1.2 .7 1.8 .2 1 .2 4.7 .3-2.2 .2 3.2 .7 1.9 .2 .1 .3-3.1 .2 3.7 .2 .5 .7-6.8 .3-3.9 .2-1.2 .2 4.5 .3 1.7 .7-3.2 .2 .2 .2 1.3 .3 .5 .2-3 .7-2.4 .2 1 .3-1.8 .4-7.8 .7-5.5 .5 4.8 .2 .9 .3 3.7 .7 7.3 .2 1 .2-.6 .3-4.7 .2 7.9 .7 6.3 .2-3 .3 .3 .2-7.3 .2-1.6 .7-13.2 .3 3.5 .2-1.1 .2-1.7 .3 2.5 .7 2.5 .2 .4 .5-7.2 .2-5 .7 7 .2-2.8 .3 .1 .2 1.7 .2 3.9 .7-1.5 .3 2.5 .2-3 .5 38.4 .7 10.6 .2 6.6 .2-1.4 .3 3.1 .2-7.5 .7-15.1 .2-.5 .3 2.5 .2-3.9 .2-.8 .7-.4 .3 .4 .2 3.6 .2-.8 1-17.3 .2-.5 .5 2.9 .2-2.1 .7-5.4 .2 1.2 .3 4.8 .2-.6 .2-1 .7-16.5 .5-16.5 .2-1.3 .3-4.7 .7-11.3 .4 14.4 .5 3.9 .7-2.6 .2-2.7 .3 .7 .2-1 .2-2 .7-7 .3 4.3 .2-3.8 .5 6.8 .9-10.5 .2-3.3 .3-1.5 .2 .1 .7 1.8 .2-.4 .3-4.3 .2 5 .2-.6 .7 4.8 .3 3.8 .2-1 .2-5.5 .3 3.4 .7-1.4 .2-5.9 .2-.3 .3-5.9 .2 .2 .7-8.3 .2 .1 .3 2.7 .4-3.5 .7-3.3 .3 5.9 .4-6 .3-.5 .7-4.7 .2-5.4 .2 .4 .3 .9 .2-1.9 .7-2.7 .2 .1 .5 5 .2 3.4 .7-1 .3-6.8 .2-2.3 .5-6.6 2.3 0 .2 7.1 .5 2.8 .2 .8 .7 4.2 .3-2.8 .2-1.4 .2 1.5 .3-4.6 .7-1.5 .2 .9 .7-4.2 .7-2.8 1.6 0 .5 5.4 .2-5.4 .2 8.5 .7 3.9 .3 5.4 .2-3.5 .2 4.9 .3-7.6 .7 6 .2-.3 .2 5.7 .3 2.5 .2 .4 .7 4.3 .7 23.1 .2-.2 .7 3.5 .3-7.6 .2-1 .2 5.8 .3-6.1 .7-2.4 .4 3.9 .3 2.5 .2-5.8 .7-.7 .2-.6 .3-8 .2-14.6 .2-2.1 1-4.7 .2-3.7 .2 2.1 .3 .2 .7-6 .4-6.4 .3-1.4 1.4 0 0 0" clip-path="url(#pabe7ba468a)" style="fill:none;stroke:#ff0000;stroke-linecap:square"/><path d="M903.84 715.57v-210.72" class="c1"/><path d="M1268.16 715.57v-210.72" class="c1"/><path d="M903.84 715.57l364.32 0" class="c1"/><path d="M903.84 504.85l364.32 0" class="c1"/><text x="1086.11" y="498.7" textLength="269.83" lengthAdjust="spacingAndGlyphs" class="c6">GSL: Drawdown (%), min drawdown -48.39%</text><path d="M43.68 956.53l364.32 0 0-210.72-364.32 0z" class="c5"/><path d="M60.48 956.53v-210.72" class="c22"/><path d="M102.72 956.53v-210.72" class="c22"/><path d="M145.92 956.53v-210.72" class="c22"/><path d="M188.16 956.53v-210.72" class="c22"/><path d="M230.88 956.53v-210.72" class="c22"/><path d="M273.12 956.53v-210.72" class="c22"/><path d="M316.32 956.53v-210.72" class="c22"/><path d="M358.56 956.53v-210.72" class="c22"/><path d="M401.28 956.53v-210.72" class="c22"/><path d="M43.68 953.17l364.32 0" class="c22"/><text x="36.7" y="957.19" textLength="15.9" lengthAdjust="spacingAndGlyphs" class="c0">0.5</text><path d="M43.68 915.25l364.32 0" class="c22"/><text x="36.7" y="919.06" textLength="15.9" lengthAdjust="spacingAndGlyphs" class="c0">1.0</text><path d="M43.68 876.85l364.32 0" class="c22"/><text x="36.7" y="880.92" textLength="15.9" lengthAdjust="spacingAndGlyphs" class="c0">1.5</text><path d="M43.68 838.93l364.32 0" class="c22"/><text x="36.7" y="842.79" textLength="15.9" lengthAdjust="spacingAndGlyphs" class="c0">2.0</text><path d="M43.68 801.01l364.32 0" class="c22"/><text x="36.7" y="804.65" textLength="15.9" lengthAdjust="spacingAndGlyphs" class="c0">2.5</text><path d="M43.68 762.61l364.32 0" class="c22"/><text x="36.7" y="766.52" textLength="15.9" lengthAdjust="spacingAndGlyphs" class="c0">3.0</text><text x="14.88" y="851.3" transform="rotate(-90 14.88 851.3)" textLength="56.71" lengthAdjust="spacingAndGlyphs" class="c4">Normalized</text><path d="M60.3 915.2l.7 1.2 .3 1.6 .2 .5 .5 2.5 .7-.8 .2 .4 .2 0 .3 .9 .2 2.2 .7 0 .7 1.9 .2 0 .7 1 .3-.6 .2 .2 .2 2.5 .3 1.2 .9-5.1 .2 .5 .3 .3 .2-.2 .7-1.2 .5 .2 .2 1.8 .2 .5 .7 1 .5-1.2 .2 .3 .3 .5 .7 2.5 .4 2.1 .3-.4 1.1-4.4 .3-.5 .4 3.3 .7 .4 .3 .4 .4-2.3 .3-.3 .7-.6 .4-5 .3-1.1 .2-.4 .7 1.3 .7 1.9 .2 .5 1.2-4.8 .2 .1 .3 0 .7-2.2 .4-.3 .3-.1 .2 .2 .7 4.8 .5 .4 .2-1.9 .2-.8 1-1.6 1.6 4.5 .5 1.7 .2-.4 .7 0 .9 5.9 .7 5.1 .3 .8 .2 1.3 .2-1.2 .3-.6 1.4-2.7 .2-1.2 .7 .6 .5 1.8 .2-.5 .2 .3 .7 0 .3-.6 .7-.4 .7-1.4 .2 .6 .5 2.8 .2 0 .9 3.8 .5 1.4 1.2-3.7 .2-1.6 .5-5.1 .7 .2 .2 1.1 .2-.4 .3-.8 .2-1.2 .9-2.6 .3 .3 .2-.5 .2 .9 .7 .9 1-1.5 .9-2.1 .2-.2 .3-1.2 1.1-1.5 .7 2.5 .7 0 .3 .7 .4-.1 1.2-4.8 .2-.6 .5 1.3 .7 .1 .2-.5 .3 .5 .4 1.8 .7 .5 .7 2.1 .3-.6 1.1 0 .3-.6 .2-.2 .7-.4 .2-.5 .7-2.7 .7 1.2 .3 .8 .2 .1 .2-.1 .3 1.3 .9 1.3 .2 1.4 .3 .5 .9 3.4 .2 1.2 .5-2.6 .2-.2 .7-3.5 .3 0 .2-1.7 .5-1 .7 .5 .4 1.4 .5-2.1 .7-1.8 .2 .4 .3 1.4 .2 .2 .2 .8 1-6.5 .2 0 .2 .4 .3 0 .7 .6 .4-1 .3-2 .2 .1 .7 1.2 .2 .7 .5-.6 .2 1.3 1.2-2.6 .2-6.6 1.4-.4 .3-.2 .2-.7 .9 .3 .5 1.5 .2-.4 .7-6.7 .3 3.2 .7-2 .7-1.2 .9 6 .7 2.2 .5 0 .2 .2 .2 .9 .7 .5 .3 .7 .2-1 .2 .4 .3-.4 .7-.8 .2 .1 .2-.9 .5 0 .7-1.1 .5 1.5 .4 5.3 1 1 .2-.4 .2 .8 .3-.8 .7-.5 .2 1.2 .5 1.1 .2 0 .7-.2 .5 .9 .2 0 .2 .2 .7-1.2 .3-1.2 .2-.1 .2-1.1 .3 1.1 .9 1 .2-.3 .3-.5 .2-.9 .7 .9 .5 1.3 .4 2.7 .7 1.8 .3 .1 .2-.5 .2 .3 .3 .9 .7 .9 .2 1.1 .7 0 .7-1.1 .2-.7 .3 1 .2-1.2 .2 .6 1-1.7 .2-.3 .2-.7 .3-.2 .9-1.2 .2 .4 .3-.4 .2 .5 .7-.7 .2 .6 .3-.5 .2-.1 .2-1.6 .7-1.7 .3-1.9 .2-.8 .2 .1 .3-2.1 .7-.1 .2 .3 .2 1.9 .3 .7 .2-.9 .7-.7 .2-1.5 .3 .9 .2 .1 .2 1.3 1 .9 .2 0 .2-.2 .3-.4 .7 2.6 .2-.2 .2-.6 .5-3.9 .9-.2 .5 2.3 .2 .6 .7-3.2 .3-.1 .2 .5 .2 .1 .3 1.8 .7 1.8 .2-.3 .2 .2 .3 1.7 .2-1.2 .7 .6 .5 1.4 .2-.5 .2 .2 .7 .3 .3-.4 .2 .9 .2-.5 .3 .7 .7 .3 .2-.3 .2 .1 .3-.2 .2 .8 .7 1.7 .5-.7 .2 .1 .2-.1 .7-.6 .3-.8 .2 .1 .2-.5 .3 1.3 .7-1.7 .2-1.1 .2 .3 .5-2.4 .7-1.1 .2 .9 .3-1.8 .2 1 .2-1.2 1 4.5 .4-1.7 .3-2.4 .7 .5 .2 2.8 .2 1.3 .3 2.2 .2 .8 .9-1.2 .5 .7 .2-.1 .7 1 .7 2.1 .3-.3 1.1-2.1 .3-.9 .2 .4 .9-3.2 .3 .2 .4 1.3 .7 .9 .3-.5 .2 .6 .2-.5 .3 0 .7 1.1 .4-.7 .3-.8 .2 1.2 .7 2.3 .5-1.5 .4-.1 1 3.3 .2 .2 .2-.3 .3 .1 .7 3.1 .2-.6 .2-.1 .3-.6 .2-1.4 .7 .7 .5 2.1 .2 2.6 .2 .5 1 4.1 .4 2.8 .3 .4 .9 .8 .2 .4 .3-.4 .2 0 .9-.2 .3 .5 .2 .1 .2-.5 .7-3.7 .7-1.6 .3 1.2 .7-1.3 .4-1.8 .5-1.3 .9 2.2 .3 1.1 .2 .5 .2 0 .7-.3 .3 1 .7-1.9 .9-1.6 .2-.1 .3-1.4 .2 1 .7 .6 .2 2.1 .3 1 .2-.3 .2 .2 .7-2 .3 1.6 .2-.2 .2 .5 .3-1 .7-.1 .2-.9 .2-.4 .3 .2 .2 1 .7-.9 .2-.7 .3 .9 .2 0 .9-2.7 .3 .8 .2 .3 .2 .7 .3 1.3 .7 2.7 .2 1.4 .2 .3 .3 .8 .2 .1 .7-.1 .2 .6 .5 2.3 .2-1.2 .7-.6 .3-.7 .2 0 .2 .4 .3 1.1 .7 .1 .2-1 .4 .1 .3 .5 .9 2.8 .2-1.4 .3-.7 .2-1 .7-1.2 .2-1.1 .3-.4 .2 .5 .2 .2 .7-.6 .3 .9 .2 1.8 .5-.9 .7-.3 .2-.6 .2-2.4 .5-1.1 .7-1.4 .2 1.6 .5 .1 .2 1.4 .7 .2 .3-.8 .2 .3 .2 1 .3 0 .7-1.5 .2-.9 .2 1.7 .3 .7 .2-.4 .9 1.4 .5-2.1 .2 .6 .7-.1 .3 1.1 .4-.6 .3 .5 .7 0 .2-1.2 .2 1.9 .3 .9 .2 .3 1.2 1.9 .2-.7 .2 .1 1-3.9 .2 1.9 .2 .5 .3 0 .7 1.2 .2-1.3 .2 .3 .3-1.2 .2 .2 .7-2 .5-.4 .2 .1 .2 1 .7 1.6 .5 2.3 .5-1.2 .7-.6 .2-.8 .2 .6 .3 1.7 .2-.8 1.2-1.5 .2 .2 .2 1.2 .7 1.4 .3 .9 .2 .2 .2 .8 .3 .1 .7 .4 .2 .7 .2-.2 .3-1.1 .2 1 .7 .2 .2-.5 .3 .7 .2 1.4 .2-.1 .7 .2 .5-.6 .2 1 .3-2 .9-.1 .5-2 .2-.4 .7-.7 .5-1 .2 .4 1.4-1.4 .2 .7 .3-.5 .9-.4 .2 1.5 .3 0 .2-.8 .7 1.8 .5 2.2 .4 .1 1-1.3 .2 .3 .5-2.3 .7 .4 .2-.1 .2-.7 .3 1.5 .2 .2 .7-1.1 .2 .1 .3-.3 .2 0 .2-.3 .7 .2 .7 2.2 .3-.8 .9-1.1 .2 .8 .3 1.4 .2-.3 .9 .2 .3 .1 .2 .8 .2-.4 1 4.9 .2-.2 .2 .3 .3-.9 1.1 .2 .3 1.1 .2-.8 .7-.3 .2-.5 .5 1.4 .2 .1 1 2.2 .2-.6 .2 .2 .3-.2 .7-.3 .2 .4 .2-.4 .3 .1 .2-1.4 .7 .2 .2 1.6 .5 1 .2-1.2 .7-.5 .3 .9 .2 .3 .5-1.3 .9 .8 .2 1.3 .5 1.1 .7 1.5 .2-.2 .3 .7 .2-.8 .2 .4 .7 .2 .3 .3 .2-.3 .5-1.6 .9-1 .2 .6 .3-.1 .2-.6 .7 0 .7 2.6 .2 .7 .7 .5 .3-.3 .2 .1 .2-.3 .3-.1 .7-1.5 .2 .6 .2-1 .3 .2 .2-.3 .7-.1 .2-.2 .3 1 .2-1.1 .9-1.4 .3 .9 .2-.6 .2 .5 .3-.3 .7 1 .2 .7 .2 1.3 .3-1.1 .2 .1 .9-2.2 .3-.9 .4 2.1 .7 1.3 .3 1.3 .2 .1 .2 .5 1.7 1.1 .2 .8 .7 0 .5-1.5 .2-.3 .2-2.1 .7-1.6 .3-.2 .2 .5 .2-.7 .3-1.2 .7-.9 .2 .4 .2-.3 .3-.5 .2 .4 .7-.1 .2 .6 .5-2.8 .2 .3 1 5 .7 2.5 .7-.7 .2-.5 .5 .4 .2 .8 .7 .9 .2-1.2 .3 .6 .4-.3 .7 .8 .3-.4 .4 4.2 .3-.1 .7-.1 .7-1 .2-.1 .7-2.5 .2 .3 .3-1 .4-.1 .7-.4 .3-.6 .2-.3 .2 .4 .3 .1 .7 .3 .2-1.3 .2 .1 .3-.3 .2-.6 .7-.2 .2 1.3 .3 .5 .4 1.6 .7 1.2 .3-.8 .2-.2 .2 .2 .3 .5 .7-1.5 .2-.1 .5-1.7 .2-.1 .9-1.1 .3 1.3 .2-.8 .2 .4 .7 .7 .3-.2 .4-2.2 .3 .2 .7-.4 .2 0 .5-1.3 .2-.3 .7 .7 .5 .9 .4 1.8 .7 .5 .5-.1 .2 .2 .3-.2 .7 .7 .2-.2 .2 .2 .3-.9 .2 1.2 .9-2.4 .3 .5 .2-.6 .2 .1 .7-.4 .3 .1 .7-.4 .7-1 .7-2.2 .2 .8 1.4 2.6 .2 .2 .7-.5 .3-.8 .2 .2 .2-.3 .3 0 .7 2.5 .2 .2 .2 .3 .5-1.6 .7-2.7 .2-.2 .5 1.2 .2 .1 .7-.8 .7-3 .3 0 .7-1 .4-1.5 .3-.4 .2-2 .7-1.7 .2 .1 .3-1.1 .2 .2 .2-.1 1.2 1.2 .5-.4 .7-.3 .4-1.6 .3 .6 .2-.5 .9-4 .5-4.4 .2-.2 .7 .2 .3-.3 .2 .1 .2 .8 .3 2 .7-1.8 .2 .9 .2-1 .3 .8 .2-.6 1.2 4.2 .2 .5 .2 1.5 .7 .5 .3-.1 .2 1 .2 .1 .3 .7 .7-.1 .2 .9 .2 0 .3-.9 .2 .5 .7-.4 .2-1.5 .3-2.4 .2 .5 .2-.2 .7 1.1 .3 .7 .2-1.7 0 0" clip-path="url(#p3d0efd7cfc)" style="fill:none;stroke:#8c564b;stroke-linecap:square"/><path d="M60.3 915.2l1 .2 .4 .3 .3 .2 .7 .2 .9 .8 .7 .2 .9 1.2 .7 .4 .7 .9 .3 .4 .9 .4 .7 .6 .9 .2 .5 .3 .2 .2 .7 .3 1 .7 .7 .3 .9 1.2 1.2 .3 .4 .4 .7 .2 .5 .4 .5 .2 .9 .1 .7-.5 2.3-.4 1-.7 .7-.3 .9-.9 1.4-.2 .2-.1 1-.3 .7-.3 .9 .1 .7 .2 .9 .2 .5 .4 .2 .3 .7 .4 1 1.9 .7 .3 .9 1.1 .7 .2 .9 .9 .7 .3 1 .7 .9 .2 .7 .6 .7 .3 .9 1.3 1 .4 .4 .2 .3-.1 1.4-.3 .2-.1 .7-.2 .9-.8 1-.2 .7-.4 .7-.3 .9-.9 .7-.3 .7-.8 .2-.1 1-.3 1.6-.9 .7-.8 .7-.2 .7-.6 .2-.1 4.5-.6 .4-.3 1.2-.3 .5-.1 1.1 .2 1.4 .7 .7 .4 1.2-.1 .5-.2 1.4-.2 .2-.1 .9-.3 1.7-.8 .7-.7 .7-.2 .9-1.1 .9-.4 .7-.5 .7-.2 .5-.4 .5-.9 .7-.5 .9-1.6 .7-.4 .7-1 .2-.3 .7-.6 1-1.6 .7-.5 .7-.9 .2-.2 1.2-.2 .4-.1 2.6 0 .7-.3 1.4-.1 .2 .1 .7 .2 1 .7 .7 .2 .9 .7 .7 .2 .9 .8 2.6 .5 .7 .2 .9 .2 .5 .2 .2 .2 .7 .3 1 1 .7 .3 .9 1.2 .9 .4 .7 .5 1.2 .4 .5 .1 3.2-.1 .7-.1 1-1 .7-.3 .4-.4 .5-.3 .7-.2 .7-.6 .2-.2 1.2-.2 .5-.2 1.1 0 3.8-1.5 1.4 .2 1.6 .3 .2 .1 1 .2 .7 .3 .9 .2 2.3 1 1.4 .3 .3 .1 1.1 0 1.4-.4 .7-.5 1.4-.1 .3-.1 .9-.1 .5 .2 .2 .1 .9 .3 .7 .3 .7 .2 1 .7 1.4 .4 .2 .1 2.8-.1 2.8 .3 .9 .3 .7 .2 1 .7 .7 .2 .7 .7 .2 .1 .7 .2 .7 .7 .2 .3 .7 .5 1 2 .7 .5 .9 1.9 .7 .4 .9 1.6 1 .4 .7 .5 1.6 .1 .9 .1 .7 .4 1 .2 .7 .2 1.4-.1 .9 0 .9 .3 1 .1 .7 .2 2.3 .1 2.6-.3 .7 .2 .9 .8 .7 .2 .9 1 1 .3 .7 .5 .9 .4 .7 .4 .7 .3 .4 .4 .5 .2 4.4 .4 1.7-.6 .4-.1 2.4-.1 .4-.1 4.5 .1 .4 0 2.1 .9 1.7 .1 1.6 .2 1.2-.2 .4-.1 1 .1 .7 .3 1.4 .1 .2 .1 1.6 .1 1 .2 .7 .5 .7 .2 .9 .6 .9 .3 .7 .6 1 .4 .7 .4 2.3 .2 4.2-.9 .9 .1 .7 .3 1.7 .1 3-.3 .9 0 .7 0 1.2 0 .7 .1 1.2 .2 1.4 .6 .7 .6 .7 .2 .9 .8 .9 .2 .7 .5 .7 .2 1 .9 .7 .1 .9 .6 .7 .1 .9 .7 1 .2 .7 .3 .9 .2 .7 .5 .7 .3 .9 .8 .7 .2 .7 .6 .3 .1 1.1 .2 .5 .1 .9 .2 .7 .4 1 .3 .7 .5 1.1 .2 .5 0 3 .1 1 0 1.6 .2 .9-.1 1 .2 .7 .4 .9 .2 .7 .5 1.2 .4 .4 .1 1.2-.2 1.6-.7 .5-.2 .9-.3 .7-.5 1.2 .1 .5 .2 1.1 .2 3.3 1 .5 .5 .7 .2 .9 .7 2.6 0 .7-.1 1.1-.1 1.2-.2 .7-.1 1.9 .4 1.4 0 1.8-.5 1.2-.1 .5-.2 .9-.2 .7-.5 2.3-.3 3.5 .1 2.1-.3 1.4-.5 .5-.3 4.2-.3 .7 .1 .9-.3 .7-.2 1-.2 .7-.5 .7-.2 .9-1.1 .7-.4 .9-1.5 .7-.3 1-1.1 .7-.2 .9-1.2 .7-.4 .7-1.4 .2-.6 .7-.5 .7-1.4 .3-.3 .7-.4 .9-1.3 .9-.4 .7-.3 1.7 0 .9 .1 .7 .1 .9 0 .7-.3 1.2-.2 0 0" clip-path="url(#p3d0efd7cfc)" style="fill:none;stroke:#ffa500;stroke-linecap:square"/><path d="M60.3 915.2l1.4 .1 .3 .1 1.1 .1 3.3 .9 .5 .3 1.1 .2 .5 .2 1.2 .2 .4 .2 1 .2 .7 .3 .9 .2 .7 .4 1.2 .3 .4 .2 1 .2 .7 .3 4.4 .4 1.9-.1 .9 0 .9 0 2.8 .1 2.8 .6 1 .6 .9 .3 .7 .3 .9 .2 .7 .4 1 .2 .7 .3 .9 .2 .7 .3 .9 .3 .7 .5 1 .2 .7 .2 1.1 .2 .5 .1 5.6 0 .9-.1 2.6-.1 .7-.2 9.3-.5 3.8 .3 2.8-.2 1.6-.3 .5-.1 1.1-.2 .5-.2 1.2-.2 .4-.2 1-.1 .4-.3 .3-.1 .9-.3 .7-.5 .9-.3 .7-.4 1-.4 .7-.5 .9-.3 .7-.5 .9-.2 .7-.2 1.2-.3 .5-.1 .9-.2 .7-.3 1.2-.3 .4-.1 10.8-.2 5.6 .8 4.2 0 2.3-.5 1.2-.2 .4-.1 2.8-.3 3.8-.6 4.9-.1 2.8 .1 1.6 .1 2.1 0 1.4-.2 .2 0 4.7 0 4.4 .4 2.1 0 4.2 .3 2.6 .6 .9 .1 1.9 .8 .5 .3 .7 .2 .9 .7 .9 .3 .7 .6 1 .2 .7 .3 1.1 .3 .5 .2 .9 .1 .7 .3 1 .2 .7 .3 1.1 .2 3.5 .9 .3 .1 1.1 .2 .5 .1 1.2 .2 .4 .1 1.4 .2 3.1 .9 .4 .3 1 .2 .7 .3 .9 .3 .7 .3 .9 .2 .7 .4 1.2 .2 .4 .2 1 .1 .7 .3 4.2 .6 2.3 .4 1.4 .2 1.9 .3 1.1 .1 .5 .2 .9 .1 .7 .3 1.4 .2 1 .1 .9 .2 2.3 .2 1.7 .3 5.3 1.1 .5 .2 .9 .2 .7 .3 1 .2 .7 .3 1.1 .2 .5 .1 3 .3 4.5 .6 .7 .1 2.5 .2 6.6 .9 .7 .2 .9 .2 .7 .3 1.2 .2 .4 .2 1 .2 .7 .3 .9 .2 .7 .3 .9 .1 .7 .3 1 .2 .7 .3 .9 .1 .7 .3 .9 .3 .7 .3 1 .3 .7 .3 .9 .2 .7 .2 .9 .2 .7 .3 1 .2 .7 .4 .9 .1 .7 .3 1.2 .2 .4 .2 1.2 .2 .5 .1 .9 .1 .7 .3 1.4 .2 5.1 1.4 6.1 .4 .5 .2 1.4 .2 .2 .1 1.2 .2 .4 .1 1.2 .2 .5 .2 .9 .2 .7 .3 1.4 .2 .9 .1 2.4 .3 3 .4 1.2 .2 .9 .1 9.1 .3 1.6 .1 2.4 0 9.1-.3 3-.6 .9-.4 1-.2 .7-.3 .9-.3 .7-.3 .9-.3 .7-.5 .7-.2 1-.7 .9-.4 .7-.5 .9-.2 .7-.3 1.2-.3 .5-.1 1.1-.2 .5-.2 .9-.1 .7-.3 1-.2 .2-.1 0 0" clip-path="url(#p3d0efd7cfc)" style="fill:none;stroke:#0000ff;stroke-linecap:square"/><path d="M60.3 915.2l71.4 0 .3-1.2 3 0 .2-6.5 1.4-.4 .3-.2 .2-.7 1.6 0 .7-5.3 252 0 0 0" clip-path="url(#p3d0efd7cfc)" style="fill:none;stroke-dasharray:3.7,1.6;stroke-dashoffset:0;stroke:#ff0000;stroke-opacity:0.8"/><path d="M43.68 956.53v-210.72" class="c1"/><path d="M408 956.53v-210.72" class="c1"/><path d="M43.68 956.53l364.32 0" class="c1"/><path d="M43.68 745.81l364.32 0" class="c1"/><text x="225.83" y="739.9" textLength="159.55" lengthAdjust="spacingAndGlyphs" class="c6">GMAB: Price + EMA + Max</text><path d="M280.16 794.3l122.9 0Q404.46 794.3 404.46 792.9v-42.1Q404.46 749.4 403.06 749.4l-122.9 0Q278.76 749.4 278.76 750.8v42.1Q278.76 794.3 280.16 794.3z" class="c25"/><path d="M281.76 755.41l6.72 0 7.2 0" style="fill:none;stroke:#8c564b;stroke-linecap:square"/><text x="301.16" y="757.96" textLength="40.36" lengthAdjust="spacingAndGlyphs" class="c2">GMAB Price</text><path d="M281.76 765.97l6.72 0 7.2 0" class="c28"/><text x="301.16" y="768.66" textLength="96.05" lengthAdjust="spacingAndGlyphs" class="c2">GMAB EMA (50 day expMA)</text><path d="M281.76 777.01l6.72 0 7.2 0" class="c26"/><text x="301.16" y="779.36" textLength="100.5" lengthAdjust="spacingAndGlyphs" class="c2">GMAB EMA (200 day expMA)</text><path d="M281.76 787.57l6.72 0 7.2 0" class="c29"/><text x="301.16" y="790.06" textLength="37.75" lengthAdjust="spacingAndGlyphs" class="c2">GMAB Max</text><path d="M473.76 956.53l364.32 0 0-210.72-364.32 0z" class="c5"/><path d="M490.56 956.53v-210.72" class="c10"/><path d="M532.8 956.53v-210.72" class="c10"/><path d="M576 956.53v-210.72" class="c10"/><path d="M618.24 956.53v-210.72" class="c10"/><path d="M660.96 956.53v-210.72" class="c10"/><path d="M703.68 956.53v-210.72" class="c10"/><path d="M746.4 956.53v-210.72" class="c10"/><path d="M788.64 956.53v-210.72" class="c10"/><path d="M831.36 956.53v-210.72" class="c10"/><path d="M473.76 954.61l364.32 0" class="c10"/><text x="466.84" y="958.24" textLength="21.1" lengthAdjust="spacingAndGlyphs" class="c0">−40</text><path d="M473.76 928.69l364.32 0" class="c10"/><text x="466.84" y="932.76" textLength="21.1" lengthAdjust="spacingAndGlyphs" class="c0">−20</text><path d="M473.76 903.25l364.32 0" class="c10"/><text x="466.84" y="907.28" textLength="6.36" lengthAdjust="spacingAndGlyphs" class="c0">0</text><path d="M473.76 877.81l364.32 0" class="c10"/><text x="466.84" y="881.8" textLength="12.72" lengthAdjust="spacingAndGlyphs" class="c0">20</text><path d="M473.76 852.37l364.32 0" class="c10"/><text x="466.84" y="856.32" textLength="12.72" lengthAdjust="spacingAndGlyphs" class="c0">40</text><path d="M473.76 826.93l364.32 0" class="c10"/><text x="466.84" y="830.84" textLength="12.72" lengthAdjust="spacingAndGlyphs" class="c0">60</text><path d="M473.76 801.49l364.32 0" class="c10"/><text x="466.84" y="805.36" textLength="12.72" lengthAdjust="spacingAndGlyphs" class="c0">80</text><path d="M473.76 776.05l364.32 0" class="c10"/><text x="466.84" y="779.88" textLength="19.09" lengthAdjust="spacingAndGlyphs" class="c0">100</text><path d="M473.76 750.61l364.32 0" class="c10"/><text x="466.84" y="754.4" textLength="19.09" lengthAdjust="spacingAndGlyphs" class="c0">120</text><text x="439.8" y="851.3" transform="rotate(-90 439.8 851.3)" textLength="37.06" lengthAdjust="spacingAndGlyphs" class="c4">Error %</text><path d="M490.4 903.4M491.4 903.4v4.4M491.8 903.4v7.5M492.8 903.4v7M493.3 903.4v7M493.8 903.4v11.4M494.7 903.4v11.5M495.2 903.4v12.7M496.2 903.4v13.3M498.6 903.4v7.5M499.5 903.4v5.2M500 903.4v7.8M501 903.4v9.6M501.4 903.4v7M501.9 903.4v7.7M502.9 903.4v13M503.4 903.4v12.6M504.3 903.4v5.6M504.8 903.4v3.6M506.7 903.4v4.1M507.7 903.4v-1.1M508.2 903.4v-6.7M509.1 903.4v-4.8M509.6 903.4v-2.2M510.1 903.4v-.4M511 903.4v-6.6M511.5 903.4v-7.1M512.5 903.4v-10.2M513 903.4v-9.8M513.4 903.4v-8.9M515.8 903.4v-6.5M516.3 903.4v-3.7M517.3 903.4v-.3M517.8 903.4v3M518.2 903.4v3.1M519.2 903.4v5.2M519.7 903.4v8.7M520.6 903.4v19.4M521.1 903.4v21.2M521.6 903.4v16.8M524 903.4v10M524.5 903.4v9.5M525.4 903.4v9.2M525.9 903.4v7.4M526.4 903.4v6.5M527.3 903.4v4.8M527.8 903.4v8.8M528.8 903.4v13.3M529.3 903.4v14.5M529.7 903.4v13M532.1 903.4v-1.4M532.6 903.4v-3.1M533.6 903.4v-7.7M534.1 903.4v-7.9M534.5 903.4v-6.6M535.5 903.4v-5.2M536 903.4v-6.1M536.9 903.4v-8.8M537.4 903.4v-9.1M537.9 903.4v-10.8M540.8 903.4v-4.7M541.7 903.4v-10.6M542.2 903.4v-12M542.7 903.4v-9.1M543.7 903.4v-9M544.1 903.4v-6.1M545.1 903.4v-3.4M545.6 903.4v-.9M546.1 903.4v-.8M547 903.4v-.6M548.9 903.4v-5.5M549.9 903.4v-4.8M550.4 903.4v-3.1M550.9 903.4v-.8M551.8 903.4v1.2M552.3 903.4v4.2M553.3 903.4v9.3M553.7 903.4v7.6M554.2 903.4v5.4M555.2 903.4v-.6M558.1 903.4v-7M558.5 903.4v-3.6M559 903.4v-1.7M560 903.4v-11.7M560.5 903.4v-10.2M561.4 903.4v-8.4M561.9 903.4v-9.3M562.4 903.4v-11.6M563.3 903.4v-7.7M563.8 903.4v-8M566.2 903.4v-18.1M566.7 903.4v-16.9M567.2 903.4v-17.1M568.1 903.4v-15.3M568.6 903.4v-11.7M569.6 903.4v-22.1M570.1 903.4v-16.6M570.5 903.4v-17.4M571.5 903.4v-15.3M572 903.4v-9.2M574.4 903.4v-.1M574.9 903.4v-.5M575.3 903.4v-.5M576.3 903.4v-1.6M576.8 903.4v-2.9M577.7 903.4v-4.4M578.2 903.4v-1.7M578.7 903.4v6.8M579.7 903.4v7.9M580.1 903.4v7.9M583 903.4v8.1M583.5 903.4v7.8M584.5 903.4v3.5M584.9 903.4v1.3M585.9 903.4v4M586.4 903.4v3.7M586.9 903.4v1.1M587.8 903.4v3.4M588.3 903.4v6.5M589.3 903.4v10.9M591.2 903.4v12.4M591.7 903.4v11.5M592.6 903.4v7.8M593.1 903.4v6.9M594.1 903.4v4.9M594.5 903.4v3.6M595 903.4v2M596 903.4v0M596.5 903.4v-.1M597.4 903.4v-.4M599.8 903.4v-11.9M600.8 903.4v-10.5M601.3 903.4v-5.8M602.2 903.4v-7.9M602.7 903.4v-8M603.2 903.4v-5.2M604.1 903.4v-3.3M604.6 903.4v-3.4M605.6 903.4v.3M606.1 903.4v-1M608 903.4v-1.6M608.9 903.4v-6.6M609.4 903.4v-5.2M610.4 903.4v.9M610.8 903.4v.7M611.3 903.4v1.5M612.3 903.4v3.3M612.8 903.4v3.4M613.7 903.4v3.9M614.2 903.4v4.4M617.1 903.4v6.5M617.6 903.4v5.6M618.5 903.4v4.1M619 903.4v2.6M619.5 903.4v3.8M620.4 903.4v-.9M620.9 903.4v-2.3M621.9 903.4v-5.7M622.4 903.4v-6.7M622.8 903.4v-6.6M625.2 903.4v0M625.7 903.4v5.6M626.7 903.4v5M627.2 903.4v4.5M627.6 903.4v4.7M628.6 903.4v7.1M629.1 903.4v8.6M630 903.4v5.3M630.5 903.4v3.9M631 903.4v2.8M633.4 903.4v.8M633.9 903.4v.9M634.8 903.4v2.5M635.3 903.4v1.2M635.8 903.4v1.9M636.8 903.4v4M637.2 903.4v2.6M638.2 903.4v6.4M638.7 903.4v7.4M639.2 903.4v6.5M642 903.4v12.9M643 903.4v17.6M643.5 903.4v20.8M644 903.4v21.4M644.9 903.4v21M645.4 903.4v19.3M646.4 903.4v17.5M646.8 903.4v17M647.3 903.4v14.9M648.3 903.4v7.3M650.2 903.4v0M651.2 903.4v1.9M651.6 903.4v4.4M652.1 903.4v4.8M653.1 903.4v5.5M653.6 903.4v2.6M654.5 903.4v-.3M655 903.4v-.7M655.5 903.4v-1.3M656.4 903.4v3.2M659.3 903.4v1.6M659.8 903.4v-.6M660.3 903.4v1.4M661.2 903.4v-1.2M661.7 903.4v.2M662.7 903.4v-4.1M663.2 903.4v-2M663.6 903.4v1.2M664.6 903.4v7.7M665.1 903.4v8.7M667.5 903.4v8M668 903.4v6.3M668.4 903.4v8.2M669.4 903.4v6.1M669.9 903.4v5.8M670.8 903.4v9.8M671.3 903.4v7.5M671.8 903.4v4.4M672.8 903.4v.4M673.2 903.4v.5M675.6 903.4v1.8M676.1 903.4v-3.1M676.6 903.4v-4.6M677.6 903.4v-3.8M678 903.4v-3.3M679 903.4v-.7M679.5 903.4v-1.4M680 903.4v.3M680.9 903.4v-3.4M681.4 903.4v.5M684.3 903.4v.6M684.8 903.4v1M685.7 903.4v-1M686.2 903.4v3.5M687.2 903.4v5.5M687.6 903.4v6.3M688.1 903.4v4.9M689.1 903.4v-1.5M689.6 903.4v2.3M690.5 903.4v4M692.4 903.4v-3.1M692.9 903.4v-1M693.9 903.4v3M694.4 903.4v3.7M695.3 903.4v1.6M695.8 903.4v1.3M696.3 903.4v2.5M697.2 903.4v.2M697.7 903.4v.3M698.7 903.4v4.3M701.1 903.4v6.6M702 903.4v5.7M702.5 903.4v8.6M703.5 903.4v8M703.9 903.4v6.5M704.4 903.4v4.4M705.4 903.4v3.8M705.9 903.4v.5M706.8 903.4v-1.4M707.3 903.4v-2.9M709.2 903.4v-3.3M710.2 903.4v-3.6M710.7 903.4v-1M711.6 903.4v.7M712.1 903.4v4M712.6 903.4v3.9M713.5 903.4v1.6M714 903.4v-.4M715 903.4v-1M715.5 903.4v-2.2M718.3 903.4v-.1M718.8 903.4v2.1M719.8 903.4v-.6M720.3 903.4v.4M720.7 903.4v2M721.7 903.4v2.1M722.2 903.4v3.4M723.1 903.4v8.8M723.6 903.4v9.4M724.1 903.4v7.6M726.5 903.4v5.1M727 903.4v7M727.9 903.4v9.1M728.4 903.4v8.5M728.9 903.4v7.7M729.9 903.4v7.4M730.3 903.4v6.4M731.3 903.4v4M731.8 903.4v7M732.3 903.4v5.2M734.7 903.4v4.4M735.1 903.4v7.1M736.1 903.4v9.6M736.6 903.4v9.7M737.1 903.4v8.4M738 903.4v8.5M738.5 903.4v6.1M739.5 903.4v3.3M739.9 903.4v3.5M740.4 903.4v2.2M743.3 903.4v5.7M744.3 903.4v2.6M744.7 903.4v1.7M745.2 903.4v1.6M746.2 903.4v.9M746.7 903.4v.6M747.6 903.4v-1.6M748.1 903.4v-1.2M748.6 903.4v-.7M749.5 903.4v1.9M751.5 903.4v-.9M752.4 903.4v2.8M752.9 903.4v4.8M753.4 903.4v5.4M754.3 903.4v5.9M754.8 903.4v6M755.8 903.4v6.9M756.3 903.4v4M756.7 903.4v-.3M757.7 903.4v-3M760.6 903.4v-5.2M761.1 903.4v-6.4M761.5 903.4v-7.3M762.5 903.4v1M763 903.4v4.4M763.9 903.4v3.4M764.4 903.4v2.6M764.9 903.4v4.1M765.9 903.4v3.2M766.3 903.4v3.7M768.7 903.4v9M769.2 903.4v7M769.7 903.4v6M770.7 903.4v2.2M771.1 903.4v.4M772.1 903.4v-.5M772.6 903.4v-1.8M773.1 903.4v-.9M774 903.4v-2.4M774.5 903.4v-2.6M776.9 903.4v3.8M777.4 903.4v2M777.9 903.4v3.1M778.8 903.4v.3M779.3 903.4v-2.4M780.3 903.4v-3.6M780.7 903.4v-1.8M781.2 903.4v-2.2M782.2 903.4v-1.2M782.7 903.4v-4.6M785.5 903.4v-3.2M786 903.4v0M787 903.4v.6M787.4 903.4v.9M788.4 903.4v1.6M788.9 903.4v1.4M789.4 903.4v1.9M790.3 903.4v-1.9M790.8 903.4v-2M791.8 903.4v-2.3M793.7 903.4v-6.5M794.2 903.4v-5.3M795.1 903.4v-2.3M795.6 903.4v-.6M796.6 903.4v-1.1M797 903.4v-1.9M797.5 903.4v-2.3M798.5 903.4v2.1M799 903.4v1.2M799.9 903.4v-4.5M802.3 903.4v-7.4M803.3 903.4v-9.8M803.8 903.4v-10.6M804.7 903.4v-15.5M805.2 903.4v-16M805.7 903.4v-14.6M806.6 903.4v-12M807.1 903.4v-11.1M808.1 903.4v-10.9M808.6 903.4v-12.6M810.5 903.4v-21.8M811.4 903.4v-20.4M811.9 903.4v-17.4M812.9 903.4v-15.8M813.4 903.4v-14.8M813.8 903.4v-13.5M814.8 903.4v-6.8M815.3 903.4v-4.6M816.2 903.4v-1.1M816.7 903.4v.4M819.6 903.4v-1.2M820.1 903.4v-4M821 903.4v-2.2M821.5 903.4v-3.7v0" clip-path="url(#p1cf3fc685e)" style="fill:none;stroke:#800080;stroke-opacity:0.7;stroke-width:0.48"/><path d="M490.5 903.4l.7 2 .2 2.6 .2 .8 .5 4 .7-1.4 .2 .6 .3-.2 .2 1.5 .2 3.5 .7-.2 .7 2.9 .3-.3 .7 1.6 .2-1.2 .2 .2 .3 3.9 .2 1.8 .9-8.8 .3 .8 .2 .3 .2-.4 .7-2.3 .5 .2 .2 2.8 .3 .7 .7 1.5 .4-2.3 .3 .3 .2 .7 1.2 7.1 .2-1 1.2-7.8 .2-.8 .5 5.1 .7 .5 .2 .4 .5-4.1 .2-.7 .7-1.1 .5-8.5 .2-1.8 .2-.8 .7 2.1 .7 3 .3 .8 1.1-8.1 .3 .3 .2 0 .7-3.8 .2-.3 .5-.2 .2 .4 .7 7.9 .5 .6 .2-3.1 .3-1.5 .9-2.5 .7 3.6 .7 2 .7 4.4 .2-.7 .7 .1 1 9.2 .7 8.4 .2 1.1 .2 1.8 .5-3.5 .7-2.7 .2-1.4 .5-1.3 .2-2.1 .7 .9 .5 2.5 .2-1 .3 .3 .7-.2 .2-1.2 .7-1.1 .7-2.6 .2 .9 .3 2.8 .2 1.5 .2-.1 .7 5.1 .7 2.5 .3-1.6 .9-5.3 .2-2.7 .5-8.8 .7 .3 .2 1.6 .3-.7 .2-1.3 .2-2.1 1-4.4 .2 .4 .2-.8 .3 1.4 .7 1.4 .9-2.6 .9-3.5 .3-.3 .2-1.9 1.2-2.3 .7 4.3 .7-.1 .2 1.3 .2 0 .3-.2 1.1-7.8 .3-.9 .4 2.4 .7 .1 .3-.7 .2 .9 .5 3.1 .7 .9 .7 3.5 .2-.9 .9 .1 .3-.2 .2-.9 .2-.4 .7-.6 .3-.9 .7-4.3 .7 2.1 .2 1.4 .2 .2 .3-.2 .2 2.3 .7 1.4 .2 .7 .3 2.4 .2 .8 .9 5.5 .3 1.8 .4-4.4 .3-.3 .7-6 .2 0 .2-2.8 .5-1.6 .7 .9 .5 2.4 .4-3.5 .7-2.9 .3 .7 .2 2.4 .2 .4 .3 1.4 .9-10.7 .2 .2 .3 .7 .2 .2 .7 1.2 .2-1 .3-.5 .2-3.3 .2 .4 .7 2.1 .3 1.4 .4-.7 .3 2.1 1.1-3.8 .3-10.8 .2 .1 .7-.1 .5 .3 .2-.2 .2-.9 1 1.1 .4 3 .3-.4 .7-10.9 .2 5.6 .7-2.4 .7-1.7 .9 11 .7 3.7 .3 .2 .2 .2 .2 .5 .3 1.6 .7 1 .2 1.2 .2-1.4 .3 .8 .2-.6 .7-1.2 .2 .3 .3-1.4 .2 .1 .2 .3 .7-1.7 .5 2.8 .5 9.1 .9 1.7 .2-.7 .3 1.4 .2-1.3 .7-.7 .2 2 .5 1.8 .2 0 .7-.3 .5 1.6 .2 0 .3 .3 .7-2.1 .2-1.9 .2-.2 .3-1.7 .2 1.8 .9 1.7 .3-.4 .2-.9 .2-1.5 .7 1.7 .5 2.2 .5 4.3 .7 3 .2 .1 .2-.8 .3 .4 .2 1.4 .7 1.5 .2 1.6 .3-.1 .2 0 .2-.2 .7-1.9 .3-1.2 .2 1.5 .2-2 .3 .9 .9-3 .2-.6 .3-1.1 .2-.4 .9-2 .3 .6 .2-.7 .2 .8 .7-1.1 .3 .9 .2-.8 .2-.2 .3-2.6 .7-2.8 .2-3.1 .2-1.3 .3 .3 .2-3.4 .7 0 .2 .7 .3 3.3 .2 1.1 .2-1.4 .7-1.1 .3-2.3 .2 1.7 .2 .1 .3 2.4 .9 1.6 .2 .1 .3-.3 .2-.6 .7 4.3 .2-.2 .3-1.1 .4-6.2 .7-.3 .3 .1 .4 4 .3 1 .7-5.1 .2-.2 .2 1 .3 .2 .2 3.1 .7 3 .2-.3 .3 .3 .2 2.8 .2-1.9 .7 .9 .5 2.5 .2-.9 .3 .3 .7 .5 .2-.6 .2 1.4 .3-.8 .2 1.2 .7 .5 .2-.6 .3 .1 .2-.3 .2 1.3 .7 2.8 .5-1.2 .2 .1 .3-.3 .7-.9 .2-1.5 .2 .2 .3-.9 .2 2.2 .7-2.8 .2-1.9 .3 .5 .4-3.8 .7-1.8 .3 1.5 .2-2.8 .2 1.6 .3-1.9 .9 7.5 .5-2.7 .2-4 .7 .9 .2 4.7 .3 2.2 .2 3.6 .2 1.2 1-2.1 .4 1.1 .3-.2 .7 1.7 .7 3.3 .2-.6 .7-2.4 .2-1.2 .3 0 .2-1.7 .2 .7 1-5.3 .2 .3 .5 2.1 .7 1.5 .2-.8 .2 1.1 .3-.9 .2 0 .7 1.7 .5-1.2 .2-1.3 .2 2 .7 3.7 .5-2.6 .2 0 .3-.2 .9 5.2 .2 .4 .3-.6 .2 0 .7 5 .2-1.1 .3-.3 .2-1.1 .2-2.3 .7 1 .5 3.3 .2 4.1 .3 .7 .9 6.3 .2 2.8 .3 1.4 .2 .3 .7 .7 .2 0 .3 .4 .2-1 1.2-1.2 .2 .6 .2-.1 .3-1.2 .7-6.4 .7-3.1 .2 1.7 .7-2.4 .5-3.3 .4-2.4 1 3.5 .2 1.7 .2 .6 .3-.1 .7-.7 .2 1.4 .7-3.6 .9-2.9 .3-.2 .2-2.5 .2 1.5 .7 1 .3 3.4 .2 1.5 .2-.7 .3 .2 .7-3.4 .2 2.5 .2-.5 .3 .7 .2-1.8 .7-.3 .2-1.7 .3-.8 .2 .3 .2 1.5 .7-1.5 .3-1.2 .2 1.3 .2-.2 1-4.6 .2 1.3 .2 .4 .3 1.1 .2 2 .7 4.3 .2 2.3 .3 .4 .2 1 .2 .1 .7-.4 .3 .8 .4 3.4 .3-2.2 .7-1.2 .2-1.3 .2-.2 .3 .5 .2 1.7 .7-.2 .2-1.7 .5-.3 .2 .8 1 4.1 .2-2.6 .2-1.2 .3-1.9 .7-2.1 .2-2 .2-.9 .3 .8 .2 .3 .7-1.1 .2 1.2 .3 3 .4-1.9 .7-.7 .3-1.1 .2-4 .5-2 .7-2.5 .2 2.7 .2 .1 .3 0 .2 2.2 .7 .2 .2-1.3 .3 .3 .2 1.6 .2-.1 .7-2.5 .3-1.6 .2 2.7 .2 1.1 .3-.8 .9 2.2 .5-3.7 .2 1 .7-.3 .2 1.7 .5-1.1 .2 .7 .7-.1 .3-2 .2 3.1 .2 1.4 .3 .3 1.1 2.7 .3-1.3 .2 .1 .9-6.6 .3 3 .2 .8 .2-.1 .7 1.8 .3-2.3 .2 .4 .2-2 .3 .2 .7-3.4 .4-.7 .3 .1 .2 1.7 .7 2.6 .5 3.6 .4-2.3 .7-1.1 .3-1.4 .2 1 .2 2.6 .3-1.4 1.1-2.7 .3 .3 .2 1.9 .7 2.2 .2 1.4 .3 .2 .2 1.2 .2-.1 .7 .7 .3 .9 .2-.4 .2-2 .3 1.5 .7 .1 .2-.8 .2 1 .3 2.2 .2-.4 .7 .1 .5-1.3 .2 1.5 .2-3.4 1-.5 .4-3.5 .3-.8 .7-1.3 .4-1.8 .3 .7 1.4-2.5 .2 1 .2-.8 .7-.7 .3 0 .2 2.4 .2 0 .3-1.5 .7 3 .4 3.4 .5 0 .9-2.3 .3 .4 .4-4 .7 .6 .3-.1 .2-1.3 .2 2.5 .3 .3 .7-2 .2 .1 .2-.4 .3-.2 .2-.5 .7 .3 .7 3.5 .2-1.4 1-2 .2 1.4 .2 2.2 .3-.6 .9 .1 .2 .2 .3 1.2 .2-.7 .9 7.9 .3-.5 .2 .3 .2-1.7 .7 .1 .3-.1 .2 0 .2 1.7 .3-1.4 .7-.7 .2-1.1 .5 2.1 .2 .1 .9 3.2 .3-1 .2 0 .2-.5 .7-.6 .3 .6 .2-1 .2 .1 .3-2.4 .7 .2 .2 2.4 .5 1.4 .2-2.3 .7-.9 .2 1.4 .3 .3 .4-2.5 1 1.2 .2 2 .5 1.5 .7 2.2 .2-.6 .2 1 .3-1.5 .2 .6 .7 0 .2 .3 .2-.6 .5-3 .9-2 .3 .8 .2-.3 .2-1.1 .7-.2 .7 3.9 .3 .9 .7 .7 .2-.6 .2 0 .5-1.1 .7-2.7 .2 .9 .3-1.9 .2 .3 .2-.6 .7-.3 .3-.5 .2 1.5 .2-2 1-2.4 .2 1.4 .2-1.3 .3 .8 .2-.6 .7 1.6 .2 1 .3 2 .2-2 .2 .1 1-3.8 .2-1.5 .5 3.3 .7 2 .2 1.9 .2 .2 .3 .6 .2 .1 .7 .7 .5-.1 .2 .3 .2 1.2 .7-.1 .5-2.8 .2-.8 .3-3.6 .7-2.8 .2-.3 .2 .7 .3-1.1 .2-2.1 .7-1.6 .2 .6 .3-.5 .2-.8 .2 .5 .7-.1 .3 1 .4-4.7 .3 .6 .9 8.1 .5 3.5 .2 .4 .7-1.3 .2-.9 .3 .2 .2 .3 .2 1.2 .7 1.3 .3-2.1 .2 .9 .5-.7 .7 1.3 .2-.9 .5 6.7 .2-.3 .7-.2 .7-2.2 .2-.3 .7-4.3 .3 .4 .2-1.8 .5-.4 .7-.7 .2-1.1 .2-.5 .3 .6 .2 0 .7 .5 .2-2.2 .3 .1 .2-.6 .2-1 .7-.3 .3 2.1 .2 .7 .5 2.6 .7 1.8 .2-1.3 .2-.6 .3 .3 .2 .9 .7-2.6 .2-.3 .5-2.9 .2-.2 1-1.9 .2 2.1 .2-1.4 .3 .7 .7 1.1 .2-.4 .5-3.7 .2 .3 .7-.7 .2 .1 .5-2.2 .2-.4 .7 1.1 .5 1.6 .5 3 .7 .7 .4-.3 .3 .4 .2-.3 .7 1.1 .2-.5 .3 .3 .2-1.5 .2 2 1-4 .2 .8 .2-1 .3 .1 .7-.6 .2 .1 .7-.6 .7-1.6 .7-3.7 .2 1.5 1.4 4.4 .3 .3 .7-.8 .2-1.5 .2 .5 .3-.5 .2-.1 .7 4.2 .2 .3 .3 .5 1.4-7.5 .4 2.1 .3 .1 .7-1.3 .4-3.9 .3-.9 .2 .1 .7-1.5 .5-2.3 .2-.6 .2-3.1 .7-2.7 .3 .4 .2-1.8 .2 .6 .3 0 .7 1.3 .4 1.2 .3-.2 .2 0 .7-.4 .5-2.3 .2 1.1 .2-.5 1-6.2 .4-6.7 .3-.1 .7 .7 .2-.2 .2 .4 .3 1.7 .2 3.6 .7-2.7 .2 1.7 .3-1.3 .2 1.6 .2-.9 1.2 7.7 .2 1 .3 2.8 .7 .9 .2 0 .2 1.8 .3 .2 .2 1.4 .7 0 .2 1.6 .3 0 .2-1.4 .2 1 .7-.6 .3-2.3 .2-3.8 .2 .9 .3-.1 .7 2 .2 1.2 .2-2.7 0 0" clip-path="url(#p1cf3fc685e)" style="fill:none;stroke:#0000ff;stroke-linecap:square"/><path d="M474 903.49l364.32 0" clip-path="url(#p1cf3fc685e)" style="fill:none;stroke:#000000;stroke-width:1.5;stroke-linecap:square"/><path d="M473.76 956.53v-210.72" class="c1"/><path d="M838.08 956.53v-210.72" class="c1"/><path d="M473.76 956.53l364.32 0" class="c1"/><path d="M473.76 745.81l364.32 0" class="c1"/><text x="655.97" y="739.9" textLength="127.74" lengthAdjust="spacingAndGlyphs" class="c6">GMAB: EMA Error (%)</text><path d="M747.74 772.9l85.46 0Q834.6 772.9 834.6 771.5v-20.7Q834.6 749.4 833.2 749.4l-85.46 0Q746.34 749.4 746.34 750.8v20.7Q746.34 772.9 747.74 772.9z" class="c25"/><path d="M749.28 755.41l6.72 0 7.2 0" class="c26"/><text x="768.74" y="757.96" textLength="62.8" lengthAdjust="spacingAndGlyphs" class="c2">200d expMA error</text><path d="M749.28 768.85l13.92 0 0-5.28-13.92 0z" class="c30"/><text x="768.74" y="768.66" textLength="58.35" lengthAdjust="spacingAndGlyphs" class="c2">50d expMA error</text><path d="M903.84 956.53l364.32 0 0-210.72-364.32 0z" class="c5"/><defs><path id="md90def9ca8" d="M920.6-757.4v0l.7 5.4 .2 7 .3 2.4 .2 7.1 .2 4 .7-3.6 .3 2 .2-.4 .2 4.3 .3 9.7 .7-.1 .2 2.9 .2 2.6 .3 3.3 .2-.3 .7 4.6 .2-2.5 .3 .9 .2 10.9 .2 5.4 .7-18 .3-4.8 .2 2.5 .2 1.2 .3-.8 .7-5.7 .2 .6 .2 .5 .3 7.9 .2 2.5 .7 4.4 .2-3 .3-2.5 .2 1.4 .2 2.2 .7 11.3 .3 5.7 .2 3.6 .2-2 .3-4 .7-12.9 .2-2.6 .2-2 .3 8.9 .2 5.7 .7 1.9 .2 1.7 .3-5 .2-5.3 .2-1.2 .7-2.7 .3-11.1 .2-11.2 .2-5 .3-1.8 .7 5.5 .2 3.2 .2 3.3 .3 2.2 .2 2.2 .7-13.6 .2-4.1 .3-3.8 .2 .7 .2 0 .7-10.1 .3-.9 .2-.3 .2-.5 .3 .8 .7 21.4 .2 .9 .2 1 .3-8.3 .2-3.9 .7-5.1 .2-1.9 .3 2.7 .2 3.9 .2 3 .7 5.7 .3 4.7 .2 4.7 .2 2.8 .3-1.7 .7 .3 .2 6.1 .2 5 .3 6.1 .2 8.8 .7 23.1 .2 3.6 .3 5.8 .2-5.4 .2-2.7 .7-6.6 .3-3.2 .2-.9 .2-1.6 .3-5.2 .7 2.7 .2 4.7 .2 3.1 .3-2.1 .2 1.5 .7-.2 .2-2.6 .3-.8 .2-.6 .2-.3 .7-6.5 .3 2.9 .2 8 .2 4.4 .3 .2 .7 14.2 .2 2.7 .2 3.6 .3 2.5 .2-3.4 .7-9.8 .2-3.3 .3-6.8 .2-12.4 .2-10.5 .7 .8 .3 4.7 .2-1.5 .2-3.5 .3-5.4 .7-8.4 .2-3.3 .2 1.2 .3-2.1 .2 3.8 .7 4 .2-1.5 .3-1.6 .2-1.8 .2-1.8 .7-7.3 .3-2.1 .2-.8 .2-5.3 .3-1.3 .7-4.3 .2-.9 .2 3.5 .3 3.8 .2 3.8 .7-.3 .2 3.4 .3-.1 .2-.5 .2-4.4 .7-13.1 .3-3.9 .2-2.5 .2 3.3 .3 2.5 .7 .2 .2-2.1 .2 2.1 .3 4.4 .2 3.9 .7 2.3 .2 3.2 .3 3 .2 3 .2-2.5 .7 .1 .3 .2 .2-.6 .2-2.5 .3-1.1 .7-1.5 .2-2.5 .2-4.2 .3-3.1 .2-4.7 .7 5.4 .2 3.6 .3 .3 .2-.6 .2 6.2 .7 3.7 .3 2 .2 6.4 .2 2.3 .3 3.6 .7 11.5 .2 5.1 .2-7.4 .3-3.9 .2-.9 .7-15.9 .2-.1 .3-7.6 .2-2.6 .2-1.7 .7 2.1 .3 3.4 .2 3.2 .2-4.3 .3-5.4 .7-8 .2 1.7 .2 6.4 .3 .9 .2 3.6 .7-19.6 .2-9.5 .3 0 .2 1.8 .2-.1 .7 3 .3-2.9 .2-1.6 .2-3.7 .3 .6 .7 5.4 .2 3.1 .2-1.4 .3-1.1 .2 5.4 .7-6.5 .2-1.4 .3-3.3 .2-.8 .2 0 .7 0 .3 0 .2 0 .2 0 .3 0 .7 1.4 .2 0 .2 2.6 .3 3.4 .2-1.4 .7-6 .2 11.9 .3-2.4 .2-2.1 .2-2.9 .7-4.5 .3 6.1 .2 3.9 .2 7.8 .3 4.7 .7 8.2 .2-.1 .2 .2 .3 .7 .2 3.4 .7 1.8 .2 2.6 .3-3.5 .2 1.5 .2-1.6 .7-3.1 .3 .4 .2-3.6 .2-.1 .3 .2 .7-4 .2 2.3 .2 3.3 .3 11 .2 9 .7 2.9 .2 .9 .3-1.7 .2 3.2 .2-3.1 .7-1.7 .3 4.4 .2 1.8 .2 2.2 .3 .1 .7-.8 .2 1.8 .2 1.7 .3 .1 .2 .7 .7-4.7 .2-4.3 .3-.6 .2-3.9 .2 3.8 .7 2.9 .3 1 .2-.9 .2-2.1 .3-3.5 .7 3.7 .2 2.1 .2 2.8 .3 5.2 .2 4.7 .7 6.8 .2 .5 .3-1.8 .2 1.1 .2 3.4 .7 3.5 .3 3.8 .2 0 .2 .3 .3-.1 .7-4.2 .2-2.5 .2 3.7 .3-4.4 .2 2.1 .7-5.4 .2-1.1 .3-1.2 .2-2.4 .2-.8 .7-3.6 .3-.9 .2 1.4 .2-1.6 .3 1.9 .7-2.5 .2 2.1 .2-1.7 .3-.5 .2-6 .7-6.4 .2-7.3 .3-2.9 .2 .3 .2-7.9 .7-.4 .3 1.4 .2 7.2 .2 2.3 .3-3.3 .7-2.7 .2-5.4 .2 3.5 .3 0 .2 5.1 .7 2.6 .2 .9 .3 .1 .2-.9 .2-1.6 .7 9.7 .3-.5 .2-2.5 .2-6.5 .3-7.9 .7-1 .2 0 .2 5 .3 3.7 .2 2.2 .7-11.9 .2-.6 .3 2.1 .2 .1 .2 6.9 .7 6.7 .3-.9 .2 .7 .2 6.2 .3-4.2 .7 1.9 .2 2.8 .2 2.8 .3-2 .2 .7 .7 1.2 .2-1.5 .3 3.2 .2-1.8 .2 2.9 .7 1 .3-1.2 .2 .3 .2-.6 .3 3 .7 6.3 .2-1.2 .2-1.4 .3 .4 .2-.4 .7-2.1 .2-3.2 .3 .4 .2-2 .2 5.1 .7-6.3 .3-4.4 .2 1.1 .2-4.4 .3-4.4 .7-4.1 .2 3.2 .2-6.6 .3 3.5 .2-4.3 .7 13.5 .2 3.3 .3-3.7 .2-2.5 .2-9.2 .7 1.8 .3 10.6 .2 4.9 .2 8.3 .3 2.9 .7-3.3 .2-1.2 .2 1 .3 1.6 .2-.4 .7 3.9 .2 2.8 .3 4.1 .2 1 .2-1 .7-5.2 .3-2.6 .2-.1 .2-3.6 .3 1.6 .7-9.9 .2-2 .2 .6 .3 2.2 .2 2.6 .7 3.4 .2-1.8 .3 2.5 .2-2 .2 .1 .7 3.9 .3-1.1 .2-1.6 .2-2.9 .3 4.6 .7 8.5 .2-2.8 .2-2.8 .3 0 .2-.3 .7 9.7 .2 2.6 .3 .9 .2-1.2 .2 .4 .7 11.5 .3-2.3 .2-.3 .2-2.2 .3-5.1 .7 2.6 .2 5 .2 3 .3 9.7 .2 1.9 .7 11.3 .2 4.1 .3 6.9 .2 3.7 .2 1.5 .7 2.2 .3 .7 .2 1.5 .2-1.6 .3 .1 .7-.8 .2 0 .2 2 .3 .4 .2-2.1 .7-13.9 .2-1.9 .3-2.2 .2-1.8 .2 4.4 .7-4.9 .3-4.4 .2-2.4 .2-2.7 .3-2.2 .7 6.5 .2 2 .2 4.2 .3 1.6 .2 .2 .7-1.2 .2 3.6 .3-2.4 .2-3.6 .2-1.2 .7-5 .3-1 .2-.2 .2-5.2 .3 3.6 .7 2.3 .2 8.1 .2 3.7 .3-1.2 .2 .8 .7-7.4 .2 6 .3-.9 .2 1.9 .2-3.7 .7-.4 .3-3.5 .2-1.6 .2 1 .3 3.6 .7-3.3 .2-2.5 .2 3.2 .3-.1 .2-2.5 .7-7.6 .2 3.2 .3 1.1 .2 2.5 .2 4.8 .7 10.1 .3 5.6 .2 1.1 .2 2.7 .3 .7 .7-.4 .2 2.2 .2 5.3 .3 3.4 .2-4.5 .7-2.3 .2-2.6 .3 .1 .2 1.4 .2 4.2 .7 .1 .3-3.5 .2 .1 .2 .1 .3 2.1 .7 8.4 .2 2 .2-5.5 .3-2.3 .2-3.8 .7-4.4 .2-4.3 .3-1.7 .2 2 .2 .9 .7-2.2 .3 3.1 .2 7.1 .2-2.1 .3-1.6 .7-1.2 .2-2.2 .2-8.9 .3-2.2 .2-2 .7-5.4 .2 6.1 .3 .4 .2 .1 .2 5.3 .7 .5 .3-2.7 .2 .9 .2 3.9 .3 0 .7-5.7 .2-3.3 .2 6.3 .3 2.6 .2-1.6 .7 3.9 .2 1.6 .3-3.5 .2-4.5 .2 2.3 .7-.4 .3 4.1 .2-1.4 .2-.8 .3 1.8 .7 .1 .2-4.6 .2 7.4 .3 3.2 .2 1 .7 4.3 .2 1.1 .3 1.7 .2-2.6 .2 .4 .7-10.9 .3-3.6 .2 7 .2 2 .3 .1 .7 4.3 .2-4.9 .2 1.1 .3-4.3 .2 .6 .7-7.5 .2-.9 .3-.6 .2 .4 .2 3.9 .7 6 .3 3.6 .2 5 .2-2.6 .3-2 .7-2.4 .2-2.9 .2 2.4 .3 6.2 .2-3 .7-3.7 .2-1.4 .3-.5 .2 .7 .2 4.6 .7 5.2 .3 3.4 .2 .7 .2 3.2 .3 .1 .7 1.9 .2 2.4 .2-.7 .3-4.2 .2 3.7 .7 .7 .2-1.5 .3 2.6 .2 5.3 .2-.5 .7 .6 .3-1.3 .2-.9 .2 3.8 .3-7.5 .7-.6 .2 .1 .2-3.7 .3-3.6 .2-1.7 .7-2.6 .2-2.3 .3-1.6 .2 1.8 .2-.9 .7-2.6 .3-1.4 .2-.4 .2 2.3 .3-1.7 .7-1.4 .2 0 .2 5.6 .3 .1 .2-3.2 .7 6.9 .2 5.1 .3 3 .2 .3 .2 .2 .7-3.3 .3-1.5 .2 1.1 .2-5.5 .3-3.4 .7 1.6 .2-.2 .2-2.6 .3 5.6 .2 .8 .7-4.3 .2 .4 .3-.9 .2-.3 .2-1.1 .7 .9 .3 2.7 .2 4.1 .2 1.4 .3-3.1 .7-3.1 .2-1.1 .2 3.3 .3 5.2 .2-1.2 .7 .3 .2 .3 .3 .5 .2 3 .2-1.6 .7 14.8 .3 3.7 .2-.7 .2 1 .3-3.3 .7 .4 .2 .1 .2 .4 .3 4.1 .2-2.9 .7-1.2 .2-2.1 .3 2.9 .2 2.5 .2 .5 .7 5.8 .3 2.3 .2-2.1 .2 .5 .3-.7 .7-1 .2 1.6 .2-1.7 .3 .5 .2-5.2 .7 .7 .2 5.8 .3 2.1 .2 1.8 .2-4.7 .7-1.7 .3 3.4 .2 1.1 .2-2.8 .3-2.2 .7 2.5 .2 .8 .2 4.8 .3 2.4 .2 1.9 .7 5.4 .2-.9 .3 2.8 .2-3 .2 1.7 .7 .4 .3 1.2 .2-.9 .2-3.2 .3-2.8 .7-2.8 .2-1.2 .2 2.3 .3-.4 .2-2 .7-.3 .2 3.8 .3 4.6 .2 1.6 .2 2.4 .7 1.9 .3-.9 .2 .4 .2-1.2 .3-.4 .7-5.8 .2 2.4 .2-3.9 .3 .9 .2-1 .7-.5 .2-.8 .3 3.7 .2-4.2 .2-1.3 .7-3.8 .3 3.5 .2-2.6 .2 1.9 .3-1 .7 3.9 .2 2.4 .2 4.9 .3-4.2 .2 .5 .7-6.1 .2-2.1 .3-3.3 .2 4.2 .2 3.7 .7 4.9 .3 4.6 .2 .7 .2 1.7 .3 .6 .7 2 .2 .3 .2 .1 .3 1.1 .2 3.2 .7 .1 .2-3.4 .3-2.3 .2-1.4 .2-7.9 .7-6.1 .3-.6 .2 1.8 .2-2.4 .3-4.5 .7-3.7 .2 1.5 .2-.9 .3-1.8 .2 1.2 .7-.3 .2 2.3 .3-5.9 .2-4.7 .2 1.3 .7 15.2 .3 3.6 .2 3.6 .2 4.7 .3 1.1 .7-2.7 .2-1.8 .2 .6 .3 .9 .2 3 .7 3.3 .2-4.5 .3 2.2 .2-.4 .2-.7 .7 3.2 .3-1.7 .2 7.3 .2 8.5 .3-.3 .7-.2 .2-1.5 .2-1.6 .3-.8 .2-.3 .7-9.4 .2 1.1 .3-3.8 .2-.2 .2-.3 .7-1.6 .3-2.2 .2-1 .2 1.5 .3 .2 .7 1.2 .2-4.9 .2 .4 .3-1.2 .2-2.1 .7-.7 .2 4.9 .3 1.7 .2 3.6 .2 2.7 .7 4.2 .3-2.7 .2-1.1 .2 .8 .3 2.2 .7-5.7 .2-.5 .2-3.1 .3-3.3 .2-.3 .7-3.1 .2-1.1 .3 4.8 .2-3 .2 1.6 .7 2.5 .3-.6 .2-3.6 .2-4.8 .3 .8 .7-1.6 .2 .2 .2-3.1 .3-2 .2-.9 .7 2.4 .2 1.7 .3 1.8 .2 2.8 .2 4.2 .7 1.7 .3-.1 .2-.4 .2 1 .3-.8 .7 2.6 .2-.9 .2 .7 .3-3.2 .2 4.5 .7-7.6 .2-1.4 .3 2 .2-2.3 .2 .3 .7-1.5 .3 .4 .2-.6 .2-.3 .3-.6 .7-3.7 .2-3.3 .2-3.6 .3-1.5 .2 3.1 .7 4.9 .2 1.4 .3 1.5 .2 2 .2 .7 .7-1.8 .3-3.3 .2 1 .2-1.2 .3-.2 .7 9.6 .2 .7 .2 1.3 .3-2.9 .2-3.3 .7-10 .2-.9 .3 3 .2 1.7 .2 .1 .7-3 .3-4.4 .2-4.6 .2-2.2 .3-.2 .7-3.6 .2-3.5 .2-2.1 .3-1.6 .2-7.4 .7-6.5 .2 .5 .2-4.4 .3 .9 .2-.5 .7 2.4 .2 1.3 .3 .9 .2-.9 .2-.5 .7-1.2 .3-3 .2-3.1 .2 2.2 .3-1.6 .7-12.3 .2-2.8 .2-8.6 .3-7.9 .2-.8 .7 .8 .2-1.3 .3 .3 .2 3.1 .2 7.7 .7-6.9 .3 3.3 .2-3.6 .2 3 .3-2.5 .7 10.2 .2 3.3 .2 2.4 .3 1.7 .2 6 .7 1.7 .2-.3 .3 3.6 .2 .3 .2 2.9 .7-.3 .3 3.5 .2-.4 .2-3.2 .3 2 .7-1.6 .2-5.6 .2-9 .3 1.8 .2-.6 .7 4.1 .2 2.4 .3-6.4 0-119.9 0 0-.3 0-.2 0-.7 0-.2 0-.3 0-.2 0-.2 0-.7 0-.3 0-.2 0-.2 0-.3 0-.7 0-.2 0-.2 0-.3 0-.2 0-.7 0-.2 0-.3 0-.2 0-.2 0-.7 0-.3 0-.2 0-.2 0-.3 0-.7 0-.2 0-.2 0-.3 0-.2 0-.7 0-.2 0-.3 0-.2 0-.2 0-.7 0-.3 0-.2 0-.2 0-.3 0-.7 0-.2 0-.2 0-.3 0-.2 0-.7 0-.2 0-.3 0-.2 0-.2 0-.7 0-.2 0-.3 0-.2 0-.2 0-.7 0-.3 0-.2 0-.2 0-.3 0-.7 0-.2 0-.2 0-.3 0-.2 0-.7 0-.2 0-.3 0-.2 0-.2 0-.7 0-.3 0-.2 0-.2 0-.3 0-.7 0-.2 0-.2 0-.3 0-.2 0-.7 0-.2 0-.3 0-.2 0-.2 0-.7 0-.3 0-.2 0-.2 0-.3 0-.7 0-.2 0-.2 0-.3 0-.2 0-.7 0-.2 0-.3 0-.2 0-.2 0-.7 0-.3 0-.2 0-.2 0-.3 0-.7 0-.2 0-.2 0-.3 0-.2 0-.7 0-.2 0-.3 0-.2 0-.2 0-.7 0-.3 0-.2 0-.2 0-.3 0-.7 0-.2 0-.2 0-.3 0-.2 0-.7 0-.2 0-.3 0-.2 0-.2 0-.7 0-.3 0-.2 0-.2 0-.3 0-.7 0-.2 0-.2 0-.3 0-.2 0-.7 0-.2 0-.3 0-.2 0-.2 0-.7 0-.3 0-.2 0-.2 0-.3 0-.7 0-.2 0-.2 0-.3 0-.2 0-.7 0-.2 0-.3 0-.2 0-.2 0-.7 0-.3 0-.2 0-.2 0-.3 0-.7 0-.2 0-.2 0-.3 0-.2 0-.7 0-.2 0-.3 0-.2 0-.2 0-.7 0-.3 0-.2 0-.2 0-.3 0-.7 0-.2 0-.2 0-.3 0-.2 0-.7 0-.2 0-.3 0-.2 0-.2 0-.7 0-.3 0-.2 0-.2 0-.3 0-.7 0-.2 0-.2 0-.3 0-.2 0-.7 0-.2 0-.3 0-.2 0-.2 0-.7 0-.3 0-.2 0-.2 0-.3 0-.7 0-.2 0-.2 0-.3 0-.2 0-.7 0-.2 0-.3 0-.2 0-.2 0-.7 0-.3 0-.2 0-.2 0-.3 0-.7 0-.2 0-.2 0-.3 0-.2 0-.7 0-.2 0-.3 0-.2 0-.2 0-.7 0-.3 0-.2 0-.2 0-.3 0-.7 0-.2 0-.2 0-.3 0-.2 0-.7 0-.2 0-.3 0-.2 0-.2 0-.7 0-.3 0-.2 0-.2 0-.3 0-.7 0-.2 0-.2 0-.3 0-.2 0-.7 0-.2 0-.3 0-.2 0-.2 0-.7 0-.3 0-.2 0-.2 0-.3 0-.7 0-.2 0-.2 0-.3 0-.2 0-.7 0-.2 0-.3 0-.2 0-.2 0-.7 0-.3 0-.2 0-.2 0-.3 0-.7 0-.2 0-.2 0-.3 0-.2 0-.7 0-.2 0-.3 0-.2 0-.2 0-.7 0-.3 0-.2 0-.2 0-.3 0-.7 0-.2 0-.2 0-.3 0-.2 0-.7 0-.2 0-.3 0-.2 0-.2 0-.7 0-.3 0-.2 0-.2 0-.3 0-.7 0-.2 0-.2 0-.3 0-.2 0-.7 0-.2 0-.3 0-.2 0-.2 0-.7 0-.3 0-.2 0-.2 0-.3 0-.7 0-.2 0-.2 0-.3 0-.2 0-.7 0-.2 0-.3 0-.2 0-.2 0-.7 0-.3 0-.2 0-.2 0-.3 0-.7 0-.2 0-.2 0-.3 0-.2 0-.7 0-.2 0-.3 0-.2 0-.2 0-.7 0-.3 0-.2 0-.2 0-.3 0-.7 0-.2 0-.2 0-.3 0-.2 0-.7 0-.2 0-.3 0-.2 0-.2 0-.7 0-.3 0-.2 0-.2 0-.3 0-.7 0-.2 0-.2 0-.3 0-.2 0-.7 0-.2 0-.3 0-.2 0-.2 0-.7 0-.3 0-.2 0-.2 0-.3 0-.7 0-.2 0-.2 0-.3 0-.2 0-.7 0-.2 0-.3 0-.2 0-.2 0-.7 0-.3 0-.2 0-.2 0-.3 0-.7 0-.2 0-.2 0-.3 0-.2 0-.7 0-.2 0-.3 0-.2 0-.2 0-.7 0-.3 0-.2 0-.2 0-.3 0-.7 0-.2 0-.2 0-.3 0-.2 0-.7 0-.2 0-.3 0-.2 0-.2 0-.7 0-.3 0-.2 0-.2 0-.3 0-.7 0-.2 0-.2 0-.3 0-.2 0-.7 0-.2 0-.3 0-.2 0-.2 0-.7 0-.3 0-.2 0-.2 0-.3 0-.7 0-.2 0-.2 0-.3 0-.2 0-.7 0-.2 0-.3 0-.2 0-.2 0-.7 0-.3 0-.2 0-.2 0-.3 0-.7 0-.2 0-.2 0-.3 0-.2 0-.7 0-.2 0-.3 0-.2 0-.2 0-.7 0-.3 0-.2 0-.2 0-.3 0-.7 0-.2 0-.2 0-.3 0-.2 0-.7 0-.2 0-.3 0-.2 0-.2 0-.7 0-.3 0-.2 0-.2 0-.3 0-.7 0-.2 0-.2 0-.3 0-.2 0-.7 0-.2 0-.3 0-.2 0-.2 0-.7 0-.3 0-.2 0-.2 0-.3 0-.7 0-.2 0-.2 0-.3 0-.2 0-.7 0-.2 0-.3 0-.2 0-.2 0-.7 0-.3 0-.2 0-.2 0-.3 0-.7 0-.2 0-.2 0-.3 0-.2 0-.7 0-.2 0-.3 0-.2 0-.2 0-.7 0-.3 0-.2 0-.2 0-.3 0-.7 0-.2 0-.2 0-.3 0-.2 0-.7 0-.2 0-.3 0-.2 0-.2 0-.7 0-.3 0-.2 0-.2 0-.3 0-.7 0-.2 0-.2 0-.3 0-.2 0-.7 0-.2 0-.3 0-.2 0-.2 0-.7 0-.3 0-.2 0-.2 0-.3 0-.7 0-.2 0-.2 0-.3 0-.2 0-.7 0-.2 0-.3 0-.2 0-.2 0-.7 0-.3 0-.2 0-.2 0-.3 0-.7 0-.2 0-.2 0-.3 0-.2 0-.7 0-.2 0-.3 0-.2 0-.2 0-.7 0-.3 0-.2 0-.2 0-.3 0-.7 0-.2 0-.2 0-.3 0-.2 0-.7 0-.2 0-.3 0-.2 0-.2 0-.7 0-.3 0-.2 0-.2 0-.3 0-.7 0-.2 0-.2 0-.3 0-.2 0-.7 0-.2 0-.3 0-.2 0-.2 0-.7 0-.3 0-.2 0-.2 0-.3 0-.7 0-.2 0-.2 0-.3 0-.2 0-.7 0-.2 0-.3 0-.2 0-.2 0-.7 0-.3 0-.2 0-.2 0-.3 0-.7 0-.2 0-.2 0-.3 0-.2 0-.7 0-.2 0-.3 0-.2 0-.2 0-.7 0-.3 0-.2 0-.2 0-.3 0-.7 0-.2 0-.2 0-.3 0-.2 0-.7 0-.2 0-.3 0-.2 0-.2 0-.7 0-.3 0-.2 0-.2 0-.3 0-.7 0-.2 0-.2 0-.3 0-.2 0-.7 0-.2 0-.3 0-.2 0-.2 0-.7 0-.3 0-.2 0-.2 0-.3 0-.7 0-.2 0-.2 0-.3 0-.2 0-.7 0-.2 0-.3 0-.2 0-.2 0-.7 0-.3 0-.2 0-.2 0-.3 0-.7 0-.2 0-.2 0-.3 0-.2 0-.7 0-.2 0-.3 0-.2 0-.2 0-.7 0-.3 0-.2 0-.2 0-.3 0-.7 0-.2 0-.2 0-.3 0-.2 0-.7 0-.2 0-.3 0-.2 0-.2 0-.7 0-.3 0-.2 0-.2 0-.3 0-.7 0-.2 0-.2 0-.3 0-.2 0-.7 0-.2 0-.3 0-.2 0-.2 0-.7 0-.3 0-.2 0-.2 0-.3 0-.7 0-.2 0-.2 0-.3 0-.2 0-.7 0-.2 0-.3 0-.2 0-.2 0-.7 0-.3 0-.2 0-.2 0-.3 0-.7 0-.2 0-.2 0-.3 0-.2 0-.7 0-.2 0-.3 0-.2 0-.2 0-.7 0-.3 0-.2 0-.2 0-.3 0-.7 0-.2 0-.2 0-.3 0-.2 0-.7 0-.2 0-.3 0-.2 0-.2 0-.7 0-.3 0-.2 0-.2 0-.3 0-.7 0-.2 0-.2 0-.3 0-.2 0-.7 0-.2 0-.3 0-.2 0-.2 0-.7 0-.3 0-.2 0-.2 0-.3 0-.7 0-.2 0-.2 0-.3 0-.2 0-.7 0-.2 0-.3 0-.2 0-.2 0-.7 0-.3 0-.2 0-.2 0-.3 0-.7 0-.2 0-.2 0-.3 0-.2 0-.7 0-.2 0-.3 0-.2 0-.2 0-.7 0-.3 0-.2 0-.2 0-.3 0-.7 0-.2 0-.2 0-.3 0-.2 0-.7 0-.2 0-.3 0-.2 0-.2 0-.7 0-.3 0-.2 0-.2 0-.3 0-.7 0-.2 0-.2 0-.3 0-.2 0-.7 0-.2 0-.3 0-.2 0-.2 0-.7 0-.3 0-.2 0-.2 0-.3 0-.7 0-.2 0-.2 0-.3 0-.2 0-.7 0-.2 0-.3 0-.2 0-.2 0-.7 0-.3 0-.2 0-.2 0-.3 0-.7 0-.2 0-.2 0-.3 0-.2 0-.7 0-.2 0-.3 0-.2 0-.2 0-.7 0-.3 0-.2 0-.2 0-.3 0-.7 0-.2 0-.2 0-.3 0-.2 0-.7 0-.2 0-.3 0-.2 0-.2 0-.7 0-.3 0-.2 0-.2 0-.3 0-.7 0-.2 0-.2 0-.3 0-.2 0-.7 0-.2 0-.3 0-.2 0-.2 0-.7 0-.3 0-.2 0-.2 0-.3 0-.7 0-.2 0-.2 0-.3 0-.2 0-.7 0-.2 0-.3 0-.2 0-.2 0-.7 0-.3 0-.2 0-.2 0-.3 0-.7 0-.2 0-.2 0-.3 0-.2 0-.7 0-.2 0-.3 0-.2 0-.2 0-.7 0-.3 0-.2 0-.2 0-.3 0-.7 0-.2 0-.2 0-.3 0-.2 0-.7 0-.2 0-.3 0-.2 0-.2 0-.7 0-.3 0-.2 0-.2 0-.3 0-.7 0-.2 0-.2 0-.3 0-.2 0-.7 0-.2 0-.3 0-.2 0-.2 0-.7 0-.3 0-.2 0-.2 0-.3 0-.7 0-.2 0-.2 0-.3 0-.2 0-.7 0-.2 0-.3 0-.2 0-.2 0-.7 0-.3 0-.2 0-.2 0-.3 0-.7 0-.2 0-.2 0-.3 0-.2 0-.7 0z"/></defs><g clip-path="url(#pd025329bad)"><use href="#md90def9ca8" x="0" y="1503.25" class="c31"/></g><path d="M920.64 956.53v-210.72" class="c16"/><path d="M962.88 956.53v-210.72" class="c16"/><path d="M1006.08 956.53v-210.72" class="c16"/><path d="M1048.32 956.53v-210.72" class="c16"/><path d="M1091.04 956.53v-210.72" class="c16"/><path d="M1133.76 956.53v-210.72" class="c16"/><path d="M1176.48 956.53v-210.72" class="c16"/><path d="M1218.72 956.53v-210.72" class="c16"/><path d="M1261.92 956.53v-210.72" class="c16"/><path d="M903.84 950.29l364.32 0" class="c16"/><text x="896.98" y="954.28" textLength="21.1" lengthAdjust="spacingAndGlyphs" class="c0">−60</text><path d="M903.84 916.21l364.32 0" class="c16"/><text x="896.98" y="920.19" textLength="21.1" lengthAdjust="spacingAndGlyphs" class="c0">−50</text><path d="M903.84 882.13l364.32 0" class="c16"/><text x="896.98" y="886.1" textLength="21.1" lengthAdjust="spacingAndGlyphs" class="c0">−40</text><path d="M903.84 848.05l364.32 0" class="c16"/><text x="896.98" y="852.01" textLength="21.1" lengthAdjust="spacingAndGlyphs" class="c0">−30</text><path d="M903.84 813.97l364.32 0" class="c16"/><text x="896.98" y="817.92" textLength="21.1" lengthAdjust="spacingAndGlyphs" class="c0">−20</text><path d="M903.84 779.89l364.32 0" class="c16"/><text x="896.98" y="783.83" textLength="21.1" lengthAdjust="spacingAndGlyphs" class="c0">−10</text><path d="M903.84 745.81l364.32 0" class="c16"/><text x="896.98" y="749.74" textLength="6.36" lengthAdjust="spacingAndGlyphs" class="c0">0</text><text x="869.88" y="851.3" transform="rotate(-90 869.88 851.3)" textLength="65.78" lengthAdjust="spacingAndGlyphs" class="c4">Drawdown %</text><path d="M920.6 745.9l.7 5.4 .2 6.9 .3 2.4 .4 11.1 .7-3.6 .3 2 .2-.3 .2 4.2 .3 9.7 .7-.1 .7 8.9 .2-.3 .7 4.6 .2-2.6 .3 .9 .2 11 .2 5.3 1-22.8 .2 2.6 .2 1.1 .3-.7 .7-5.7 .4 1.1 .3 7.8 .2 2.5 .7 4.4 .5-5.4 .2 1.3 .2 2.2 .7 11.4 .5 9.2 .2-1.9 1.2-19.5 .2-2 .5 14.6 .7 1.9 .2 1.7 .5-10.3 .2-1.3 .7-2.6 .5-22.4 .2-5 .3-1.8 .7 5.6 .7 8.6 .2 2.3 1.2-21.6 .2 .8 .2-.1 .7-10 .3-1 .4-.8 .3 .9 .7 21.4 .4 1.9 .3-8.3 .2-4 .9-7 .5 6.6 .2 3.1 .7 5.6 .7 12.3 .3-1.7 .7 .3 .9 26 .7 23.1 .2 3.6 .3 5.7 .2-5.3 .2-2.7 1.4-12.3 .3-5.2 .7 2.7 .4 7.8 .3-2.2 .2 1.5 .7-.1 .2-2.7 .5-1.4 .2-.2 .7-6.5 .3 2.8 .4 12.5 .3 .1 .9 17 .5 6.1 1.1-16.5 .3-6.9 .4-22.8 .7 .8 .3 4.7 .2-1.5 .2-3.5 .3-5.5 .9-11.6 .2 1.2 .3-2.1 .2 3.8 .7 4 .7-5 .2-1.8 1-9.4 .2-.7 .2-5.4 1.2-6.5 .7 11.1 .7-.3 .2 3.4 .3 0 .2-.5 1.2-21.5 .2-2.5 .5 5.9 .7 .2 .2-2.1 .2 2 .5 8.3 .7 2.3 .7 9.2 .2-2.5 .7 .1 .3 .2 .2-.5 .2-2.5 .3-1.1 .7-1.5 .2-2.5 .7-12 .7 5.4 .2 3.6 .3 .3 .2-.6 .2 6.1 .7 3.7 .3 2 .2 6.4 .2 2.3 1 15.2 .2 5.1 .5-11.4 .2-.8 .7-15.9 .2-.2 .3-7.6 .4-4.3 .7 2.2 .5 6.5 .5-9.6 .7-8.1 .2 1.7 .2 6.4 .3 .9 .2 3.6 .9-29 .3 0 .2 1.7 .2 0 .7 3 .7-8.2 .3 .6 .7 5.3 .2 3.2 .5-2.6 .2 5.4 1.2-11.1 .2-.8 1.9 0 .7 1.3 .2 .1 .5 6 .2-1.5 .7-5.9 .2 11.9 .7-7.4 .7-4.5 1 22.5 .7 8.1 .2-.1 .2 .3 .3 .7 .2 3.3 .7 1.8 .2 2.6 .3-3.5 .2 1.5 .2-1.6 .7-3 .3 .3 .2-3.5 .2-.1 .3 .2 .7-4.1 .4 5.6 .5 20.1 .9 3.7 .3-1.7 .2 3.2 .2-3.1 .7-1.6 .3 4.3 .4 4.1 .3 .1 .7-.9 .4 3.6 .3 0 .2 .7 .7-4.6 .2-4.4 .3-.5 .2-4 .2 3.9 1 3.8 .2-.9 .2-2 .3-3.6 .7 3.7 .4 5 .5 9.9 .7 6.8 .2 .4 .3-1.7 .2 1 .2 3.4 .7 3.5 .3 3.9 .2 0 .2 .3 .3-.1 .7-4.2 .2-2.6 .2 3.8 .3-4.5 .2 2.1 .9-6.4 .3-1.3 .2-2.3 .2-.8 1-4.5 .2 1.4 .2-1.7 .3 2 .7-2.5 .2 2.1 .2-1.8 .3-.5 .2-6 .7-6.4 .2-7.2 .3-3 .2 .4 .2-7.9 .7-.4 .3 1.4 .2 7.2 .2 2.3 .3-3.3 .7-2.8 .2-5.4 .2 3.5 .3 .1 .2 5.1 .9 3.4 .3 .1 .2-.8 .2-1.7 .7 9.7 .3-.4 .2-2.5 .5-14.5 .7-.9 .2 0 .5 8.6 .2 2.2 .7-11.8 .2-.6 .3 2.1 .2 .1 .2 6.9 .7 6.7 .3-.9 .2 .6 .2 6.3 .3-4.2 .7 1.9 .4 5.5 .3-1.9 .2 .6 .7 1.2 .2-1.4 .3 3.2 .2-1.8 .2 2.8 .7 1.1 .3-1.2 .2 .2 .2-.6 .3 3 .7 6.4 .4-2.6 .3 .4 .2-.5 .7-2.1 .2-3.2 .3 .4 .2-1.9 .2 5 .7-6.3 .3-4.3 .2 1 .5-8.8 .7-4 .2 3.2 .2-6.6 .3 3.5 .2-4.3 .9 16.8 .5-6.3 .2-9.1 .7 1.8 .3 10.5 .2 5 .2 8.3 .3 2.8 .9-4.5 .5 2.6 .2-.3 .7 3.8 .7 8 .2-1 .7-5.3 .3-2.6 .2 0 .2-3.6 .3 1.6 .9-11.9 .2 .6 .5 4.7 .7 3.4 .2-1.8 .3 2.5 .2-2 .2 .1 .7 4 .5-2.7 .2-2.9 .3 4.6 .7 8.4 .4-5.6 .3 .1 .2-.4 .9 12.3 .3 1 .2-1.2 .2 .4 .7 11.5 .3-2.3 .2-.3 .2-2.3 .3-5 .7 2.5 .4 8 .3 9.7 .2 1.9 .9 15.4 .5 10.6 .2 1.6 1 2.9 .2 1.4 .2-1.5 .3 .1 .7-.9 .2 .1 .2 2 .3 .3 .2-2.1 .7-13.8 .7-5.9 .2 4.3 .7-4.9 .5-6.8 .5-4.8 .9 8.4 .2 4.3 .3 1.6 .2 .2 .7-1.2 .2 3.6 .7-7.2 1-6 .2-.2 .2-5.3 .3 3.6 .7 2.4 .2 8 .2 3.7 .3-1.1 .2 .7 .7-7.3 .2 5.9 .3-.9 .2 1.9 .2-3.6 .7-.5 .3-3.5 .2-1.5 .2 .9 .3 3.7 .7-3.4 .2-2.5 .2 3.2 .3-.1 .9-10.1 .2 3.2 .3 1.1 .2 2.5 .2 4.8 .7 10.2 .3 5.6 .2 1.1 .2 2.7 .3 .6 .7-.3 .2 2.1 .5 8.7 .2-4.5 .7-2.2 .2-2.7 .3 .1 .2 1.4 .2 4.3 .7 .1 .3-3.6 .4 .3 .3 2 .9 10.4 .2-5.4 .3-2.4 .2-3.7 .7-4.5 .2-4.3 .3-1.7 .2 2.1 .2 .9 .7-2.3 .3 3.1 .2 7.1 .5-3.6 .7-1.2 .2-2.2 .2-8.9 .5-4.3 .7-5.3 .2 6.1 .3 .4 .2 0 .2 5.4 .7 .5 .3-2.7 .2 .8 .2 4 .3-.1 .7-5.6 .2-3.4 .2 6.3 .3 2.6 .2-1.5 .9 5.4 .5-7.9 .2 2.3 .7-.4 .3 4 .4-2.1 .3 1.8 .7 0 .2-4.6 .2 7.4 .3 3.3 .2 .9 1.2 7.2 .2-2.7 .2 .5 1-14.5 .2 6.9 .2 2.1 .3 .1 .7 4.2 .2-4.9 .2 1.1 .3-4.2 .2 .5 .7-7.5 .5-1.4 .2 .3 .2 4 .7 6 .5 8.6 .5-4.7 .7-2.3 .2-3 .2 2.5 .3 6.2 .2-3 .9-5.2 .3-.5 .2 .8 .2 4.6 .7 5.1 .3 3.5 .2 .7 .2 3.2 .3 .1 .7 1.9 .2 2.3 .2-.7 .3-4.1 .2 3.6 .7 .8 .2-1.6 .3 2.6 .2 5.3 .2-.5 .7 .6 .5-2.1 .2 3.7 .3-7.4 .7-.6 .2 .1 .5-7.3 .2-1.8 .7-2.6 .5-3.8 .2 1.8 .9-3.6 .3-1.4 .2-.3 .2 2.3 .3-1.8 .7-1.3 .2 0 .2 5.6 .3 0 .2-3.2 .7 7 .5 8.1 .4 .4 1-4.8 .2 1.2 .5-8.9 .7 1.6 .2-.2 .2-2.7 .3 5.7 .2 .8 .7-4.4 .2 .4 .3-.9 .2-.3 .2-1.1 .7 .9 .7 8.3 .3-3.1 .9-4.2 .2 3.2 .3 5.2 .2-1.1 .7 .2 .5 .9 .2 3 .2-1.6 1 18.5 .2-.7 .2 .9 .3-3.3 1.1 .9 .3 4.1 .2-2.9 .7-1.1 .2-2.2 .5 5.4 .2 .6 1 8 .2-2 .2 .5 .3-.8 .7-1 .2 1.7 .2-1.8 .3 .6 .2-5.2 .7 .7 .2 5.8 .5 3.8 .2-4.6 .7-1.8 .3 3.5 .2 1 .5-4.9 .9 3.3 .2 4.8 .5 4.2 .7 5.4 .2-.8 .3 2.7 .2-3 .2 1.7 .7 .5 .3 1.2 .2-.9 .5-6.1 .9-3.9 .2 2.2 .3-.3 .2-2.1 .7-.3 .7 10.1 .2 2.4 .7 1.8 .3-.9 .2 .4 .2-1.1 .3-.4 .7-5.8 .2 2.4 .2-4 .3 1 .2-1.1 .7-.4 .2-.8 .3 3.7 .2-4.2 .9-5.1 .3 3.4 .2-2.5 .2 1.8 .3-.9 .7 3.8 .2 2.4 .2 4.9 .3-4.1 .2 .4 .9-8.1 .3-3.3 .4 7.9 .7 4.9 .3 4.6 .2 .7 .2 1.7 1.2 2.8 .2 .2 .3 1.1 .2 3.1 .7 .1 .5-5.6 .2-1.4 .2-8 .7-6 .3-.7 .2 1.8 .2-2.4 .3-4.5 .7-3.6 .2 1.5 .2-1 .3-1.8 .2 1.3 .7-.3 .2 2.2 .5-10.5 .2 1.3 1 18.7 .7 9.5 .7-2.7 .2-1.9 .2 .6 .3 1 .2 3 .7 3.2 .2-4.4 .3 2.2 .4-1.2 .7 3.3 .3-1.8 .4 15.9 .3-.3 .7-.3 .7-3.8 .2-.4 .7-9.3 .2 1.1 .3-3.8 .4-.5 .7-1.6 .3-2.3 .2-1 .2 1.6 .3 .1 .7 1.2 .2-4.8 .2 .3 .3-1.2 .2-2 .7-.8 .2 4.9 .3 1.8 .4 6.2 .7 4.2 .3-2.7 .2-1 .2 .7 .3 2.2 .7-5.6 .2-.5 .5-6.4 .2-.4 .9-4.1 .3 4.8 .2-3 .2 1.6 .7 2.5 .3-.6 .4-8.4 .3 .7 .7-1.5 .2 .1 .5-5 .2-1 .7 2.5 .5 3.5 .4 6.9 .7 1.7 .3-.1 .2-.3 .2 .9 .3-.7 .7 2.5 .2-.9 .2 .7 .3-3.1 .2 4.5 .9-9 .3 1.9 .2-2.3 .2 .4 .7-1.5 .3 .4 .7-1.5 .7-3.7 .7-8.5 .2 3.1 1.4 9.9 .2 .6 .7-1.7 .3-3.4 .2 1 .2-1.1 .3-.2 .7 9.5 .2 .8 .2 1.2 .5-6.2 .7-10 .2-.9 .5 4.7 .2 .2 .7-3 .7-11.3 .3-.1 .7-3.6 .4-5.6 .3-1.7 .2-7.3 .7-6.5 .2 .5 .2-4.4 .3 .8 .2-.4 .7 2.4 .5 2.1 .4-1.3 .7-1.2 .5-6.1 .2 2.2 .3-1.7 .9-15.1 .5-16.5 .2-.8 .7 .8 .2-1.2 .3 .2 .2 3.1 .2 7.7 .7-6.8 .3 3.2 .2-3.5 .2 2.9 .3-2.5 1.1 15.9 .3 1.8 .2 6 .7 1.6 .2-.3 .3 3.7 .2 .3 .2 2.9 .7-.4 .3 3.5 .2-.3 .2-3.3 .3 2.1 .7-1.7 .2-5.6 .2-8.9 .3 1.7 .2-.6 .7 4.1 .2 2.5 .3-6.4 0 0" clip-path="url(#pd025329bad)" style="fill:none;stroke:#ff0000;stroke-linecap:square"/><path d="M903.84 956.53v-210.72" class="c1"/><path d="M1268.16 956.53v-210.72" class="c1"/><path d="M903.84 956.53l364.32 0" class="c1"/><path d="M903.84 745.81l364.32 0" class="c1"/><text x="1086.11" y="739.9" textLength="282.32" lengthAdjust="spacingAndGlyphs" class="c6">GMAB: Drawdown (%), min drawdown -61.79%</text><path d="M43.68 1197.97l364.32 0 0-210.72-364.32 0z" class="c5"/><path d="M60.48 1197.97v-210.72" class="c23"/><path d="M102.72 1197.97v-210.72" class="c23"/><path d="M145.92 1197.97v-210.72" class="c23"/><path d="M188.16 1197.97v-210.72" class="c23"/><path d="M230.88 1197.97v-210.72" class="c23"/><path d="M273.12 1197.97v-210.72" class="c23"/><path d="M316.32 1197.97v-210.72" class="c23"/><path d="M358.56 1197.97v-210.72" class="c23"/><path d="M401.28 1197.97v-210.72" class="c23"/><path d="M43.68 1194.61l364.32 0" class="c23"/><text x="36.7" y="1198.39" textLength="15.9" lengthAdjust="spacingAndGlyphs" class="c0">0.5</text><path d="M43.68 1156.21l364.32 0" class="c23"/><text x="36.7" y="1160.25" textLength="15.9" lengthAdjust="spacingAndGlyphs" class="c0">1.0</text><path d="M43.68 1118.29l364.32 0" class="c23"/><text x="36.7" y="1122.12" textLength="15.9" lengthAdjust="spacingAndGlyphs" class="c0">1.5</text><path d="M43.68 1080.37l364.32 0" class="c23"/><text x="36.7" y="1083.98" textLength="15.9" lengthAdjust="spacingAndGlyphs" class="c0">2.0</text><path d="M43.68 1041.97l364.32 0" class="c23"/><text x="36.7" y="1045.84" textLength="15.9" lengthAdjust="spacingAndGlyphs" class="c0">2.5</text><path d="M43.68 1004.05l364.32 0" class="c23"/><text x="36.7" y="1007.71" textLength="15.9" lengthAdjust="spacingAndGlyphs" class="c0">3.0</text><text x="14.88" y="1092.5" transform="rotate(-90 14.88 1092.5)" textLength="56.71" lengthAdjust="spacingAndGlyphs" class="c4">Normalized</text><path d="M60.3 1156.4l.7 2.1 .3 1.2 .2 .1 .5-1.4 .7 .8 .2-.4 .2-1.5 .3-.2 .2-10.3 .7 .7 .2 0 .3 .2 .2-.1 .2-.3 .7-8 .3 1.5 .2 .2 .2 .8 .3 .2 .7 .2 .2-1 .7 1.5 .7-.4 .2 .1 .5-2.3 .2-6.8 1 1.7 .2 .8 .5-1 .7-3.3 .2 1.8 .2 .4 .3-.5 .2 2.2 .9-3.4 .3-2.2 1.1 7.8 .3 1.7 .2-.8 .5-3.7 .7 3.3 .2-.6 .5 4.4 .2-1.8 .7-2.4 .2-1.6 .5-4.5 .2-.4 .7 2 .3-.5 .2-1.6 .2-.4 .3-5.1 .7 1.7 .2 .1 .2 .5 .5-1.2 .7-5.1 .2 3.8 .3 .8 .2 2.5 .2 1.4 .7-1.6 .3-1.4 .2 .2 .2 2.4 .3 4.2 .9 6.1 .2-1 .5-.5 .7 2.9 .2-1.4 .3-3.3 .2-1.2 .9 4.6 .5-4.7 .5-3.2 .7-3 .2-.2 .2-2.4 .3-1 .9-6 .2 6.4 .5 6.1 .2 .1 1.2 4 .2 .4 .3-.9 .7-.8 .2 .3 .5 1.8 .2 2.1 1.6 11.9 .7 3.6 .3 .5 .2-.5 .2 1.8 .3-.2 .7-5.2 .2-.6 .2-.2 .3 .1 .2 1.5 .7 3.3 .2 0 .3-.2 .2-.6 .2-1.8 .7 0 .3 2.1 .7 3.1 1.1-4.4 1.2-9.9 .9-9.3 .7 .2 .5 2.2 .2-.8 .3-1.2 1.1-8.6 .3-.3 .2 3.5 .7 7.7 .2 .3 .3-2.5 .2 .3 .2-.9 .7-2.2 .3-.3 .2 .1 .2-1.3 .3-.5 .7-2.3 .2 1 .2 0 .5 4.8 .9 3.2 .3 .7 .2-.3 .2 .3 .7-.3 .5 3.6 .2 .8 .3-.3 .9-1.8 .2-.3 .3-1.1 .2 0 .9 10.2 .3-.3 .4 .2 .7-3.1 1-11.5 .7-.6 .2 2.4 .2 .4 .3 0 .2-1.3 .7-2.6 .7-5.9 .2-4.5 .7 6.6 .5 7 .2 3 .3 .6 .7 4.9 .2 .2 .2 .7 .3-.5 .2-.1 .7 3.3 .5 4.7 .4 2.5 .7-1.5 .3-1 .2-2 .2 .5 1 3.9 .4 7.1 .3-1.5 .2 .2 .7-1.1 .2-3.1 .7-4 .7 1.9 .5 2.8 .2 0 1.9 12.7 .7-2.2 .9-9 .7-1.5 .3 .2 .2 .8 .2-.6 .3 1.1 .7 5 .2 3.2 .2-1.4 .3-.2 .2-1.6 .9-2.8 .5-4.2 .2-.8 .7-.6 .3 .3 .2 1 .2 .2 1-7.2 .2 .2 .2 1 .3-.2 .2 2.5 .7 1.4 .2 0 .5 .9 .2 1.9 1-.5 .2-.7 .2-2.1 .3 .2 .7-2 .2-1.5 .7 2.6 .7 1.3 .2 1.2 .3-.9 .2-1.7 .2-.5 1 4.1 .2 .3 .2 1.2 .3-.2 .9-3.6 .5 2.2 .2 2.5 .9 5.1 .3-.5 .2 .9 .2-2 .7 1.3 .3 .7 .2 .1 .2 1 .3 .4 .7-2.3 .4-.7 .3-1.3 .2-1.8 .7-2.7 .5 .9 .2-.2 .2 .9 .7-2.9 .3-1.6 .4-4.6 .3-.7 .7-.6 .2-1.9 .7 4.1 .7 .5 .2-.1 .3-.3 .2 2 .2 4.3 1 5.1 .2 .7 .2-.5 .3-1.7 .7-3.8 .2-3.6 .2-1.8 .3 .1 .2-.6 .7 .2 .2 1.4 .3-.5 .2 .8 .2 0 .7-.8 .3 .4 .2-.7 .2-1.5 .3 .9 .7 1.6 .2 1 .2-.2 .5-2.1 1.2-6.9 .2-2.7 .9-4.2 .3-.5 .2-.9 .2 1.4 .3-.4 .9-4.7 .5-3 .2 .8 .7 2.9 .5-.3 .4 2.5 .7 2.9 .3 .1 .2-.9 .2 1.6 1 0 .4-1.7 .5 2.3 .7-.4 .2-1 .3 1.6 .4-2 .7-4.2 .3-.3 .2-1 .5 3.4 .7-.1 .2-3.7 .2 1.5 .3 3.6 .2 1.1 .7 .6 .2 .4 .5-.6 .2 .1 1.2 1.9 .5-2.6 .7-1.3 .4-1.7 .3-2.4 .2-.3 .7 0 .9 3.2 .7-3 .5-2.7 .2-.1 .3-.4 .7-.4 .2 1.2 .2-.3 .3-1.1 .2-.1 .9-2.3 .3 1.9 .2 .4 .2-.6 .7 1.5 .5-.1 .2 1.4 .3-1 .7-.7 .2 3.3 .2 .8 .5 3.3 .7-3.5 .2-2.3 .3-1.2 .4-1.4 .7-4.7 .3-.8 .2-2.4 .2 .7 .3 1.7 .7 3 .2 2.4 .2-9.8 .3 9.5 .2 1.6 .7 1.2 .2 .1 .5-2.3 .2-1 .7-1.8 .3 .8 .2 2 .2 .4 .3-1.3 .7-2.1 .7-3.9 .2-.2 .7 .6 .2 .4 .7 3.9 .7 .5 .5 1.7 .2-1.5 .3-.8 .9 3.8 .2 2.6 .5 .5 .7-.9 .5-2.5 .2 .2 .2-1.9 1-1.7 .2-1.8 .2 1.6 .3-1.8 .9-3.3 .2-1.1 .3 .1 .2 1.2 .7-.4 .2-.9 .3-.3 .2-1.2 .2 .5 .7 3.2 .3 .2 .7-1.7 .7 .3 .2 1.2 .2-.3 .3 1.3 .2 .3 .7 1.1 .2-.1 .5-3.9 .2-3.3 1 1.6 .2 .4 .2 1.2 .3 0 .7-1.7 .2-5.6 .7 3.1 .7 .9 .4-1 .3-1.4 .2-3.1 1.6-1 .7 2 .5 3.2 .5 1.8 .7 .7 .2 .6 .2-1.3 .3 1.9 .2 .1 .7 12 .2-.6 .5-2.7 .2 .9 .7 .6 .3 2.5 .2-.4 .2-2.3 .3 1.3 .9-2.5 .2-.1 .3-.3 .9-3 .2-.1 .3-2.4 .2-.9 .2 .6 .7-1.1 .3-.7 .2-1.2 .2 1.5 .3 .3 .9 4.6 .2-1.2 .3-.2 .2 .8 .7-8.9 .2 .6 .5-1.1 .2-.8 .7-.1 .3 .4 .4 3.6 .3 .1 .7-1.4 .2-2.3 .2 .1 .3-1.3 .2 .1 .7 .7 .2 .4 .7 10.7 .7 4 .3-1.1 .2 .9 .2-.7 .3 1.4 .7-.5 .7-4.8 .2 .6 .7 2.5 .2-.3 .3 1.9 .4-.2 .7 4 .3 .4 .7 4.1 .7 2.2 .4-1.7 .5-3.2 .7-1.5 .2-1.4 .3-.1 .2-.3 .2 .9 .7-.1 .3-.2 .4-3.1 .3-1.7 .9-.8 .5 2.3 .2-1.3 .7 1 .2-1 .5 1.2 .2-.9 .7 2.2 .3-.1 .2 1.3 .5 1.1 .7 2.5 .4 3.4 .3 .2 .2 1.2 .7 .8 .5-3.2 .2-.9 .2-1.6 .7-1.9 1-5 .7 .3 .2 1.1 .2 1.8 .3-.1 .2 1.2 .9-7.7 .5 2.6 .2-1.3 .7 1.8 .3-.8 .7 4.1 .7 1.5 .2 .2 .2-.3 .3 .7 .2 .3 .7-2.7 .2 .4 .3 1.4 .2-.6 .2 .3 .7 .1 .3 1 .4-2.5 .3-.6 .7 2.5 .2-.7 .2-1.6 .3-.7 .2-1.4 .7-.7 .2-.7 .5 3.4 .2-.4 .7 2.8 .3-.8 .2-.2 .2 .3 .3 2.3 .9 3.4 .2 .3 .3-.1 .2 1.2 .7-1.3 .2 1.3 .3 .5 .2 1.8 .9-1.1 .3-1.2 .2 .8 .5-1.1 .7-.2 .2-.3 .2-.8 .3-2.3 .2 .6 .9-3.8 .3 .3 .4-1.9 .7 1.5 .3 .2 .2 .9 .2-.3 .3 1.1 .7 1 .4 2.1 .3 .4 .9-2.9 .5-1.8 .2-.1 .2 3.7 1 4.5 .2 1 .2 1.8 .3 .6 .7-.6 .2-1.2 .2 .3 .3 1.5 .2 .4 .7 .5 .2-.3 .3-1.9 .2-.7 .2 .2 1-1.1 .2-1.5 .5-1.3 .7 .1 .2 .6 .2-1.6 .3 0 .2 .8 .7-.8 .2 1.2 .7-4.3 .7 2.7 .5-.9 .2 0 .3-2.4 .7 1.4 .2 1.5 .2-.1 .3 .8 .9-.8 .2-.3 .3 .1 .4-1.7 1-5.6 .2 .7 .2-.6 1 4.6 .2-1.3 .7 3.1 .7 5.1 .5 1.4 .2 1.4 .2 .4 .7 .8 .3 .6 .2 .9 .2-1 1.2-8.8 .2 0 .3 1.7 .2-.1 .9-2.5 .3-.1 .2-.6 .2-1.1 .7-.7 .3-.7 .2 .6 1.4 17.9 .2 0 .3 1.6 1.4 4.8 .2-1.6 .2-.7 .7-1.3 .7-2.4 .3 1.3 .7 2 .7-1.1 .2-.4 .7 2.1 .5-1.8 .2 .7 .2 0 1-2.9 .2-2.6 .2-.5 .3 .1 .7 2.1 .2-.8 .2 .4 .3 2.2 .2-.5 .7-.1 .5-1.2 .2 .8 .2 .1 .7 2.2 .5 2 .2 .6 .3 .9 .9-2.7 .2 .6 .5-5.5 .7-6.7 .2 .2 .3 .4 .2 .8 .2-.6 .7-.3 .5 1.3 .5 3.4 .9-3.3 .2-2.4 .3 1.5 .2-.9 .7-.2 .2-.3 .3 .1 .2 .3 .2 0 .7 1.1 .3 1.7 .4 .9 .3 2.2 .7-.6 .2-.6 .5-1.7 .2 .2 .7-1.4 .2 1.3 .3-1.9 .4 .7 .7-.7 .3 .5 .2-.3 .2-1.4 .3 0 .9 5.9 .2-.4 .3 .2 .2-1.1 .7 2 .2 0 .3 .5 .2 1 .2-1 .7-2.2 .3 1.5 .2-1.7 .2 .2 1-.3 .2 .5 .2 .1 .3-.5 .2 .8 .7-1.7 .2-1.3 .3-.3 .2-.4 .2-.1 .7-.2 .3-.4 .2 .8 .2 .1 .3 .6 .7-1.4 .4-3.4 .3 0 .2-.3 .7 3.2 .2 1.7 .3 .7 .2 .2 .9 2.7 .5 2.8 .2 .1 .3 .5 .7-.4 .2 .3 .2 2.4 .5-2 .7-1.6 .5-1.8 .2 .7 .2 1.7 .7 .6 .3 .6 .2 1.1 .2 0 .3-1.6 .7-1 .2-.8 .2-1.4 .3 .2 .9-8.5 .2-.3 .5 1.1 .2 .4 .7 .6 .3 1 .2-1.2 0 0" clip-path="url(#pde26894b99)" style="fill:none;stroke:#7f7f7f;stroke-linecap:square"/><path d="M60.3 1156.4l1 .2 .7 .3 1.4 .2 .2-.4 .7-.4 .9-1.3 .7-.6 1-1.9 .7-.4 .9-1.5 .7-.3 .7-1.1 .2-.6 .7-.5 1-1.9 .7-.6 .9-1.7 .7-.5 .9-1.8 1.2-.3 .5-.5 2.3-.3 .5-.5 .4-.6 .7-.3 .7-.8 .3-.5 .7-.4 .9-1.5 .7-.6 .7-1 .2-.1 .7-.2 .7-.7 .3 0 .7 .2 .7 .7 .2 .1 .7 .3 .5 .3 .4 .1 1.2 .3 1.2-.4 .4-.6 .5-.7 1.4-1 .2 0 1 .2 .7 .4 .9 .1 .5 .2 .2 .3 .7 .4 .7 1.5 .2 .6 .7 .7 1 2.8 .7 .4 .9 1.6 .7 .5 .9 1.7 .7 .4 1 1.7 .7 .4 .7 .7 .2 .1 .7-.2 .5-.6 .4-.8 .7-.5 1-1.4 .7-.6 .9-2.4 .9-.3 .7-.7 .7-.3 1-1.3 .7-.4 .7-.9 .2-.2 1.6 0 1 .1 .7 .5 1.6 .2 .7 .3 .9 1.5 1 .3 .4-.2 .3-.3 1.1-.5 1.2-.6 .7-1.1 .2-.7 1.2-.5 1.2 .5 .9 1.1 .7 .4 .9 2.1 .7 .5 .7 1.2 .3 .4 .7 .4 .9 2.6 .7 .5 .5 .7 .4 .5 .7 .3 1 1.4 .7 .5 .9 2.7 .7 .6 .5 .9 .4 .4 1 .3 1.4 .7 .7 1.2 .2 .3 1.6 .3 1.7-.2 .7-.3 .7-.7 .2-.1 1.6-.1 1.4 0 1.2-.3 .7-.4 1.4 0 .2-.1 1 .1 .7 .3 1.4 0 .2 .2 .7 .3 .9 1.2 .7 .3 1 1.2 .7 .2 .7 .5 .2 0 2.3-.3 .5-.4 .5-.7 .7-.4 .7-1 .2-.3 .7-.1 .7-.5 .9 .3 1 .9 .7 0 .7-.5 .2-.2 .9-.3 .7-.3 1-.3 .7-.4 1.4-.2 .9-.4 .7-1.1 .2-.5 .7-.6 1-2.1 .7-.6 .9-2.7 .7-.5 .9-1.8 .7-.2 1-.8 .7-.1 .9-.7 .9-.2 .7-.4 .7-.3 1-1.1 .7-.2 .4-.5 .5-.2 2.6 0 .4 .1 1.2-.3 .5-.4 .2-.3 .7-.2 .7-.5 1.2-.5 .7-.9 .7-.3 .9-1 .7-.3 .5-.6 .4-.4 1-.3 .7-.4 1.1-.2 .5 .2 .9-.1 1.4-.8 1-1.5 .9-.3 .2-.5 .5-.1 1.4 0 .2-.1 2.4-.6 .7-.7 .2-.3 .7-.2 .5-.4 .4-.1 1.7-.1 .9 .2 .7 .6 1.6 .4 1-.2 .7-.4 .7-.2 .9-1.1 .7-.2 .9-1.1 1-.2 .7-.5 2.3-.4 .5-.1 2.1-1.2 .7-.1 .6-1 .3-.2 .7-.2 .7-.7 .2-.3 .7-.4 .9-1.4 1.7-.5 1.6 .1 .7 .5 .7 1.2 .2 .4 .7 .4 .7 1.1 .3 .4 .7 .3 .9 .8 1.2 0 .4-.1 1-.2 .4-.2 .3-.1 .9 .2 .7 .2 .7-.3 .9-1.1 .7-.2 .5-.4 .5-.2 .7-.2 .9-.9 1.2-.4 1.1 .8 1 1.3 .7 .3 .4 .5 1.4 .6 .7 .8 .7 .3 .7 1.3 .3 .5 .7 .6 .7 1.3 .2 .3 .9 .4 .7 .4 1 .3 .4 .1 1.4-.3 1.2 0 .9-.1 1 .1 1.4 .6 .9 1.4 .7 .4 .7 .7 .2 .1 1.2 0 .5-.2 2.3-.4 .5-.5 .4-.3 1-.3 .4-.1 1.4 .3 .5 .2 1.2 .1 1.8 .3 .3 0 1.4 0 .2-.1 .9-.3 .7-.1 1.4 .2 .3 .2 .7 .2 .9 1.1 .7 .2 .9 1.2 1 .4 .7 .6 .9 .3 .5 .1 .2 .1 .9-.2 1.7-.6 .7-.2 .9 .1 .7 .3 .9 0 .5-.2 .9 .3 .7 .9 .3 .3 .7 .3 .9 1.1 .7 .3 .5 .5 .4 .3 1.7 .3 2.5-.1 .5-.2 .2-.1 1.2-.2 1.6-.4 1.7-.2 1.1-.4 1-1.1 .9-.2 .5-.1 .2 0 .7 .2 .9 1 .7 .3 1 1.2 .9-.1 .5-.1 .9-.1 1.9-.8 .4-.2 .3 0 .7 .5 .9 2.1 .7 .6 .9 2.4 .7 .4 1 1.4 .7 .3 .9 1.3 .7 .4 .9 1.1 1.7 .4 1.1 .2 .5 .3 1.2 .2 1.4 .6 .7 .8 .9 .3 .5 .2 .2 0 .7-.3 .9-1 .7-.3 .5-.4 .5-.1 .9-.3 .7-.6 .7-.2 .9-.7 1.4-.2 .3 .1 1.4 0 1.4-.3 .4-.1 1.2-.3 .5-.2 .9 .1 .7 .3 .9 .2 .7 .4 1.4 .2 2.6 .1 2.6-.7 .7-.1 .9-.9 1.2 0 1.1 .2 1 .8 .7 .3 .9 .9 1.4 .3 .2 .2 .7 .1 1 .7 1.4 .2 .9-.5 .7-.8 .2-.3 1-.3 .2-.2 0 0" clip-path="url(#pde26894b99)" style="fill:none;stroke:#ffa500;stroke-linecap:square"/><path d="M60.3 1156.4l3.3 .1 .9-.2 2.1-.8 .3-.2 .9-.2 .7-.4 .9-.3 3.8-2.1 .2-.2 .7-.2 .9-.8 1-.3 .7-.4 .9-.2 .7-.3 .9-.3 .7-.5 1-.3 .7-.6 .7-.2 .9-.8 .7-.3 .9-.7 .7-.2 1-.7 1.1-.1 .5-.2 1.2-.1 .4-.2 1-.1 1.8-.8 .5-.4 .9-.4 .7-.4 1.2-.2 2.1-.4 1.2 .1 3.7 1.2 .9 .3 .7 .3 1 .2 .7 .3 .9 .2 .7 .2 1.2-.1 2.1-.6 .7-.2 .9-.6 1.2-.3 .4-.1 1-.2 .7-.4 .9-.3 .7-.3 5.6-.4 .9 .2 1.2 0 2.1-.5 .9-.2 .7-.4 1.7-.3 1.6 .1 .9 .2 .7 .4 1 .2 1.8 .8 .5 .3 .9 .3 .7 .3 1 .2 .7 .4 .7 .2 .9 1 .7 .2 .9 .6 1 .2 .7 .4 .7 .2 .9 .7 .9 .2 .7 .3 1.2 .2 .5 .2 1.6 .1 1.2 .2 1.8 .4 .3 0 2.3 .2 .9 .2 1.2 .2 .5 .2 1.4 .2 .2 .1 .9 .2 .7 .4 1 .3 .7 .4 .9 .3 .7 .2 1.2 .2 .4 .1 1.7 0 3.2-.1 1 .1 .7 .3 1.6 0 5.8-.2 1.9-.7 .5-.3 .7-.2 .9-.8 .9-.3 .7-.5 1-.2 .7-.3 .9-.2 .7-.3 .9-.2 2.1-.9 .3-.1 .7-.1 .7-.4 .2-.1 1.2-.2 .4-.2 1.2-.1 3-1 .7-.3 1-.3 .7-.4 .9-.3 .7-.5 .7-.1 .9-.7 1-.2 .7-.4 1.1-.3 .5-.1 .9-.2 .7-.4 .7-.2 1-.7 .9-.3 .5-.3 .2-.1 .9-.2 .7-.3 1-.3 .7-.3 .9-.3 .7-.5 .9-.3 .7-.3 1.2-.3 .5-.2 2.5-.4 3.3-1 .7-.4 .9-.3 .7-.5 1-.2 .7-.4 .9-.2 .7-.3 .9-.2 2.4-1 .7-.1 .9-.7 .9-.3 .7-.5 .7-.1 .9-.8 1-.3 .7-.4 .9-.2 .7-.3 5.6 .2 1.9-.3 .7-.3 1.6-.1 .9-.2 .7-.4 1-.2 .7-.3 .9-.2 .7-.3 2.3-.3 2.4 .2 1.4 .1 1.6 .3 .5 .2 .9 .3 .7 .3 1.4 .2 .2 .1 4 .2 2.1 .1 1.6 .4 .5 .2 .9 .2 .7 .3 4 .1 .9-.1 2.4 .1 1.8 .2 2.1 .2 6.1 .4 .7 .3 .9 .1 .7 .4 1 .2 .7 .2 1.4 .3 .2 0 4.2 .2 .7 .2 2.3 .2 2.6 1 .9 .3 .7 .2 1.2 .3 .5 .1 1.4 .2 1.4 .1 6 .4 1-.2 2.3 .1 2.6 .8 4.2 .1 .7 0 .9 .3 .7 .5 .7 .2 .9 .8 1 .3 .7 .5 .9 .3 .7 .5 .9 .3 .7 .4 1 .3 .7 .3 .9 .2 .7 .3 .9 .2 .7 .3 1 .3 .7 .4 .9 .3 .7 .3 2.8 .1 1.2 .1 .9 .1 2.8 .1 2.1 .3 4 .1 .9 .2 1.2 .2 .4 .1 1.4 .2 1.9 .3 4.2 0 1.4-.1 1.9 .2 .7 .2 .9 .2 .7 .3 1.4 .2 .2 0 1 .2 .7 .2 2.3 .2 .9-.2 1.2-.1 0 0" clip-path="url(#pde26894b99)" style="fill:none;stroke:#0000ff;stroke-linecap:square"/><path d="M60.3 1156.4l3.1 0 .2-9.6 1.6 0 .7-7.5 4 0 .2-6 1.7 0 .7-1.8 1.8 0 .3-1.7 6.7 0 .3-4.2 1.6 0 .7-4 9.1 0 .7-2 121.1-.1 .2-2 21.5 0 .2-1.2 2.4 0 .2-4.1 2.1 0 .2-1.5 1.6-1 148.2 0 0 0" clip-path="url(#pde26894b99)" style="fill:none;stroke-dasharray:3.7,1.6;stroke-dashoffset:0;stroke:#ff0000;stroke-opacity:0.8"/><path d="M43.68 1197.97v-210.72" class="c1"/><path d="M408 1197.97v-210.72" class="c1"/><path d="M43.68 1197.97l364.32 0" class="c1"/><path d="M43.68 987.25l364.32 0" class="c1"/><text x="225.83" y="981.09" textLength="146.89" lengthAdjust="spacingAndGlyphs" class="c6">PBR: Price + EMA + Max</text><path d="M287.36 1035.49l115.7 0Q404.46 1035.49 404.46 1034.09v-42.1Q404.46 990.59 403.06 990.59l-115.7 0Q285.96 990.59 285.96 991.99v42.1Q285.96 1035.49 287.36 1035.49z" class="c25"/><path d="M288.96 996.85l6.72 0 7.2 0" style="fill:none;stroke:#7f7f7f;stroke-linecap:square"/><text x="308.36" y="999.15" textLength="33.19" lengthAdjust="spacingAndGlyphs" class="c2">PBR Price</text><path d="M288.96 1007.41l6.72 0 7.2 0" class="c28"/><text x="308.36" y="1009.85" textLength="88.88" lengthAdjust="spacingAndGlyphs" class="c2">PBR EMA (50 day expMA)</text><path d="M288.96 1017.97l6.72 0 7.2 0" class="c26"/><text x="308.36" y="1020.55" textLength="93.33" lengthAdjust="spacingAndGlyphs" class="c2">PBR EMA (200 day expMA)</text><path d="M288.96 1029.01l6.72 0 7.2 0" class="c29"/><text x="308.36" y="1031.25" textLength="30.58" lengthAdjust="spacingAndGlyphs" class="c2">PBR Max</text><path d="M473.76 1197.97l364.32 0 0-210.72-364.32 0z" class="c5"/><path d="M490.56 1197.97v-210.72" class="c11"/><path d="M532.8 1197.97v-210.72" class="c11"/><path d="M576 1197.97v-210.72" class="c11"/><path d="M618.24 1197.97v-210.72" class="c11"/><path d="M660.96 1197.97v-210.72" class="c11"/><path d="M703.68 1197.97v-210.72" class="c11"/><path d="M746.4 1197.97v-210.72" class="c11"/><path d="M788.64 1197.97v-210.72" class="c11"/><path d="M831.36 1197.97v-210.72" class="c11"/><path d="M473.76 1195.57l364.32 0" class="c11"/><text x="466.84" y="1199.44" textLength="21.1" lengthAdjust="spacingAndGlyphs" class="c0">−40</text><path d="M473.76 1170.13l364.32 0" class="c11"/><text x="466.84" y="1173.96" textLength="21.1" lengthAdjust="spacingAndGlyphs" class="c0">−20</text><path d="M473.76 1144.69l364.32 0" class="c11"/><text x="466.84" y="1148.48" textLength="6.36" lengthAdjust="spacingAndGlyphs" class="c0">0</text><path d="M473.76 1119.25l364.32 0" class="c11"/><text x="466.84" y="1122.99" textLength="12.72" lengthAdjust="spacingAndGlyphs" class="c0">20</text><path d="M473.76 1093.81l364.32 0" class="c11"/><text x="466.84" y="1097.51" textLength="12.72" lengthAdjust="spacingAndGlyphs" class="c0">40</text><path d="M473.76 1068.37l364.32 0" class="c11"/><text x="466.84" y="1072.03" textLength="12.72" lengthAdjust="spacingAndGlyphs" class="c0">60</text><path d="M473.76 1042.93l364.32 0" class="c11"/><text x="466.84" y="1046.55" textLength="12.72" lengthAdjust="spacingAndGlyphs" class="c0">80</text><path d="M473.76 1017.01l364.32 0" class="c11"/><text x="466.84" y="1021.07" textLength="19.09" lengthAdjust="spacingAndGlyphs" class="c0">100</text><path d="M473.76 991.57l364.32 0" class="c11"/><text x="466.84" y="995.59" textLength="19.09" lengthAdjust="spacingAndGlyphs" class="c0">120</text><text x="439.8" y="1092.5" transform="rotate(-90 439.8 1092.5)" textLength="37.06" lengthAdjust="spacingAndGlyphs" class="c4">Error %</text><path d="M490.4 1144.6M491.4 1144.6v5.1M491.8 1144.6v3.8M492.8 1144.6v3.8M493.3 1144.6v.5M493.8 1144.6v-16.4M494.7 1144.6v-14.1M495.2 1144.6v-12.8M496.2 1144.6v-25.2M498.6 1144.6v-13.2M499.5 1144.6v-12.5M500 1144.6v-15.2M501 1144.6v-22.4M501.4 1144.6v-18.8M501.9 1144.6v-19M502.9 1144.6v-19.8M503.4 1144.6v-18.3M504.3 1144.6v-17.8M504.8 1144.6v-21.1M506.7 1144.6v-10M507.7 1144.6v-5.1M508.2 1144.6v2.2M509.1 1144.6v-4.6M509.6 1144.6v-11.1M510.1 1144.6v-13.6M511 1144.6v-10.3M511.5 1144.6v-12.6M512.5 1144.6v-16.8M513 1144.6v-14.6M513.4 1144.6v-15.3M515.8 1144.6v-11M516.3 1144.6v-5.9M517.3 1144.6v9.2M517.8 1144.6v8.4M518.2 1144.6v6.9M519.2 1144.6v8.7M519.7 1144.6v1M520.6 1144.6v8.3M521.1 1144.6v.2M521.6 1144.6v-4.8M524 1144.6v-11.2M524.5 1144.6v-.7M525.4 1144.6v3.3M525.9 1144.6v5.6M526.4 1144.6v4.2M527.3 1144.6v3.2M527.8 1144.6v5.8M528.8 1144.6v17.1M529.3 1144.6v20.8M529.7 1144.6v24.5M532.1 1144.6v16.3M532.6 1144.6v15M533.6 1144.6v21.4M534.1 1144.6v19.4M534.5 1144.6v14.1M535.5 1144.6v16.4M536 1144.6v18.4M536.9 1144.6v14.1M537.4 1144.6v10.6M537.9 1144.6v2.9M540.8 1144.6v-14.1M541.7 1144.6v-23.7M542.2 1144.6v-26.7M542.7 1144.6v-19.6M543.7 1144.6v-5.8M544.1 1144.6v-8.6M545.1 1144.6v-12.8M545.6 1144.6v-12.2M546.1 1144.6v-14M547 1144.6v-15M548.9 1144.6v.3M549.9 1144.6v.4M550.4 1144.6v5.9M550.9 1144.6v6.3M551.8 1144.6v3M552.3 1144.6v.5M553.3 1144.6v12.2M553.7 1144.6v15.3M554.2 1144.6v14.3M555.2 1144.6v3.5M558.1 1144.6v-10.7M558.5 1144.6v-16M559 1144.6v-25.1M560 1144.6v-6.5M560.5 1144.6v3.4M561.4 1144.6v11.9M561.9 1144.6v12.5M562.4 1144.6v10.5M563.3 1144.6v19.5M563.8 1144.6v23.1M566.2 1144.6v19.5M566.7 1144.6v29.2M567.2 1144.6v25M568.1 1144.6v16.5M568.6 1144.6v10M569.6 1144.6v11.1M570.1 1144.6v14.6M570.5 1144.6v16.2M571.5 1144.6v24.4M572 1144.6v29.7M574.4 1144.6v4.6M574.9 1144.6v5.9M575.3 1144.6v6.2M576.3 1144.6v18.6M576.8 1144.6v14.7M577.7 1144.6v7.4M578.2 1144.6v2.1M578.7 1144.6v-1.9M579.7 1144.6v-2.2M580.1 1144.6v-.2M583 1144.6v-1.1M583.5 1144.6v2.7M584.5 1144.6v1.7M584.9 1144.6v-2.9M585.9 1144.6v-5.5M586.4 1144.6v-6.1M586.9 1144.6v-2.9M587.8 1144.6v1.3M588.3 1144.6v-3M589.3 1144.6v1.3M591.2 1144.6v.2M591.7 1144.6v6.2M592.6 1144.6v13.7M593.1 1144.6v13.2M594.1 1144.6v11.3M594.5 1144.6v11.7M595 1144.6v12.9M596 1144.6v7.9M596.5 1144.6v4.7M597.4 1144.6v-2.8M599.8 1144.6v-14.3M600.8 1144.6v-17.1M601.3 1144.6v-11.4M602.2 1144.6v-7.7M602.7 1144.6v-7.8M603.2 1144.6v2.8M604.1 1144.6v10.6M604.6 1144.6v9.9M605.6 1144.6v.5M606.1 1144.6v-8M608 1144.6v-4M608.9 1144.6v-4.2M609.4 1144.6v-7.3M610.4 1144.6v-2.9M610.8 1144.6v-1.3M611.3 1144.6v-4.7M612.3 1144.6v-13.2M612.8 1144.6v-18.3M613.7 1144.6v-23.5M614.2 1144.6v-24M617.1 1144.6v-20.3M617.6 1144.6v-16.6M618.5 1144.6v-9.2M619 1144.6v-9.7M619.5 1144.6v-6.5M620.4 1144.6v-7.4M620.9 1144.6v-6.1M621.9 1144.6v-4.6M622.4 1144.6v-3.2M622.8 1144.6v-6.2M625.2 1144.6v-12.9M625.7 1144.6v-3.9M626.7 1144.6v-.9M627.2 1144.6v-.7M627.6 1144.6v-.8M628.6 1144.6v1.9M629.1 1144.6v.2M630 1144.6v-4.2M630.5 1144.6v-6.5M631 1144.6v-10.2M633.4 1144.6v-10.3M633.9 1144.6v-11.5M634.8 1144.6v-11.8M635.3 1144.6v-9.6M635.8 1144.6v-10.7M636.8 1144.6v-13.5M637.2 1144.6v-8.9M638.2 1144.6v-6.6M638.7 1144.6v-6.4M639.2 1144.6v-5.2M642 1144.6v-6.2M643 1144.6v-14.5M643.5 1144.6v-18.4M644 1144.6v-13.3M644.9 1144.6v-3.8M645.4 1144.6v-3.4M646.4 1144.6v1.3M646.8 1144.6v-.9M647.3 1144.6v-3.8M648.3 1144.6v-5M650.2 1144.6v-11.5M651.2 1144.6v-9.9M651.6 1144.6v-6.4M652.1 1144.6v-1.9M653.1 1144.6v.7M653.6 1144.6v-.9M654.5 1144.6v3.1M655 1144.6v8.1M655.5 1144.6v8.2M656.4 1144.6v4.5M659.3 1144.6v-9.5M659.8 1144.6v-12.1M660.3 1144.6v-9.2M661.2 1144.6v-10.5M661.7 1144.6v-12.1M662.7 1144.6v-5.3M663.2 1144.6v-5.5M663.6 1144.6v-6.9M664.6 1144.6v-3.9M665.1 1144.6v-2M667.5 1144.6v-8.4M668 1144.6v-6.7M668.4 1144.6v-4.3M669.4 1144.6v-15.5M669.9 1144.6v-11.2M670.8 1144.6v-7.3M671.3 1144.6v-8.3M671.8 1144.6v-14.7M672.8 1144.6v-14.5M673.2 1144.6v-13.9M675.6 1144.6v.3M676.1 1144.6v-.9M676.6 1144.6v2.3M677.6 1144.6v19.7M678 1144.6v13.8M679 1144.6v15.1M679.5 1144.6v17.2M680 1144.6v14.4M680.9 1144.6v9.4M681.4 1144.6v8M684.3 1144.6v-6.2M684.8 1144.6v-2.9M685.7 1144.6v4.4M686.2 1144.6v1.9M687.2 1144.6v-11.3M687.6 1144.6v-10.3M688.1 1144.6v-11.7M689.1 1144.6v-10.3M689.6 1144.6v-3.9M690.5 1144.6v-5.7M692.4 1144.6v-.4M692.9 1144.6v9.9M693.9 1144.6v13.5M694.4 1144.6v12.8M695.3 1144.6v13.2M695.8 1144.6v7.6M696.3 1144.6v5.1M697.2 1144.6v8M697.7 1144.6v10.2M698.7 1144.6v15.7M701.1 1144.6v12.1M702 1144.6v6.6M702.5 1144.6v5.4M703.5 1144.6v6.2M703.9 1144.6v3.4M704.4 1144.6v-2.4M705.4 1144.6v-3.5M705.9 1144.6v.4M706.8 1144.6v.1M707.3 1144.6v-.3M709.2 1144.6v5.8M710.2 1144.6v12.6M710.7 1144.6v13.9M711.6 1144.6v16M712.1 1144.6v9.7M712.6 1144.6v5M713.5 1144.6v-.3M714 1144.6v-5.1M715 1144.6v-5.3M715.5 1144.6v-.3M718.3 1144.6v-5.6M718.8 1144.6v-1.3M719.8 1144.6v3.8M720.3 1144.6v3.3M720.7 1144.6v4.7M721.7 1144.6v.8M722.2 1144.6v1.9M723.1 1144.6v2.3M723.6 1144.6v1.4M724.1 1144.6v-1.2M726.5 1144.6v-6.2M727 1144.6v-.4M727.9 1144.6v3.6M728.4 1144.6v1.7M728.9 1144.6v5.7M729.9 1144.6v10.5M730.3 1144.6v10.2M731.3 1144.6v9M731.8 1144.6v11.2M732.3 1144.6v12.7M734.7 1144.6v5.6M735.1 1144.6v.3M736.1 1144.6v-2.8M736.6 1144.6v-4M737.1 1144.6v-6.8M738 1144.6v-3.6M738.5 1144.6v-2.4M739.5 1144.6v1.2M739.9 1144.6v4.4M740.4 1144.6v3.5M743.3 1144.6v13.5M744.3 1144.6v12.4M744.7 1144.6v10.1M745.2 1144.6v12.2M746.2 1144.6v11.6M746.7 1144.6v6.6M747.6 1144.6v5.1M748.1 1144.6v1.9M748.6 1144.6v-.3M749.5 1144.6v.9M751.5 1144.6v-4.9M752.4 1144.6v-1.7M752.9 1144.6v-2.9M753.4 1144.6v-6.5M754.3 1144.6v-1.5M754.8 1144.6v-.2M755.8 1144.6v-1.5M756.3 1144.6v-1.7M756.7 1144.6v-4.2M757.7 1144.6v-12.6M760.6 1144.6v8.3M761.1 1144.6v9.8M761.5 1144.6v11.9M762.5 1144.6v13.1M763 1144.6v12M763.9 1144.6v-.5M764.4 1144.6v-2.8M764.9 1144.6v-.2M765.9 1144.6v-4.1M766.3 1144.6v-4.9M768.7 1144.6v17.6M769.2 1144.6v20.5M769.7 1144.6v22.9M770.7 1144.6v26M771.1 1144.6v22.7M772.1 1144.6v17.7M772.6 1144.6v14.1M773.1 1144.6v13.6M774 1144.6v15.1M774.5 1144.6v12.7M776.9 1144.6v7.4M777.4 1144.6v1.1M777.9 1144.6v.5M778.8 1144.6v2.4M779.3 1144.6v6.4M780.3 1144.6v4.8M780.7 1144.6v2.7M781.2 1144.6v3.8M782.2 1144.6v9M782.7 1144.6v10.3M785.5 1144.6v-10.9M786 1144.6v-9.8M787 1144.6v-8.4M787.4 1144.6v-3.3M788.4 1144.6v-5.6M788.9 1144.6v-9.9M789.4 1144.6v-8.1M790.3 1144.6v-8.3M790.8 1144.6v-7.1M791.8 1144.6v-4.8M793.7 1144.6v-.6M794.2 1144.6v-1.2M795.1 1144.6v-1.1M795.6 1144.6v-3.4M796.6 1144.6v-3.9M797 1144.6v-3.2M797.5 1144.6v-5.1M798.5 1144.6v4.5M799 1144.6v3.8M799.9 1144.6v5.1M802.3 1144.6v.8M803.3 1144.6v1.4M803.8 1144.6v.6M804.7 1144.6v-1M805.2 1144.6v-3.3M805.7 1144.6v-4M806.6 1144.6v-4.5M807.1 1144.6v-2.9M808.1 1144.6v-3.9M808.6 1144.6v-9M810.5 1144.6v2.1M811.4 1144.6v7.9M811.9 1144.6v9.1M812.9 1144.6v8.4M813.4 1144.6v12.2M813.8 1144.6v8M814.8 1144.6v3.1M815.3 1144.6v3M816.2 1144.6v6.4M816.7 1144.6v8.5M819.6 1144.6v-13.3M820.1 1144.6v-10.6M821 1144.6v-8.3M821.5 1144.6v-8v0" clip-path="url(#p5504c2c820)" style="fill:none;stroke:#800080;stroke-opacity:0.7;stroke-width:0.48"/><path d="M490.5 1144.6l.7 3.5 .2 1.9 .2 .1 .5-2.4 .7 1.4 .2-.8 .3-2.4 .2-.4 .2-17.1 1.2 2 .2 0 .3-.4 .7-13.1 .2 2.7 .2 .7 .3 1.6 .2 .4 .7 .6 .2-1.5 .7 3.2 .7-.5 .3 .5 .4-3.4 .3-11 .9 3.4 .2 1.7 .5-1.2 .7-5.1 .2 3.3 .3 1 .2-.4 .2 3.8 1-5 .2-3.2 1.4 16.8 .2-1.1 .5-5.6 .7 5.6 .2-.7 .5 7.6 .2-2.8 .7-3.8 .3-2.4 .4-7 .3-.3 .7 3.5 .2-.6 .2-2.2 .3-.5 .2-8.1 .9 3.8 .3 1 .4-1.3 .7-8.1 .3 6.7 .2 1.7 .5 7 .7-2.3 .2-2.1 .2 .7 .3 4.3 .2 7.2 .9 10.3 .3-1.5 .4-.6 .7 4.9 .3-2.2 .2-5.4 .2-1.8 1 7.9 .4-7.7 .5-4.9 .7-4.8 .2-.1 .3-3.7 .2-1.4 .9-9.3 .3 11.1 .4 10.6 .3 .3 1.4 7.8 .2-1.5 .7-1.1 .2 .6 .5 3.2 .2 3.6 1.7 19.3 .7 5.8 .2 .6 .2-.9 .3 2.7 .2-.5 .7-8.8 .2-1.2 .3-.4 .2 0 .2 2.4 .7 5.3 .3-.1 .2-.6 .2-1.2 .3-3.1 .7-.2 .2 3.3 .7 4.5 1.2-7.6 1.4-20.7 .2-4.7 .2-1.7 .3-4.7 .7 .4 .4 3.9 .3-1.1 .2-1.8 1.2-13.6 .2-.2 .2 6.1 .7 12.9 .3 .6 .2-3.9 .2 .6 1-4.8 .2-.3 .2 .3 .3-2 .2-.6 .7-3.6 .2 1.8 .3 .3 .4 8.3 1 5.6 .2 1.1 .2-.4 .3 .7 .7-.4 .4 5.9 .3 1.4 .2-.4 .9-3 .3-.4 .2-1.9 .2 .2 1 16.7 .2-.5 .5 0 .7-5.2 .9-18.9 .7-.8 .2 4 .3 .9 .2 0 .2-2 .7-4.2 .7-9.2 .3-7.2 .7 11.3 .4 11.8 .3 5.2 .2 .9 .7 8.2 .2 .3 .3 1.1 .2-.9 .2-.3 .7 5.4 .5 7.6 .5 3.8 .7-2.7 .2-2 .2-3.4 .3 .7 .9 6.1 .5 11.3 .2-2.9 .2 .1 .7-2.2 .3-5.3 .7-7.3 .7 3 .4 4.3 .3-.2 1.4 13.9 .2 4.9 .2 .4 .7-4.1 1-16.2 .7-2.6 .2 .2 .2 1.1 .3-1.3 .2 1.7 .7 8.1 .2 5 .3-2.6 .2-.7 .2-3 1-5 .4-7.4 .3-1.4 .7-1.1 .2 .4 .2 1.4 .3 .3 .2-3.5 .7-8.7 .2 .3 .3 1.7 .2-.4 .2 4.1 .7 2.2 .3 0 .4 1.3 .3 3 .9-1.2 .2-1.2 .3-3.6 .2 .2 .7-3.3 .2-2.5 .7 4.1 .7 2.1 .3 1.9 .2-1.6 .2-2.9 .3-.8 .9 6.5 .2 .4 .3 1.9 .2-.4 .9-6.2 .3 1.4 .2 2.1 .2 4 .7 7 .3 1.1 .2-1.1 .2 1.2 .3-3.5 .7 2 .2 1 .2-.1 .3 1.4 .2 .4 .9-4.7 .3-.9 1.1-10 .5 1.2 .2-.3 .3 1.4 .7-5 .2-2.7 .5-7.6 .2-1.1 .7-1 .2-3 .7 7 .7 .9 .3-.3 .2-.4 .2 3.3 .3 7.2 .9 8.2 .2 1 .3-1.1 .2-2.9 .7-6.5 .2-5.9 .3-3.1 .2 .2 .2-.9 .7 .3 .3 2.3 .2-.8 .2 1.3 .3 0 .7-1.3 .2 .7 .2-1.2 .3-2.4 .2 1.5 .7 2.6 .2 1.7 .3-.3 .4-3.6 1.2-11.1 .2-4.3 1-6.6 .2-.6 .2-1.3 .3 2.6 .2-.4 .9-7.2 .5-4.3 .9 6.8 .5 .1 .5 4.6 .7 5 .2 .4 .2-1.3 .3 2.8 .2 .1 .7 .2 .5-2.5 .4 4.2 .7-.5 .3-1.5 .2 2.8 .5-3.1 .7-6.7 .2-.2 .2-1.4 .5 6.1 .7-.1 .2-5.9 .3 2.8 .2 6.1 .2 2.1 .7 1 .3 .9 .2-.5 .2-.3 .3 .4 1.1 3.4 .5-4.1 .7-2.1 .5-2.4 .2-3.7 .2-.4 .7 .2 1 6.1 .9-7.1 .2-1.8 .3 .1 .2-.3 .7-.4 .2 2.1 .3-.2 .2-1.5 .2 0 1-3.3 .2 3.4 .2 .9 .3-.6 .7 2.7 .2 .1 .2 0 .3 2.6 .2-1.4 .7-1.1 .2 5.8 .3 1.4 .4 5.7 .7-5.6 .3-3.8 .2-1.7 .2-.8 .3-1.2 .7-7.5 .2-1 .2-3.6 .3 1.4 .2 3.1 .7 5.3 .2 4.2 .3-16 .2 16 .2 3 .7 2.1 .3 .3 .4-3.4 .3-1.6 .7-2.7 .2 1.5 .2 3.5 .3 .8 .2-1.9 .7-3.2 .7-5.8 .2-.2 .7 1.4 .3 .9 .7 7.1 .7 .9 .4 3.2 .3-2.4 .2-1.1 .9 6.6 .3 4.4 .4 1 .7-1.4 .5-4 .2 .3 .3-2.9 .9-2.6 .2-2.8 .3 2.8 .2-2.7 .9-5 .3-1.6 .2 .3 .2 2.2 .7-.4 .3-1.3 .2-.2 .2-1.7 .3 1 .7 5.6 .2 .6 .7-2.4 .7 .9 .2 2.2 .3-.3 .2 2.3 .9 2.6 .3 0 .4-6.1 .3-5.3 1.1 4 .3 2.1 .2 .3 .7-2.6 .2-9 .7 5.9 .7 1.7 .3-.5 .2-.7 .2-2.1 .3-4.7 .7-.5 .9 .3 .7 3.6 .5 5.8 .4 3.4 .7 1.4 .3 1.2 .2-2 .2 3.3 .3 .3 .7 20 .2-1 .5-4.6 .2 1.5 .7 .8 .2 4.2 .3-.7 .2-3.9 .2 2.2 1-4.2 .2-.2 .2-.5 1-5 .2-.1 .2-3.8 .3-1.5 .2 1.2 .7-1.7 .2-1.1 .3-1.8 .2 2.6 .2 .6 1 7.8 .2-2 .2-.3 .3 1.4 .7-14.7 .2 1.2 .5-1.4 .2-1.2 .7 0 .2 .9 .5 6.4 .2 .2 .7-2.2 .3-3.7 .2 .5 .2-2 .3 .3 .7 1.4 .2 .9 .7 18 .7 6.6 .2-1.9 .3 1.4 .2-1.2 .2 2.3 .7-.9 .7-8.1 .3 1.1 .7 4 .2-.5 .2 3.2 .5-.5 .7 6.6 .2 .4 .7 6.4 .7 3.5 .5-3.3 .5-5.6 .7-2.7 .2-2.4 .2-.2 .3-.7 .2 1.6 .7-.4 .2-.4 .5-5.2 .2-3 .7-1.1 .3-.2 .4 3.8 .3-2.2 .7 1.8 .2-1.8 .5 2 .2-1.4 .7 3.5 .2-.2 .3 2.2 .4 1.7 .7 3.9 .3 3.6 .2 1.8 .2 .2 .3 1.8 .7 1.1 .4-5.6 .3-1.7 .2-2.8 .7-3.2 .9-8.4 .7 .5 .3 1.8 .2 2.9 .2-.1 .3 1.8 .9-12.8 .5 4.4 .2-2 .7 2.9 .2-1.3 .7 6.8 .7 2.5 .3 .2 .2-.5 .2 1.1 .3 .4 .7-4.5 .2 .6 .2 2.2 .3-1 .2 .4 .7 .1 .2 1.7 .5-4.3 .2-1 .7 4.2 .3-1.3 .2-2.7 .2-1.1 .3-2.4 .7-1.2 .2-1.1 .5 5.7 .2-.7 .7 4.7 .2-1.5 .3-.3 .2 .4 .2 3.7 1 5.4 .2 .5 .2-.3 .3 1.7 .7-2.3 .2 2.1 .2 .7 .3 2.8 .2-.7 .7-1.5 .2-2.1 .3 1.2 .4-2.3 .7-.4 .3-.7 .2-1.4 .2-3.9 .3 1 .9-6.4 .2 .5 .5-3.3 .7 2.6 .2 .3 .2 1.4 .3-.4 .2 1.7 .7 1.7 .5 3.3 .2 .6 1.2-6.8 .2-1.4 .2-.1 .3 6.1 .9 7.2 .2 1.4 .3 3 .2 .7 .7-1.1 .2-2.2 .3 .3 .2 2.2 .2 .5 .7 .7 .3-.7 .2-3.4 .2-1.3 .3 .3 .9-2.2 .2-2.6 .5-2.4 .7 .1 .2 1 .3-2.8 .2 0 .2 1.1 .7-1.4 .3 2 .7-7.3 .7 4.4 .4-1.5 .3-.1 .2-3.9 .7 2.3 .2 2.4 .3-.3 .2 1.4 .9-1.5 .3-.6 .2 .2 .5-2.8 .9-9.2 .2 1.1 .3-.8 .2 2.2 .7 5.4 .2-2 .7 5.1 .7 8.4 .5 2 .2 2.3 .3 .5 .7 1.1 .2 .8 .2 1.3 .3-1.8 1.1-15 .3 .1 .2 2.8 .2-.3 1-4.2 .2-.1 .2-1.1 .3-1.8 .7-1.1 .2-1 .2 .9 1.4 29.3 .3-.3 .2 2.5 1.4 6.7 .5-4.6 .7-2.4 .7-4.6 .2 1.8 .7 3 .9-3.5 .7 3.2 .5-3.4 .2 .8 .3-.2 .7-3.4 .2-1.8 .2-4.6 .3-.9 .2 0 .7 3.4 .2-1.5 .3 .4 .2 3.6 .2-1.1 .7-.5 .5-2.1 .2 1 .3 0 .7 3.6 .2 1.8 .7 2.9 .9-4.9 .3 .8 .4-9.5 .7-11.1 .3 .2 .2 .7 .2 1.3 .3-1 .7-.6 .4 2.1 .5 5.5 .9-5.5 .3-4.1 .2 2.5 .2-1.4 .7-.3 .3-.5 .2 .1 .2 .5 .3-.1 .7 1.8 .2 2.9 .5 1.3 .2 3.7 .7-1.2 .2-1.1 .5-2.9 .2 .3 .7-2.4 .3 2.2 .2-3.3 .5 1.2 .7-1.3 .2 .9 .2-.5 .3-2.4 .2 0 .9 9.7 .3-.7 .2 .2 .2-2 .7 3.4 .3-.2 .2 .8 .2 1.5 .3-1.7 .7-3.9 .2 2.6 .2-3 .3 .2 .2-.2 .7-.4 .2 .9 .3 0 .2-.8 .2 1.2 .7-2.9 .3-2.2 .2-.5 .2-.7 .3-.2 .7-.4 .2-.5 .2 1.3 .3 .1 .2 1.1 .7-2.4 .5-5.7 .2 .1 .2-.4 .7 5.3 .3 2.8 .2 1.3 .2 .2 1 4.4 .4 4.4 .3 .1 .2 .7 .7-.9 .2 .4 .3 3.9 .4-3.7 .7-2.6 .5-3.3 .2 1.1 .3 2.8 .7 .9 .2 .8 .2 1.6 .3 0 .2-2.7 .7-1.9 .2-1.4 .3-2.4 .2 .3 .9-14.1 .3-.5 .4 2 .3 .8 .7 .9 .2 1.7 .2-2 0 0" clip-path="url(#p5504c2c820)" style="fill:none;stroke:#0000ff;stroke-linecap:square"/><path d="M474 1144.93l364.32 0" clip-path="url(#p5504c2c820)" style="fill:none;stroke:#000000;stroke-width:1.5;stroke-linecap:square"/><path d="M473.76 1197.97v-210.72" class="c1"/><path d="M838.08 1197.97v-210.72" class="c1"/><path d="M473.76 1197.97l364.32 0" class="c1"/><path d="M473.76 987.25l364.32 0" class="c1"/><text x="655.97" y="981.09" textLength="115.08" lengthAdjust="spacingAndGlyphs" class="c6">PBR: EMA Error (%)</text><path d="M747.74 1014.09l85.46 0Q834.6 1014.09 834.6 1012.69v-20.7Q834.6 990.59 833.2 990.59l-85.46 0Q746.34 990.59 746.34 991.99v20.7Q746.34 1014.09 747.74 1014.09z" class="c25"/><path d="M749.28 996.85l6.72 0 7.2 0" class="c26"/><text x="768.74" y="999.15" textLength="62.8" lengthAdjust="spacingAndGlyphs" class="c2">200d expMA error</text><path d="M749.28 1009.81l13.92 0 0-4.8-13.92 0z" class="c30"/><text x="768.74" y="1009.85" textLength="58.35" lengthAdjust="spacingAndGlyphs" class="c2">50d expMA error</text><path d="M903.84 1197.97l364.32 0 0-210.72-364.32 0z" class="c5"/><defs><path id="m63d2969a16" d="M920.6-516.2v0l.7 9.4 .2 5.2 .3 .4 .2-3 .2-3.1 .7 3.7 .3-2 .2-6.4 .2-1.1 .3-3.1 .7 2.6 .2 .2 .2 .9 .3-.5 .2-1.2 .7-2 .2 5.4 .3 1 .2 2.9 .2 .4 .7 .8 .3-3.6 .2 1.9 .2 2.8 .3 .7 .7-1.4 .2 .6 .2-4.2 .3-4.3 .2-3 .7 4.4 .2 1.2 .3 3 .2-2 .2-1.7 .7-4.9 .3 6 .2 1.5 .2-1.6 .3 7.2 .7-8.8 .2-2.7 .2-1.6 .3 4.8 .2 3 .7 18 .2 5.6 .3-2.7 .2-7.1 .2-5 .7 10.8 .3-1.8 .2 7 .2 7.5 .3-6.1 .7-7.9 .2-5.2 .2-9 .3-5.9 .2-1.3 .7 6.4 .2-1.6 .3-5 .2-1.5 .2-3 .7 5.5 .3 .5 .2 1.3 .2-2.1 .3-1.6 .7-3.6 .2 11.7 .2 2.4 .3 7.8 .2 4.1 .7-4.9 .2-4.3 .3 .8 .2 7.4 .2 12.8 .7 15.7 .3 2.9 .2-3 .2-.7 .3-.8 .7 8.9 .2-4.1 .2-10.3 .3-3.6 .2 3.8 .7 10.3 .2-8.6 .3-6 .2-6.1 .2-3.5 .7-9.3 .3-.7 .2-7.4 .2-3.1 .3-4.6 .7-7.6 .2 19.6 .2 8.8 .3 9.6 .2 .3 .7 7.2 .2 2.2 .3 2.6 .2 1.1 .2-2.8 .7-2.3 .3 .8 .2 2.9 .2 2.6 .3 6.4 .7 16 .2 3.3 .2 6.1 .3 7.3 .2 3 .7 10.8 .2 1.5 .3-1.3 .2 5.3 .2-.5 .7-15.6 .3-2 .2-.5 .2 .3 .3 4.5 .7 10 .2 .1 .2-.8 .3-1.8 .2-5.4 .7 0 .2 6.3 .3 2.9 .2 3.4 .2 2.9 .7-8.4 .3-1.8 .2-2.7 .2-5.7 .3-7.4 .7-16.9 .2-7.1 .2-8.6 .3-3.3 .2-8.9 .7 .5 .2 3.5 .3 3 .2-2.3 .2-3.6 .7-16.5 .3-5.4 .2-4 .2-1 .3 10.5 .7 23.2 .2 .9 .2-7.3 .3 .9 .2-2.7 .7-6.7 .2-.8 .3 .2 .2-4 .2-1.4 .7-7 .3 2.9 .2 .1 .2 7 .3 7.4 .7 8.2 .2 1.6 .2 1.9 .3-.8 .2 1 .7-.9 .2 5.6 .3 5.1 .2 2.5 .2-.8 .7-4.4 .3-1.2 .2-.8 .2-3.5 .3 .2 .7 22 .2 8.6 .2-.8 .3 .2 .2 .2 .7-9.2 .2-9.4 .3-12.3 .2-6.9 .2-6.1 .7-1.8 .3 7.2 .2 1.4 .2-.2 .3-3.8 .7-7.9 .2-6 .2-5.6 .3-6.2 .2-13.4 .7 19.8 .2 12.2 .3 8.8 .2 9.2 .2 1.7 .7 14.8 .3 .6 .2 2.2 .2-1.6 .3-.3 .7 9.9 .2 8.9 .2 5.3 .3 4.5 .2 3.2 .7-4.5 .2-3.2 .3-6 .2 1.6 .2 3 .7 8.6 .3 10.2 .2 11.3 .2-4.7 .3 .7 .7-3.4 .2-9.1 .2-4.1 .3-5.9 .2-2.3 .7 5.8 .2 4.4 .3 4 .2 .1 .2 4.9 .7 14.4 .3 4 .2 4 .2 9.5 .3 1.5 .7-6.6 .2-7.4 .2-5.2 .3-7 .2-7.8 .7-4.4 .2 .8 .3 2.4 .2-2 .2 3.4 .7 15.1 .3 9.6 .2-4.2 .2-.6 .3-4.9 .7-6.8 .2-1.4 .2-7.6 .3-5.3 .2-2.3 .7-1.8 .2 .9 .3 2.9 .2 .8 .2-6.1 .7-15.7 .3 .5 .2 3.1 .2-.6 .3 7.5 .7 4.1 .2 .3 .2 1.2 .3 1.5 .2 5.6 .7-1.1 .2-.5 .3-2 .2-6.3 .2 .4 .7-5.8 .3-4.5 .2 2.3 .2 2.8 .3 2.5 .7 4.1 .2 3.5 .2-2.7 .3-5.2 .2-1.3 .7 8.8 .2 3.3 .3 1 .2 3.7 .2-.5 .7-7.5 .3-3.5 .2 2.7 .2 4 .3 7.5 .7 13 .2 2.4 .2-1.5 .3 2.6 .2-5.9 .7 3.8 .2 2.3 .3 .3 .2 2.9 .2 1.1 .7-6.8 .3-.9 .2-1.4 .2-3.6 .3-5.6 .7-8 .2 1 .2 1.5 .3-.5 .2 2.8 .7-8.9 .2-4.9 .3-7.6 .2-6.1 .2-2.2 .7-1.8 .3-5.5 .2 4.2 .2 4.1 .3 3.9 .7 1.6 .2-.5 .2-.9 .3 6.1 .2 13 .7 12.9 .2 2.6 .3 2 .2-1.6 .2-5 .7-11.5 .3-10.8 .2-5.5 .2 .2 .3-1.6 .7 .5 .2 4.2 .2-1.6 .3 2.4 .2 0 .7-2.4 .2 1.3 .3-2.2 .2-4.3 .2 2.7 .7 4.7 .3 3 .2-.4 .2-3.2 .3-3.4 .7-11.5 .2-5.6 .2-3.6 .3-8.1 .2-3.2 .7-9.4 .2-1.5 .3-2.8 .2 4.3 .2-1.3 .7-9.7 .3-4.4 .2-4.9 .2-4.1 .3 2.4 .7 8.8 .2-.5 .2-.4 .3 4.3 .2 3.1 .7 8.7 .2 .4 .3-2.7 .2 4.7 .2 0 .7 .1 .3-2.7 .2-2.5 .2 3.7 .3 3.2 .7-1.1 .2-3.1 .2 4.9 .3-3.4 .2-2.8 .7-12.5 .2-.8 .3-3.1 .2 5.5 .2 4.8 .7-.5 .3-11.1 .2 4.6 .2 10.7 .3 3.5 .7 1.6 .2 1.4 .2-1.2 .3-.6 .2 .3 .7 3.6 .2 1.5 .3 .6 .2-3.5 .2-4.4 .7-4 .3-2.7 .2-2.3 .2-7.1 .3-1.1 .7-.1 .2 2.6 .2 2.7 .3 1.2 .2 3.2 .7-8.9 .2-4.6 .3-3.7 .2-.3 .2-1 .7-1.2 .3 3.4 .2-.9 .2-3.1 .3-.4 .7-5.1 .2-1.9 .2 5.7 .3 1.2 .2-1.6 .7 4.5 .2-.1 .3-.4 .2 4.2 .2-2.9 .7-2.2 .3 10 .2 2.4 .2 5.8 .3 4.1 .7-10.5 .2-7 .2-3.6 .3-1.7 .2-2.5 .7-14.1 .2-2.4 .3-7.1 .2 1.9 .2 5.2 .7 9 .3 7.2 .2-23.3 .2 28 .3 4.9 .7 3.5 .2 .3 .2-4.2 .3-2.5 .2-3.1 .7-5.2 .2 2.3 .3 5.8 .2 1.3 .2-3.7 .7-6.2 .3-4.2 .2-2.6 .2-4.8 .3-.8 .7 2 .2 1.2 .2 3.8 .3 5.7 .2 2 .7 1.3 .2 3.2 .3 1.8 .2-4.4 .2-2.3 .7 9.4 .3 1.9 .2 7.7 .2 .7 .3 .7 .7-2.5 .2-3.3 .2-4.1 .3 .3 .2-5.3 .7-3.8 .2-1.5 .3-5.2 .2 4.6 .2-5.1 .7-6.8 .3-2.9 .2-3.3 .2 .2 .3 3.4 .7-1.1 .2-2.7 .2-.8 .3-3.6 .2 1.5 .7 9.4 .2 .7 .3-1.8 .2-1.8 .2-1.6 .7 1 .3 3.6 .2-.9 .2 3.9 .3 .8 .7 3.2 .2-.1 .2-5.3 .3-6.3 .2-6.3 .7 4 .2 .9 .3 1 .2 3.4 .2 .2 .7-4.9 .3-4.6 .2 3 .2 2.6 .3 3.1 .7 2.4 .2-1.1 .2-1.6 .3-4 .2-4.4 .7 0 .2 0 .3 0 .2 0 .2 0 .7 5.5 .3 4.9 .2 3.9 .2 3.2 .3 1.9 .7 1.9 .2 1.8 .2-3.7 .3 5.3 .2 .3 .7 33.3 .2-1.7 .3-3.1 .2-4.4 .2 2.6 .7 1.4 .3 7 .2-1 .2-6.5 .3 3.7 .7-5 .2-1.9 .2-.3 .3-.9 .2-2.1 .7-6.3 .2-.3 .3-6.4 .2-2.8 .2 2 .7-3.1 .3-2.1 .2-3.2 .2 4.2 .3 .8 .7 9.6 .2 3.1 .2-3.4 .3-.6 .2 2.3 .7-24.7 .2 1.6 .3-1.3 .2-1.6 .2-2.3 .7-.3 .3 1.2 .2 6.5 .2 3.5 .3 .1 .7-3.8 .2-6.4 .2 .4 .3-3.6 .2 .2 .7 2 .2 1.2 .3 11.4 .2 10.2 .2 8 .7 11 .3-3.1 .2 2.5 .2-1.8 .3 3.8 .7-1.3 .2-3.9 .2-4.1 .3-5.4 .2 1.7 .7 6.8 .2-.7 .3 5.4 .2-.4 .2-.3 .7 11.1 .3 1 .2 4.4 .2 4.6 .3 2.4 .7 6.2 .2-2.7 .2-2.2 .3-5.4 .2-3.3 .7-4.2 .2-3.9 .3-.2 .2-1 .2 2.7 .7-.4 .3-.6 .2-3.6 .2-4.8 .3-4.9 .7-2 .2-.2 .2 2.8 .3 3.5 .2-3.6 .7 3 .2-2.9 .3 2 .2 1.3 .2-2.4 .7 6 .3-.3 .2 3.8 .2 1.4 .3 1.7 .7 6.7 .2 6.1 .2 3.3 .3 .8 .2 3.2 .7 2.3 .2-5.3 .3-3.6 .2-2.6 .2-4.4 .7-5.3 .3-3.4 .2-2.5 .2-5.9 .3-2 .7 .9 .2 3 .2 5 .3-.2 .2 3.2 .7-15.6 .2-5.9 .3 4.1 .2 3.1 .2-3.5 .7 4.9 .3-2.2 .2 3.4 .2 3.3 .3 4.6 .7 4.3 .2 .4 .2-.7 .3 2 .2 .9 .7-7.5 .2 1.1 .3 3.7 .2-1.6 .2 .8 .7 .2 .3 3 .2-4.1 .2-3 .3-1.5 .7 7 .2-2.1 .2-4.4 .3-1.9 .2-3.9 .7-2.1 .2-1.9 .3 6.1 .2 3.4 .2-1.1 .7 7.9 .3-2.4 .2-.5 .2 .7 .3 6.4 .7 7.1 .2 2.3 .2 1 .3-.2 .2 3.1 .7-3.6 .2 3.7 .3 1.4 .2 5 .2-.8 .7-2.2 .3-3.4 .2 2.3 .2-2.1 .3-1.1 .7-.5 .2-.9 .2-2.2 .3-6.3 .2 1.7 .7-7 .2-3.5 .3 .8 .2-3.2 .2-2.2 .7 4.3 .3 .5 .2 2.5 .2-.8 .3 3.1 .7 2.8 .2 2.8 .2 3 .3 1.1 .2-1.9 .7-6.2 .2-2.9 .3-2.2 .2-.2 .2 10.3 .7 10.4 .3 2 .2 2.7 .2 5.2 .3 1.5 .7-1.5 .2-3.3 .2 .8 .3 4 .2 1.2 .7 1.3 .2-.8 .3-5.2 .2-2.1 .2 .8 .7-2.4 .3-.8 .2-4.1 .2-2.1 .3-1.5 .7 .2 .2 1.9 .2-4.6 .3 .1 .2 2 .7-2.2 .2 3.4 .3-3.9 .2-5.4 .2-2.6 .7 7.4 .3-1.3 .2-1 .2-.2 .3-6.5 .7 3.9 .2 4.1 .2-.4 .3 2.4 .2-.5 .7-1.9 .2-.9 .3 .5 .2-2.6 .2-2.1 .7-11 .3-4.5 .2 1.8 .2-1.6 .3 3.6 .7 9 .2-3.4 .2 3.1 .3 3.4 .2 2.1 .7 14.1 .2 2.1 .3 1.7 .2 4 .2 1.1 .7 2.1 .3 1.6 .2 2.5 .2-2.6 .3-4.6 .7-15.4 .2-4.6 .2 .2 .3 4.7 .2-.4 .7-5.9 .2-1 .3-.2 .2-1.8 .2-3.1 .7-1.7 .3-1.9 .2 1.5 .2 8.1 .3 8.4 .7 25.4 .2 7.7 .2-.1 .3 4.7 .2 2.4 .7 6.9 .2 1.8 .3 2.2 .2-4.4 .2-2.2 .7-3.5 .3-2.4 .2-1.6 .2-2.5 .3 3.4 .7 5.5 .2-.9 .2-1.1 .3-1 .2-1.2 .7 5.9 .2-3 .3-1.8 .2 1.8 .2 0 .7-5.3 .3-2.6 .2-7.5 .2-1.2 .3 .3 .7 5.9 .2-2.2 .2 1 .3 6.2 .2-1.4 .7-.5 .2-2 .3-1.1 .2 2 .2 .3 .7 6.3 .3 3.4 .2 1.9 .2 1.7 .3 2.5 .7-5.3 .2-2.1 .2 1.7 .3-8.2 .2-7.1 .7-18.5 .2 .4 .3 1.2 .2 2.2 .2-1.7 .7-.9 .3 2 .2 1.7 .2 6 .3 3.4 .7-7.6 .2-1.5 .2-6.7 .3 4.2 .2-2.3 .7-.6 .2-.8 .3 .1 .2 .8 .2 0 .7 3 .3 4.8 .2 1.2 .2 1.3 .3 6.2 .7-1.7 .2-1.8 .2-2.9 .3-1.8 .2 .7 .7-4 .2 3.8 .3-5.5 .2 1.1 .2 .9 .7-2 .3 1.5 .2-.8 .2-3.9 .3 0 .7 11 .2 5.3 .2-1.1 .3 .5 .2-3.1 .7 5.7 .2-.1 .3 1.5 .2 2.7 .2-2.8 .7-6.2 .3 4.4 .2-4.8 .2 .4 .3-.2 .7-.5 .2 1.5 .2 .2 .3-1.3 .2 2.2 .7-4.8 .2-3.7 .2-.7 .3-1.1 .2-.5 .7-.5 .2-1 .3 2.3 .2 .1 .2 1.9 .7-4 .3-5.9 .2-3.7 .2 .2 .3-.8 .7 8.8 .2 4.6 .2 2.2 .3 .5 .2 1.9 .7 5.6 .2 4.7 .3 2.9 .2 .4 .2 1.3 .7-1.2 .3 .9 .2 6.8 .2-3.1 .3-2.6 .7-4.3 .2-3.3 .2-1.8 .3 2 .2 4.7 .7 1.7 .2 1.5 .3 3 .2 .3 .2-4.5 .7-2.9 .3-2.2 .2-3.8 .2 .5 .3-6.1 .7-17.3 .2-1 .2 1.9 .3 1.2 .2 1.1 .7 1.5 .2 2.8 .3-3.4 0-87.7 0 0-.3 0-.2 0-.7 0-.2 0-.3 0-.2 0-.2 0-.7 0-.3 0-.2 0-.2 0-.3 0-.7 0-.2 0-.2 0-.3 0-.2 0-.7 0-.2 0-.3 0-.2 0-.2 0-.7 0-.3 0-.2 0-.2 0-.3 0-.7 0-.2 0-.2 0-.3 0-.2 0-.7 0-.2 0-.3 0-.2 0-.2 0-.7 0-.3 0-.2 0-.2 0-.3 0-.7 0-.2 0-.2 0-.3 0-.2 0-.7 0-.2 0-.3 0-.2 0-.2 0-.7 0-.2 0-.3 0-.2 0-.2 0-.7 0-.3 0-.2 0-.2 0-.3 0-.7 0-.2 0-.2 0-.3 0-.2 0-.7 0-.2 0-.3 0-.2 0-.2 0-.7 0-.3 0-.2 0-.2 0-.3 0-.7 0-.2 0-.2 0-.3 0-.2 0-.7 0-.2 0-.3 0-.2 0-.2 0-.7 0-.3 0-.2 0-.2 0-.3 0-.7 0-.2 0-.2 0-.3 0-.2 0-.7 0-.2 0-.3 0-.2 0-.2 0-.7 0-.3 0-.2 0-.2 0-.3 0-.7 0-.2 0-.2 0-.3 0-.2 0-.7 0-.2 0-.3 0-.2 0-.2 0-.7 0-.3 0-.2 0-.2 0-.3 0-.7 0-.2 0-.2 0-.3 0-.2 0-.7 0-.2 0-.3 0-.2 0-.2 0-.7 0-.3 0-.2 0-.2 0-.3 0-.7 0-.2 0-.2 0-.3 0-.2 0-.7 0-.2 0-.3 0-.2 0-.2 0-.7 0-.3 0-.2 0-.2 0-.3 0-.7 0-.2 0-.2 0-.3 0-.2 0-.7 0-.2 0-.3 0-.2 0-.2 0-.7 0-.3 0-.2 0-.2 0-.3 0-.7 0-.2 0-.2 0-.3 0-.2 0-.7 0-.2 0-.3 0-.2 0-.2 0-.7 0-.3 0-.2 0-.2 0-.3 0-.7 0-.2 0-.2 0-.3 0-.2 0-.7 0-.2 0-.3 0-.2 0-.2 0-.7 0-.3 0-.2 0-.2 0-.3 0-.7 0-.2 0-.2 0-.3 0-.2 0-.7 0-.2 0-.3 0-.2 0-.2 0-.7 0-.3 0-.2 0-.2 0-.3 0-.7 0-.2 0-.2 0-.3 0-.2 0-.7 0-.2 0-.3 0-.2 0-.2 0-.7 0-.3 0-.2 0-.2 0-.3 0-.7 0-.2 0-.2 0-.3 0-.2 0-.7 0-.2 0-.3 0-.2 0-.2 0-.7 0-.3 0-.2 0-.2 0-.3 0-.7 0-.2 0-.2 0-.3 0-.2 0-.7 0-.2 0-.3 0-.2 0-.2 0-.7 0-.3 0-.2 0-.2 0-.3 0-.7 0-.2 0-.2 0-.3 0-.2 0-.7 0-.2 0-.3 0-.2 0-.2 0-.7 0-.3 0-.2 0-.2 0-.3 0-.7 0-.2 0-.2 0-.3 0-.2 0-.7 0-.2 0-.3 0-.2 0-.2 0-.7 0-.3 0-.2 0-.2 0-.3 0-.7 0-.2 0-.2 0-.3 0-.2 0-.7 0-.2 0-.3 0-.2 0-.2 0-.7 0-.3 0-.2 0-.2 0-.3 0-.7 0-.2 0-.2 0-.3 0-.2 0-.7 0-.2 0-.3 0-.2 0-.2 0-.7 0-.3 0-.2 0-.2 0-.3 0-.7 0-.2 0-.2 0-.3 0-.2 0-.7 0-.2 0-.3 0-.2 0-.2 0-.7 0-.3 0-.2 0-.2 0-.3 0-.7 0-.2 0-.2 0-.3 0-.2 0-.7 0-.2 0-.3 0-.2 0-.2 0-.7 0-.3 0-.2 0-.2 0-.3 0-.7 0-.2 0-.2 0-.3 0-.2 0-.7 0-.2 0-.3 0-.2 0-.2 0-.7 0-.3 0-.2 0-.2 0-.3 0-.7 0-.2 0-.2 0-.3 0-.2 0-.7 0-.2 0-.3 0-.2 0-.2 0-.7 0-.3 0-.2 0-.2 0-.3 0-.7 0-.2 0-.2 0-.3 0-.2 0-.7 0-.2 0-.3 0-.2 0-.2 0-.7 0-.3 0-.2 0-.2 0-.3 0-.7 0-.2 0-.2 0-.3 0-.2 0-.7 0-.2 0-.3 0-.2 0-.2 0-.7 0-.3 0-.2 0-.2 0-.3 0-.7 0-.2 0-.2 0-.3 0-.2 0-.7 0-.2 0-.3 0-.2 0-.2 0-.7 0-.3 0-.2 0-.2 0-.3 0-.7 0-.2 0-.2 0-.3 0-.2 0-.7 0-.2 0-.3 0-.2 0-.2 0-.7 0-.3 0-.2 0-.2 0-.3 0-.7 0-.2 0-.2 0-.3 0-.2 0-.7 0-.2 0-.3 0-.2 0-.2 0-.7 0-.3 0-.2 0-.2 0-.3 0-.7 0-.2 0-.2 0-.3 0-.2 0-.7 0-.2 0-.3 0-.2 0-.2 0-.7 0-.3 0-.2 0-.2 0-.3 0-.7 0-.2 0-.2 0-.3 0-.2 0-.7 0-.2 0-.3 0-.2 0-.2 0-.7 0-.3 0-.2 0-.2 0-.3 0-.7 0-.2 0-.2 0-.3 0-.2 0-.7 0-.2 0-.3 0-.2 0-.2 0-.7 0-.3 0-.2 0-.2 0-.3 0-.7 0-.2 0-.2 0-.3 0-.2 0-.7 0-.2 0-.3 0-.2 0-.2 0-.7 0-.3 0-.2 0-.2 0-.3 0-.7 0-.2 0-.2 0-.3 0-.2 0-.7 0-.2 0-.3 0-.2 0-.2 0-.7 0-.3 0-.2 0-.2 0-.3 0-.7 0-.2 0-.2 0-.3 0-.2 0-.7 0-.2 0-.3 0-.2 0-.2 0-.7 0-.3 0-.2 0-.2 0-.3 0-.7 0-.2 0-.2 0-.3 0-.2 0-.7 0-.2 0-.3 0-.2 0-.2 0-.7 0-.3 0-.2 0-.2 0-.3 0-.7 0-.2 0-.2 0-.3 0-.2 0-.7 0-.2 0-.3 0-.2 0-.2 0-.7 0-.3 0-.2 0-.2 0-.3 0-.7 0-.2 0-.2 0-.3 0-.2 0-.7 0-.2 0-.3 0-.2 0-.2 0-.7 0-.3 0-.2 0-.2 0-.3 0-.7 0-.2 0-.2 0-.3 0-.2 0-.7 0-.2 0-.3 0-.2 0-.2 0-.7 0-.3 0-.2 0-.2 0-.3 0-.7 0-.2 0-.2 0-.3 0-.2 0-.7 0-.2 0-.3 0-.2 0-.2 0-.7 0-.3 0-.2 0-.2 0-.3 0-.7 0-.2 0-.2 0-.3 0-.2 0-.7 0-.2 0-.3 0-.2 0-.2 0-.7 0-.3 0-.2 0-.2 0-.3 0-.7 0-.2 0-.2 0-.3 0-.2 0-.7 0-.2 0-.3 0-.2 0-.2 0-.7 0-.3 0-.2 0-.2 0-.3 0-.7 0-.2 0-.2 0-.3 0-.2 0-.7 0-.2 0-.3 0-.2 0-.2 0-.7 0-.3 0-.2 0-.2 0-.3 0-.7 0-.2 0-.2 0-.3 0-.2 0-.7 0-.2 0-.3 0-.2 0-.2 0-.7 0-.3 0-.2 0-.2 0-.3 0-.7 0-.2 0-.2 0-.3 0-.2 0-.7 0-.2 0-.3 0-.2 0-.2 0-.7 0-.3 0-.2 0-.2 0-.3 0-.7 0-.2 0-.2 0-.3 0-.2 0-.7 0-.2 0-.3 0-.2 0-.2 0-.7 0-.3 0-.2 0-.2 0-.3 0-.7 0-.2 0-.2 0-.3 0-.2 0-.7 0-.2 0-.3 0-.2 0-.2 0-.7 0-.3 0-.2 0-.2 0-.3 0-.7 0-.2 0-.2 0-.3 0-.2 0-.7 0-.2 0-.3 0-.2 0-.2 0-.7 0-.3 0-.2 0-.2 0-.3 0-.7 0-.2 0-.2 0-.3 0-.2 0-.7 0-.2 0-.3 0-.2 0-.2 0-.7 0-.3 0-.2 0-.2 0-.3 0-.7 0-.2 0-.2 0-.3 0-.2 0-.7 0-.2 0-.3 0-.2 0-.2 0-.7 0-.3 0-.2 0-.2 0-.3 0-.7 0-.2 0-.2 0-.3 0-.2 0-.7 0-.2 0-.3 0-.2 0-.2 0-.7 0-.3 0-.2 0-.2 0-.3 0-.7 0-.2 0-.2 0-.3 0-.2 0-.7 0-.2 0-.3 0-.2 0-.2 0-.7 0-.3 0-.2 0-.2 0-.3 0-.7 0-.2 0-.2 0-.3 0-.2 0-.7 0-.2 0-.3 0-.2 0-.2 0-.7 0-.3 0-.2 0-.2 0-.3 0-.7 0-.2 0-.2 0-.3 0-.2 0-.7 0-.2 0-.3 0-.2 0-.2 0-.7 0-.3 0-.2 0-.2 0-.3 0-.7 0-.2 0-.2 0-.3 0-.2 0-.7 0-.2 0-.3 0-.2 0-.2 0-.7 0-.3 0-.2 0-.2 0-.3 0-.7 0-.2 0-.2 0-.3 0-.2 0-.7 0-.2 0-.3 0-.2 0-.2 0-.7 0-.3 0-.2 0-.2 0-.3 0-.7 0-.2 0-.2 0-.3 0-.2 0-.7 0-.2 0-.3 0-.2 0-.2 0-.7 0-.3 0-.2 0-.2 0-.3 0-.7 0-.2 0-.2 0-.3 0-.2 0-.7 0-.2 0-.3 0-.2 0-.2 0-.7 0-.3 0-.2 0-.2 0-.3 0-.7 0-.2 0-.2 0-.3 0-.2 0-.7 0-.2 0-.3 0-.2 0-.2 0-.7 0-.3 0-.2 0-.2 0-.3 0-.7 0-.2 0-.2 0-.3 0-.2 0-.7 0-.2 0-.3 0-.2 0-.2 0-.7 0-.3 0-.2 0-.2 0-.3 0-.7 0-.2 0-.2 0-.3 0-.2 0-.7 0-.2 0-.3 0-.2 0-.2 0-.7 0-.3 0-.2 0-.2 0-.3 0-.7 0-.2 0-.2 0-.3 0-.2 0-.7 0-.2 0-.3 0-.2 0-.2 0-.7 0-.3 0-.2 0-.2 0-.3 0-.7 0-.2 0-.2 0-.3 0-.2 0-.7 0-.2 0-.3 0-.2 0-.2 0-.7 0-.3 0-.2 0-.2 0-.3 0-.7 0-.2 0-.2 0-.3 0-.2 0-.7 0-.2 0-.3 0-.2 0-.2 0-.7 0-.3 0-.2 0-.2 0-.3 0-.7 0-.2 0-.2 0-.3 0-.2 0-.7 0-.2 0-.3 0-.2 0-.2 0-.7 0-.3 0-.2 0-.2 0-.3 0-.7 0-.2 0-.2 0-.3 0-.2 0-.7 0-.2 0-.3 0-.2 0-.2 0-.7 0-.3 0-.2 0-.2 0-.3 0-.7 0-.2 0-.2 0-.3 0-.2 0-.7 0z"/></defs><g clip-path="url(#paca8a204ca)"><use href="#m63d2969a16" x="0" y="1503.25" class="c31"/></g><path d="M920.64 1197.97v-210.72" class="c17"/><path d="M962.88 1197.97v-210.72" class="c17"/><path d="M1006.08 1197.97v-210.72" class="c17"/><path d="M1048.32 1197.97v-210.72" class="c17"/><path d="M1091.04 1197.97v-210.72" class="c17"/><path d="M1133.76 1197.97v-210.72" class="c17"/><path d="M1176.48 1197.97v-210.72" class="c17"/><path d="M1218.72 1197.97v-210.72" class="c17"/><path d="M1261.92 1197.97v-210.72" class="c17"/><path d="M903.84 1191.73l364.32 0" class="c17"/><text x="896.98" y="1195.47" textLength="21.1" lengthAdjust="spacingAndGlyphs" class="c0">−60</text><path d="M903.84 1157.65l364.32 0" class="c17"/><text x="896.98" y="1161.38" textLength="21.1" lengthAdjust="spacingAndGlyphs" class="c0">−50</text><path d="M903.84 1123.57l364.32 0" class="c17"/><text x="896.98" y="1127.29" textLength="21.1" lengthAdjust="spacingAndGlyphs" class="c0">−40</text><path d="M903.84 1089.49l364.32 0" class="c17"/><text x="896.98" y="1093.2" textLength="21.1" lengthAdjust="spacingAndGlyphs" class="c0">−30</text><path d="M903.84 1055.41l364.32 0" class="c17"/><text x="896.98" y="1059.11" textLength="21.1" lengthAdjust="spacingAndGlyphs" class="c0">−20</text><path d="M903.84 1021.33l364.32 0" class="c17"/><text x="896.98" y="1025.02" textLength="21.1" lengthAdjust="spacingAndGlyphs" class="c0">−10</text><path d="M903.84 987.25l364.32 0" class="c17"/><text x="896.98" y="990.93" textLength="6.36" lengthAdjust="spacingAndGlyphs" class="c0">0</text><text x="869.88" y="1092.5" transform="rotate(-90 869.88 1092.5)" textLength="65.78" lengthAdjust="spacingAndGlyphs" class="c4">Drawdown %</text><path d="M920.6 987.1l.7 9.3 .2 5.2 .3 .4 .4-6 .7 3.6 .3-2 .2-6.3 .2-1.1 .3-3.1 .7 2.5 .2 .3 .2 .9 .3-.5 .2-1.3 .7-1.9 .2 5.3 .3 1 .2 2.9 .2 .5 .7 .7 .3-3.6 .7 5.5 .7-1.5 .2 .7 .7-11.5 .9 5.6 .3 2.9 .4-3.6 .7-4.9 .3 5.9 .2 1.5 .2-1.5 .3 7.2 .9-11.6 .2-1.5 1.2 25.8 .2 5.6 .3-2.8 .4-12 .7 10.7 .3-1.7 .4 14.4 .3-6 .7-7.9 .2-5.2 .5-15 .2-1.2 .7 6.4 .2-1.7 .3-5 .2-1.5 .2-2.9 .7 5.5 .3 .4 .2 1.4 .5-3.8 .7-3.5 .2 11.6 .2 2.4 .3 7.9 .2 4.1 .7-4.9 .2-4.3 .3 .7 .2 7.4 .2 12.8 1 18.7 .2-3 .5-1.6 .7 9 .2-4.2 .2-10.3 .3-3.6 .9 14.2 .5-14.6 .4-9.7 .7-9.3 .3-.7 .2-7.4 .2-3 .3-4.7 .7-7.5 .2 19.5 .5 18.4 .2 .3 1.2 12 .2 1.2 .2-2.9 .7-2.3 .3 .9 .4 5.4 .3 6.4 1.6 35.7 .7 10.9 .2 1.5 .3-1.3 .2 5.2 .2-.4 .7-15.7 .3-2 .2-.5 .2 .3 .3 4.5 .7 10 .2 .1 .2-.8 .3-1.8 .2-5.4 .7 0 .2 6.3 .7 9.3 1.2-13 1.2-29.9 .9-28 .7 .5 .5 6.5 .2-2.2 .2-3.6 1.2-25.9 .2-1 .3 10.5 .7 23.2 .2 .8 .2-7.3 .3 .9 .2-2.7 .7-6.6 .2-.9 .3 .2 .2-3.9 .2-1.4 .7-7 .3 2.8 .2 .1 .5 14.5 .9 9.7 .2 2 .3-.9 .2 1 .7-.8 .5 10.6 .2 2.5 .2-.7 1-5.6 .2-.8 .2-3.5 .3 .2 .9 30.5 .2-.8 .5 .5 .7-9.3 .9-34.6 .7-1.8 .3 7.1 .2 1.4 .2-.1 .3-3.9 .7-7.8 .7-17.9 .2-13.4 .7 19.9 .5 21 .2 9.2 .2 1.7 .7 14.8 .3 .6 .2 2.2 .2-1.6 .3-.4 .7 10 .4 14.2 .5 7.6 .7-4.5 .2-3.1 .3-6.1 .2 1.6 .9 11.7 .5 21.5 .2-4.8 .3 .8 .7-3.4 .2-9.2 .7-12.3 .7 5.8 .5 8.5 .2 0 1.9 38.4 .7-6.7 .9-27.3 .7-4.4 .2 .7 .3 2.4 .2-2 .2 3.4 .7 15.1 .3 9.7 .2-4.2 .2-.7 .3-4.9 .9-8.2 .5-12.9 .2-2.2 .7-1.8 .2 .9 .3 2.9 .2 .7 .9-21.7 .3 .4 .2 3.1 .2-.6 .3 7.5 .7 4.2 .2 .2 .5 2.7 .2 5.6 .9-1.5 .3-2 .2-6.4 .2 .5 .7-5.8 .3-4.5 .7 7.5 .7 4.1 .2 3.6 .2-2.8 .3-5.1 .2-1.4 .9 12.2 .3 .9 .2 3.7 .2-.5 1-10.9 .2 2.7 .2 4 .3 7.4 .9 15.4 .2-1.5 .3 2.6 .2-5.9 .7 3.9 .2 2.3 .3 .2 .2 3 .2 1.1 .7-6.8 .3-.9 .2-1.4 .2-3.7 .3-5.5 .7-8.1 .4 2.5 .3-.4 .2 2.8 .7-9 .2-4.8 .5-13.7 .2-2.3 .7-1.8 .3-5.5 .7 12.2 .7 1.6 .2-.4 .2-.9 .3 6 .2 13.1 .9 15.4 .3 2.1 .2-1.7 .2-5 .7-11.5 .3-10.7 .2-5.6 .2 .3 .3-1.7 .7 .6 .2 4.2 .2-1.6 .3 2.4 .2 0 .7-2.4 .2 1.2 .3-2.2 .2-4.3 .2 2.7 .7 4.7 .3 3 .2-.4 .5-6.6 1.1-20.6 .3-8.1 .9-12.7 .2-1.5 .3-2.8 .2 4.3 .2-1.2 1-14.1 .4-9 .3 2.4 .7 8.7 .4-.8 .5 7.4 .7 8.6 .2 .5 .3-2.8 .2 4.8 .9 0 .5-5.2 .5 7 .7-1.1 .2-3.2 .2 5 .5-6.3 .7-12.4 .2-.9 .3-3 .4 10.2 .7-.5 .3-11.1 .2 4.7 .2 10.6 .3 3.5 .7 1.7 .2 1.4 .5-1.9 .2 .3 1.2 5.7 .4-7.9 .7-3.9 .5-5.1 .2-7.1 .3-1.1 .7 0 .9 9.6 .7-8.9 .5-8.3 .2-.2 .2-1.1 .7-1.2 .3 3.5 .2-.9 .2-3.2 .3-.4 .9-7 .2 5.7 .3 1.2 .2-1.6 .7 4.6 .2-.1 .3-.5 .2 4.3 .2-2.9 .7-2.3 .3 10.1 .2 2.3 .5 10 .7-10.5 .2-7.1 .2-3.5 .5-4.3 .7-14 .2-2.4 .3-7.1 .2 1.9 .2 5.2 .7 9 .3 7.2 .2-23.3 .2 28 .3 4.9 .7 3.4 .2 .4 .5-6.7 .2-3.2 .7-5.2 .2 2.4 .3 5.8 .2 1.3 .2-3.8 .7-6.2 .7-11.5 .3-.8 .7 2 .2 1.1 .7 11.6 .7 1.2 .5 5.1 .2-4.5 .2-2.3 1 11.3 .2 7.8 .5 1.4 .7-2.6 .4-7.4 .3 .4 .2-5.4 .9-5.3 .3-5.1 .2 4.6 .2-5.1 1-9.8 .2-3.3 .2 .2 .3 3.5 .7-1.1 .2-2.7 .2-.9 .3-3.5 .2 1.4 .7 9.4 .2 .8 .7-5.3 .7 1.1 .3 3.6 .2-.9 .2 3.8 .3 .8 .7 3.3 .2-.1 .7-17.9 .9 4.8 .3 1.1 .2 3.4 .2 .1 .7-4.9 .3-4.5 .7 8.7 .7 2.4 .4-2.8 .5-8.3 1.6 0 .7 5.5 .5 8.7 .5 5.2 .7 1.9 .2 1.8 .2-3.7 .3 5.2 .2 .4 .7 33.3 .2-1.7 .5-7.6 .2 2.6 .7 1.4 .3 7 .2-1 .2-6.4 .3 3.7 .9-7 .2-.3 .3-.9 .9-8.4 .2-.2 .3-6.5 .2-2.7 .2 1.9 .7-3.1 .3-2 .2-3.3 .2 4.3 .3 .8 .9 12.6 .2-3.4 .3-.5 .2 2.3 .7-24.7 .2 1.6 .5-3 .2-2.3 .7-.2 .3 1.1 .4 10.1 .3 .1 .7-3.8 .2-6.5 .2 .5 .3-3.7 .2 .3 .7 2 .2 1.1 .7 29.6 .7 11.1 .3-3.1 .2 2.5 .2-1.9 .3 3.9 .7-1.4 .7-13.4 .2 1.8 .7 6.8 .2-.8 .3 5.4 .4-.6 .7 11 .3 1.1 .7 11.4 .7 6.2 .4-4.9 .5-8.7 .7-4.3 .2-3.8 .3-.2 .2-1.1 .2 2.8 .7-.5 .3-.6 .4-8.3 .3-5 .7-1.9 .2-.3 .5 6.4 .2-3.7 .7 3 .2-2.9 .5 3.3 .2-2.3 .7 6 .3-.4 .2 3.8 .5 3.1 .7 6.8 .4 9.4 .3 .7 .2 3.3 .7 2.2 .5-8.9 .2-2.6 .2-4.3 .7-5.3 1-13.8 .7 .9 .2 3 .2 4.9 .3-.2 .2 3.2 .9-21.5 .5 7.3 .2-3.5 .7 4.9 .3-2.2 .7 11.3 .7 4.3 .2 .4 .2-.7 .3 2 .2 .8 .7-7.5 .2 1.1 .3 3.8 .2-1.6 .2 .8 .7 .2 .3 3 .4-7.1 .3-1.6 .7 7 .2-2 .2-4.5 .3-1.8 .2-4 .7-2 .2-1.9 .5 9.4 .2-1 .7 7.9 .3-2.4 .2-.5 .2 .7 .3 6.3 .9 9.5 .2 1 .3-.3 .2 3.2 .7-3.6 .2 3.6 .3 1.5 .2 5 .9-3.1 .3-3.3 .2 2.2 .2-2.1 .3-1.1 .7-.5 .2-.9 .2-2.2 .3-6.3 .2 1.8 .9-10.5 .3 .8 .4-5.5 .7 4.3 .3 .5 .2 2.5 .2-.7 .3 3 .7 2.9 .4 5.8 .3 1.1 .9-8.2 .5-5 .2-.3 .2 10.4 1 12.3 .2 2.8 .2 5.2 .3 1.5 .7-1.5 .2-3.3 .2 .8 .3 3.9 .2 1.2 .7 1.4 .2-.8 .3-5.3 .2-2 .2 .8 1-3.3 .2-4.1 .5-3.6 .7 .2 .2 1.9 .2-4.5 .3 .1 .2 1.9 .7-2.2 .2 3.5 .7-11.9 .7 7.4 .5-2.3 .2-.2 .3-6.5 .7 3.8 .2 4.1 .2-.4 .3 2.5 .2-.6 .9-2.7 .3 .4 .4-4.6 1-15.6 .2 1.8 .2-1.5 1 12.6 .2-3.4 .7 8.6 .7 14.1 .5 3.7 .2 4.1 .2 1 .7 2.2 .3 1.6 .2 2.5 .2-2.6 1.2-24.6 .2 .2 .3 4.7 .2-.4 .9-6.9 .3-.3 .2-1.7 .2-3.1 .7-1.8 .3-1.8 .2 1.4 1.4 49.6 .2 0 .3 4.6 1.4 13.4 .2-4.5 .2-2.1 .7-3.6 .7-6.5 .3 3.4 .7 5.6 .7-3.1 .2-1.1 .7 5.8 .5-4.7 .2 1.7 .2 .1 1-8 .2-7.4 .2-1.3 .3 .3 .7 5.9 .2-2.2 .2 1 .3 6.2 .2-1.3 .7-.6 .5-3 .2 1.9 .2 .3 .7 6.4 .5 5.3 .2 1.6 .3 2.6 .9-7.5 .2 1.8 .5-15.3 .7-18.5 .2 .4 .3 1.1 .2 2.3 .2-1.7 .7-.9 .5 3.7 .5 9.3 .9-9.1 .2-6.7 .3 4.2 .2-2.3 .7-.6 .2-.8 .3 .2 .2 .8 .2-.1 .7 3 .3 4.8 .4 2.5 .3 6.3 .7-1.8 .2-1.7 .5-4.7 .2 .6 .7-3.9 .2 3.7 .3-5.5 .4 2.1 .7-2.1 .3 1.6 .2-.9 .2-3.9 .3 0 .9 16.3 .2-1 .3 .4 .2-3.1 .7 5.8 .2-.2 .3 1.6 .2 2.6 .2-2.7 .7-6.2 .3 4.3 .2-4.7 .2 .4 .3-.3 .7-.5 .2 1.6 .2 .2 .3-1.3 .2 2.1 .7-4.7 .2-3.7 .2-.7 .3-1.1 .2-.5 .7-.5 .2-1 .3 2.2 .2 .2 .2 1.8 .7-3.9 .5-9.6 .2 .1 .3-.8 .7 8.9 .2 4.6 .2 2.1 .3 .5 .9 7.5 .5 7.7 .2 .4 .2 1.3 .7-1.2 .3 .9 .2 6.7 .5-5.7 .7-4.2 .4-5.2 .3 2 .2 4.8 .7 1.6 .2 1.6 .3 3 .2 .2 .2-4.4 .7-3 .3-2.2 .2-3.8 .2 .6 1-23.5 .2-.9 .5 3.1 .2 1.1 .7 1.5 .2 2.7 .3-3.3 0 0" clip-path="url(#paca8a204ca)" style="fill:none;stroke:#ff0000;stroke-linecap:square"/><path d="M903.84 1197.97v-210.72" class="c1"/><path d="M1268.16 1197.97v-210.72" class="c1"/><path d="M903.84 1197.97l364.32 0" class="c1"/><path d="M903.84 987.25l364.32 0" class="c1"/><text x="1086.11" y="981.09" textLength="269.67" lengthAdjust="spacingAndGlyphs" class="c6">PBR: Drawdown (%), min drawdown -43.79%</text><path d="M43.68 1438.93l364.32 0 0-210.72-364.32 0z" class="c5"/><path d="M60.48 1438.93v-210.72" class="c24"/><text transform="translate(47.84 1481.05) rotate(-45)" textLength="41.78" lengthAdjust="spacingAndGlyphs" class="c3">2022-01</text><path d="M102.72 1438.93v-210.72" class="c24"/><text transform="translate(90.07 1481.05) rotate(-45)" textLength="41.78" lengthAdjust="spacingAndGlyphs" class="c3">2022-07</text><path d="M145.92 1438.93v-210.72" class="c24"/><text transform="translate(133 1481.05) rotate(-45)" textLength="41.78" lengthAdjust="spacingAndGlyphs" class="c3">2023-01</text><path d="M188.16 1438.93v-210.72" class="c24"/><text transform="translate(175.23 1481.05) rotate(-45)" textLength="41.78" lengthAdjust="spacingAndGlyphs" class="c3">2023-07</text><path d="M230.88 1438.93v-210.72" class="c24"/><text transform="translate(218.16 1481.05) rotate(-45)" textLength="41.78" lengthAdjust="spacingAndGlyphs" class="c3">2024-01</text><path d="M273.12 1438.93v-210.72" class="c24"/><text transform="translate(260.62 1481.05) rotate(-45)" textLength="41.78" lengthAdjust="spacingAndGlyphs" class="c3">2024-07</text><path d="M316.32 1438.93v-210.72" class="c24"/><text transform="translate(303.55 1481.05) rotate(-45)" textLength="41.78" lengthAdjust="spacingAndGlyphs" class="c3">2025-01</text><path d="M358.56 1438.93v-210.72" class="c24"/><text transform="translate(345.78 1481.05) rotate(-45)" textLength="41.78" lengthAdjust="spacingAndGlyphs" class="c3">2025-07</text><path d="M401.28 1438.93v-210.72" class="c24"/><text transform="translate(388.68 1481.1) rotate(-45)" textLength="41.78" lengthAdjust="spacingAndGlyphs" class="c3">2026-01</text><text x="225.83" y="1494.13" textLength="23.9" lengthAdjust="spacingAndGlyphs" class="c4">Date</text><path d="M43.68 1435.57l364.32 0" class="c24"/><text x="36.7" y="1439.58" textLength="15.9" lengthAdjust="spacingAndGlyphs" class="c0">0.5</text><path d="M43.68 1397.65l364.32 0" class="c24"/><text x="36.7" y="1401.44" textLength="15.9" lengthAdjust="spacingAndGlyphs" class="c0">1.0</text><path d="M43.68 1359.25l364.32 0" class="c24"/><text x="36.7" y="1363.31" textLength="15.9" lengthAdjust="spacingAndGlyphs" class="c0">1.5</text><path d="M43.68 1321.33l364.32 0" class="c24"/><text x="36.7" y="1325.17" textLength="15.9" lengthAdjust="spacingAndGlyphs" class="c0">2.0</text><path d="M43.68 1283.41l364.32 0" class="c24"/><text x="36.7" y="1287.04" textLength="15.9" lengthAdjust="spacingAndGlyphs" class="c0">2.5</text><path d="M43.68 1245.01l364.32 0" class="c24"/><text x="36.7" y="1248.9" textLength="15.9" lengthAdjust="spacingAndGlyphs" class="c0">3.0</text><text x="14.88" y="1333.69" transform="rotate(-90 14.88 1333.69)" textLength="56.71" lengthAdjust="spacingAndGlyphs" class="c4">Normalized</text><path d="M60.3 1397.6l.7-1 1-2.3 .7 .8 .2 .7 .2-.2 .3-.8 .2-4.6 .7 .5 .2 1.1 .3-.1 .2 .3 .2 .8 1 1.9 .2 .6 .2 1.3 .3-.2 .7-.1 .2-.3 .5-3.6 .2-6.1 .9 .6 .5 .9 .2-.3 .7-.3 .5-.6 .2-.1 .3-2.6 .7 .3 .2-.1 .2 .1 .3 .4 .2 .1 .9-.8 .3-2.2 .2 .5 .2 0 .7 1.2 .3 .1 .2 .2 .5 1.2 .9-1.8 .2-.8 .3-14 .2 .2 .7 2.3 .2 .2 .3 1 .2-.7 .2 .2 .7-1.7 1-.8 .7-16.4 .2-.5 .2 3.5 .3 1.2 .2 2 .7 2.9 .2 .2 .3 1.9 .2 .4 .2-1.3 1-2 .2-2.1 .2-.9 .3 .3 .7 5.1 .2 0 .2-.6 .3-2.1 .2 .9 .7-1.2 .2 .2 .3 .5 .4 4.6 .7 4.3 .3-.9 .2 .5 .2 1.9 .3 .6 .7 2.9 .4 4.3 .3-.3 .2 .8 .7 .9 .2-.1 .3 .5 .2-2.5 .2-1.1 .7-2.7 .3-.4 .2-.1 .2 .5 .3-.6 .7 1.1 .2 3.5 .2 .9 .3 .4 .2 .9 .7 .4 .2-1 .5-.1 .2-1.9 1-3.8 .4-4.3 .3 1 .7-2.9 .2 1.1 .2 .4 .3 2.9 .2-.7 .7 2.5 .2-1 .5-5.5 .2-1.4 .7-.6 .3-.6 .2-2.4 .2 1.6 .3 .1 .7-.3 .2 1.8 .2-.8 .3-2.7 .2-.7 .7-5.1 .2 1.3 .7 9.1 .7 2.1 .3 .1 .2-.9 .2 0 .3-.2 .7-1.3 .2-1.2 .5 2.3 .2-3.7 .7-4.1 .2 .1 .3-1.6 .4-.6 .7 5.6 .3 .8 .2-2.7 .2 .1 .3-.7 .7 2.1 .4 2.2 .3-.8 .2 1.1 .7-1.1 .2 .1 .5-3.9 .2-4.2 1.2-4.8 .2 1.9 .3 .8 .7 .9 .7-3.1 .2-2 .7-1.9 .5-.1 .2 0 .2 1.4 1.2 12.3 .2-.5 .3 .8 .7-2.8 .2-2.2 .2 1.7 .3-2.2 .2-4.7 .7-3.1 .2-.1 .3-.6 .4 2.8 .7 2.1 .5 5.2 .5-1.9 .7 .9 .2-1.9 .2 .5 .3-.1 .2-.8 .7-3.3 .2-.6 .3 3.3 .2 .3 .2 3 .7 5.8 .3-1.7 .2-.5 .2 1.4 .3 .3 1.4-6.5 .2-.4 .7-2.3 .2-2.8 .5-1 .2 1.4 .7-.3 .3 .9 .2-.7 .2 .9 .3-.4 .9 4.1 .5-2.4 .2-1.9 .7-2.9 .2-.1 .3-.3 .2-2.6 .2 .2 .7 1 .3-6.5 .2 19 .2 3.4 .3 1.6 .9-8.3 .2-.5 .3 1.2 .2 2.5 .7 4.6 .2 2.9 .3-2.1 .2-.6 .2-1.6 .7-2.5 .5-3.5 .2 .8 .3 2.1 .7 2 .2 1.3 .2-.1 1.4-6.5 .3 .7 .2-.2 .2 1.5 1 3.1 .2 .4 .2 1.7 .3 .3 .7-2.1 .2 .6 .2-1.4 .5-9.1 .9-3.6 .3 .5 .4 2.9 1 4.8 .2 .3 .2 1.5 .3 .5 .7 .1 .4 2.3 .3-1.4 .2 0 .7 1 .2-.9 .3 .3 .2 1.1 .2-1.2 .7 1.5 .3 1.4 .2 .6 .5-1.1 .7-.5 .2-.7 .2-1.7 .5-11.4 .7 1 .2-1 .7 10.9 .7-3.1 .3 .1 .2-.8 .2-2 .3 1.2 .7 2.7 .2 1.4 .2-1.9 .3-.4 .9 5.3 .7 10.8 1.2 3.7 .2 1.8 .2-1.2 .3-1.9 .7-2.7 .4 3.7 .3 2.3 .2-.3 .9-1.7 .3-.9 .4-.3 .7-1.9 .3-.3 .2 1.8 .5-2.8 .7 3.8 .2-1.1 .5 1.9 .2 3.3 .7-1.6 .2-1.2 .3-.1 .2-3 .2 0 1-2.9 .2-.2 .2 1.3 .3-.4 .7 4 .2 2.4 .2 .2 .5 3.8 .7 .3 .2 .7 .3-2 .2 1 .2-1.3 .7-2.7 .7 4.4 .3-.5 .7 .9 .2 .7 .2-.3 .3-1.3 .2 1.6 .7 1.3 .2-.6 .3-2.3 .2 2.2 .2-1.7 .7-1.9 .5-2.5 .2 .3 .3 .5 .7-2.7 .2 2.2 .2 .4 .3-1.5 .2 1 .7 1.2 .2 .9 .3 .4 .2-1.4 .2-.7 .7-.1 .3-1 .2 .4 .2-.5 .3 .7 .9-3.9 .2 .3 .5 2 .7 0 .2 1 .3-2.1 .2 .9 .2-1.3 .7 .5 .3-2.1 .4-1.8 1 2.3 .2 1.5 .2-.5 .5 3.2 .7-2.7 .2 1.2 .3-.3 .2-2.7 .9-3.4 .3 2.9 .2-.1 .2-.3 .3 2.3 .7 1 .4 5.7 .3 1.1 .9-5.3 .2-.3 .3-1.7 .2-.4 .2-3.3 1 5.9 .2-.1 .2-1.5 .3 .3 .7 2.7 .2 2.9 .2 .4 .5-2.8 .7 1.4 .2-1.5 .3-.1 .4-7.6 .7 1.3 .3-.9 .4 2 .3-.6 .7-2.8 .2 .6 .2-1.6 .3-.5 .2 3.7 .7 .6 .2-1.2 .3 3.3 .2 .6 .2-.7 .7 .7 .3 1.4 .2-.5 .5-4.2 .9-3.9 .2-2.3 .3 .4 .2 1.2 .7 4.3 .7-10.7 .2-2.3 .7-3.2 .3-.3 .2 .5 .2-1.3 .3 .2 .7 1.7 .2-.2 .2-.7 .3 .5 .2-1.5 .7 2.7 .2 1.5 .3 2.2 .2-1.3 .2-2.4 1 2.9 .2 1.6 .2-1.1 .3 .6 .7-.5 .2 .6 .2 1.8 .3-1.8 .2-.7 .7-.9 .2 .7 .3-.9 .2-2 .9-.5 .3 .1 .2 1.7 .2-1.2 .3 .1 .7-1.6 .4 4.4 .2-2.5 .3 .3 .7-.3 .2 1.5 .2-.1 .3-2.3 .2-.2 .7-2.1 .5-.4 .4-2.4 .7 2.5 .3 1.4 .4 1 .3 .5 .7-.2 .4-2.6 .3 .1 .2 .2 .7-2 .5-2.5 .2-.1 .2 .5 .7-1.8 .5-4.1 .2 .9 .3 .1 .7 2 .2 2.8 .2-.5 .5 3.6 .7-1.6 .2-.1 .3-.4 .4-6.7 .7-1.3 .3 .7 .2-.3 .2 0 .3-.8 .7 5.6 .2 .1 .2 .3 .3 1 .2 .3 .7 .3 .5 3.8 .2 .2 .2 .4 1 4.7 1.4-6.1 .4 .8 .5-1.1 .7 .8 .5-.6 .2-.1 .2-1 .7-1.6 .3-2.8 .2-1 .2-.2 .3 .1 .7 1.5 .2 .1 .2-2 .3 .4 .2-1 .7 1.4 .2 .7 .3 1.2 .4 3.7 1-.6 .2-.5 .5 1.1 .7 .6 .2-1.1 .2 .4 .3-1.5 .2-.6 .7-3.6 .2 1.2 .3-1.2 .2 1 .2-2.2 .7-2.5 .3-2.1 .2 2 .2-2.3 .3-.1 .7-.1 .2 1.3 .2 .5 .5-1.8 .7-.2 .2 .5 .3-.8 .2 .1 .2-.4 .7-8.6 .5 .2 .2-3.4 .3 .2 .7-4.1 .2 .1 .2 0 .3-.1 .9 6.5 .2 .2 .3 .5 .2-2.7 .2-.3 .7 .4 .5-2.4 .2 0 .3 .8 1.1-2 .3 0 .2-.3 .7 .4 .2-.4 .3 .2 .2 .5 .2 .2 .7 1.2 .5 4.5 .2-.7 .3-1.3 .9 2.7 .2-1.1 .3 .2 .2-2 .7-.9 .2-1.1 .3-.4 .4-1.3 .7-3.1 .3 1.1 .2 .1 .2 .6 .3 1.1 .7-1.6 .2 .4 .2-1.1 .3 1.5 .2-.5 1.2-1.5 .2-26.6 1.6-15.3 .3 2.2 .7 10.3 .2-3.5 .2 2.1 .3-.8 .2-1.9 .7 1 .2 .6 .3 3.9 .2 .7 .2-.2 1-4.3 .7-2.9 .9-1.1 .2-1.7 .3 2.8 .2-.2 .7-6.1 .2-4.8 2.1-12.4 .3 .3 .7 .7 .2 .9 .2 .3 .5-.9 .7-16.4 .2 2.4 .3 .5 .2 3.3 .2-.6 1.2 10.8 .2 4.1 .3-.7 .7 3.4 .2-.6 .2-1.4 .3 2.6 .2-.6 .7-2.8 .9-9.1 .7 1 .5 3.9 .5 2.7 .7-11.1 .2-1.1 .2 .5 .3-4.2 .2-10.2 1.2 8.9 .4 5.3 1-12.9 .2 .9 .2-8.2 .3 1.3 .7-2 .2 18.1 .2-1.3 .3-2.2 .2 .3 .9-10.3 .5 3.7 .2 7.5 .7 31.5 .3 .3 .2 1.7 .2-.6 .3 1.7 .7 3.2 .4 2.8 .3 .2 .2 1.1 .7-3.3 .7 12.6 .2 .5 .7-2 .7 5.5 .3-1.8 1.1-23.3 .3 1.8 .2 5.6 .7-2.6 .5-6 .2-1.2 .2 3.1 .7-.1 .3-1.9 .4 10.2 .3-3 .7 .3 .2 1.2 .5-13.1 .2-4 .7 1.4 .7 13.9 .2-.9 .7 3.7 .5-4.3 .2 .3 1.2-11.9 .2 2.5 .3-1.8 .2 3.3 .7 4.5 .2-.2 .3 2.1 .2-.6 .2 2.2 .7-9.7 .3-.9 .4-6.2 .3-.6 .7 .6 .2 5.1 .2-.6 .5 3.9 .7 .7 .2 1.4 .3-1.3 .2 2.4 .2 4.5 .7-5.4 .3 .6 .2-5.4 .2-2.6 .3 .4 .7 6.3 .2-1.6 .5 3.6 .2-.1 .7-8 .5-11.1 .2 1.1 .2 3.3 .7 4.5 .3-1.4 .4 2.5 1-6.7 .2-3 .2 1.1 .5-1.8 .7 2.8 .2 .2 .3 2.7 .2 .3 .2-.9 .7-6 .5-7.4 .2 .1 .3-6 1.1-13.1 .3 3 .2 5.8 .7-14.7 .2 27.4 .3-4.7 .2 .1 .2-5.4 1.2 13.6 .2 .1 .3-1.1 .9-6.4 .2 .5 .3-1.2 .2-.5 1.2-7.5 .2-.4 .2-1.3 .7 0 .5-3.6 .2-4.7 .3-1.1 .7 4.2 .2-3.7 .7 5.9 .7 6.6 .2-2.1 .3-.2 .2 .6 .2 2.7 1 8.7 .2 2.3 .2 3.4 .3 6.9 .9 5.4 .2 4.7 .5 2.2 .7 6 .2-3.9 .3 2.1 .2 0 .2-.8 .7-.3 .3-2.6 .2 1.5 .2 2.2 .3-4.6 .7-.4 .2 .4 .2 0 .3-.8 .2 .4 1.2 11.5 .2 .4 .2-1.6 .7 3.6 .5-1.8 .2-1 .3 4.1 .7-.4 .2-1.7 .2-.1 .5-2.2 .7-4.7 .5 2.9 .2 .6 .2-3.7 .7 7.6 .3-.5 .2-.1 0 0" clip-path="url(#p33f57dc657)" style="fill:none;stroke:#17becf;stroke-linecap:square"/><path d="M60.3 1397.6l1-.1 1.4-.4 .7-.2 .2-.2 .9-.5 .7-.4 1.7-.1 1.1 0 .3-.1 .2-.4 .7-.3 .9-1.1 .7-.3 1-1.1 .7-.3 .9-1.2 .7-.2 .9-1.2 .7-.3 1-.7 .7-.2 .4-.5 .5-1.5 .7-.6 .9-2.1 .7-.5 1-2.1 .7-1.1 .7-2.8 .2-.7 .7-.6 .7-1.4 .2-.5 .7-.5 1-2.1 .7-.3 .9-1.3 .7-.4 .7-.9 .2-.1 1.2 .1 1.4 .8 .7 1.2 .7 .4 .7 1 .2 .2 1.2 .3 .5 .2 .7 .1 .9 1 .7 .3 .9 .9 1 0 2.3-1.1 .9 0 .5-.4 .2-.2 .7-.3 1-1.2 .9-.5 .5-.6 .2-.3 .7-.5 .5-.8 .4-.2 1.7 0 .9-.1 .7-.3 .7-.3 .9-1.3 1-.2 .7-.5 2.3-.2 .5-.2 .2-.1 .2-.4 .7-.4 1-1.7 .7-.3 .7-1 .2-.4 .7-.5 .9-1.8 1 0 .7 .4 1.1-.1 .3-.1 .2-.2 .7-.4 .9-1.3 1-.2 .4 .1 1.9-.2 .7-.2 .5-.3 .2 0 .9 .3 1 .9 1.1 .1 1.2-.3 .9-.9 1-.4 .7-.4 1.4-.1 .2-.2 .7-.2 .7-.8 .2-.4 .7-.2 .3-.5 .4 .6 .3 .4 1.4 .4 .2 .2 .7 .4 .7 1.1 .2 .3 2.4 .5 .7 .6 .2 .1 2.3 0 .7 .5 .3 .2 .9 .3 .2 .1 .3-.1 .2-.3 .7-.4 .7-1 .2-.2 1.4 0 .3 0 .9 .2 .7 .4 1.2 .3 .4 .2 .7 .1 1 .7 1.1 .3 .3-.3 .2-.4 .7-.3 .5-.7 .2-.1 .2 .1 1.2-.2 .5-.2 1.6 0 .7 .2 .5 .8 .4 1.1 .7 .7 1 2.4 .7 .4 .7 1.5 .2 .5 .7 .5 .9 1.5 .7 .2 1 .9 .7 .3 .7 .9 .2 .4 .7 .3 .7 .7 .2 .1 1.7 .1 .7 .2 .9 1.3 .7 .4 .7 1.1 .2 .2 .7 .2 .7 .8 .3 .2 .7 .3 .9 1.2 .7 .3 .7 .7 .2 .2 1.7 .2 1.4-.1 1.1 .2 .5 .1 1.4 0 1.2-.1 .7-.4 .9-.1 .5-.1 1.4-.4 .7-.5 1.6-.2 1.4-.1 .2-.2 1.7-.5 .7 0 .4 .4 .5 .4 1.4 0 .2-.2 1 .1 .7 0 .7 .1 .7 .6 .2 .1 1.4 .3 .2-.2 .7-.2 .5-.3 1.4-.6 .7-.6 1.6-.2 1 .2 .4 0 1.2-.5 .7-.9 .7 0 .2-.2 .7-1.4 .7-.6 1-2.4 .7-.5 .9-1.8 .7-.4 .9-1 1-.4 .7-.4 1.4-.3 .2-.2 .9-.2 .5-.4 .2-.2 .7-.3 .7-.5 .3-.2 1.3-.5 .3-.1 1.1-.3 .5-.3 .7-.2 .9-1 1.2-.4 .5-.2 .9-.2 .7-.4 .7-.2 .9-1.1 .7-.3 1-1.6 .9-.4 .5-.3 1.1-.2 .3-.1 .4-.6 .7-.3 1-1.4 .9-.2 .7-.2 .9 .1 1.7 1 .7 .6 1.1 .2 1.2 .1 .9 0 .7-.1 1-.8 .9-.3 .7-.6 1.4-.3 .2 0 1.4 .2 1 .2 .9 .1 .9-.3 .7-.5 .7-.3 1-1.3 .7-.3 .9-1 .7-.3 1.6-1.6 1-2.4 .7-.7 .9-2.6 .7-.4 .9-1.5 .7-.3 1-1.6 .7-.4 .9-1.6 .7-.4 .9-1.2 1.7-.6 1.4 0 .2-.1 .7-.2 2.1-1.6 .5-.4 .7-.3 .9-.8 .7-.2 .5-.4 .4-2.6 .7-1.5 1-6 .7-1 .9-3.9 .7-.9 .5-1.5 .4-1.2 .7-.7 1-2.9 .7-.7 .9-2.7 .7-.8 .9-4 .7-1.1 1-4.6 .7-1 .9-3.7 .7-1.5 .9-4.7 .7-.8 .5-1.2 .5-.7 .7-.3 .9-.8 .7-.3 .5-.9 .4-1.1 .7-.6 .7-1 1-.8 .7-2 .2-1.1 .7-.9 .7-1.9 .2-.4 .7-.8 1-3.7 1.6-2.4 .7-.7 .7-1.9 .2-.2 .7 1 1 4 .7 1.1 .9 4.3 .7 .9 .7 3.5 .2 1.2 .7 1.2 1 4.5 1.4 1 .2 .4 1.2 .4 .2-.1 .2 .1 1 .1 .2 .2 .5 .7 .7 .2 .2 .3 .2 0 .5-.6 1.2-.5 .4 .5 1 .6 .7 .4 .7-.3 .7-.7 .2-.2 .9 .2 .7 .4 .7-.2 .5-.6 .5-.9 .9-.6 .5-.4 .2 0 1.2 0 .2 .1 .2 .2 1 .1 .4-.4 .3-.2 1.4 .1 .2 .1 .7-.2 .5-1.1 .4-1 .7-.2 .5-.5 1.2-.7 .9-1.9 .7-.4 .5-.5 1.1-.8 .7-1.9 .3-.9 .7-1.1 .9-4.4 .9-1.6 .7-1.4 1.2-.3 .5-.1 .7-.2 .9-1.2 .7-.5 .9-2.2 .7-.5 .7-2.1 .3-.8 .7-.6 .7-2 .2-.4 .7-.2 .7-.7 .2 0 .7 .1 .5 .6 .2 .4 .3 .7 .7 .9 .7 2.8 .2 1.1 .7 1.2 .9 4 .7 .9 1 3 .7 .6 .9 2.1 .7 .7 .9 3.3 .7 .9 1 3 .7 .7 .9 2.4 .7 .2 .9 1.4 .7 .5 .5 .9 0 0" clip-path="url(#p33f57dc657)" style="fill:none;stroke:#ffa500;stroke-linecap:square"/><path d="M60.3 1397.6l2.6-.1 1.6-.3 .7-.1 3.1-.2 .2-.1 .9-.2 .7-.3 1-.2 .7-.3 .9-.2 .7-.3 .9-.2 .7-.4 1-.3 .7-.3 .9-.2 .2-.1 .5-.5 .7-.2 .9-.9 .7-.2 1-.9 .7-.4 .9-1.3 .7-.3 .9-1 .7-.3 1-1.1 .7-.3 .9-.9 .7-.3 .9-.8 1-.3 .7-.4 3.9-.6 1-.3 4.4-.6 .5-.2 .9-.3 .7-.3 .9-.1 .7-.4 1-.3 .7-.5 .9-.3 .7-.5 .7-.2 .7-.5 .2-.1 1-.2 .7-.3 .9-.2 .7-.4 .9-.3 .7-.5 1-.3 .7-.4 .9-.2 .7-.3 .9-.3 1.9-1 .5-.4 .7-.2 .9-.8 .7-.2 .9-1 1.2-.3 .5-.2 .9-.2 1.6-.9 .7-.6 1-.3 .7-.3 .9-.2 .7-.4 .9-.3 .7-.4 1.2-.1 1.9-.5 .2-.1 .9-.2 .7-.5 1-.3 .7-.4 .9-.2 2.1-.9 .2-.2 .7-.2 .3-.2 .7 0 1.1-.2 .5-.1 2.8-.1 .5-.1 2.3-.1 .9-.2 3.1-.1 .2-.1 .9-.3 .7-.4 4.9-.3 3.1 0 .2-.2 .9-.2 .7-.2 1.2-.1 .5-.2 2.5-.1 2.1 1 .3 .1 .9 .2 .7 .5 .9 .3 .7 .3 1 .2 .7 .3 .9 .3 .7 .3 .9 .3 .7 .3 1.2 .2 1.9 .6 .2 .2 .7 .2 .9 .6 1 .2 .7 .5 .9 .3 .7 .4 .9 .4 .7 .4 1 .2 .7 .3 .9 .2 .7 .2 .9 .2 .7 .3 1.2 .2 .5 .2 1.4 .2 .2 0 1.4 .2 1.2 .1 3 .3 .9 .2 1.7 0 .9 .2 .7 .3 2.8 .3 1.6 .3 .5 .2 2.8 .2 1.4 0 .7-.1 2.3 .1 1 .1 1.1-.1 .5-.1 .9 0 1.9-.8 .5-.4 .9-.3 .7-.4 .9-.2 .7-.4 1.2-.2 .5-.2 1.1-.2 .5-.2 .9-.1 .7-.4 1-.2 .7-.3 1.1-.2 .5-.2 1.1-.3 .5-.2 .9-.2 .7-.4 1-.2 .7-.3 .9-.2 .7-.3 .9-.3 .7-.4 .7-.1 1-.8 .9-.3 .7-.3 .9-.2 1.9-1 .5-.3 .9-.3 .7-.3 1.4-.3 .2-.1 2.4-.1 .9-.3 1.2-.1 1.8-.6 .3-.1 .9-.2 .7-.4 .9-.2 .7-.2 1.2-.2 .5-.1 1.1-.1 3.1-1 .7-.4 .9-.3 .7-.4 .9-.3 .7-.4 .7-.3 1-.9 .7-.3 .9-1.1 .7-.3 .9-.8 .7-.2 1-1 .7-.2 .9-1 .7-.2 .9-.9 1-.4 .7-.5 .9-.3 .7-.4 .7-.2 .9-.8 .7-.2 1-.8 .7-.2 .9-.8 .7-.2 .5-.4 .4-.9 .7-.5 1-2.3 .7-.5 .9-1.8 .7-.5 .9-1.6 .7-.5 1-1.7 .7-.4 .9-1.8 .7-.5 .9-2.1 .7-.6 1-2.4 .7-.6 .9-2.2 .7-.8 .9-2.6 .7-.6 1-1.9 .7-.5 .9-1.6 .7-.5 .9-1.9 .7-.5 1-1.7 .7-.6 .9-2.2 .7-.6 .9-2 .7-.6 1-2.4 .7-.7 .9-1.9 .7-.5 .9-2.1 1-.3 .7-.3 2.8-.1 .4 .1 1 .2 .7 .3 .9-.2 .7-.3 .9-.2 .7-.4 1-.2 .7-.2 .9-.1 .5-.3 .2-.3 .9-.3 .7-.2 1.2-.2 1.4-.5 .7-.4 1.2-.3 1.6-.6 .5-.4 .9-.4 .7-.4 .9-.2 .7-.2 1-.2 .7-.5 .9-.2 .7-.2 .7-.1 .9-.9 .7-.2 1-.6 .7-.2 .9-1 .7-.2 .9-.7 .7-.2 1-1.2 .7-.4 .9-1.8 .9-.7 .7-.9 .7-.3 1-.7 .7-.3 .9-1 .7-.3 .9-1.3 .7-.3 1-1.5 .7-.4 .9-1.5 .7-.2 .9-1.1 1-.3 .4-.2 1 0 .7 .2 .2 .1 .9 .3 .7 .4 1 .2 .7 .3 .9 .2 .7 .2 .7 .2 .9 .7 .7 .2 1 .8 .7 .2 .9 .7 .9 .2 .7 .4 1 .3 .2 .2 0 0" clip-path="url(#p33f57dc657)" style="fill:none;stroke:#0000ff;stroke-linecap:square"/><path d="M60.3 1397.6l.7-1 1-2.3 1.4 0 .2-4.1 4.7 0 .2-3.9 3 0 .3-2.4 2.5 0 .3-2.2 3.2 0 .3-13.4 3.5 0 .7-15.7 .2-.5 39.7 0 .2-1.5 .7-1.9 .5-.1 19.6 0 .2-2.5 .9 0 .3-5.3 132.9 0 .7-8.2 .5 0 .2-3.2 .3 0 .7-3.9 12.3 0 .7-1.7 3.8 0 .2-26.5 1.6-15.3 7.5 0 .2-3.9 2.1-12.4 1.9 0 .7-15.1 8.9 0 .2-7.2 2.8 0 .2-6 .3 0 .7-.7 39.4 0 .2-1.3 .5 0 .7-5.9 26.6 0 0 0" clip-path="url(#p33f57dc657)" style="fill:none;stroke-dasharray:3.7,1.6;stroke-dashoffset:0;stroke:#ff0000;stroke-opacity:0.8"/><path d="M43.68 1438.93v-210.72" class="c1"/><path d="M408 1438.93v-210.72" class="c1"/><path d="M43.68 1438.93l364.32 0" class="c1"/><path d="M43.68 1228.21l364.32 0" class="c1"/><text x="225.83" y="1222.28" textLength="157.08" lengthAdjust="spacingAndGlyphs" class="c6">CALM: Price + EMA + Max</text><path d="M48.6 1276.68l121.46 0Q171.46 1276.68 171.46 1275.28v-42.1Q171.46 1231.78 170.06 1231.78l-121.46 0Q47.2 1231.78 47.2 1233.18v42.1Q47.2 1276.68 48.6 1276.68z" class="c25"/><path d="M49.92 1237.81l7.2 0 6.72 0" style="fill:none;stroke:#17becf;stroke-linecap:square"/><text x="69.6" y="1240.34" textLength="38.92" lengthAdjust="spacingAndGlyphs" class="c2">CALM Price</text><path d="M49.92 1248.37l7.2 0 6.72 0" class="c28"/><text x="69.6" y="1251.04" textLength="94.61" lengthAdjust="spacingAndGlyphs" class="c2">CALM EMA (50 day expMA)</text><path d="M49.92 1259.41l7.2 0 6.72 0" class="c26"/><text x="69.6" y="1261.74" textLength="99.06" lengthAdjust="spacingAndGlyphs" class="c2">CALM EMA (200 day expMA)</text><path d="M49.92 1269.97l7.2 0 6.72 0" class="c29"/><text x="69.6" y="1272.44" textLength="36.31" lengthAdjust="spacingAndGlyphs" class="c2">CALM Max</text><path d="M473.76 1438.93l364.32 0 0-210.72-364.32 0z" class="c5"/><path d="M490.56 1438.93v-210.72" class="c12"/><text transform="translate(477.98 1481.05) rotate(-45)" textLength="41.78" lengthAdjust="spacingAndGlyphs" class="c3">2022-01</text><path d="M532.8 1438.93v-210.72" class="c12"/><text transform="translate(520.21 1481.05) rotate(-45)" textLength="41.78" lengthAdjust="spacingAndGlyphs" class="c3">2022-07</text><path d="M576 1438.93v-210.72" class="c12"/><text transform="translate(563.14 1481.05) rotate(-45)" textLength="41.78" lengthAdjust="spacingAndGlyphs" class="c3">2023-01</text><path d="M618.24 1438.93v-210.72" class="c12"/><text transform="translate(605.37 1481.05) rotate(-45)" textLength="41.78" lengthAdjust="spacingAndGlyphs" class="c3">2023-07</text><path d="M660.96 1438.93v-210.72" class="c12"/><text transform="translate(648.3 1481.05) rotate(-45)" textLength="41.78" lengthAdjust="spacingAndGlyphs" class="c3">2024-01</text><path d="M703.68 1438.93v-210.72" class="c12"/><text transform="translate(690.76 1481.05) rotate(-45)" textLength="41.78" lengthAdjust="spacingAndGlyphs" class="c3">2024-07</text><path d="M746.4 1438.93v-210.72" class="c12"/><text transform="translate(733.69 1481.05) rotate(-45)" textLength="41.78" lengthAdjust="spacingAndGlyphs" class="c3">2025-01</text><path d="M788.64 1438.93v-210.72" class="c12"/><text transform="translate(775.92 1481.05) rotate(-45)" textLength="41.78" lengthAdjust="spacingAndGlyphs" class="c3">2025-07</text><path d="M831.36 1438.93v-210.72" class="c12"/><text transform="translate(818.82 1481.1) rotate(-45)" textLength="41.78" lengthAdjust="spacingAndGlyphs" class="c3">2026-01</text><text x="655.97" y="1494.13" textLength="23.9" lengthAdjust="spacingAndGlyphs" class="c4">Date</text><path d="M473.76 1437.01l364.32 0" class="c12"/><text x="466.84" y="1440.63" textLength="21.1" lengthAdjust="spacingAndGlyphs" class="c0">−40</text><path d="M473.76 1411.09l364.32 0" class="c12"/><text x="466.84" y="1415.15" textLength="21.1" lengthAdjust="spacingAndGlyphs" class="c0">−20</text><path d="M473.76 1385.65l364.32 0" class="c12"/><text x="466.84" y="1389.67" textLength="6.36" lengthAdjust="spacingAndGlyphs" class="c0">0</text><path d="M473.76 1360.21l364.32 0" class="c12"/><text x="466.84" y="1364.19" textLength="12.72" lengthAdjust="spacingAndGlyphs" class="c0">20</text><path d="M473.76 1334.77l364.32 0" class="c12"/><text x="466.84" y="1338.71" textLength="12.72" lengthAdjust="spacingAndGlyphs" class="c0">40</text><path d="M473.76 1309.33l364.32 0" class="c12"/><text x="466.84" y="1313.23" textLength="12.72" lengthAdjust="spacingAndGlyphs" class="c0">60</text><path d="M473.76 1283.89l364.32 0" class="c12"/><text x="466.84" y="1287.75" textLength="12.72" lengthAdjust="spacingAndGlyphs" class="c0">80</text><path d="M473.76 1258.45l364.32 0" class="c12"/><text x="466.84" y="1262.27" textLength="19.09" lengthAdjust="spacingAndGlyphs" class="c0">100</text><path d="M473.76 1233.01l364.32 0" class="c12"/><text x="466.84" y="1236.79" textLength="19.09" lengthAdjust="spacingAndGlyphs" class="c0">120</text><text x="439.8" y="1333.69" transform="rotate(-90 439.8 1333.69)" textLength="37.06" lengthAdjust="spacingAndGlyphs" class="c4">Error %</text><path d="M490.4 1385.8M491.4 1385.8v-2.5M491.8 1385.8v-4.1M492.8 1385.8v-3.3M493.3 1385.8v-2.3M493.8 1385.8v-10.8M494.7 1385.8v-7.5M495.2 1385.8v-6.5M496.2 1385.8v-2.6M498.6 1385.8v-14.9M499.5 1385.8v-12.7M500 1385.8v-10.3M501 1385.8v-10.5M501.4 1385.8v-10.6M501.9 1385.8v-14.1M502.9 1385.8v-12.7M503.4 1385.8v-10.9M504.3 1385.8v-10.9M504.8 1385.8v-13.9M506.7 1385.8v-5.9M507.7 1385.8v-8.3M508.2 1385.8v-31.4M509.1 1385.8v-25M509.6 1385.8v-21M510.1 1385.8v-20.1M511 1385.8v-21.7M511.5 1385.8v-20.9M512.5 1385.8v-45.6M513 1385.8v-37.2M513.4 1385.8v-29.4M515.8 1385.8v-20.1M516.3 1385.8v-23.2M517.3 1385.8v-12.8M517.8 1385.8v-12.8M518.2 1385.8v-13.5M519.2 1385.8v-14M519.7 1385.8v-8.6M520.6 1385.8v2.6M521.1 1385.8v1.7M521.6 1385.8v5.5M524 1385.8v15.6M524.5 1385.8v11.2M525.4 1385.8v4.3M525.9 1385.8v3.2M526.4 1385.8v2.7M527.3 1385.8v9.9M527.8 1385.8v11.2M528.8 1385.8v12.3M529.3 1385.8v9.9M529.7 1385.8v5.8M532.1 1385.8v-7.5M532.6 1385.8v-1.7M533.6 1385.8v1.3M534.1 1385.8v-5.8M534.5 1385.8v-10.8M535.5 1385.8v-11.8M536 1385.8v-12M536.9 1385.8v-11.5M537.4 1385.8v-9.1M537.9 1385.8v-13.7M540.8 1385.8v-.2M541.7 1385.8v-2.7M542.2 1385.8v-2.3M542.7 1385.8v-6.4M543.7 1385.8v-12M544.1 1385.8v-14M545.1 1385.8v-4.5M545.6 1385.8v-7.3M546.1 1385.8v-7.7M547 1385.8v-2M548.9 1385.8v-7.2M549.9 1385.8v-18.2M550.4 1385.8v-19.5M550.9 1385.8v-13.8M551.8 1385.8v-12.8M552.3 1385.8v-15.2M553.3 1385.8v-20.2M553.7 1385.8v-18.8M554.2 1385.8v-15M555.2 1385.8v1.9M558.1 1385.8v-15.5M558.5 1385.8v-15.4M559 1385.8v-9.8M560 1385.8v-1.8M560.5 1385.8v.7M561.4 1385.8v.9M561.9 1385.8v-1.4M562.4 1385.8v-2.7M563.3 1385.8v-8.4M563.8 1385.8v-2.2M566.2 1385.8v3.6M566.7 1385.8v-1.2M567.2 1385.8v-1.9M568.1 1385.8v-9.8M568.6 1385.8v-10.7M569.6 1385.8v-8.2M570.1 1385.8v-7.3M570.5 1385.8v-5.9M571.5 1385.8v1M572 1385.8v-2.9M574.4 1385.8v-10.9M574.9 1385.8v10.4M575.3 1385.8v17.3M576.3 1385.8v3.2M576.8 1385.8v4.1M577.7 1385.8v14.9M578.2 1385.8v15M578.7 1385.8v10.2M579.7 1385.8v2.1M580.1 1385.8v1.2M583 1385.8v-1M583.5 1385.8v1.2M584.5 1385.8v5.9M584.9 1385.8v8.7M585.9 1385.8v5.1M586.4 1385.8v3.4M586.9 1385.8v-11.3M587.8 1385.8v-15.9M588.3 1385.8v-11.5M589.3 1385.8v-2.8M591.2 1385.8v6.4M591.7 1385.8v3.8M592.6 1385.8v3.6M593.1 1385.8v5.5M594.1 1385.8v5.7M594.5 1385.8v8.3M595 1385.8v6M596 1385.8v3.5M596.5 1385.8v-9.2M597.4 1385.8v-15M599.8 1385.8v-4.2M600.8 1385.8v2.5M601.3 1385.8v-1.3M602.2 1385.8v7.2M602.7 1385.8v20.1M603.2 1385.8v23.5M604.1 1385.8v26.2M604.6 1385.8v25M605.6 1385.8v15.7M606.1 1385.8v20.5M608 1385.8v13.8M608.9 1385.8v9.2M609.4 1385.8v9.5M610.4 1385.8v12.3M610.8 1385.8v11.6M611.3 1385.8v17M612.3 1385.8v11.5M612.8 1385.8v5.6M613.7 1385.8v1.5M614.2 1385.8v0M617.1 1385.8v16.6M617.6 1385.8v13.9M618.5 1385.8v6.5M619 1385.8v10.1M619.5 1385.8v11.3M620.4 1385.8v12.9M620.9 1385.8v9.5M621.9 1385.8v13.3M622.4 1385.8v7.6M622.8 1385.8v7.8M625.2 1385.8v.7M625.7 1385.8v-1.1M626.7 1385.8v2.4M627.2 1385.8v4.1M627.6 1385.8v.5M628.6 1385.8v-1.2M629.1 1385.8v-1.3M630 1385.8v-5.3M630.5 1385.8v-5.4M631 1385.8v-1.9M633.4 1385.8v-6.1M633.9 1385.8v-8.6M634.8 1385.8v-4.3M635.3 1385.8v-2.3M635.8 1385.8v2.7M636.8 1385.8v.3M637.2 1385.8v-4.5M638.2 1385.8v-9.5M638.7 1385.8v-4.4M639.2 1385.8v-.9M642 1385.8v-2.1M643 1385.8v-.7M643.5 1385.8v2.1M644 1385.8v.2M644.9 1385.8v8.9M645.4 1385.8v6.4M646.4 1385.8v6.3M646.8 1385.8v3.3M647.3 1385.8v-9M648.3 1385.8v-7.7M650.2 1385.8v-10.4M651.2 1385.8v-2.9M651.6 1385.8v.7M652.1 1385.8v.4M653.1 1385.8v3.7M653.6 1385.8v-1M654.5 1385.8v-9.1M655 1385.8v-13.1M655.5 1385.8v-9.5M656.4 1385.8v-8.2M659.3 1385.8v-19.6M659.8 1385.8v-19.5M660.3 1385.8v-19.7M661.2 1385.8v-11.5M661.7 1385.8v-9.4M662.7 1385.8v-8.6M663.2 1385.8v-4.6M663.6 1385.8v-4.8M664.6 1385.8v-4.3M665.1 1385.8v-4.1M667.5 1385.8v-9.2M668 1385.8v-5.6M668.4 1385.8v-7M669.4 1385.8v-5.2M669.9 1385.8v-5.4M670.8 1385.8v-5M671.3 1385.8v-2.6M671.8 1385.8v-6.1M672.8 1385.8v-9.5M673.2 1385.8v-11.3M675.6 1385.8v-2.6M676.1 1385.8v-6.5M676.6 1385.8v-5.4M677.6 1385.8v-10.7M678 1385.8v-11.4M679 1385.8v-12.7M679.5 1385.8v-18.1M680 1385.8v-15.1M680.9 1385.8v-6.4M681.4 1385.8v-3.8M684.3 1385.8v-13.8M684.8 1385.8v-14M685.7 1385.8v-4.1M686.2 1385.8v-1.8M687.2 1385.8v-.6M687.6 1385.8v5.4M688.1 1385.8v5.8M689.1 1385.8v12.8M689.6 1385.8v9.2M690.5 1385.8v1.5M692.4 1385.8v.8M692.9 1385.8v-1.1M693.9 1385.8v-7.8M694.4 1385.8v-9.2M695.3 1385.8v-5.9M695.8 1385.8v-8.4M696.3 1385.8v-8.7M697.2 1385.8v-4.8M697.7 1385.8v1M698.7 1385.8v2.3M701.1 1385.8v-1.1M702 1385.8v-4.6M702.5 1385.8v-4.5M703.5 1385.8v-11.5M703.9 1385.8v-10.8M704.4 1385.8v-13.6M705.4 1385.8v-10.5M705.9 1385.8v-10.2M706.8 1385.8v-11.4M707.3 1385.8v-10.9M709.2 1385.8v-25.2M710.2 1385.8v-29.3M710.7 1385.8v-27.2M711.6 1385.8v-14.8M712.1 1385.8v-12.6M712.6 1385.8v-16.2M713.5 1385.8v-16.9M714 1385.8v-16.8M715 1385.8v-16.4M715.5 1385.8v-16.3M718.3 1385.8v-5.1M718.8 1385.8v-2.3M719.8 1385.8v-1.1M720.3 1385.8v-1.5M720.7 1385.8v-4.2M721.7 1385.8v-7M722.2 1385.8v-8.3M723.1 1385.8v-13.6M723.6 1385.8v-10.6M724.1 1385.8v-7.1M726.5 1385.8v-8.6M727 1385.8v-51.3M727.9 1385.8v-61.3M728.4 1385.8v-63.5M728.9 1385.8v-58.3M729.9 1385.8v-43.6M730.3 1385.8v-38.3M731.3 1385.8v-36.7M731.8 1385.8v-26.7M732.3 1385.8v-23.8M734.7 1385.8v-29.3M735.1 1385.8v-25.1M736.1 1385.8v-33.4M736.6 1385.8v-40.5M737.1 1385.8v-41.7M738 1385.8v-47M738.5 1385.8v-47.7M739.5 1385.8v-42.5M739.9 1385.8v-37.4M740.4 1385.8v-35.9M743.3 1385.8v-14.8M744.3 1385.8v-9.2M744.7 1385.8v-11.7M745.2 1385.8v-7.7M746.2 1385.8v-15.4M746.7 1385.8v-23.3M747.6 1385.8v-21.3M748.1 1385.8v-13.4M748.6 1385.8v-8.2M749.5 1385.8v-26.5M751.5 1385.8v-21M752.4 1385.8v-32.2M752.9 1385.8v-32.5M753.4 1385.8v-40.6M754.3 1385.8v-11.5M754.8 1385.8v-16.2M755.8 1385.8v-27.2M756.3 1385.8v-26.2M756.7 1385.8v-8.9M757.7 1385.8v40.9M760.6 1385.8v36.8M761.1 1385.8v48M761.5 1385.8v50.7M762.5 1385.8v46.9M763 1385.8v48.9M763.9 1385.8v19.8M764.4 1385.8v3.8M764.9 1385.8v15.3M765.9 1385.8v5.5M766.3 1385.8v-1.7M768.7 1385.8v10.6M769.2 1385.8v-1.6M769.7 1385.8v-15.4M770.7 1385.8v-5M771.1 1385.8v10.5M772.1 1385.8v14.1M772.6 1385.8v6.3M773.1 1385.8v2.5M774 1385.8v-12.6M774.5 1385.8v-10.5M776.9 1385.8v-8.3M777.4 1385.8v-14.9M777.9 1385.8v-18.7M778.8 1385.8v-8.1M779.3 1385.8v-4.5M780.3 1385.8v-.7M780.7 1385.8v-.6M781.2 1385.8v10.3M782.2 1385.8v2.2M782.7 1385.8v-10.5M785.5 1385.8v-25.7M786 1385.8v-16.9M787 1385.8v-10.8M787.4 1385.8v-6M788.4 1385.8v-16.2M788.9 1385.8v-17.9M789.4 1385.8v-19.3M790.3 1385.8v-13.1M790.8 1385.8v-7.6M791.8 1385.8v-18M793.7 1385.8v-51.5M794.2 1385.8v-33.6M795.1 1385.8v-9.7M795.6 1385.8v-16M796.6 1385.8v-9M797 1385.8v-.8M797.5 1385.8v-2.4M798.5 1385.8v-12.1M799 1385.8v-12.4M799.9 1385.8v-19.4M802.3 1385.8v-33.6M803.3 1385.8v-30.3M803.8 1385.8v-23M804.7 1385.8v-6.5M805.2 1385.8v-9.6M805.7 1385.8v-3.5M806.6 1385.8v10.3M807.1 1385.8v18.6M808.1 1385.8v33.5M808.6 1385.8v41.2M810.5 1385.8v38.5M811.4 1385.8v30.9M811.9 1385.8v34.4M812.9 1385.8v23.9M813.4 1385.8v22.8M813.8 1385.8v20.3M814.8 1385.8v33.8M815.3 1385.8v34.8M816.2 1385.8v35.4M816.7 1385.8v29.8M819.6 1385.8v13.7M820.1 1385.8v15.8M821 1385.8v21.1M821.5 1385.8v18.5v0" clip-path="url(#p842e12cd27)" style="fill:none;stroke:#800080;stroke-opacity:0.7;stroke-width:0.48"/><path d="M490.5 1385.8l.7-1.7 .9-3.7 .7 1.5 .2 1.2 .3-.3 .2-1.3 .2-7.6 .7 .9 .3 1.9 .2 0 .2 .6 .3 1.5 .9 3.2 .2 .9 .3 2.2 .2-.3 .7 0 .2-.6 .5-6 .2-10 1 1.5 .4 1.8 .3-.5 .7-.2 .2-.5 .5-.3 .2-4.1 1.2 1.1 .2 .9 .2 .3 1-.9 .2-3.6 .2 1 .3 .2 .7 2.2 .2 .4 .2 .6 .5 2.3 .9-2.7 .3-1.1 .2-23 .2 .8 .7 4.2 .3 .6 .2 2.2 .2-1 .3 .9 .7-2.6 .2 0 .5-.2 .2 .4 .7-26.8 .2-.2 .3 6.5 .2 2.5 .2 3.8 .7 5.4 .3 .8 .2 3.6 .2 1.1 .3-1.9 .7-2.1 .2-.2 .2-3.2 .3-.9 .2 .9 .7 9 .2 .4 .3-.7 .2-3 .2 1.9 .7-1.6 .3 .8 .2 1.2 .5 8.2 .7 7.6 .2-1.4 .2 1.1 .3 3.4 .2 1.2 .7 5 .5 7.3 .2-.3 .2 1.3 .7 1.6 .3-.1 .2 .9 .2-4.1 1-6.2 .2-.5 .2 0 .3 1 .2-.9 .7 2 .2 5.9 .3 1.6 .2 .7 .2 1.6 .7 .5 .3-1.5 .2 0 .2-.1 .3-3.2 .7-5.2 .2-.8 .5-6.9 .2 1.9 .7-4.7 .2 2.2 .3 .8 .2 5 .2-1 .7 4.2 .3-1.4 .4-8.9 .3-2.1 .7-.7 .2-.7 .2-3.7 .3 2.9 .2 .4 .7-.3 .2 3.2 .3-1 .2-4.1 .2-1 .7-8.1 .3 2.4 .7 16 .7 3.6 .2 .4 .2-1.3 .3 .1 .2-.3 .7-1.9 .2-1.7 .5 4.1 .2-6 .7-6.5 .3 .5 .2-2.5 .2-.1 .3-.2 .7 9.5 .2 1.6 .2-4.4 .3 .4 .2-.9 .7 3.7 .5 4.1 .2-1.2 .2 2 .7-1.7 .3 .3 .4-6 .3-6.7 .7-5 .2-.6 .2-1.4 .3 3.5 .2 1.6 .7 1.9 .7-4.3 .2-2.8 .7-2.9 .5 .7 .2 .3 .3 2.8 1.1 21 .3-.5 .2 1.4 .7-4.6 .2-3.3 .3 3 .2-3.5 .2-7.5 .7-4.9 .3 .2 .2-.7 .5 5.4 .7 3.7 .4 9.1 .5-2.8 .7 1.7 .2-2.9 .3 .9 .2 .1 .2-1.2 .7-5.2 .3-.6 .2 5.7 .2 .8 .3 5.1 .7 9.7 .2-2.7 .2-.8 .3 2.4 .2 .6 1.2-10.3 .2 0 .2-.5 .7-3.6 .3-4.4 .2-.8 .2-.4 .3 2.6 .7-.3 .2 1.7 .2-.9 .3 1.8 .2-.5 .9 7.2 .5-3.7 .2-3 .7-4.6 .3 .2 .2-.3 .2-4.1 1 2.7 .2-10.5 .2 31.8 .3 5.7 .2 2.6 .9-13.6 .3-.8 .2 2.2 .2 4.1 .7 7.7 .3 4.7 .2-3.4 .2-1.1 .3-2.7 .7-4 .4-5.7 .3 1.4 .2 3.6 .7 3.4 .2 2.2 .3-.2 1.4-10.6 .2 1.3 .2-.3 .3 2.7 .9 5.2 .2 .7 .3 2.7 .2 .4 .7-3.4 .2 1.1 .3-2.5 .4-14.9 1-5.5 .2 1.1 .5 5.2 .9 8.1 .2 .6 .3 2.7 .2 .8 .7 .3 .5 3.8 .2-2.4 .2 .2 .7 1.6 .3-1.4 .2 .5 .2 1.7 .3-1.9 .7 2.6 .2 2.2 .2 1 .5-1.8 .7-.9 .2-1.3 .3-2.7 .4-18.7 .7 1.9 .3-1.5 .7 18.5 .7-5 .2 .1 .2-1.2 .3-3.2 .2 2.2 .7 4.5 .2 2.4 .3-3.2 .2-.6 .9 8.9 .7 17.7 .3 1.2 .7 4.4 .2-.1 .2 2.6 .3-2.2 .2-3.5 .7-4.6 .5 5.8 .2 3.6 1.2-4.1 .2-1.8 .5-.8 .9-4.1 .2 2.9 .5-5 .7 6 .2-1.8 .5 2.6 .2 5.2 .7-2.7 .3-2.2 .2-.6 .2-5 .3-.3 .9-5 .2-.5 .3 2.1 .2-.8 .7 6.6 .2 3.8 .3 .1 .4 5.8 .7 .2 .3 .9 .2-3.6 .2 1.4 .3-2.4 .7-4.7 .7 6.7 .2-1.1 .7 1.3 .2 .8 .3-.7 .2-2.3 .2 2.3 .7 1.9 .3-1.4 .2-3.9 .2 3.3 .3-2.9 .7-3.4 .4-4.5 .3 .2 .2 .7 .7-4.6 .2 3.6 .3 .5 .2-2.6 .2 1.5 .7 1.8 .3 1.4 .2 .4 .2-2.5 .3-1.3 .7-.3 .2-1.7 .2 .5 .3-1 .2 1 .9-6.6 .3 .5 .4 3.1 .7-.2 .3 1.6 .2-3.6 .2 1.5 .3-2.2 .7 .7 .2-3.5 .5-3.1 .9 3.8 .2 2.4 .3-.8 .4 5 .7-4.5 .3 1.8 .2-.5 .2-4.6 1-5.5 .2 4.8 .2-.2 .3-.6 .2 3.8 .7 1.5 .5 9.3 .2 1.6 .9-9.1 .3-.5 .2-2.8 .2-.8 .3-5.6 .9 9.8 .2-.3 .3-2.5 .2 .4 .7 4.3 .2 4.7 .3 .5 .4-4.9 .7 2.3 .3-2.7 .2-.2 .5-12.8 .7 2.2 .2-1.5 .5 3.3 .2-1 .7-4.6 .2 1.1 .3-2.7 .2-.8 .2 6.2 .7 1 .3-2 .2 5.4 .2 .9 .3-1.1 .7 1.1 .2 2.2 .2-.8 .5-7.1 .9-6.4 .3-3.7 .2 .8 .9 9.1 .7-17.4 .3-3.7 .7-5.1 .2-.2 .2 1.2 .3-2 .2 .7 .7 3 .2-.1 .3-.8 .2 1 .2-2.3 .7 4.9 .5 6.4 .2-2 .3-3.8 .9 5.2 .2 2.7 .3-1.6 .2 1.2 .7-.8 .2 1.2 .3 3 .2-2.9 .2-1 .7-1.3 .3 1.2 .2-1.3 .2-3.1 .3-.1 .7-.3 .2 .3 .2 3 .3-1.9 .2 .3 .7-2.4 .5 7.6 .2-3.9 .2 .6 .7-.3 .3 2.6 .2-.2 .2-3.7 .3 0 .7-3.4 .2-.3 .2 .1 .5-3.6 .7 4.5 .5 3.6 .4 1.8 .7-.2 .5-4 .2 .3 .3 .6 .7-3.1 .4-3.9 .3 .2 .2 1 .7-2.8 .5-6.1 .2 1.7 .2 .6 .7 3.5 .3 4.9 .2-.6 .5 6.3 .7-2.5 .2 .1 .2-.5 .5-10.7 .7-1.8 .2 1.3 .3 0 .2 .2 .2-1 .7 9.6 .3 .3 .2 .6 .2 1.9 .3 .7 .7 .8 .4 6.5 .3 .4 .2 .7 .9 8 1.4-9.9 .5 1.5 .5-1.8 .7 1.6 .4-.9 .3-.1 .2-1.5 .7-2.5 .2-4.5 .3-1.5 .2-.2 .2 .5 .7 2.6 .3 .4 .2-3.1 .2 .9 .3-1.5 .7 2.5 .4 3.5 .5 6.3 .7-.7 .2 0 .3-.7 .4 1.9 .7 1 .3-1.7 .2 .7 .2-2.3 .3-.9 .7-5.8 .2 2.1 .2-1.8 .3 1.8 .2-3.4 .7-4 .2-3.4 .3 3.6 .2-3.5 .2 .1 .7 .1 .3 2.4 .2 .9 .5-2.4 .7-.1 .2 1.1 .2-1 .3 .3 .2-.4 .7-13.9 .5 1 .2-5.3 .2 .7 .7-6.2 .5 1.1 .2 .3 .3 3.4 .7 8.3 .2 .6 .2 1.2 .3-4.1 .2-.1 .7 .9 .2-2.2 .3-1 .2 .5 .2 1.6 1-2.3 .2 .2 .2 .4 .3-.1 .7 1 .2-.2 .2 .6 .5 2 .7 2.3 .5 8 .2-.8 .2-1.9 1 5 .2-1.6 .2 .6 .3-3 .7-1.3 .2-1.4 .2-.4 .5-1.6 .7-4.8 .2 2.3 .3 .4 .2 1.4 .2 2.2 .7-2.4 .3 1 .2-1.5 .2 2.8 .3-.5 .7-1.2 .2 0 .2-.4 .3-43.6 .2-2.9 1.2-15.5 .2-2.6 .2 4.7 .7 17.8 .3-4.9 .2 4.1 .2-.5 .3-2.3 .7 2.4 .2 1.8 .2 7.2 .3 1.8 .2 .4 .7-5.4 .2-.5 .7-2.6 .7-.5 .3 .1 .2-2.1 .2 5.5 .3 .3 .7-9.4 .2-7.2 .7-4.2 .9-7.2 .5-2.6 .2 1.6 .7 2.1 .5 3.9 .2 0 .2 .3 .7-26.2 .3 5.2 .2 2 .2 6.5 .3 .1 1.1 20.7 .3 7.6 .2-.3 .7 6.4 .2-.4 .3-1.5 .2 5 .2-.3 .7-4 1-11.9 .7 2.4 .4 8.2 .5 5.8 .7-17.7 .2-1 .3 1.6 .2-6 .2-15.9 1.2 17.6 .5 10.6 .9-19.7 .2 2.4 .3-12.6 .2 3.2 .7-2.2 .2 31 .3-1.4 .2-2.9 .2 1.4 1-15.3 .4 7.8 .3 13.3 .7 53 .2 .7 .2 2.9 .3-.8 .2 3 .7 5.4 .5 4.8 .2 .3 .2 1.9 .7-5.3 .7 20.7 .3 .7 .7-3.5 .7 8.8 .2-3.2 1.2-38.4 .2 3.2 .2 9.5 .7-4.2 .5-9.7 .2-1.7 .3 5.4 .7 0 .2-3 .5 17.2 .2-4.9 .7 .7 .2 2 .5-21.4 .2-6.2 .7 2.6 .7 23.9 .3-1.5 .7 6.2 .4-7 .3 .7 1.1-19.2 .3 4.4 .2-2.6 .2 5.6 .7 7.8 .3-.2 .2 3.5 .2-.8 .3 3.7 .7-16 .2-1.2 .5-9.7 .2-.6 .7 1.3 .2 8.8 .3-.7 .4 6.9 .7 1.4 .3 2.5 .2-1.9 .2 4.1 .3 7.5 .7-8.9 .2 1.2 .2-8.9 .3-4 .2 1 .7 10.7 .2-2.6 .5 6.3 .2-.1 .7-13.1 .5-17.7 .2 2.2 .3 5.8 .7 7.8 .2-2 .5 4.7 .9-10.6 .2-4.6 .3 2.2 .2-1.5 .2-.7 .7 4.9 .3 .8 .2 4.7 .2 .7 .3-1.2 .7-9.6 .4-11.4 .3 .8 .2-9.6 1.2-19.6 .2 5.7 .2 10.3 .7-23.6 .3 46.1 .2-7.3 .2 .7 .3-8.5 1.1 23.7 .3 .5 .2-1.6 .9-9.7 .3 1.2 .2-1.6 .2-.4 1.2-10.9 .2-.2 .3-1.6 .7 .5 .4-4.8 .3-7.1 .2-1.3 .7 7.7 .2-5.4 1.4 23 .3-3.1 .2 .2 .2 1.5 .3 4.9 .9 15 .2 4 .3 5.9 .2 11.6 .9 8.8 .3 7.8 .4 3.3 .7 9.7 .3-6.6 .2 3.2 .2-.2 .3-1.5 .7-.7 .2-4.5 .2 2.3 .3 3.5 .2-7.9 .7-.9 .2 .7 .3-.2 .2-1.4 .2 .4 1.2 18.4 .2 .4 .3-3 .7 5.7 .4-3.7 .3-1.9 .2 6.5 .7-1.1 .2-3 .3-.6 .4-4.2 .7-8 .5 4.4 .2 .8 .3-6.3 .7 12.3 .4-1.6 0 0" clip-path="url(#p842e12cd27)" style="fill:none;stroke:#0000ff;stroke-linecap:square"/><path d="M474 1385.89l364.32 0" clip-path="url(#p842e12cd27)" style="fill:none;stroke:#000000;stroke-width:1.5;stroke-linecap:square"/><path d="M473.76 1438.93v-210.72" class="c1"/><path d="M838.08 1438.93v-210.72" class="c1"/><path d="M473.76 1438.93l364.32 0" class="c1"/><path d="M473.76 1228.21l364.32 0" class="c1"/><text x="655.97" y="1222.28" textLength="125.27" lengthAdjust="spacingAndGlyphs" class="c6">CALM: EMA Error (%)</text><path d="M747.74 1255.28l85.46 0Q834.6 1255.28 834.6 1253.88v-20.7Q834.6 1231.78 833.2 1231.78l-85.46 0Q746.34 1231.78 746.34 1233.18v20.7Q746.34 1255.28 747.74 1255.28z" class="c25"/><path d="M749.28 1237.81l6.72 0 7.2 0" class="c26"/><text x="768.74" y="1240.34" textLength="62.8" lengthAdjust="spacingAndGlyphs" class="c2">200d expMA error</text><path d="M749.28 1251.25l13.92 0 0-5.28-13.92 0z" class="c30"/><text x="768.74" y="1251.04" textLength="58.35" lengthAdjust="spacingAndGlyphs" class="c2">50d expMA error</text><path d="M903.84 1438.93l364.32 0 0-210.72-364.32 0z" class="c5"/><defs><path id="m28945a187d" d="M920.6-275v0l.7 0 .2 0 .3 0 .2 0 .2 0 .7 3.7 .3 3 .2-.9 .2-3.2 .3-2.6 .7 2 .2 4.4 .2-.2 .3 1.2 .2 3.4 .7 5.3 .2 2.3 .3 2.3 .2 5.2 .2-.8 .7 0 .3-1.4 .2-8.7 .2-6.2 .3-8.8 .7 2 .2 .7 .2 1.8 .3 1.7 .2-1.5 .7-.9 .2-1.5 .3-.8 .2-.5 .2-1 .7 .9 .3-.2 .2 .4 .2 1.6 .3 .4 .7-2.3 .2-.7 .2-.1 .3 1.7 .2 0 .7 4.4 .2 .4 .3 .9 .2 2.6 .2 2 .7-4.6 .3-2.3 .2-2.8 .2-2.3 .3 .7 .7 7.4 .2 .6 .2 3.4 .3-2.5 .2 1 .7-5.7 .2-.7 .3-1 .2-.9 .2 0 .7-2.3 .3 0 .2 10 .2 3.3 .3 5.5 .7 8.3 .2 .5 .2 5.4 .3 1.1 .2-3.8 .7-4.4 .2-1.1 .3-6 .2-2.3 .2 .6 .7 14.4 .3 .1 .2-1.9 .2-5.6 .3 2.5 .7-3.4 .2 .6 .2 1.4 .3 6.1 .2 6.5 .7 12.2 .2-2.6 .3 1.3 .2 5.5 .2 1.6 .7 8.1 .3 5.2 .2 6.8 .2-.8 .3 2.2 .7 2.5 .2-.2 .2 1.5 .3-7.1 .2-3 .7-7.7 .2-1.1 .3-.2 .2 1.3 .2-1.7 .7 3.2 .3 9.7 .2 2.7 .2 1.1 .3 2.5 .7 1 .2-2.6 .2-.1 .3-.3 .2-5.4 .7-9 .2-1.5 .3-7.8 .2-4.4 .2 2.8 .7-8.1 .3 3.2 .2 1 .2 8.2 .3-2 .7 7 .2-2.8 .2-9.5 .3-6 .2-3.9 .7-1.5 .2-1.6 .3-6.8 .2 4.5 .2 .2 .7-.9 .3 5 .2-2.1 .2-7.5 .3-2.1 .7-14.2 .2 3.5 .2 9.9 .3 8.9 .2 6.8 .7 5.9 .2 .3 .3-2.5 .2 0 .2-.7 .7-3.7 .3-3.1 .2 3.3 .2 3 .3-10.4 .7-11.4 .2 .4 .2-4.7 .3-.6 .2-1 .7 15.7 .2 2.3 .3-7.7 .2 .3 .2-2 .7 5.9 .3 3.2 .2 3.1 .2-2.3 .3 3 .7-3.1 .2 .3 .2-5.7 .3-5.1 .2-11.9 .7-8.8 .2-1.7 .3-3 .2 5.3 .2 2.3 .7 2.6 .3-2.7 .2-2.2 .2-3.8 .3-1.5 .7 0 .2 0 .2 0 .3 0 .2 4 .7 20.4 .2 7.1 .3 5.7 .2-1.1 .2 2 .7-7.7 .3-5.7 .2 4.6 .2-6.1 .3-12.7 .7-8.6 .2-.3 .2-1.6 .3 3.4 .2 4.3 .7 5.6 .2 6.9 .3 7.3 .2-3 .2-2.2 .7 2.6 .3-5.2 .2 1.2 .2-.2 .3-2.2 .7-9 .2-1.4 .2 8.9 .3 .9 .2 8.1 .7 15.7 .2-4.6 .3-1.4 .2 3.8 .2 .9 .7-9.5 .3-4.3 .2-3.7 .2-.3 .3-1 .7-6.2 .2-7.7 .2-1.7 .3-1.1 .2 3.9 .7-.9 .2 2.5 .3-1.9 .2 2.6 .2-1.2 .7 8.8 .3 2.4 .2-3.3 .2-3.2 .3-5.3 .7-7.9 .2-.2 .2-.8 .3-.4 .2 .6 .7 2.9 .2-3.5 .3 48.7 .2 8.7 .2 4 .7-16.2 .3-4.9 .2-1.5 .2 3.2 .3 6.3 .7 11.8 .2 7.4 .2-5.2 .3-1.7 .2-4.1 .7-6.3 .2-5.6 .3-3.4 .2 2 .2 5.5 .7 5.2 .3 3.2 .2-.3 .2-2.8 .3-4 .7-7.9 .2-1.9 .2 1.9 .3-.6 .2 3.9 .7 6.4 .2 1.5 .3 1.1 .2 4.2 .2 .7 .7-5.3 .3 1.6 .2-3.7 .2-9.6 .3-13.7 .7-6.6 .2-2.6 .2 1.4 .3 3.8 .2 3.6 .7 9 .2 3.2 .3 .7 .2 4 .2 1.2 .7 .3 .3 3.9 .2 2 .2-3.7 .3 .2 .7 2.4 .2-2.2 .2 .8 .3 2.7 .2-3 .7 3.9 .2 3.4 .3 1.7 .2-1.7 .2-1.1 .7-1.3 .3-2 .2-4.2 .2-15.8 .3-13.5 .7 2.6 .2-2.6 .2 8.7 .3 10.3 .2 8.9 .7-7.7 .2 0 .3-1.9 .2-5.1 .2 3.1 .7 6.8 .3 3.6 .2-4.9 .2-1 .3 3.3 .7 10.2 .2 9.3 .2 12.5 .3 6.1 .2 2.1 .7 7.2 .2 .2 .3 4.4 .2-2.9 .2-5.1 .7-6.8 .3 3.9 .2 5.7 .2 5.9 .3-.9 .7-3.2 .2-1.1 .2-2.4 .3-.3 .2-.4 .7-5 .2-.7 .3 4.7 .2-2.9 .2-4.3 .7 9.6 .3-2.6 .2 2.9 .2 1.9 .3 8.3 .7-3.9 .2-3 .2-.5 .3-7.5 .2-.2 .7-5.6 .2-1.8 .3-.6 .2 3.4 .2-1 .7 10.3 .3 6.2 .2 .4 .2 4.2 .3 5.6 .7 .8 .2 1.7 .2-5.1 .3 2.6 .2-3.3 .7-7.1 .2 3.8 .3 3 .2 4.6 .2-1.3 .7 2.4 .3 1.7 .2-.7 .2-3.2 .3 4 .7 3.4 .2-1.8 .2-5.7 .3 5.5 .2-4.1 .7-5 .2-3.5 .3-2.8 .2 .6 .2 1.2 .7-6.8 .3 5.7 .2 1 .2-3.8 .3 2.6 .7 3 .2 2.4 .2 .8 .3-3.6 .2-1.8 .7-.1 .2-2.5 .3 1 .2-1.3 .2 1.7 .7-8.3 .3-1.7 .2 .9 .2 2.4 .3 2.7 .7-.2 .2 2.6 .2-5.4 .3 2.5 .2-3.4 .7 1.3 .2-5.3 .3-2.2 .2-2.6 .2 1.5 .7 4.5 .3 3.8 .2-1.2 .2 4.1 .3 3.9 .7-6.7 .2 2.9 .2-.8 .3-6.9 .2-2.1 .7-6.4 .2 7.4 .3-.2 .2-1 .2 6 .7 2.4 .3 8.8 .2 5.9 .2 2.8 .3-3.3 .7-10.3 .2-.6 .2-4.3 .3-1.1 .2-8.5 .7 10.2 .2 5 .3-.4 .2-3.7 .2 .8 .7 6.7 .3 7.4 .2 1.1 .2-4 .3-3.1 .7 3.7 .2-4 .2-.2 .3-8 .2-11.5 .7 3.3 .2-2.2 .3 3 .2 2 .2-1.4 .7-7.2 .3 1.6 .2-4.2 .2-1.3 .3 9.5 .7 1.6 .2-3.2 .2 8.4 .3 1.5 .2-1.7 .7 1.9 .2 3.4 .3-1.1 .2-6 .2-4.8 .7-8.3 .3-1.7 .2-5.9 .2 1.1 .3 3 .7 10.9 .2-9.5 .2-12.9 .3-5 .2-5.9 .7-8.2 .2-.7 .3 1.3 .2-3.4 .2 .6 .7 4.3 .3-.5 .2-1.7 .2 1.2 .3-3.9 .7 7.1 .2 3.7 .2 5.6 .3-3.3 .2-6.1 .7 6 .2 1.5 .3 3.9 .2-2.6 .2 1.5 .7-1.4 .3 1.7 .2 4.4 .2-4.6 .3-1.8 .7-2.2 .2 1.7 .2-2.3 .3-5.1 .2-.3 .7-.8 .2 .1 .3 4.4 .2-3.1 .2 .1 .7-3.9 .3 5.7 .2 5.5 .2-6.2 .3 .6 .7-.7 .2 3.8 .2-.4 .3-5.9 .2-.3 .7-5.5 .2-.7 .3-.3 .2-3.8 .2-2.4 .7 6.6 .3 3.4 .2 1.7 .2 .9 .3 1.3 .7-.5 .2-4.3 .2-2.4 .3 .2 .2 .6 .7-5 .2-4.2 .3-2.5 .2-.1 .2 1.3 .7-4.7 .3-5.3 .2-5 .2 2.2 .3 .3 .7 5 .2 7.3 .2-1.3 .3 4.5 .2 4.7 .7-4.2 .2-.1 .3-1.1 .2-9.3 .2-7.8 .7-3.4 .3 1.7 .2-.6 .2-.2 .3-1.9 .7 14.4 .2 .2 .2 .6 .3 2.6 .2 .8 .7 .9 .2 5.2 .3 4.5 .2 .5 .2 .9 .7 8.8 .3 3.4 .2-2.7 .2-1.5 .3-3.8 .7-7.6 .2 .9 .2 1.2 .3-1.3 .2-1.8 .7 2.3 .2-1.1 .3-.6 .2-.3 .2-2.6 .7-3.9 .3-7.2 .2-2.6 .2-.6 .3 .4 .7 3.7 .2 .4 .2-5 .3 1 .2-2.6 .7 3.5 .2 1.9 .3 2.9 .2 5.8 .2 3.6 .7-1.2 .3-.1 .2-1.3 .2 1.2 .3 1.5 .7 1.5 .2-2.8 .2 1 .3-3.8 .2-1.5 .7-9.1 .2 2.9 .3-3 .2 2.6 .2-5.6 .7-6.4 .3-5.6 .2 5.1 .2-5.7 .3-.3 .7-.2 .2 3.4 .2 1 .3-1.8 .2-2.6 .7-.7 .2 1.4 .3-1.9 .2 .1 .2-1 .7-1 .3 .1 .2 .3 .2-.4 .3 .4 .7-.4 .2 .3 .2 0 .3-.3 .2 4.1 .7 10.9 .2 .4 .3 1.2 .2-6.2 .2-.7 .7 .8 .3-3.6 .2-1.8 .2 0 .3 1.8 .7-3 .2-1.3 .2-.4 .3 .1 .2-.7 .7 .8 .2-.7 .3 .3 .2 1.2 .2 .5 .7 2.7 .3 5.1 .2 5.2 .2-1.6 .3-3 .7 4.4 .2 1.8 .2-2.5 .3 .5 .2-4.6 .7-2.1 .2-2.4 .3-1 .2-1.7 .2-1.3 .7-3.2 .3 2.7 .2 .1 .2 1.4 .3 2.5 .7-3.7 .2 1 .2-2.5 .3 3.4 .2-1.2 .7-2 .2-.4 .3-1 .2-.3 .2 0 .7 0 .3 0 .2 0 .2 0 .3 4.1 .7 18.1 .2-6.1 .2 3.6 .3-1.4 .2-3.3 .7 1.8 .2 1.1 .3 6.9 .2 1.3 .2-.4 .7-6.4 .3-1.3 .2-1.8 .2-1.6 .3-1.6 .7-1.4 .2-.7 .2-3.1 .3 5.2 .2-.5 .7-10.8 .2-1.7 .3 0 .2 0 .2 0 .7 0 .3 0 .2 0 .2 0 .3 .6 .7 1 .2 1.5 .2 .5 .3-.9 .2-.6 .7-2.1 .2 3.7 .3 .8 .2 5 .2-.9 .7 9.6 .3 4.1 .2 2.8 .2 6.2 .3-1 .7 5.3 .2-1.1 .2-2.1 .3 4 .2-.9 .7-4.3 .2-3.7 .3-4.7 .2-4.1 .2-1.4 .7 1.5 .3 3.9 .2 2.2 .2 1.9 .3 2.1 .7-16.9 .2-1.7 .2 .7 .3-6.4 .2-4.6 .7 7.9 .2 3.4 .3 1.9 .2 4.4 .2 3.5 .7-15.1 .3-4.1 .2 1.3 .2-3.2 .3 1.9 .7-1.9 .2 26.1 .2-1.9 .3-3.2 .2 .5 .7-11.4 .2-3.4 .3 2.2 .2 3 .2 10.9 .7 45.3 .3 .4 .2 2.4 .2-.8 .3 2.4 .7 4.6 .2 2.6 .2 1.4 .3 .3 .2 1.6 .7-4.7 .2 5.9 .3 6.9 .2 5.2 .2 .7 .7-2.8 .3 2.8 .2 2.6 .2 2.6 .3-2.7 .7-20.2 .2-8.2 .2-5 .3 2.6 .2 8 .7-3.7 .2-4.1 .3-4.6 .2-1.7 .2 4.5 .7-.2 .3-2.7 .2 8.3 .2 6.3 .3-4.3 .7 .5 .2 1.6 .2-11.8 .3-7 .2-5.6 .7 1.9 .2 6.4 .3 4.8 .2 8.8 .2-1.3 .7 5.3 .3-3.6 .2-2.6 .2 .5 .3-3.5 .7-10.2 .2-3.5 .2 3.6 .3-2.5 .2 4.7 .7 6.5 .2-.3 .3 3 .2-.8 .2 3.1 .7-14 .3-1.2 .2-5.3 .2-3.7 .3-.8 .7 .8 .2 7.3 .2-.8 .3 3.5 .2 2.1 .7 1.1 .2 2 .3-1.9 .2 3.5 .2 6.4 .7-7.8 .3 .9 .2-7.8 .2-3.7 .3 .6 .7 9.1 .2-2.4 .2 3.3 .3 1.9 .2-.1 .7-11.6 .2-8.7 .3-7.1 .2 1.5 .2 4.7 .7 6.5 .3-2 .2 1.6 .2 2 .3-2.5 .7-7.1 .2-4.3 .2 1.5 .3-1.6 .2-.9 .7 4 .2 .3 .3 3.8 .2 .4 .2-1.3 .7-8.6 .3-4.7 .2-5.9 .2 .2 .3-8.7 .7-11 .2-3.1 .2-2.9 .3 4.3 .2 8.3 .7-12.6 .2 38.2 .3-6.5 .2 .1 .2-7.5 .7 12.2 .3 5.2 .2 1.5 .2 .2 .3-1.6 .7-6.4 .2-2.4 .2 .7 .3-1.8 .2-.7 .7-6.2 .2-3 .3-1.2 .2-.6 .2-1.8 .7 0 .3-3.1 .2-1.9 .2-6.5 .3-1.6 .7 5.9 .2-5.1 .2 2.6 .3 1.8 .2 3.7 .7 9.3 .2-3 .2-.3 .3 .9 .2 3.8 .7 8.3 .2 3.8 .3 3.1 .2 4.9 .2 9.6 .7 5 .3 2.4 .2 6.6 .2 2 .3 1.1 .7 8.3 .2-5.3 .2 2.9 .3 0 .2-1.1 .7-.4 .2-3.7 .3 2.1 .2 3.1 .2-6.4 .7-.7 .3 .7 .2 0 .2-1.1 .3 .4 .7 9.7 .2 3.8 .2 2.6 .3 .6 .2-2.3 .7 5.1 .2-1.6 .3-1 .2-1.3 .2 5.7 .7-.6 .3-2.3 .2-.2 .2-1.6 .3-1.5 .7-6.5 .2 2 .2 2 .3 .9 .2-5.1 .7 10.5 .2-.6 .3-.3 0-88.5 0 0-.3 0-.2 0-.7 0-.2 0-.3 0-.2 0-.2 0-.7 0-.3 0-.2 0-.2 0-.3 0-.7 0-.2 0-.2 0-.3 0-.2 0-.7 0-.2 0-.3 0-.2 0-.2 0-.7 0-.3 0-.2 0-.2 0-.3 0-.7 0-.2 0-.2 0-.3 0-.2 0-.7 0-.2 0-.3 0-.2 0-.2 0-.7 0-.3 0-.2 0-.2 0-.3 0-.7 0-.2 0-.2 0-.3 0-.2 0-.7 0-.2 0-.3 0-.2 0-.2 0-.7 0-.2 0-.3 0-.2 0-.2 0-.7 0-.3 0-.2 0-.2 0-.3 0-.7 0-.2 0-.2 0-.3 0-.2 0-.7 0-.2 0-.3 0-.2 0-.2 0-.7 0-.3 0-.2 0-.2 0-.3 0-.7 0-.2 0-.2 0-.3 0-.2 0-.7 0-.2 0-.3 0-.2 0-.2 0-.7 0-.3 0-.2 0-.2 0-.3 0-.7 0-.2 0-.2 0-.3 0-.2 0-.7 0-.2 0-.3 0-.2 0-.2 0-.7 0-.3 0-.2 0-.2 0-.3 0-.7 0-.2 0-.2 0-.3 0-.2 0-.7 0-.2 0-.3 0-.2 0-.2 0-.7 0-.3 0-.2 0-.2 0-.3 0-.7 0-.2 0-.2 0-.3 0-.2 0-.7 0-.2 0-.3 0-.2 0-.2 0-.7 0-.3 0-.2 0-.2 0-.3 0-.7 0-.2 0-.2 0-.3 0-.2 0-.7 0-.2 0-.3 0-.2 0-.2 0-.7 0-.3 0-.2 0-.2 0-.3 0-.7 0-.2 0-.2 0-.3 0-.2 0-.7 0-.2 0-.3 0-.2 0-.2 0-.7 0-.3 0-.2 0-.2 0-.3 0-.7 0-.2 0-.2 0-.3 0-.2 0-.7 0-.2 0-.3 0-.2 0-.2 0-.7 0-.3 0-.2 0-.2 0-.3 0-.7 0-.2 0-.2 0-.3 0-.2 0-.7 0-.2 0-.3 0-.2 0-.2 0-.7 0-.3 0-.2 0-.2 0-.3 0-.7 0-.2 0-.2 0-.3 0-.2 0-.7 0-.2 0-.3 0-.2 0-.2 0-.7 0-.3 0-.2 0-.2 0-.3 0-.7 0-.2 0-.2 0-.3 0-.2 0-.7 0-.2 0-.3 0-.2 0-.2 0-.7 0-.3 0-.2 0-.2 0-.3 0-.7 0-.2 0-.2 0-.3 0-.2 0-.7 0-.2 0-.3 0-.2 0-.2 0-.7 0-.3 0-.2 0-.2 0-.3 0-.7 0-.2 0-.2 0-.3 0-.2 0-.7 0-.2 0-.3 0-.2 0-.2 0-.7 0-.3 0-.2 0-.2 0-.3 0-.7 0-.2 0-.2 0-.3 0-.2 0-.7 0-.2 0-.3 0-.2 0-.2 0-.7 0-.3 0-.2 0-.2 0-.3 0-.7 0-.2 0-.2 0-.3 0-.2 0-.7 0-.2 0-.3 0-.2 0-.2 0-.7 0-.3 0-.2 0-.2 0-.3 0-.7 0-.2 0-.2 0-.3 0-.2 0-.7 0-.2 0-.3 0-.2 0-.2 0-.7 0-.3 0-.2 0-.2 0-.3 0-.7 0-.2 0-.2 0-.3 0-.2 0-.7 0-.2 0-.3 0-.2 0-.2 0-.7 0-.3 0-.2 0-.2 0-.3 0-.7 0-.2 0-.2 0-.3 0-.2 0-.7 0-.2 0-.3 0-.2 0-.2 0-.7 0-.3 0-.2 0-.2 0-.3 0-.7 0-.2 0-.2 0-.3 0-.2 0-.7 0-.2 0-.3 0-.2 0-.2 0-.7 0-.3 0-.2 0-.2 0-.3 0-.7 0-.2 0-.2 0-.3 0-.2 0-.7 0-.2 0-.3 0-.2 0-.2 0-.7 0-.3 0-.2 0-.2 0-.3 0-.7 0-.2 0-.2 0-.3 0-.2 0-.7 0-.2 0-.3 0-.2 0-.2 0-.7 0-.3 0-.2 0-.2 0-.3 0-.7 0-.2 0-.2 0-.3 0-.2 0-.7 0-.2 0-.3 0-.2 0-.2 0-.7 0-.3 0-.2 0-.2 0-.3 0-.7 0-.2 0-.2 0-.3 0-.2 0-.7 0-.2 0-.3 0-.2 0-.2 0-.7 0-.3 0-.2 0-.2 0-.3 0-.7 0-.2 0-.2 0-.3 0-.2 0-.7 0-.2 0-.3 0-.2 0-.2 0-.7 0-.3 0-.2 0-.2 0-.3 0-.7 0-.2 0-.2 0-.3 0-.2 0-.7 0-.2 0-.3 0-.2 0-.2 0-.7 0-.3 0-.2 0-.2 0-.3 0-.7 0-.2 0-.2 0-.3 0-.2 0-.7 0-.2 0-.3 0-.2 0-.2 0-.7 0-.3 0-.2 0-.2 0-.3 0-.7 0-.2 0-.2 0-.3 0-.2 0-.7 0-.2 0-.3 0-.2 0-.2 0-.7 0-.3 0-.2 0-.2 0-.3 0-.7 0-.2 0-.2 0-.3 0-.2 0-.7 0-.2 0-.3 0-.2 0-.2 0-.7 0-.3 0-.2 0-.2 0-.3 0-.7 0-.2 0-.2 0-.3 0-.2 0-.7 0-.2 0-.3 0-.2 0-.2 0-.7 0-.3 0-.2 0-.2 0-.3 0-.7 0-.2 0-.2 0-.3 0-.2 0-.7 0-.2 0-.3 0-.2 0-.2 0-.7 0-.3 0-.2 0-.2 0-.3 0-.7 0-.2 0-.2 0-.3 0-.2 0-.7 0-.2 0-.3 0-.2 0-.2 0-.7 0-.3 0-.2 0-.2 0-.3 0-.7 0-.2 0-.2 0-.3 0-.2 0-.7 0-.2 0-.3 0-.2 0-.2 0-.7 0-.3 0-.2 0-.2 0-.3 0-.7 0-.2 0-.2 0-.3 0-.2 0-.7 0-.2 0-.3 0-.2 0-.2 0-.7 0-.3 0-.2 0-.2 0-.3 0-.7 0-.2 0-.2 0-.3 0-.2 0-.7 0-.2 0-.3 0-.2 0-.2 0-.7 0-.3 0-.2 0-.2 0-.3 0-.7 0-.2 0-.2 0-.3 0-.2 0-.7 0-.2 0-.3 0-.2 0-.2 0-.7 0-.3 0-.2 0-.2 0-.3 0-.7 0-.2 0-.2 0-.3 0-.2 0-.7 0-.2 0-.3 0-.2 0-.2 0-.7 0-.3 0-.2 0-.2 0-.3 0-.7 0-.2 0-.2 0-.3 0-.2 0-.7 0-.2 0-.3 0-.2 0-.2 0-.7 0-.3 0-.2 0-.2 0-.3 0-.7 0-.2 0-.2 0-.3 0-.2 0-.7 0-.2 0-.3 0-.2 0-.2 0-.7 0-.3 0-.2 0-.2 0-.3 0-.7 0-.2 0-.2 0-.3 0-.2 0-.7 0-.2 0-.3 0-.2 0-.2 0-.7 0-.3 0-.2 0-.2 0-.3 0-.7 0-.2 0-.2 0-.3 0-.2 0-.7 0-.2 0-.3 0-.2 0-.2 0-.7 0-.3 0-.2 0-.2 0-.3 0-.7 0-.2 0-.2 0-.3 0-.2 0-.7 0-.2 0-.3 0-.2 0-.2 0-.7 0-.3 0-.2 0-.2 0-.3 0-.7 0-.2 0-.2 0-.3 0-.2 0-.7 0-.2 0-.3 0-.2 0-.2 0-.7 0-.3 0-.2 0-.2 0-.3 0-.7 0-.2 0-.2 0-.3 0-.2 0-.7 0-.2 0-.3 0-.2 0-.2 0-.7 0-.3 0-.2 0-.2 0-.3 0-.7 0-.2 0-.2 0-.3 0-.2 0-.7 0-.2 0-.3 0-.2 0-.2 0-.7 0-.3 0-.2 0-.2 0-.3 0-.7 0-.2 0-.2 0-.3 0-.2 0-.7 0-.2 0-.3 0-.2 0-.2 0-.7 0-.3 0-.2 0-.2 0-.3 0-.7 0-.2 0-.2 0-.3 0-.2 0-.7 0-.2 0-.3 0-.2 0-.2 0-.7 0-.3 0-.2 0-.2 0-.3 0-.7 0-.2 0-.2 0-.3 0-.2 0-.7 0-.2 0-.3 0-.2 0-.2 0-.7 0-.3 0-.2 0-.2 0-.3 0-.7 0-.2 0-.2 0-.3 0-.2 0-.7 0-.2 0-.3 0-.2 0-.2 0-.7 0-.3 0-.2 0-.2 0-.3 0-.7 0-.2 0-.2 0-.3 0-.2 0-.7 0-.2 0-.3 0-.2 0-.2 0-.7 0-.3 0-.2 0-.2 0-.3 0-.7 0-.2 0-.2 0-.3 0-.2 0-.7 0-.2 0-.3 0-.2 0-.2 0-.7 0-.3 0-.2 0-.2 0-.3 0-.7 0-.2 0-.2 0-.3 0-.2 0-.7 0-.2 0-.3 0-.2 0-.2 0-.7 0-.3 0-.2 0-.2 0-.3 0-.7 0-.2 0-.2 0-.3 0-.2 0-.7 0-.2 0-.3 0-.2 0-.2 0-.7 0-.3 0-.2 0-.2 0-.3 0-.7 0-.2 0-.2 0-.3 0-.2 0-.7 0-.2 0-.3 0-.2 0-.2 0-.7 0-.3 0-.2 0-.2 0-.3 0-.7 0-.2 0-.2 0-.3 0-.2 0-.7 0-.2 0-.3 0-.2 0-.2 0-.7 0-.3 0-.2 0-.2 0-.3 0-.7 0-.2 0-.2 0-.3 0-.2 0-.7 0-.2 0-.3 0-.2 0-.2 0-.7 0-.3 0-.2 0-.2 0-.3 0-.7 0-.2 0-.2 0-.3 0-.2 0-.7 0-.2 0-.3 0-.2 0-.2 0-.7 0-.3 0-.2 0-.2 0-.3 0-.7 0-.2 0-.2 0-.3 0-.2 0-.7 0-.2 0-.3 0-.2 0-.2 0-.7 0-.3 0-.2 0-.2 0-.3 0-.7 0-.2 0-.2 0-.3 0-.2 0-.7 0-.2 0-.3 0-.2 0-.2 0-.7 0-.3 0-.2 0-.2 0-.3 0-.7 0-.2 0-.2 0-.3 0-.2 0-.7 0-.2 0-.3 0-.2 0-.2 0-.7 0-.3 0-.2 0-.2 0-.3 0-.7 0-.2 0-.2 0-.3 0-.2 0-.7 0-.2 0-.3 0-.2 0-.2 0-.7 0-.3 0-.2 0-.2 0-.3 0-.7 0-.2 0-.2 0-.3 0-.2 0-.7 0-.2 0-.3 0-.2 0-.2 0-.7 0-.3 0-.2 0-.2 0-.3 0-.7 0-.2 0-.2 0-.3 0-.2 0-.7 0-.2 0-.3 0-.2 0-.2 0-.7 0-.3 0-.2 0-.2 0-.3 0-.7 0-.2 0-.2 0-.3 0-.2 0-.7 0-.2 0-.3 0-.2 0-.2 0-.7 0-.3 0-.2 0-.2 0-.3 0-.7 0-.2 0-.2 0-.3 0-.2 0-.7 0z"/></defs><g clip-path="url(#p06ddb4ae2d)"><use href="#m28945a187d" x="0" y="1503.25" class="c31"/></g><path d="M920.64 1438.93v-210.72" class="c18"/><text transform="translate(908.12 1481.05) rotate(-45)" textLength="41.78" lengthAdjust="spacingAndGlyphs" class="c3">2022-01</text><path d="M962.88 1438.93v-210.72" class="c18"/><text transform="translate(950.35 1481.05) rotate(-45)" textLength="41.78" lengthAdjust="spacingAndGlyphs" class="c3">2022-07</text><path d="M1006.08 1438.93v-210.72" class="c18"/><text transform="translate(993.28 1481.05) rotate(-45)" textLength="41.78" lengthAdjust="spacingAndGlyphs" class="c3">2023-01</text><path d="M1048.32 1438.93v-210.72" class="c18"/><text transform="translate(1035.51 1481.05) rotate(-45)" textLength="41.78" lengthAdjust="spacingAndGlyphs" class="c3">2023-07</text><path d="M1091.04 1438.93v-210.72" class="c18"/><text transform="translate(1078.44 1481.05) rotate(-45)" textLength="41.78" lengthAdjust="spacingAndGlyphs" class="c3">2024-01</text><path d="M1133.76 1438.93v-210.72" class="c18"/><text transform="translate(1120.9 1481.05) rotate(-45)" textLength="41.78" lengthAdjust="spacingAndGlyphs" class="c3">2024-07</text><path d="M1176.48 1438.93v-210.72" class="c18"/><text transform="translate(1163.83 1481.05) rotate(-45)" textLength="41.78" lengthAdjust="spacingAndGlyphs" class="c3">2025-01</text><path d="M1218.72 1438.93v-210.72" class="c18"/><text transform="translate(1206.06 1481.05) rotate(-45)" textLength="41.78" lengthAdjust="spacingAndGlyphs" class="c3">2025-07</text><path d="M1261.92 1438.93v-210.72" class="c18"/><text transform="translate(1248.96 1481.1) rotate(-45)" textLength="41.78" lengthAdjust="spacingAndGlyphs" class="c3">2026-01</text><text x="1086.11" y="1494.13" textLength="23.9" lengthAdjust="spacingAndGlyphs" class="c4">Date</text><path d="M903.84 1432.69l364.32 0" class="c18"/><text x="896.98" y="1436.66" textLength="21.1" lengthAdjust="spacingAndGlyphs" class="c0">−60</text><path d="M903.84 1398.61l364.32 0" class="c18"/><text x="896.98" y="1402.57" textLength="21.1" lengthAdjust="spacingAndGlyphs" class="c0">−50</text><path d="M903.84 1364.53l364.32 0" class="c18"/><text x="896.98" y="1368.48" textLength="21.1" lengthAdjust="spacingAndGlyphs" class="c0">−40</text><path d="M903.84 1330.45l364.32 0" class="c18"/><text x="896.98" y="1334.39" textLength="21.1" lengthAdjust="spacingAndGlyphs" class="c0">−30</text><path d="M903.84 1296.37l364.32 0" class="c18"/><text x="896.98" y="1300.3" textLength="21.1" lengthAdjust="spacingAndGlyphs" class="c0">−20</text><path d="M903.84 1262.29l364.32 0" class="c18"/><text x="896.98" y="1266.21" textLength="21.1" lengthAdjust="spacingAndGlyphs" class="c0">−10</text><path d="M903.84 1228.21l364.32 0" class="c18"/><text x="896.98" y="1232.12" textLength="6.36" lengthAdjust="spacingAndGlyphs" class="c0">0</text><text x="869.88" y="1333.69" transform="rotate(-90 869.88 1333.69)" textLength="65.78" lengthAdjust="spacingAndGlyphs" class="c4">Drawdown %</text><path d="M920.6 1228.3l1.6 0 .7 3.7 .3 2.9 .2-.8 .5-5.8 .7 2 .2 4.4 .2-.3 .3 1.2 .2 3.5 .9 7.6 .3 2.2 .2 5.3 .2-.8 .7-.1 .3-1.4 .7-23.6 .9 2.7 .5 3.4 .2-1.4 .7-.9 .2-1.6 .7-2.2 .7 .9 .3-.2 .2 .3 .2 1.7 .3 .3 .9-3 .2 0 .3 1.7 .2 0 .7 4.4 .2 .4 .3 .9 .4 4.5 1-6.8 .4-5.1 .3 .7 .7 7.4 .2 .5 .2 3.5 .3-2.5 .2 .9 .7-5.7 .5-1.6 .2-1 .2 .1 .7-2.3 .3 0 .2 10 .2 3.2 .3 5.5 .7 8.3 .2 .6 .2 5.4 .3 1 .2-3.8 .9-5.4 .3-6 .2-2.4 .2 .6 .7 14.5 .3 0 .2-1.8 .2-5.7 .3 2.5 .7-3.4 .2 .6 .2 1.4 .5 12.6 .7 12.3 .2-2.7 .3 1.4 .2 5.4 .2 1.7 .7 8.1 .5 12 .2-.8 .3 2.1 .7 2.6 .2-.3 .2 1.6 .3-7.1 .2-3.1 .7-7.6 .2-1.2 .3-.2 .2 1.4 .2-1.8 .7 3.2 .3 9.8 .2 2.6 .2 1.2 .3 2.5 .7 .9 .2-2.6 .2 0 .3-.4 .2-5.3 .7-9 .2-1.6 .5-12.1 .2 2.8 .7-8.2 .3 3.3 .2 1 .2 8.2 .3-2 .7 6.9 .2-2.7 .5-15.5 .2-3.9 .7-1.6 .2-1.6 .3-6.7 .2 4.4 .2 .2 .7-.9 .3 5 .2-2 .2-7.5 .3-2.1 .7-14.3 .2 3.6 .7 25.5 .7 5.9 .2 .3 .3-2.4 .2-.1 .2-.7 .7-3.6 .3-3.2 .4 6.4 .3-10.4 .7-11.4 .2 .3 .2-4.6 .3-.6 .2-1 .7 15.6 .2 2.4 .3-7.8 .2 .3 .2-2 .7 5.9 .5 6.4 .2-2.3 .3 3 .7-3.1 .2 .3 .5-10.8 .2-11.9 1.2-13.5 .2 5.3 .2 2.2 .7 2.7 1-10.2 1.4 0 .2 3.9 1.2 33.3 .2-1.2 .2 2.1 .7-7.7 .3-5.8 .2 4.6 .2-6.1 .3-12.7 .7-8.5 .2-.3 .2-1.6 .5 7.7 .7 5.6 .5 14.2 .4-5.3 .7 2.6 .3-5.2 .2 1.3 .2-.3 .3-2.2 .7-8.9 .2-1.5 .2 8.9 .3 .9 .2 8.2 .7 15.6 .2-4.5 .3-1.5 .2 3.9 .2 .9 1-13.8 .2-3.7 .2-.3 .3-1.1 .7-6.2 .2-7.7 .5-2.7 .2 3.9 .7-1 .2 2.5 .3-1.9 .2 2.6 .2-1.1 1 11.2 .4-6.6 .3-5.2 .7-8 .2-.1 .2-.9 .3-.3 .2 .5 .7 2.9 .2-3.4 .3 48.6 .2 8.8 .2 4 1-21.2 .2-1.4 .2 3.2 .3 6.3 .7 11.8 .2 7.3 .2-5.1 .3-1.7 .2-4.2 .7-6.2 .5-9 .2 2 .2 5.5 .7 5.1 .3 3.3 .2-.3 1.4-16.6 .2 1.8 .3-.6 .2 4 .9 7.9 .3 1 .2 4.2 .2 .8 .7-5.4 .3 1.7 .2-3.8 .5-23.3 .9-9.1 .2 1.3 .5 7.5 .9 12.1 .3 .7 .2 4.1 .2 1.2 .7 .3 .5 5.9 .2-3.7 .3 .2 .7 2.3 .2-2.1 .2 .7 .3 2.7 .2-3 .7 4 .2 3.4 .3 1.6 .4-2.7 .7-1.3 .3-2 .2-4.3 .5-29.2 .7 2.6 .2-2.6 .7 27.9 .7-7.8 .2 .1 .3-2 .2-5.1 .2 3.1 .7 6.9 .3 3.6 .2-4.9 .2-1.1 1 13.6 .7 27.8 .9 9.3 .2 .2 .3 4.5 .2-2.9 .2-5.1 .7-6.9 .5 9.7 .2 5.8 .3-.9 .9-4.2 .2-2.5 .5-.6 .7-5 .2-.8 .3 4.8 .4-7.2 .7 9.6 .3-2.6 .4 4.7 .3 8.4 .7-3.9 .2-3.1 .2-.5 .3-7.5 .2-.1 .9-7.5 .3-.5 .2 3.4 .2-1.1 .7 10.4 .3 6.2 .2 .4 .5 9.7 .7 .8 .2 1.7 .2-5 .3 2.5 .2-3.3 .7-7 .7 11.4 .2-1.3 .7 2.3 .3 1.7 .2-.6 .2-3.3 .3 4 .7 3.4 .2-1.7 .2-5.8 .3 5.6 .2-4.2 .7-4.9 .5-6.4 .2 .6 .2 1.3 .7-6.9 .3 5.8 .2 .9 .2-3.7 .3 2.5 .7 3.1 .2 2.3 .2 .9 .3-3.7 .2-1.7 .7-.2 .2-2.5 .3 1 .2-1.3 .2 1.7 1-9.9 .2 .9 .5 5 .7-.1 .2 2.6 .2-5.5 .3 2.6 .2-3.4 .7 1.3 .2-5.4 .5-4.7 .9 5.9 .3 3.9 .2-1.2 .5 8 .7-6.8 .2 2.9 .2-.7 .3-7 .9-8.5 .2 7.4 .3-.2 .2-.9 .2 6 .7 2.4 .5 14.6 .2 2.9 1-13.6 .2-.7 .2-4.3 .3-1.1 .2-8.5 .7 10.2 .2 5 .3-.3 .2-3.8 .2 .8 .7 6.8 .3 7.4 .2 1.1 .5-7.2 .7 3.7 .2-4 .2-.1 .5-19.6 .7 3.3 .2-2.2 .5 5.1 .2-1.5 .7-7.2 .3 1.6 .2-4.2 .2-1.3 .3 9.5 .7 1.6 .2-3.1 .2 8.4 .3 1.5 .2-1.7 .7 1.9 .2 3.4 .3-1.2 .4-10.8 1-9.9 .2-6 .2 1.1 .3 3.1 .7 10.9 .7-27.4 .2-5.9 .7-8.3 .2-.7 .3 1.4 .2-3.4 .2 .6 .7 4.2 .3-.5 .2-1.7 .2 1.2 .3-3.9 .7 7.1 .2 3.8 .2 5.6 .3-3.4 .2-6 .9 7.5 .3 3.9 .2-2.7 .2 1.5 .7-1.3 .3 1.6 .2 4.5 .2-4.6 .3-1.8 .7-2.2 .2 1.7 .2-2.4 .3-5 .9-1.2 .2 .2 .3 4.4 .2-3.2 .2 .2 .7-3.9 .5 11.1 .2-6.2 .3 .7 .7-.7 .2 3.8 .2-.4 .3-5.9 .2-.3 .7-5.6 .2-.7 .3-.2 .4-6.3 .7 6.6 .3 3.4 .4 2.7 .3 1.2 .7-.5 .4-6.6 .3 .2 .2 .6 .7-5.1 .5-6.6 .2-.1 .2 1.2 .7-4.6 .5-10.4 .2 2.2 .3 .4 .7 5 .2 7.2 .2-1.3 .5 9.2 .7-4.1 .2-.1 .3-1.1 .4-17.2 .7-3.3 .3 1.6 .2-.6 .2-.1 .3-1.9 .7 14.4 .2 .2 .2 .6 .3 2.6 .2 .8 .7 .9 .5 9.7 .2 .5 .2 .9 1 12.2 1.4-15.6 .4 2 .5-3 .7 2.3 .5-1.8 .2-.2 .2-2.6 .7-4 .3-7.1 .2-2.7 .2-.6 .3 .5 .7 3.7 .2 .3 .2-5 .3 1 .2-2.5 .7 3.4 .2 1.9 .3 3 .4 9.4 .7-1.3 .3-.1 .2-1.2 .5 2.6 .7 1.6 .2-2.9 .2 1 .3-3.7 .2-1.6 .7-9.1 .2 3 .3-3 .2 2.6 .2-5.7 .7-6.3 .3-5.6 .2 5.1 .2-5.8 .3-.2 .7-.2 .2 3.3 .2 1.1 .5-4.4 .7-.7 .2 1.4 .3-2 .2 .1 .2-1 .7-.9 .3 0 .2 .3 .2-.3 .3 .4 .7-.4 .2 .3 .2 0 .3-.3 .9 15 .2 .4 .3 1.1 .2-6.1 .2-.7 .7 .7 .3-3.5 .2-1.9 .2 .1 .3 1.7 1.1-4.6 .3 .1 .2-.8 .7 .9 .2-.8 .3 .3 .2 1.2 .2 .6 .7 2.6 .5 10.3 .2-1.6 .3-2.9 .9 6.2 .2-2.6 .3 .5 .2-4.5 .7-2.1 .2-2.4 .3-1 .4-3.1 .7-3.1 .3 2.6 .2 .1 .2 1.4 .3 2.6 .7-3.7 .2 1 .2-2.6 .3 3.4 .2-1.1 1.2-3.5 .2-.2 1.6 0 .3 4 .7 18.2 .2-6.1 .2 3.6 .3-1.4 .2-3.3 .7 1.8 .2 1 .3 6.9 .2 1.3 .2-.3 1-7.8 .7-5 .9-2 .2-3.1 .3 5.1 .2-.4 .7-10.8 .2-1.7 2.1 0 .3 .5 .7 1.1 .2 1.5 .2 .5 .5-1.5 .7-2.1 .2 3.7 .3 .8 .2 5 .2-1 1.2 16.6 .2 6.2 .3-1 .7 5.2 .2-1 .2-2.1 .3 4 .2-.9 .7-4.3 .9-13.9 .7 1.5 .5 6 .5 4.1 .7-16.9 .2-1.7 .2 .6 .5-10.9 1.2 13.1 .4 7.9 1-19.1 .2 1.3 .2-3.2 .3 1.9 .7-1.9 .2 26 .2-1.8 .3-3.2 .2 .5 .9-14.8 .5 5.2 .2 10.8 .7 45.4 .3 .4 .2 2.4 .2-.8 .3 2.4 .7 4.6 .4 4 .3 .3 .2 1.6 .7-4.7 .7 18 .2 .7 .7-2.9 .7 8 .3-2.7 1.1-33.4 .3 2.6 .2 8.1 .7-3.8 .5-8.7 .2-1.6 .2 4.5 .7-.3 .3-2.7 .4 14.7 .3-4.4 .7 .6 .2 1.6 .5-18.9 .2-5.6 .7 1.9 .7 20.1 .2-1.3 .7 5.2 .5-6.2 .2 .5 1.2-17.1 .2 3.6 .3-2.5 .2 4.7 .7 6.5 .2-.3 .3 2.9 .2-.8 .2 3.1 .7-13.9 .3-1.3 .4-8.9 .3-.9 .7 .9 .2 7.3 .2-.8 .5 5.6 .7 1 .2 2.1 .3-1.9 .2 3.4 .2 6.4 .7-7.7 .3 .8 .2-7.8 .2-3.7 .3 .7 .7 9 .2-2.3 .5 5.2 .2-.2 .7-11.5 .5-15.9 .2 1.6 .2 4.7 .7 6.4 .3-1.9 .4 3.6 1-9.6 .2-4.3 .2 1.5 .5-2.6 .7 4 .2 .3 .3 3.9 .2 .4 .2-1.3 .7-8.7 .5-10.5 .2 .2 .3-8.8 1.1-16.9 .3 4.3 .2 8.2 .7-12.5 .2 38.1 .3-6.5 .2 .2 .2-7.5 1.2 18.9 .2 .1 .3-1.5 .9-8.9 .2 .7 .3-1.7 .2-.7 1.2-10.4 .2-.6 .2-1.8 .7-.1 .5-5 .2-6.5 .3-1.6 .7 5.9 .2-5.1 .7 8.1 .7 9.3 .2-3 .2-.2 .3 .9 .2 3.7 .9 12.1 .3 3.2 .2 4.8 .2 9.6 1 7.5 .2 6.6 .5 3 .7 8.4 .2-5.3 .2 2.8 .3 0 .2-1.1 .7-.3 .2-3.7 .3 2.1 .2 3.1 .2-6.5 .7-.6 .3 .7 .2-.1 .2-1.1 .3 .5 1.1 16 .3 .7 .2-2.3 .7 5 .5-2.5 .2-1.4 .2 5.8 .7-.7 .3-2.2 .2-.3 .5-3 .7-6.5 .4 4 .3 .8 .2-5.1 .7 10.5 .2-.6 .3-.2 0 0" clip-path="url(#p06ddb4ae2d)" style="fill:none;stroke:#ff0000;stroke-linecap:square"/><path d="M903.84 1438.93v-210.72" class="c1"/><path d="M1268.16 1438.93v-210.72" class="c1"/><path d="M903.84 1438.93l364.32 0" class="c1"/><path d="M903.84 1228.21l364.32 0" class="c1"/><text x="1086.11" y="1222.28" textLength="279.86" lengthAdjust="spacingAndGlyphs" class="c6">CALM: Drawdown (%), min drawdown -32.34%</text><defs><clipPath id="pc4d85e0ccc"><rect x="43.7" y="22.32" width="364.26" height="210.81"/></clipPath><clipPath id="p397197523c"><rect x="473.84" y="22.32" width="364.26" height="210.81"/></clipPath><clipPath id="pc22fca0723"><rect x="903.98" y="22.32" width="364.26" height="210.81"/></clipPath><clipPath id="p60d9bf6f06"><rect x="43.7" y="263.51" width="364.26" height="210.81"/></clipPath><clipPath id="p67d664b031"><rect x="473.84" y="263.51" width="364.26" height="210.81"/></clipPath><clipPath id="p8021e7059d"><rect x="903.98" y="263.51" width="364.26" height="210.81"/></clipPath><clipPath id="pe2675835e2"><rect x="43.7" y="504.7" width="364.26" height="210.81"/></clipPath><clipPath id="pc9510ec6dc"><rect x="473.84" y="504.7" width="364.26" height="210.81"/></clipPath><clipPath id="pabe7ba468a"><rect x="903.98" y="504.7" width="364.26" height="210.81"/></clipPath><clipPath id="p3d0efd7cfc"><rect x="43.7" y="745.9" width="364.26" height="210.81"/></clipPath><clipPath id="p1cf3fc685e"><rect x="473.84" y="745.9" width="364.26" height="210.81"/></clipPath><clipPath id="pd025329bad"><rect x="903.98" y="745.9" width="364.26" height="210.81"/></clipPath><clipPath id="pde26894b99"><rect x="43.7" y="987.09" width="364.26" height="210.81"/></clipPath><clipPath id="p5504c2c820"><rect x="473.84" y="987.09" width="364.26" height="210.81"/></clipPath><clipPath id="paca8a204ca"><rect x="903.98" y="987.09" width="364.26" height="210.81"/></clipPath><clipPath id="p33f57dc657"><rect x="43.7" y="1228.28" width="364.26" height="210.81"/></clipPath><clipPath id="p842e12cd27"><rect x="473.84" y="1228.28" width="364.26" height="210.81"/></clipPath><clipPath id="p06ddb4ae2d"><rect x="903.98" y="1228.28" width="364.26" height="210.81"/></clipPath></defs></svg></body></html>
